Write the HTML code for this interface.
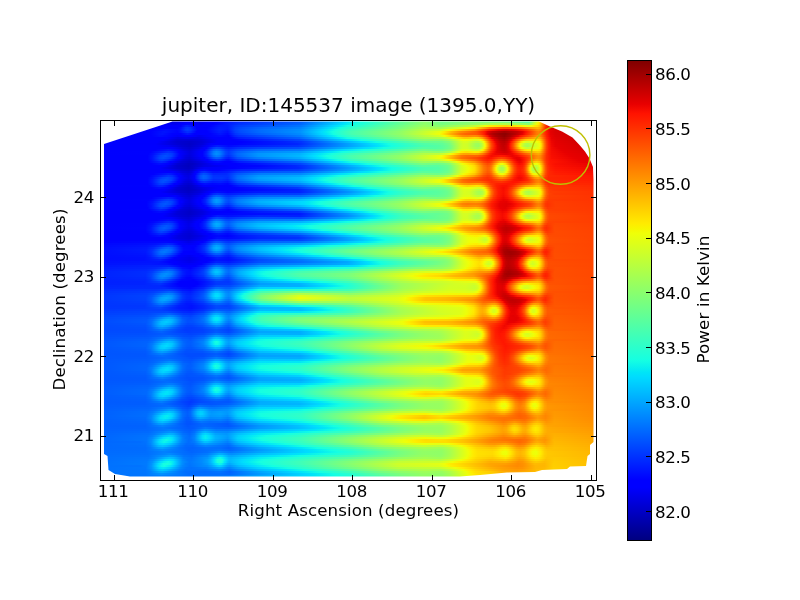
<!DOCTYPE html>
<html><head><meta charset="utf-8"><title>jupiter, ID:145537 image</title>
<style>html,body{margin:0;padding:0;background:#fff}svg{display:block}</style></head>
<body>
<svg width="800" height="600" viewBox="0 0 800 600">
<rect width="800" height="600" fill="#fff"/>
<defs><linearGradient id="jet" x1="0" y1="1" x2="0" y2="0"><stop offset="0" stop-color="#000080"/><stop offset="0.11" stop-color="#00f"/><stop offset="0.125" stop-color="#00f"/><stop offset="0.34" stop-color="#00dbff"/><stop offset="0.35" stop-color="#00e5f7"/><stop offset="0.375" stop-color="#15ffe2"/><stop offset="0.64" stop-color="#efff08"/><stop offset="0.65" stop-color="#f7f600"/><stop offset="0.66" stop-color="#ffec00"/><stop offset="0.89" stop-color="#ff1300"/><stop offset="0.91" stop-color="#e80000"/><stop offset="1" stop-color="#800000"/></linearGradient><filter id="soft" x="-5%" y="-5%" width="110%" height="110%"><feGaussianBlur stdDeviation="0.7"/></filter></defs>
<defs><linearGradient id="r0"><stop offset="0" stop-color="#00f"/><stop offset="0.108" stop-color="#00f"/><stop offset="0.151" stop-color="#0000e3"/><stop offset="0.173" stop-color="#0000fe"/><stop offset="0.197" stop-color="#0000eb"/><stop offset="0.219" stop-color="#00f"/><stop offset="0.233" stop-color="#0001ff"/><stop offset="0.274" stop-color="#0025ff"/><stop offset="0.401" stop-color="#005bff"/><stop offset="0.492" stop-color="#00daff"/><stop offset="0.5" stop-color="#00e5f7"/><stop offset="0.524" stop-color="#16ffe1"/><stop offset="0.654" stop-color="#8dff6a"/><stop offset="0.688" stop-color="#70ff87"/><stop offset="0.744" stop-color="#81ff76"/><stop offset="0.815" stop-color="#7dff7a"/><stop offset="0.862" stop-color="#5bff9c"/><stop offset="0.864" stop-color="#5cff9b"/><stop offset="0.868" stop-color="#71ff86"/><stop offset="0.876" stop-color="#c0ff37"/><stop offset="0.882" stop-color="#e9ff0d"/><stop offset="0.884" stop-color="#f8f400"/><stop offset="0.888" stop-color="#ffc800"/><stop offset="0.898" stop-color="#ff3800"/><stop offset="0.902" stop-color="#ff1400"/><stop offset="0.906" stop-color="#e60000"/><stop offset="0.912" stop-color="#d40000"/><stop offset="0.918" stop-color="#ce0000"/><stop offset="1" stop-color="#ba0000"/></linearGradient><linearGradient id="r1"><stop offset="0" stop-color="#00f"/><stop offset="0.114" stop-color="#00f"/><stop offset="0.151" stop-color="#0000ef"/><stop offset="0.163" stop-color="#00f"/><stop offset="0.175" stop-color="#0006ff"/><stop offset="0.189" stop-color="#00f"/><stop offset="0.199" stop-color="#0000f3"/><stop offset="0.215" stop-color="#00f"/><stop offset="0.227" stop-color="#00f"/><stop offset="0.278" stop-color="#0030ff"/><stop offset="0.401" stop-color="#0064ff"/><stop offset="0.484" stop-color="#00d9ff"/><stop offset="0.492" stop-color="#00e5f7"/><stop offset="0.514" stop-color="#15ffe2"/><stop offset="0.654" stop-color="#90ff67"/><stop offset="0.688" stop-color="#77ff7f"/><stop offset="0.757" stop-color="#94ff63"/><stop offset="0.787" stop-color="#aaff4d"/><stop offset="0.815" stop-color="#aeff49"/><stop offset="0.831" stop-color="#a7ff50"/><stop offset="0.864" stop-color="#87ff6f"/><stop offset="0.868" stop-color="#97ff60"/><stop offset="0.874" stop-color="#c7ff30"/><stop offset="0.88" stop-color="#eaff0d"/><stop offset="0.884" stop-color="#ffea00"/><stop offset="0.886" stop-color="#ffd900"/><stop offset="0.89" stop-color="#ffa700"/><stop offset="0.896" stop-color="#ff5100"/><stop offset="0.9" stop-color="#ff2400"/><stop offset="0.902" stop-color="#ff1400"/><stop offset="0.906" stop-color="#e80000"/><stop offset="0.912" stop-color="#d60000"/><stop offset="0.918" stop-color="#d00000"/><stop offset="1" stop-color="#b00"/></linearGradient><linearGradient id="r2"><stop offset="0" stop-color="#00f"/><stop offset="0.161" stop-color="#00f"/><stop offset="0.171" stop-color="#001dff"/><stop offset="0.175" stop-color="#0021ff"/><stop offset="0.191" stop-color="#00f"/><stop offset="0.221" stop-color="#0001ff"/><stop offset="0.239" stop-color="#0017ff"/><stop offset="0.256" stop-color="#001aff"/><stop offset="0.27" stop-color="#0034ff"/><stop offset="0.28" stop-color="#003eff"/><stop offset="0.401" stop-color="#0073ff"/><stop offset="0.472" stop-color="#00daff"/><stop offset="0.48" stop-color="#00e6f7"/><stop offset="0.498" stop-color="#15ffe1"/><stop offset="0.652" stop-color="#99ff5e"/><stop offset="0.686" stop-color="#88ff6f"/><stop offset="0.73" stop-color="#a9ff4e"/><stop offset="0.755" stop-color="#c0ff37"/><stop offset="0.777" stop-color="#eeff08"/><stop offset="0.785" stop-color="#feed00"/><stop offset="0.819" stop-color="#ffd400"/><stop offset="0.845" stop-color="#ffeb00"/><stop offset="0.856" stop-color="#f0fd07"/><stop offset="0.864" stop-color="#e2ff15"/><stop offset="0.87" stop-color="#ecff0a"/><stop offset="0.876" stop-color="#ffe900"/><stop offset="0.882" stop-color="#ffdc00"/><stop offset="0.886" stop-color="#ffc600"/><stop offset="0.89" stop-color="#ff9c00"/><stop offset="0.898" stop-color="#ff3500"/><stop offset="0.902" stop-color="#ff1400"/><stop offset="0.906" stop-color="#e90100"/><stop offset="0.912" stop-color="#d80000"/><stop offset="0.918" stop-color="#d20000"/><stop offset="1" stop-color="#bd0000"/></linearGradient><linearGradient id="r3"><stop offset="0" stop-color="#00f"/><stop offset="0.155" stop-color="#00f"/><stop offset="0.161" stop-color="#000cff"/><stop offset="0.171" stop-color="#0030ff"/><stop offset="0.175" stop-color="#0036ff"/><stop offset="0.181" stop-color="#002cff"/><stop offset="0.193" stop-color="#0001ff"/><stop offset="0.215" stop-color="#00f"/><stop offset="0.239" stop-color="#001dff"/><stop offset="0.256" stop-color="#0019ff"/><stop offset="0.272" stop-color="#003fff"/><stop offset="0.282" stop-color="#004aff"/><stop offset="0.322" stop-color="#0063ff"/><stop offset="0.401" stop-color="#0082ff"/><stop offset="0.46" stop-color="#00dbff"/><stop offset="0.468" stop-color="#02e7f5"/><stop offset="0.484" stop-color="#16ffe1"/><stop offset="0.504" stop-color="#2dffc9"/><stop offset="0.601" stop-color="#76ff81"/><stop offset="0.652" stop-color="#a7ff4f"/><stop offset="0.686" stop-color="#a4ff52"/><stop offset="0.74" stop-color="#ecff0b"/><stop offset="0.755" stop-color="#ffe800"/><stop offset="0.785" stop-color="#ff7800"/><stop offset="0.813" stop-color="#ff5100"/><stop offset="0.821" stop-color="#ff5100"/><stop offset="0.843" stop-color="#ff6500"/><stop offset="0.866" stop-color="#ff9e00"/><stop offset="0.882" stop-color="#ffb600"/><stop offset="0.886" stop-color="#ffac00"/><stop offset="0.888" stop-color="#ff9e00"/><stop offset="0.898" stop-color="#ff3000"/><stop offset="0.902" stop-color="#ff1300"/><stop offset="0.906" stop-color="#ea0100"/><stop offset="0.912" stop-color="#da0000"/><stop offset="0.918" stop-color="#d40000"/><stop offset="1" stop-color="#be0000"/></linearGradient><linearGradient id="r4"><stop offset="0" stop-color="#00f"/><stop offset="0.104" stop-color="#00f"/><stop offset="0.132" stop-color="#000eff"/><stop offset="0.153" stop-color="#0004ff"/><stop offset="0.159" stop-color="#000bff"/><stop offset="0.171" stop-color="#0036ff"/><stop offset="0.175" stop-color="#003bff"/><stop offset="0.181" stop-color="#0031ff"/><stop offset="0.195" stop-color="#00f"/><stop offset="0.213" stop-color="#00f"/><stop offset="0.239" stop-color="#0020ff"/><stop offset="0.256" stop-color="#0015ff"/><stop offset="0.27" stop-color="#003eff"/><stop offset="0.28" stop-color="#004dff"/><stop offset="0.322" stop-color="#006cff"/><stop offset="0.403" stop-color="#008fff"/><stop offset="0.449" stop-color="#00daff"/><stop offset="0.458" stop-color="#02e7f5"/><stop offset="0.474" stop-color="#17ffe0"/><stop offset="0.506" stop-color="#3effb8"/><stop offset="0.601" stop-color="#83ff74"/><stop offset="0.654" stop-color="#b9ff3e"/><stop offset="0.684" stop-color="#c7ff30"/><stop offset="0.702" stop-color="#eeff09"/><stop offset="0.71" stop-color="#ffec00"/><stop offset="0.755" stop-color="#ff9700"/><stop offset="0.785" stop-color="#ff1e00"/><stop offset="0.789" stop-color="#ff1400"/><stop offset="0.803" stop-color="#e70000"/><stop offset="0.819" stop-color="#d70000"/><stop offset="0.833" stop-color="#e70000"/><stop offset="0.845" stop-color="#fa0e00"/><stop offset="0.86" stop-color="#ff3a00"/><stop offset="0.88" stop-color="#ff8e00"/><stop offset="0.884" stop-color="#ff9500"/><stop offset="0.888" stop-color="#ff8700"/><stop offset="0.9" stop-color="#ff1c00"/><stop offset="0.906" stop-color="#ea0200"/><stop offset="0.918" stop-color="#d70000"/><stop offset="1" stop-color="#bf0000"/></linearGradient><linearGradient id="r5"><stop offset="0" stop-color="#00f"/><stop offset="0.1" stop-color="#00f"/><stop offset="0.128" stop-color="#0013ff"/><stop offset="0.155" stop-color="#0002ff"/><stop offset="0.175" stop-color="#002fff"/><stop offset="0.181" stop-color="#0026ff"/><stop offset="0.193" stop-color="#00f"/><stop offset="0.215" stop-color="#00f"/><stop offset="0.239" stop-color="#001dff"/><stop offset="0.256" stop-color="#000eff"/><stop offset="0.272" stop-color="#003fff"/><stop offset="0.28" stop-color="#004aff"/><stop offset="0.322" stop-color="#006bff"/><stop offset="0.403" stop-color="#0093ff"/><stop offset="0.445" stop-color="#00daff"/><stop offset="0.454" stop-color="#02e8f5"/><stop offset="0.468" stop-color="#15ffe2"/><stop offset="0.504" stop-color="#45ffb2"/><stop offset="0.603" stop-color="#8eff69"/><stop offset="0.686" stop-color="#eaff0d"/><stop offset="0.694" stop-color="#ffeb00"/><stop offset="0.708" stop-color="#ffba00"/><stop offset="0.726" stop-color="#ff8a00"/><stop offset="0.759" stop-color="#f50"/><stop offset="0.775" stop-color="#ff1800"/><stop offset="0.781" stop-color="#e50000"/><stop offset="0.791" stop-color="#c10000"/><stop offset="0.815" stop-color="#9f0000"/><stop offset="0.841" stop-color="#c20000"/><stop offset="0.852" stop-color="#e20000"/><stop offset="0.858" stop-color="#fd1100"/><stop offset="0.86" stop-color="#ff1900"/><stop offset="0.88" stop-color="#ff7800"/><stop offset="0.884" stop-color="#ff8200"/><stop offset="0.888" stop-color="#f70"/><stop offset="0.9" stop-color="#ff1a00"/><stop offset="0.908" stop-color="#e50000"/><stop offset="0.918" stop-color="#d90000"/><stop offset="1" stop-color="#c00000"/></linearGradient><linearGradient id="r6"><stop offset="0" stop-color="#00f"/><stop offset="0.1" stop-color="#00f"/><stop offset="0.124" stop-color="#0012ff"/><stop offset="0.144" stop-color="#0001ff"/><stop offset="0.161" stop-color="#00f"/><stop offset="0.175" stop-color="#0017ff"/><stop offset="0.189" stop-color="#00f"/><stop offset="0.221" stop-color="#0001ff"/><stop offset="0.241" stop-color="#0015ff"/><stop offset="0.256" stop-color="#0006ff"/><stop offset="0.272" stop-color="#0035ff"/><stop offset="0.28" stop-color="#0040ff"/><stop offset="0.322" stop-color="#0060ff"/><stop offset="0.403" stop-color="#008cff"/><stop offset="0.449" stop-color="#00dcfe"/><stop offset="0.456" stop-color="#01e7f6"/><stop offset="0.47" stop-color="#15ffe2"/><stop offset="0.506" stop-color="#46ffb1"/><stop offset="0.607" stop-color="#94ff63"/><stop offset="0.684" stop-color="#efff08"/><stop offset="0.69" stop-color="#feed00"/><stop offset="0.706" stop-color="#ffb100"/><stop offset="0.726" stop-color="#ff7500"/><stop offset="0.736" stop-color="#ff6400"/><stop offset="0.759" stop-color="#f50"/><stop offset="0.767" stop-color="#ff3c00"/><stop offset="0.775" stop-color="#ff1700"/><stop offset="0.779" stop-color="#eb0300"/><stop offset="0.781" stop-color="#de0000"/><stop offset="0.787" stop-color="#bf0000"/><stop offset="0.793" stop-color="#ad0000"/><stop offset="0.807" stop-color="#960000"/><stop offset="0.817" stop-color="#8f0000"/><stop offset="0.837" stop-color="#b70000"/><stop offset="0.845" stop-color="#ce0000"/><stop offset="0.852" stop-color="#e90100"/><stop offset="0.858" stop-color="#ff1800"/><stop offset="0.88" stop-color="#ff7800"/><stop offset="0.884" stop-color="#ff8100"/><stop offset="0.888" stop-color="#f70"/><stop offset="0.898" stop-color="#ff2800"/><stop offset="0.902" stop-color="#fd1200"/><stop offset="0.908" stop-color="#e70000"/><stop offset="0.918" stop-color="#db0000"/><stop offset="1" stop-color="#c10000"/></linearGradient><linearGradient id="r7"><stop offset="0" stop-color="#00f"/><stop offset="0.102" stop-color="#00f"/><stop offset="0.12" stop-color="#000cff"/><stop offset="0.144" stop-color="#00f"/><stop offset="0.155" stop-color="#0000f6"/><stop offset="0.165" stop-color="#00f"/><stop offset="0.183" stop-color="#00f"/><stop offset="0.199" stop-color="#0000ef"/><stop offset="0.217" stop-color="#00f"/><stop offset="0.241" stop-color="#0009ff"/><stop offset="0.258" stop-color="#00f"/><stop offset="0.27" stop-color="#02f"/><stop offset="0.278" stop-color="#002eff"/><stop offset="0.403" stop-color="#007cff"/><stop offset="0.458" stop-color="#00d9ff"/><stop offset="0.466" stop-color="#02e7f5"/><stop offset="0.48" stop-color="#15ffe1"/><stop offset="0.506" stop-color="#39ffbe"/><stop offset="0.603" stop-color="#88ff6f"/><stop offset="0.682" stop-color="#d5ff22"/><stop offset="0.694" stop-color="#efff08"/><stop offset="0.7" stop-color="#ffeb00"/><stop offset="0.73" stop-color="#ff8f00"/><stop offset="0.74" stop-color="#ff8700"/><stop offset="0.755" stop-color="#ff8d00"/><stop offset="0.761" stop-color="#ff8500"/><stop offset="0.769" stop-color="#ff6400"/><stop offset="0.781" stop-color="#ff1400"/><stop offset="0.785" stop-color="#e10000"/><stop offset="0.791" stop-color="#c10000"/><stop offset="0.797" stop-color="#ae0000"/><stop offset="0.815" stop-color="#920000"/><stop offset="0.827" stop-color="#a00"/><stop offset="0.843" stop-color="#e90100"/><stop offset="0.847" stop-color="#fe1200"/><stop offset="0.856" stop-color="#ff3600"/><stop offset="0.88" stop-color="#ff8e00"/><stop offset="0.884" stop-color="#ff9400"/><stop offset="0.888" stop-color="#ff8700"/><stop offset="0.9" stop-color="#ff2000"/><stop offset="0.902" stop-color="#ff1600"/><stop offset="0.908" stop-color="#ea0200"/><stop offset="0.918" stop-color="#d00"/><stop offset="1" stop-color="#c30000"/></linearGradient><linearGradient id="r8"><stop offset="0" stop-color="#00f"/><stop offset="0.134" stop-color="#00f"/><stop offset="0.155" stop-color="#0000e4"/><stop offset="0.173" stop-color="#0000ec"/><stop offset="0.195" stop-color="#0000e2"/><stop offset="0.227" stop-color="#00f"/><stop offset="0.262" stop-color="#00f"/><stop offset="0.278" stop-color="#001aff"/><stop offset="0.401" stop-color="#0062ff"/><stop offset="0.474" stop-color="#00d9ff"/><stop offset="0.482" stop-color="#01e7f6"/><stop offset="0.498" stop-color="#17ffdf"/><stop offset="0.652" stop-color="#a6ff51"/><stop offset="0.686" stop-color="#afff48"/><stop offset="0.698" stop-color="#c4ff32"/><stop offset="0.712" stop-color="#ebff0c"/><stop offset="0.716" stop-color="#f7f600"/><stop offset="0.72" stop-color="#ffe800"/><stop offset="0.734" stop-color="#ffc800"/><stop offset="0.742" stop-color="#ffc800"/><stop offset="0.755" stop-color="#ffd700"/><stop offset="0.763" stop-color="#ffcb00"/><stop offset="0.771" stop-color="#ff9d00"/><stop offset="0.785" stop-color="#ff1e00"/><stop offset="0.787" stop-color="#fb0f00"/><stop offset="0.789" stop-color="#eb0300"/><stop offset="0.791" stop-color="#df0000"/><stop offset="0.803" stop-color="#b10000"/><stop offset="0.815" stop-color="#9e0000"/><stop offset="0.825" stop-color="#b80000"/><stop offset="0.835" stop-color="#ec0300"/><stop offset="0.839" stop-color="#ff1900"/><stop offset="0.858" stop-color="#ff7c00"/><stop offset="0.882" stop-color="#ffb700"/><stop offset="0.886" stop-color="#ffb000"/><stop offset="0.888" stop-color="#ffa400"/><stop offset="0.9" stop-color="#ff2800"/><stop offset="0.904" stop-color="#fe1200"/><stop offset="0.91" stop-color="#e80100"/><stop offset="0.92" stop-color="#df0000"/><stop offset="1" stop-color="#c40000"/></linearGradient><linearGradient id="r9"><stop offset="0" stop-color="#00f"/><stop offset="0.126" stop-color="#00f"/><stop offset="0.153" stop-color="#0000d8"/><stop offset="0.183" stop-color="#0000d5"/><stop offset="0.203" stop-color="#0000dc"/><stop offset="0.235" stop-color="#00f"/><stop offset="0.268" stop-color="#00f"/><stop offset="0.401" stop-color="#0046ff"/><stop offset="0.496" stop-color="#00d9ff"/><stop offset="0.504" stop-color="#00e5f7"/><stop offset="0.526" stop-color="#17ffe0"/><stop offset="0.652" stop-color="#87ff6f"/><stop offset="0.688" stop-color="#86ff70"/><stop offset="0.704" stop-color="#a1ff56"/><stop offset="0.73" stop-color="#edff09"/><stop offset="0.74" stop-color="#f0fd06"/><stop offset="0.757" stop-color="#d7ff1f"/><stop offset="0.763" stop-color="#deff19"/><stop offset="0.767" stop-color="#eeff08"/><stop offset="0.771" stop-color="#ffe100"/><stop offset="0.785" stop-color="#f40"/><stop offset="0.791" stop-color="#ff1300"/><stop offset="0.795" stop-color="#e50000"/><stop offset="0.805" stop-color="#b00"/><stop offset="0.815" stop-color="#ac0000"/><stop offset="0.821" stop-color="#ba0000"/><stop offset="0.829" stop-color="#e80000"/><stop offset="0.833" stop-color="#ff1a00"/><stop offset="0.849" stop-color="#ff9b00"/><stop offset="0.856" stop-color="#ffc200"/><stop offset="0.862" stop-color="#ffd400"/><stop offset="0.882" stop-color="#ffdf00"/><stop offset="0.886" stop-color="#ffd400"/><stop offset="0.888" stop-color="#ffc500"/><stop offset="0.9" stop-color="#ff3200"/><stop offset="0.904" stop-color="#ff1700"/><stop offset="0.91" stop-color="#eb0300"/><stop offset="0.92" stop-color="#e10000"/><stop offset="1" stop-color="#c60000"/></linearGradient><linearGradient id="r10"><stop offset="0" stop-color="#00f"/><stop offset="0.114" stop-color="#00f"/><stop offset="0.153" stop-color="#0000d2"/><stop offset="0.179" stop-color="#0000ca"/><stop offset="0.203" stop-color="#0000d7"/><stop offset="0.235" stop-color="#00f"/><stop offset="0.284" stop-color="#00f"/><stop offset="0.371" stop-color="#0020ff"/><stop offset="0.405" stop-color="#03f"/><stop offset="0.526" stop-color="#00dbff"/><stop offset="0.534" stop-color="#00e5f7"/><stop offset="0.557" stop-color="#16ffe1"/><stop offset="0.649" stop-color="#66ff90"/><stop offset="0.688" stop-color="#6bff8c"/><stop offset="0.704" stop-color="#83ff74"/><stop offset="0.724" stop-color="#c8ff2f"/><stop offset="0.732" stop-color="#d9ff1d"/><stop offset="0.74" stop-color="#d7ff20"/><stop offset="0.755" stop-color="#b5ff42"/><stop offset="0.761" stop-color="#b0ff47"/><stop offset="0.767" stop-color="#c1ff36"/><stop offset="0.773" stop-color="#eeff08"/><stop offset="0.775" stop-color="#ffe800"/><stop offset="0.785" stop-color="#ff6300"/><stop offset="0.789" stop-color="#ff3900"/><stop offset="0.793" stop-color="#ff1a00"/><stop offset="0.797" stop-color="#ec0300"/><stop offset="0.799" stop-color="#e10000"/><stop offset="0.807" stop-color="#c20000"/><stop offset="0.815" stop-color="#b70000"/><stop offset="0.821" stop-color="#ca0000"/><stop offset="0.825" stop-color="#e40000"/><stop offset="0.827" stop-color="#f30900"/><stop offset="0.829" stop-color="#ff1800"/><stop offset="0.835" stop-color="#ff4d00"/><stop offset="0.849" stop-color="#ffe000"/><stop offset="0.854" stop-color="#edff0a"/><stop offset="0.858" stop-color="#dbff1c"/><stop offset="0.862" stop-color="#d4ff23"/><stop offset="0.882" stop-color="#eeff09"/><stop offset="0.886" stop-color="#fbf100"/><stop offset="0.888" stop-color="#ffe000"/><stop offset="0.896" stop-color="#ff6c00"/><stop offset="0.9" stop-color="#ff3a00"/><stop offset="0.904" stop-color="#ff1b00"/><stop offset="0.91" stop-color="#ee0500"/><stop offset="0.918" stop-color="#e40000"/><stop offset="1" stop-color="#c80000"/></linearGradient><linearGradient id="r11"><stop offset="0" stop-color="#00f"/><stop offset="0.11" stop-color="#0000fe"/><stop offset="0.155" stop-color="#0000d3"/><stop offset="0.179" stop-color="#0000c7"/><stop offset="0.205" stop-color="#0000dc"/><stop offset="0.223" stop-color="#00f"/><stop offset="0.272" stop-color="#00f"/><stop offset="0.397" stop-color="#0025ff"/><stop offset="0.548" stop-color="#00daff"/><stop offset="0.559" stop-color="#01e6f6"/><stop offset="0.581" stop-color="#15ffe2"/><stop offset="0.649" stop-color="#4fffa8"/><stop offset="0.69" stop-color="#60ff97"/><stop offset="0.704" stop-color="#75ff82"/><stop offset="0.724" stop-color="#c0ff37"/><stop offset="0.732" stop-color="#d2ff24"/><stop offset="0.74" stop-color="#ceff29"/><stop offset="0.757" stop-color="#9fff58"/><stop offset="0.763" stop-color="#9cff5b"/><stop offset="0.769" stop-color="#b4ff43"/><stop offset="0.775" stop-color="#ecff0b"/><stop offset="0.777" stop-color="#ffe700"/><stop offset="0.785" stop-color="#ff7400"/><stop offset="0.789" stop-color="#ff4600"/><stop offset="0.795" stop-color="#ff1800"/><stop offset="0.799" stop-color="#eb0200"/><stop offset="0.801" stop-color="#e00000"/><stop offset="0.809" stop-color="#c40000"/><stop offset="0.815" stop-color="#bf0000"/><stop offset="0.819" stop-color="#ca0000"/><stop offset="0.823" stop-color="#e20000"/><stop offset="0.825" stop-color="#f20800"/><stop offset="0.827" stop-color="#ff1700"/><stop offset="0.833" stop-color="#ff4f00"/><stop offset="0.845" stop-color="#ffe000"/><stop offset="0.847" stop-color="#f4f802"/><stop offset="0.849" stop-color="#e1ff16"/><stop offset="0.856" stop-color="#b6ff41"/><stop offset="0.862" stop-color="#a9ff4e"/><stop offset="0.886" stop-color="#ecff0a"/><stop offset="0.888" stop-color="#fdef00"/><stop offset="0.89" stop-color="#ffd600"/><stop offset="0.896" stop-color="#ff7400"/><stop offset="0.9" stop-color="#ff3f00"/><stop offset="0.904" stop-color="#ff1e00"/><stop offset="0.91" stop-color="#f00700"/><stop offset="0.918" stop-color="#e60000"/><stop offset="1" stop-color="#cb0000"/></linearGradient><linearGradient id="r12"><stop offset="0" stop-color="#00f"/><stop offset="0.112" stop-color="#00f"/><stop offset="0.136" stop-color="#0000f3"/><stop offset="0.163" stop-color="#0000d4"/><stop offset="0.179" stop-color="#0000ca"/><stop offset="0.201" stop-color="#0000e0"/><stop offset="0.217" stop-color="#00f"/><stop offset="0.235" stop-color="#001eff"/><stop offset="0.258" stop-color="#0008ff"/><stop offset="0.282" stop-color="#0015ff"/><stop offset="0.399" stop-color="#03f"/><stop offset="0.555" stop-color="#00dbff"/><stop offset="0.565" stop-color="#01e7f6"/><stop offset="0.587" stop-color="#15ffe2"/><stop offset="0.652" stop-color="#49ffad"/><stop offset="0.684" stop-color="#54ffa2"/><stop offset="0.7" stop-color="#67ff90"/><stop offset="0.708" stop-color="#7bff7c"/><stop offset="0.726" stop-color="#c6ff31"/><stop offset="0.732" stop-color="#d2ff25"/><stop offset="0.74" stop-color="#cdff2a"/><stop offset="0.757" stop-color="#9cff5b"/><stop offset="0.763" stop-color="#98ff5f"/><stop offset="0.769" stop-color="#b0ff46"/><stop offset="0.775" stop-color="#e8ff0f"/><stop offset="0.777" stop-color="#ffeb00"/><stop offset="0.785" stop-color="#ff7800"/><stop offset="0.789" stop-color="#ff4a00"/><stop offset="0.797" stop-color="#fb0f00"/><stop offset="0.801" stop-color="#e40000"/><stop offset="0.807" stop-color="#cd0000"/><stop offset="0.813" stop-color="#c20000"/><stop offset="0.819" stop-color="#cf0000"/><stop offset="0.823" stop-color="#e70000"/><stop offset="0.827" stop-color="#ff1b00"/><stop offset="0.833" stop-color="#ff5300"/><stop offset="0.845" stop-color="#ffe700"/><stop offset="0.847" stop-color="#eeff09"/><stop offset="0.852" stop-color="#c9ff2e"/><stop offset="0.856" stop-color="#afff48"/><stop offset="0.862" stop-color="#a2ff54"/><stop offset="0.886" stop-color="#eaff0d"/><stop offset="0.888" stop-color="#faf200"/><stop offset="0.89" stop-color="#ffd800"/><stop offset="0.896" stop-color="#ff7600"/><stop offset="0.9" stop-color="#ff4100"/><stop offset="0.904" stop-color="#ff2000"/><stop offset="0.91" stop-color="#f20800"/><stop offset="0.918" stop-color="#e80000"/><stop offset="1" stop-color="#cd0000"/></linearGradient><linearGradient id="r13"><stop offset="0" stop-color="#00f"/><stop offset="0.144" stop-color="#00f"/><stop offset="0.165" stop-color="#0000dc"/><stop offset="0.179" stop-color="#0000d1"/><stop offset="0.197" stop-color="#0000e6"/><stop offset="0.209" stop-color="#00f"/><stop offset="0.213" stop-color="#00f"/><stop offset="0.227" stop-color="#0038ff"/><stop offset="0.233" stop-color="#0045ff"/><stop offset="0.239" stop-color="#0041ff"/><stop offset="0.252" stop-color="#0021ff"/><stop offset="0.258" stop-color="#001cff"/><stop offset="0.276" stop-color="#002dff"/><stop offset="0.318" stop-color="#0040ff"/><stop offset="0.399" stop-color="#0050ff"/><stop offset="0.532" stop-color="#00dbff"/><stop offset="0.544" stop-color="#01e6f6"/><stop offset="0.571" stop-color="#15ffe1"/><stop offset="0.649" stop-color="#56ffa1"/><stop offset="0.676" stop-color="#54ffa2"/><stop offset="0.69" stop-color="#5cff9b"/><stop offset="0.706" stop-color="#75ff81"/><stop offset="0.724" stop-color="#c1ff36"/><stop offset="0.73" stop-color="#d2ff24"/><stop offset="0.74" stop-color="#d2ff25"/><stop offset="0.755" stop-color="#adff4a"/><stop offset="0.761" stop-color="#a6ff51"/><stop offset="0.767" stop-color="#b6ff41"/><stop offset="0.773" stop-color="#e3ff14"/><stop offset="0.775" stop-color="#f8f400"/><stop offset="0.777" stop-color="#ffda00"/><stop offset="0.785" stop-color="#ff6e00"/><stop offset="0.789" stop-color="#ff4300"/><stop offset="0.795" stop-color="#ff1800"/><stop offset="0.801" stop-color="#e50000"/><stop offset="0.809" stop-color="#cb0000"/><stop offset="0.815" stop-color="#c60000"/><stop offset="0.819" stop-color="#d00000"/><stop offset="0.823" stop-color="#e50000"/><stop offset="0.825" stop-color="#f30900"/><stop offset="0.827" stop-color="#ff1600"/><stop offset="0.833" stop-color="#ff4800"/><stop offset="0.847" stop-color="#ffe100"/><stop offset="0.849" stop-color="#f7f500"/><stop offset="0.852" stop-color="#e7ff10"/><stop offset="0.858" stop-color="#c8ff2f"/><stop offset="0.862" stop-color="#c2ff35"/><stop offset="0.884" stop-color="#eaff0d"/><stop offset="0.886" stop-color="#f3f903"/><stop offset="0.888" stop-color="#ffe800"/><stop offset="0.89" stop-color="#ffcf00"/><stop offset="0.896" stop-color="#ff7200"/><stop offset="0.9" stop-color="#ff3f00"/><stop offset="0.904" stop-color="#ff2000"/><stop offset="0.91" stop-color="#f40a00"/><stop offset="0.924" stop-color="#e70000"/><stop offset="1" stop-color="#d00000"/></linearGradient><linearGradient id="r14"><stop offset="0" stop-color="#00f"/><stop offset="0.11" stop-color="#00f"/><stop offset="0.136" stop-color="#0014ff"/><stop offset="0.155" stop-color="#00f"/><stop offset="0.167" stop-color="#0000e4"/><stop offset="0.179" stop-color="#0000d8"/><stop offset="0.203" stop-color="#0000fe"/><stop offset="0.209" stop-color="#00f"/><stop offset="0.215" stop-color="#001aff"/><stop offset="0.227" stop-color="#005dff"/><stop offset="0.233" stop-color="#006dff"/><stop offset="0.239" stop-color="#06f"/><stop offset="0.252" stop-color="#0036ff"/><stop offset="0.258" stop-color="#002dff"/><stop offset="0.276" stop-color="#0048ff"/><stop offset="0.318" stop-color="#0065ff"/><stop offset="0.403" stop-color="#0078ff"/><stop offset="0.49" stop-color="#00dbff"/><stop offset="0.53" stop-color="#15ffe2"/><stop offset="0.652" stop-color="#73ff84"/><stop offset="0.676" stop-color="#67ff90"/><stop offset="0.69" stop-color="#6bff8c"/><stop offset="0.706" stop-color="#85ff72"/><stop offset="0.724" stop-color="#cfff28"/><stop offset="0.73" stop-color="#e1ff16"/><stop offset="0.74" stop-color="#e3ff13"/><stop offset="0.759" stop-color="#c6ff30"/><stop offset="0.765" stop-color="#d2ff25"/><stop offset="0.769" stop-color="#e7ff10"/><stop offset="0.771" stop-color="#f5f702"/><stop offset="0.773" stop-color="#ffe400"/><stop offset="0.783" stop-color="#ff6e00"/><stop offset="0.789" stop-color="#ff3400"/><stop offset="0.795" stop-color="#fd1200"/><stop offset="0.801" stop-color="#e30000"/><stop offset="0.809" stop-color="#cf0000"/><stop offset="0.815" stop-color="#c90000"/><stop offset="0.819" stop-color="#d00000"/><stop offset="0.825" stop-color="#eb0200"/><stop offset="0.829" stop-color="#ff1700"/><stop offset="0.837" stop-color="#ff5100"/><stop offset="0.849" stop-color="#ffb900"/><stop offset="0.856" stop-color="#ffe000"/><stop offset="0.862" stop-color="#fbf100"/><stop offset="0.882" stop-color="#fdee00"/><stop offset="0.886" stop-color="#ffe200"/><stop offset="0.888" stop-color="#ffd300"/><stop offset="0.896" stop-color="#ff6800"/><stop offset="0.9" stop-color="#ff3a00"/><stop offset="0.904" stop-color="#ff1e00"/><stop offset="0.91" stop-color="#f50b00"/><stop offset="0.93" stop-color="#e70000"/><stop offset="1" stop-color="#d30000"/></linearGradient><linearGradient id="r15"><stop offset="0" stop-color="#00f"/><stop offset="0.1" stop-color="#0001ff"/><stop offset="0.136" stop-color="#0030ff"/><stop offset="0.144" stop-color="#0026ff"/><stop offset="0.157" stop-color="#00f"/><stop offset="0.179" stop-color="#00d"/><stop offset="0.199" stop-color="#0000fe"/><stop offset="0.205" stop-color="#00f"/><stop offset="0.213" stop-color="#001dff"/><stop offset="0.227" stop-color="#0076ff"/><stop offset="0.233" stop-color="#08f"/><stop offset="0.239" stop-color="#007fff"/><stop offset="0.252" stop-color="#0043ff"/><stop offset="0.258" stop-color="#0037ff"/><stop offset="0.276" stop-color="#005dff"/><stop offset="0.318" stop-color="#0084ff"/><stop offset="0.403" stop-color="#009bff"/><stop offset="0.458" stop-color="#00dcff"/><stop offset="0.466" stop-color="#00e5f7"/><stop offset="0.488" stop-color="#15ffe2"/><stop offset="0.569" stop-color="#4effa9"/><stop offset="0.652" stop-color="#94ff63"/><stop offset="0.68" stop-color="#8bff6c"/><stop offset="0.69" stop-color="#8fff68"/><stop offset="0.704" stop-color="#a7ff50"/><stop offset="0.722" stop-color="#ebff0c"/><stop offset="0.728" stop-color="#ffec00"/><stop offset="0.738" stop-color="#ffe000"/><stop offset="0.755" stop-color="#f9f200"/><stop offset="0.763" stop-color="#ffe900"/><stop offset="0.771" stop-color="#ffbc00"/><stop offset="0.787" stop-color="#ff2d00"/><stop offset="0.793" stop-color="#fc1000"/><stop offset="0.799" stop-color="#e80000"/><stop offset="0.815" stop-color="#d00000"/><stop offset="0.821" stop-color="#d70000"/><stop offset="0.827" stop-color="#ea0200"/><stop offset="0.833" stop-color="#ff1a00"/><stop offset="0.856" stop-color="#ff9600"/><stop offset="0.862" stop-color="#ffa800"/><stop offset="0.882" stop-color="#ffca00"/><stop offset="0.886" stop-color="#ffc300"/><stop offset="0.888" stop-color="#ffb600"/><stop offset="0.9" stop-color="#ff3400"/><stop offset="0.904" stop-color="#ff1d00"/><stop offset="0.91" stop-color="#f60c00"/><stop offset="0.936" stop-color="#e70000"/><stop offset="1" stop-color="#d60000"/></linearGradient><linearGradient id="r16"><stop offset="0" stop-color="#00f"/><stop offset="0.096" stop-color="#0001ff"/><stop offset="0.106" stop-color="#0010ff"/><stop offset="0.124" stop-color="#003bff"/><stop offset="0.134" stop-color="#0046ff"/><stop offset="0.144" stop-color="#0037ff"/><stop offset="0.159" stop-color="#00f"/><stop offset="0.179" stop-color="#0000df"/><stop offset="0.199" stop-color="#00f"/><stop offset="0.205" stop-color="#0001ff"/><stop offset="0.213" stop-color="#02f"/><stop offset="0.227" stop-color="#007cff"/><stop offset="0.233" stop-color="#008fff"/><stop offset="0.239" stop-color="#0085ff"/><stop offset="0.252" stop-color="#04f"/><stop offset="0.258" stop-color="#0037ff"/><stop offset="0.276" stop-color="#0067ff"/><stop offset="0.318" stop-color="#0095ff"/><stop offset="0.401" stop-color="#00b1ff"/><stop offset="0.435" stop-color="#00dbff"/><stop offset="0.443" stop-color="#00e5f7"/><stop offset="0.466" stop-color="#16ffe0"/><stop offset="0.504" stop-color="#3cffbb"/><stop offset="0.603" stop-color="#81ff75"/><stop offset="0.652" stop-color="#b2ff45"/><stop offset="0.684" stop-color="#beff39"/><stop offset="0.694" stop-color="#cdff2a"/><stop offset="0.706" stop-color="#ecff0b"/><stop offset="0.712" stop-color="#ffea00"/><stop offset="0.726" stop-color="#ffb400"/><stop offset="0.732" stop-color="#ffa600"/><stop offset="0.742" stop-color="#ffa200"/><stop offset="0.755" stop-color="#ffa900"/><stop offset="0.763" stop-color="#ff9e00"/><stop offset="0.771" stop-color="#ff7a00"/><stop offset="0.785" stop-color="#ff2100"/><stop offset="0.791" stop-color="#f70d00"/><stop offset="0.797" stop-color="#ee0500"/><stop offset="0.819" stop-color="#e00000"/><stop offset="0.831" stop-color="#ee0500"/><stop offset="0.837" stop-color="#ff1300"/><stop offset="0.858" stop-color="#ff6000"/><stop offset="0.88" stop-color="#ffa300"/><stop offset="0.884" stop-color="#ffa800"/><stop offset="0.888" stop-color="#f90"/><stop offset="0.9" stop-color="#ff2e00"/><stop offset="0.904" stop-color="#ff1b00"/><stop offset="0.91" stop-color="#f70d00"/><stop offset="0.942" stop-color="#e80000"/><stop offset="1" stop-color="#d90000"/></linearGradient><linearGradient id="r17"><stop offset="0" stop-color="#00f"/><stop offset="0.094" stop-color="#00f"/><stop offset="0.104" stop-color="#0012ff"/><stop offset="0.12" stop-color="#0043ff"/><stop offset="0.13" stop-color="#0050ff"/><stop offset="0.142" stop-color="#0040ff"/><stop offset="0.157" stop-color="#0003ff"/><stop offset="0.159" stop-color="#00f"/><stop offset="0.171" stop-color="#0000e4"/><stop offset="0.179" stop-color="#0000dc"/><stop offset="0.199" stop-color="#0000fe"/><stop offset="0.205" stop-color="#00f"/><stop offset="0.213" stop-color="#001bff"/><stop offset="0.227" stop-color="#006dff"/><stop offset="0.233" stop-color="#007eff"/><stop offset="0.239" stop-color="#0076ff"/><stop offset="0.252" stop-color="#0039ff"/><stop offset="0.258" stop-color="#002eff"/><stop offset="0.276" stop-color="#0062ff"/><stop offset="0.318" stop-color="#0094ff"/><stop offset="0.401" stop-color="#00b7ff"/><stop offset="0.429" stop-color="#00dcfe"/><stop offset="0.437" stop-color="#01e7f6"/><stop offset="0.456" stop-color="#15ffe2"/><stop offset="0.504" stop-color="#48ffaf"/><stop offset="0.605" stop-color="#92ff65"/><stop offset="0.688" stop-color="#efff08"/><stop offset="0.694" stop-color="#ffec00"/><stop offset="0.728" stop-color="#ff7900"/><stop offset="0.738" stop-color="#ff6b00"/><stop offset="0.761" stop-color="#ff6200"/><stop offset="0.769" stop-color="#ff4c00"/><stop offset="0.783" stop-color="#ff1600"/><stop offset="0.789" stop-color="#f70c00"/><stop offset="0.807" stop-color="#ff1900"/><stop offset="0.815" stop-color="#ff1400"/><stop offset="0.831" stop-color="#eb0300"/><stop offset="0.841" stop-color="#f30900"/><stop offset="0.847" stop-color="#ff1600"/><stop offset="0.864" stop-color="#ff4c00"/><stop offset="0.878" stop-color="#ff8600"/><stop offset="0.884" stop-color="#ff9200"/><stop offset="0.888" stop-color="#ff8600"/><stop offset="0.9" stop-color="#ff2b00"/><stop offset="0.91" stop-color="#f90e00"/><stop offset="0.948" stop-color="#e80000"/><stop offset="1" stop-color="#db0000"/></linearGradient><linearGradient id="r18"><stop offset="0" stop-color="#00f"/><stop offset="0.094" stop-color="#00f"/><stop offset="0.104" stop-color="#0014ff"/><stop offset="0.118" stop-color="#0043ff"/><stop offset="0.126" stop-color="#004dff"/><stop offset="0.138" stop-color="#003dff"/><stop offset="0.155" stop-color="#00f"/><stop offset="0.159" stop-color="#0000fe"/><stop offset="0.171" stop-color="#0000de"/><stop offset="0.179" stop-color="#0000d6"/><stop offset="0.203" stop-color="#0000fd"/><stop offset="0.209" stop-color="#00f"/><stop offset="0.215" stop-color="#0014ff"/><stop offset="0.227" stop-color="#004dff"/><stop offset="0.233" stop-color="#005cff"/><stop offset="0.239" stop-color="#0057ff"/><stop offset="0.252" stop-color="#0026ff"/><stop offset="0.258" stop-color="#001dff"/><stop offset="0.276" stop-color="#004fff"/><stop offset="0.316" stop-color="#007dff"/><stop offset="0.401" stop-color="#0af"/><stop offset="0.435" stop-color="#00daff"/><stop offset="0.443" stop-color="#00e5f7"/><stop offset="0.462" stop-color="#15ffe2"/><stop offset="0.506" stop-color="#46ffb1"/><stop offset="0.607" stop-color="#95ff61"/><stop offset="0.684" stop-color="#ecff0b"/><stop offset="0.692" stop-color="#ffec00"/><stop offset="0.728" stop-color="#ff7000"/><stop offset="0.759" stop-color="#ff4800"/><stop offset="0.783" stop-color="#fe1200"/><stop offset="0.789" stop-color="#ff1500"/><stop offset="0.803" stop-color="#ff3c00"/><stop offset="0.809" stop-color="#ff4300"/><stop offset="0.815" stop-color="#ff3b00"/><stop offset="0.827" stop-color="#ff1600"/><stop offset="0.833" stop-color="#f00700"/><stop offset="0.839" stop-color="#e80000"/><stop offset="0.845" stop-color="#ea0200"/><stop offset="0.854" stop-color="#ff1500"/><stop offset="0.862" stop-color="#ff3500"/><stop offset="0.876" stop-color="#ff7f00"/><stop offset="0.88" stop-color="#ff8e00"/><stop offset="0.884" stop-color="#ff9100"/><stop offset="0.888" stop-color="#ff8300"/><stop offset="0.9" stop-color="#ff2a00"/><stop offset="0.91" stop-color="#fa0f00"/><stop offset="0.957" stop-color="#e80000"/><stop offset="1" stop-color="#de0000"/></linearGradient><linearGradient id="r19"><stop offset="0" stop-color="#00f"/><stop offset="0.094" stop-color="#00f"/><stop offset="0.102" stop-color="#000dff"/><stop offset="0.118" stop-color="#0039ff"/><stop offset="0.124" stop-color="#003eff"/><stop offset="0.134" stop-color="#002fff"/><stop offset="0.151" stop-color="#00f"/><stop offset="0.167" stop-color="#0000da"/><stop offset="0.179" stop-color="#0000ce"/><stop offset="0.211" stop-color="#00f"/><stop offset="0.215" stop-color="#00f"/><stop offset="0.227" stop-color="#0027ff"/><stop offset="0.235" stop-color="#03f"/><stop offset="0.241" stop-color="#002cff"/><stop offset="0.254" stop-color="#000bff"/><stop offset="0.258" stop-color="#000aff"/><stop offset="0.276" stop-color="#0034ff"/><stop offset="0.318" stop-color="#005dff"/><stop offset="0.403" stop-color="#008fff"/><stop offset="0.456" stop-color="#00dcfe"/><stop offset="0.462" stop-color="#00e5f7"/><stop offset="0.48" stop-color="#15ffe1"/><stop offset="0.506" stop-color="#34ffc3"/><stop offset="0.603" stop-color="#85ff71"/><stop offset="0.652" stop-color="#b7ff40"/><stop offset="0.684" stop-color="#caff2d"/><stop offset="0.702" stop-color="#f0fd07"/><stop offset="0.708" stop-color="#ffe800"/><stop offset="0.73" stop-color="#ff9500"/><stop offset="0.755" stop-color="#ff6400"/><stop offset="0.773" stop-color="#ff2e00"/><stop offset="0.781" stop-color="#ff1f00"/><stop offset="0.789" stop-color="#ff2a00"/><stop offset="0.803" stop-color="#ff6e00"/><stop offset="0.809" stop-color="#ff7c00"/><stop offset="0.817" stop-color="#ff6800"/><stop offset="0.833" stop-color="#ff1400"/><stop offset="0.835" stop-color="#f80d00"/><stop offset="0.841" stop-color="#e80000"/><stop offset="0.847" stop-color="#e80000"/><stop offset="0.856" stop-color="#ff1800"/><stop offset="0.862" stop-color="#ff3900"/><stop offset="0.874" stop-color="#ff9000"/><stop offset="0.878" stop-color="#ffa200"/><stop offset="0.882" stop-color="#ffa900"/><stop offset="0.888" stop-color="#ff9300"/><stop offset="0.896" stop-color="#ff4800"/><stop offset="0.9" stop-color="#ff2c00"/><stop offset="0.908" stop-color="#ff1300"/><stop offset="0.965" stop-color="#e80000"/><stop offset="1" stop-color="#e10000"/></linearGradient><linearGradient id="r20"><stop offset="0" stop-color="#00f"/><stop offset="0.096" stop-color="#00f"/><stop offset="0.122" stop-color="#0026ff"/><stop offset="0.13" stop-color="#001bff"/><stop offset="0.14" stop-color="#00f"/><stop offset="0.144" stop-color="#00f"/><stop offset="0.163" stop-color="#0000d4"/><stop offset="0.179" stop-color="#0000c6"/><stop offset="0.201" stop-color="#0000df"/><stop offset="0.219" stop-color="#00f"/><stop offset="0.237" stop-color="#000dff"/><stop offset="0.249" stop-color="#00f"/><stop offset="0.262" stop-color="#00f"/><stop offset="0.28" stop-color="#001aff"/><stop offset="0.403" stop-color="#0068ff"/><stop offset="0.48" stop-color="#00dbff"/><stop offset="0.488" stop-color="#01e7f6"/><stop offset="0.506" stop-color="#17ffe0"/><stop offset="0.652" stop-color="#9bff5c"/><stop offset="0.68" stop-color="#96ff61"/><stop offset="0.69" stop-color="#9bff5c"/><stop offset="0.704" stop-color="#b5ff42"/><stop offset="0.718" stop-color="#e9ff0d"/><stop offset="0.724" stop-color="#ffea00"/><stop offset="0.732" stop-color="#ffcd00"/><stop offset="0.755" stop-color="#ff9500"/><stop offset="0.773" stop-color="#ff4700"/><stop offset="0.781" stop-color="#ff3400"/><stop offset="0.785" stop-color="#ff3700"/><stop offset="0.789" stop-color="#ff4700"/><stop offset="0.805" stop-color="#ffb400"/><stop offset="0.811" stop-color="#ffbd00"/><stop offset="0.817" stop-color="#ffa400"/><stop offset="0.833" stop-color="#ff2800"/><stop offset="0.839" stop-color="#f80d00"/><stop offset="0.845" stop-color="#eb0300"/><stop offset="0.849" stop-color="#f00700"/><stop offset="0.856" stop-color="#ff1f00"/><stop offset="0.862" stop-color="#ff4d00"/><stop offset="0.872" stop-color="#ffb300"/><stop offset="0.876" stop-color="#ffca00"/><stop offset="0.88" stop-color="#ffd300"/><stop offset="0.886" stop-color="#ffc000"/><stop offset="0.89" stop-color="#ff9a00"/><stop offset="0.896" stop-color="#ff5200"/><stop offset="0.9" stop-color="#ff3100"/><stop offset="0.908" stop-color="#ff1500"/><stop offset="0.973" stop-color="#e80000"/><stop offset="1" stop-color="#e40000"/></linearGradient><linearGradient id="r21"><stop offset="0" stop-color="#00f"/><stop offset="0.102" stop-color="#00f"/><stop offset="0.118" stop-color="#000dff"/><stop offset="0.136" stop-color="#00f"/><stop offset="0.155" stop-color="#0000d4"/><stop offset="0.177" stop-color="#0000c0"/><stop offset="0.185" stop-color="#0000c4"/><stop offset="0.231" stop-color="#00f"/><stop offset="0.272" stop-color="#00f"/><stop offset="0.314" stop-color="#0013ff"/><stop offset="0.403" stop-color="#04f"/><stop offset="0.508" stop-color="#00d9ff"/><stop offset="0.518" stop-color="#01e7f6"/><stop offset="0.538" stop-color="#16ffe1"/><stop offset="0.649" stop-color="#78ff7f"/><stop offset="0.68" stop-color="#6dff89"/><stop offset="0.694" stop-color="#75ff82"/><stop offset="0.706" stop-color="#8cff6b"/><stop offset="0.73" stop-color="#edff0a"/><stop offset="0.738" stop-color="#ffec00"/><stop offset="0.753" stop-color="#ffc800"/><stop offset="0.773" stop-color="#ff6200"/><stop offset="0.781" stop-color="#ff4a00"/><stop offset="0.787" stop-color="#ff5700"/><stop offset="0.791" stop-color="#ff7300"/><stop offset="0.803" stop-color="#ffe500"/><stop offset="0.807" stop-color="#f2fb05"/><stop offset="0.811" stop-color="#efff08"/><stop offset="0.817" stop-color="#ffe000"/><stop offset="0.829" stop-color="#ff6100"/><stop offset="0.835" stop-color="#ff2f00"/><stop offset="0.841" stop-color="#fe1200"/><stop offset="0.845" stop-color="#f50b00"/><stop offset="0.852" stop-color="#ff1500"/><stop offset="0.856" stop-color="#ff2c00"/><stop offset="0.86" stop-color="#ff5100"/><stop offset="0.868" stop-color="#ffbe00"/><stop offset="0.872" stop-color="#ffec00"/><stop offset="0.874" stop-color="#f3fa04"/><stop offset="0.88" stop-color="#ebff0c"/><stop offset="0.882" stop-color="#f0fd07"/><stop offset="0.886" stop-color="#ffe300"/><stop offset="0.89" stop-color="#ffb400"/><stop offset="0.896" stop-color="#ff5f00"/><stop offset="0.9" stop-color="#ff3700"/><stop offset="0.904" stop-color="#f20"/><stop offset="0.908" stop-color="#ff1700"/><stop offset="0.918" stop-color="#fa0f00"/><stop offset="1" stop-color="#e70000"/></linearGradient><linearGradient id="r22"><stop offset="0" stop-color="#00f"/><stop offset="0.128" stop-color="#00f"/><stop offset="0.153" stop-color="#0000cf"/><stop offset="0.177" stop-color="#0000be"/><stop offset="0.209" stop-color="#0000e6"/><stop offset="0.262" stop-color="#00f"/><stop offset="0.318" stop-color="#0006ff"/><stop offset="0.393" stop-color="#0025ff"/><stop offset="0.413" stop-color="#0037ff"/><stop offset="0.538" stop-color="#00dbff"/><stop offset="0.546" stop-color="#00e6f7"/><stop offset="0.567" stop-color="#15ffe2"/><stop offset="0.649" stop-color="#5aff9d"/><stop offset="0.68" stop-color="#58ff9f"/><stop offset="0.698" stop-color="#67ff8f"/><stop offset="0.706" stop-color="#77ff7f"/><stop offset="0.728" stop-color="#d4ff22"/><stop offset="0.738" stop-color="#ecff0a"/><stop offset="0.748" stop-color="#ffea00"/><stop offset="0.755" stop-color="#ffd900"/><stop offset="0.773" stop-color="#ff7300"/><stop offset="0.781" stop-color="#ff5a00"/><stop offset="0.785" stop-color="#ff6000"/><stop offset="0.789" stop-color="#ff7900"/><stop offset="0.799" stop-color="#ffea00"/><stop offset="0.801" stop-color="#eeff09"/><stop offset="0.805" stop-color="#ceff28"/><stop offset="0.809" stop-color="#c0ff37"/><stop offset="0.813" stop-color="#c6ff31"/><stop offset="0.817" stop-color="#e0ff17"/><stop offset="0.819" stop-color="#f2fb04"/><stop offset="0.821" stop-color="#ffe200"/><stop offset="0.829" stop-color="#ff7b00"/><stop offset="0.835" stop-color="#ff3f00"/><stop offset="0.841" stop-color="#ff1d00"/><stop offset="0.845" stop-color="#ff1400"/><stop offset="0.852" stop-color="#ff1e00"/><stop offset="0.856" stop-color="#ff3900"/><stop offset="0.86" stop-color="#ff6700"/><stop offset="0.868" stop-color="#ffec00"/><stop offset="0.87" stop-color="#e6ff11"/><stop offset="0.874" stop-color="#c6ff31"/><stop offset="0.878" stop-color="#c1ff35"/><stop offset="0.882" stop-color="#d0ff26"/><stop offset="0.886" stop-color="#eeff09"/><stop offset="0.888" stop-color="#ffe700"/><stop offset="0.898" stop-color="#ff5000"/><stop offset="0.902" stop-color="#ff2f00"/><stop offset="0.908" stop-color="#ff1a00"/><stop offset="0.918" stop-color="#fd1100"/><stop offset="1" stop-color="#ea0200"/></linearGradient><linearGradient id="r23"><stop offset="0" stop-color="#00f"/><stop offset="0.118" stop-color="#00f"/><stop offset="0.155" stop-color="#0000d0"/><stop offset="0.177" stop-color="#0000c2"/><stop offset="0.185" stop-color="#0000c9"/><stop offset="0.201" stop-color="#0000ef"/><stop offset="0.209" stop-color="#0000f9"/><stop offset="0.266" stop-color="#00f"/><stop offset="0.399" stop-color="#0026ff"/><stop offset="0.557" stop-color="#00dcff"/><stop offset="0.565" stop-color="#00e5f7"/><stop offset="0.587" stop-color="#15ffe2"/><stop offset="0.649" stop-color="#48ffaf"/><stop offset="0.682" stop-color="#52ffa5"/><stop offset="0.7" stop-color="#65ff91"/><stop offset="0.708" stop-color="#7aff7d"/><stop offset="0.728" stop-color="#d0ff27"/><stop offset="0.742" stop-color="#effe08"/><stop offset="0.755" stop-color="#ffe000"/><stop offset="0.773" stop-color="#ff7900"/><stop offset="0.781" stop-color="#ff6100"/><stop offset="0.785" stop-color="#ff6900"/><stop offset="0.789" stop-color="#ff8400"/><stop offset="0.797" stop-color="#ffe600"/><stop offset="0.799" stop-color="#eeff09"/><stop offset="0.805" stop-color="#b6ff41"/><stop offset="0.809" stop-color="#a6ff51"/><stop offset="0.813" stop-color="#acff4b"/><stop offset="0.819" stop-color="#dcff1b"/><stop offset="0.821" stop-color="#f3fa04"/><stop offset="0.823" stop-color="#fd0"/><stop offset="0.829" stop-color="#ff8a00"/><stop offset="0.835" stop-color="#ff4900"/><stop offset="0.841" stop-color="#ff2400"/><stop offset="0.845" stop-color="#ff1a00"/><stop offset="0.852" stop-color="#ff2500"/><stop offset="0.856" stop-color="#ff4200"/><stop offset="0.86" stop-color="#ff7500"/><stop offset="0.866" stop-color="#ffe300"/><stop offset="0.868" stop-color="#e7ff10"/><stop offset="0.872" stop-color="#b7ff3f"/><stop offset="0.876" stop-color="#a8ff4f"/><stop offset="0.88" stop-color="#b3ff43"/><stop offset="0.886" stop-color="#e1ff16"/><stop offset="0.888" stop-color="#f8f400"/><stop offset="0.89" stop-color="#ffd500"/><stop offset="0.894" stop-color="#ff9000"/><stop offset="0.898" stop-color="#f50"/><stop offset="0.902" stop-color="#f30"/><stop offset="0.908" stop-color="#ff1d00"/><stop offset="0.918" stop-color="#ff1400"/><stop offset="1" stop-color="#ef0600"/></linearGradient><linearGradient id="r24"><stop offset="0" stop-color="#00f"/><stop offset="0.12" stop-color="#0000fe"/><stop offset="0.136" stop-color="#0000f6"/><stop offset="0.163" stop-color="#0000d2"/><stop offset="0.177" stop-color="#0000c9"/><stop offset="0.185" stop-color="#0000d5"/><stop offset="0.197" stop-color="#00f"/><stop offset="0.209" stop-color="#0009ff"/><stop offset="0.221" stop-color="#00f"/><stop offset="0.239" stop-color="#00f"/><stop offset="0.284" stop-color="#0020ff"/><stop offset="0.399" stop-color="#003aff"/><stop offset="0.555" stop-color="#00dbff"/><stop offset="0.565" stop-color="#01e6f6"/><stop offset="0.587" stop-color="#15ffe2"/><stop offset="0.649" stop-color="#48ffaf"/><stop offset="0.684" stop-color="#54ffa3"/><stop offset="0.7" stop-color="#65ff91"/><stop offset="0.708" stop-color="#7aff7d"/><stop offset="0.728" stop-color="#d0ff27"/><stop offset="0.742" stop-color="#effe08"/><stop offset="0.746" stop-color="#f7f600"/><stop offset="0.755" stop-color="#ffe000"/><stop offset="0.773" stop-color="#ff7a00"/><stop offset="0.781" stop-color="#ff6100"/><stop offset="0.785" stop-color="#ff6900"/><stop offset="0.789" stop-color="#ff8500"/><stop offset="0.797" stop-color="#ffe600"/><stop offset="0.799" stop-color="#eeff09"/><stop offset="0.805" stop-color="#b6ff40"/><stop offset="0.809" stop-color="#a6ff51"/><stop offset="0.813" stop-color="#acff4a"/><stop offset="0.819" stop-color="#dcff1b"/><stop offset="0.821" stop-color="#f3fa04"/><stop offset="0.823" stop-color="#ffde00"/><stop offset="0.829" stop-color="#ff8b00"/><stop offset="0.835" stop-color="#ff4b00"/><stop offset="0.841" stop-color="#ff2600"/><stop offset="0.847" stop-color="#ff1c00"/><stop offset="0.854" stop-color="#f30"/><stop offset="0.858" stop-color="#ff5a00"/><stop offset="0.862" stop-color="#ff9700"/><stop offset="0.866" stop-color="#ffe300"/><stop offset="0.868" stop-color="#e7ff0f"/><stop offset="0.872" stop-color="#b8ff3f"/><stop offset="0.876" stop-color="#a8ff4f"/><stop offset="0.88" stop-color="#b4ff43"/><stop offset="0.886" stop-color="#e1ff16"/><stop offset="0.888" stop-color="#f8f500"/><stop offset="0.89" stop-color="#ffd600"/><stop offset="0.894" stop-color="#ff9100"/><stop offset="0.898" stop-color="#ff5700"/><stop offset="0.902" stop-color="#ff3400"/><stop offset="0.908" stop-color="#ff2000"/><stop offset="0.918" stop-color="#ff1700"/><stop offset="1" stop-color="#f30900"/></linearGradient><linearGradient id="r25"><stop offset="0" stop-color="#00f"/><stop offset="0.146" stop-color="#00f"/><stop offset="0.165" stop-color="#0000dc"/><stop offset="0.177" stop-color="#0000d3"/><stop offset="0.183" stop-color="#0000dc"/><stop offset="0.191" stop-color="#00f"/><stop offset="0.195" stop-color="#0004ff"/><stop offset="0.203" stop-color="#0026ff"/><stop offset="0.209" stop-color="#002eff"/><stop offset="0.225" stop-color="#0013ff"/><stop offset="0.233" stop-color="#01f"/><stop offset="0.256" stop-color="#001cff"/><stop offset="0.276" stop-color="#003aff"/><stop offset="0.318" stop-color="#0053ff"/><stop offset="0.403" stop-color="#0060ff"/><stop offset="0.526" stop-color="#00dbff"/><stop offset="0.538" stop-color="#00e6f6"/><stop offset="0.565" stop-color="#15ffe2"/><stop offset="0.649" stop-color="#5aff9d"/><stop offset="0.682" stop-color="#59ff9e"/><stop offset="0.7" stop-color="#6aff8d"/><stop offset="0.708" stop-color="#7eff79"/><stop offset="0.728" stop-color="#d4ff23"/><stop offset="0.74" stop-color="#f0fe07"/><stop offset="0.748" stop-color="#ffeb00"/><stop offset="0.755" stop-color="#ffda00"/><stop offset="0.773" stop-color="#ff7400"/><stop offset="0.781" stop-color="#ff5b00"/><stop offset="0.785" stop-color="#ff6100"/><stop offset="0.789" stop-color="#ff7a00"/><stop offset="0.799" stop-color="#ffeb00"/><stop offset="0.801" stop-color="#edff0a"/><stop offset="0.805" stop-color="#ceff29"/><stop offset="0.809" stop-color="#bfff37"/><stop offset="0.813" stop-color="#c5ff31"/><stop offset="0.817" stop-color="#dfff18"/><stop offset="0.819" stop-color="#f1fc06"/><stop offset="0.821" stop-color="#ffe400"/><stop offset="0.829" stop-color="#ff7f00"/><stop offset="0.835" stop-color="#ff4500"/><stop offset="0.841" stop-color="#ff2300"/><stop offset="0.847" stop-color="#ff1a00"/><stop offset="0.854" stop-color="#ff2e00"/><stop offset="0.858" stop-color="#ff5000"/><stop offset="0.862" stop-color="#ff8700"/><stop offset="0.868" stop-color="#ffeb00"/><stop offset="0.87" stop-color="#e6ff10"/><stop offset="0.874" stop-color="#c6ff30"/><stop offset="0.878" stop-color="#c2ff35"/><stop offset="0.882" stop-color="#d0ff27"/><stop offset="0.886" stop-color="#edff0a"/><stop offset="0.888" stop-color="#ffe800"/><stop offset="0.896" stop-color="#ff6c00"/><stop offset="0.898" stop-color="#ff5400"/><stop offset="0.902" stop-color="#ff3400"/><stop offset="0.906" stop-color="#ff2600"/><stop offset="0.918" stop-color="#ff1b00"/><stop offset="1" stop-color="#f80d00"/></linearGradient><linearGradient id="r26"><stop offset="0" stop-color="#00f"/><stop offset="0.106" stop-color="#00f"/><stop offset="0.136" stop-color="#001aff"/><stop offset="0.142" stop-color="#0015ff"/><stop offset="0.153" stop-color="#00f"/><stop offset="0.157" stop-color="#00f"/><stop offset="0.165" stop-color="#0000e9"/><stop offset="0.175" stop-color="#0000dc"/><stop offset="0.181" stop-color="#0000e2"/><stop offset="0.189" stop-color="#00f"/><stop offset="0.191" stop-color="#0002ff"/><stop offset="0.201" stop-color="#003dff"/><stop offset="0.207" stop-color="#004fff"/><stop offset="0.213" stop-color="#0049ff"/><stop offset="0.227" stop-color="#0025ff"/><stop offset="0.254" stop-color="#0029ff"/><stop offset="0.274" stop-color="#0053ff"/><stop offset="0.31" stop-color="#0073ff"/><stop offset="0.324" stop-color="#007cff"/><stop offset="0.403" stop-color="#08f"/><stop offset="0.482" stop-color="#00dbff"/><stop offset="0.492" stop-color="#00e5f7"/><stop offset="0.52" stop-color="#15ffe2"/><stop offset="0.649" stop-color="#78ff7f"/><stop offset="0.68" stop-color="#6dff8a"/><stop offset="0.694" stop-color="#75ff82"/><stop offset="0.706" stop-color="#8aff6d"/><stop offset="0.732" stop-color="#f0fe07"/><stop offset="0.74" stop-color="#ffea00"/><stop offset="0.755" stop-color="#ffc500"/><stop offset="0.773" stop-color="#f60"/><stop offset="0.781" stop-color="#ff4f00"/><stop offset="0.785" stop-color="#ff5300"/><stop offset="0.789" stop-color="#ff6700"/><stop offset="0.803" stop-color="#ffe700"/><stop offset="0.805" stop-color="#f8f400"/><stop offset="0.807" stop-color="#f0fe07"/><stop offset="0.811" stop-color="#edff0a"/><stop offset="0.813" stop-color="#f1fc05"/><stop offset="0.817" stop-color="#ffe300"/><stop offset="0.829" stop-color="#ff6900"/><stop offset="0.835" stop-color="#ff3800"/><stop offset="0.841" stop-color="#ff1b00"/><stop offset="0.847" stop-color="#ff1400"/><stop offset="0.854" stop-color="#ff2400"/><stop offset="0.858" stop-color="#ff3f00"/><stop offset="0.862" stop-color="#ff6a00"/><stop offset="0.87" stop-color="#ffd500"/><stop offset="0.872" stop-color="#ffea00"/><stop offset="0.874" stop-color="#f4f802"/><stop offset="0.88" stop-color="#ebff0c"/><stop offset="0.882" stop-color="#f0fe07"/><stop offset="0.886" stop-color="#ffe400"/><stop offset="0.898" stop-color="#ff4d00"/><stop offset="0.902" stop-color="#ff3200"/><stop offset="0.906" stop-color="#ff2600"/><stop offset="0.918" stop-color="#ff1e00"/><stop offset="1" stop-color="#fd1100"/></linearGradient><linearGradient id="r27"><stop offset="0" stop-color="#00f"/><stop offset="0.098" stop-color="#00f"/><stop offset="0.136" stop-color="#0036ff"/><stop offset="0.144" stop-color="#002cff"/><stop offset="0.157" stop-color="#00f"/><stop offset="0.161" stop-color="#00f"/><stop offset="0.169" stop-color="#0000e9"/><stop offset="0.177" stop-color="#0000e2"/><stop offset="0.189" stop-color="#00f"/><stop offset="0.201" stop-color="#0050ff"/><stop offset="0.207" stop-color="#0063ff"/><stop offset="0.213" stop-color="#005cff"/><stop offset="0.227" stop-color="#0032ff"/><stop offset="0.254" stop-color="#0030ff"/><stop offset="0.258" stop-color="#0034ff"/><stop offset="0.276" stop-color="#0068ff"/><stop offset="0.318" stop-color="#0096ff"/><stop offset="0.401" stop-color="#00a9ff"/><stop offset="0.447" stop-color="#00dcfe"/><stop offset="0.456" stop-color="#00e5f7"/><stop offset="0.48" stop-color="#16ffe1"/><stop offset="0.569" stop-color="#56ffa1"/><stop offset="0.652" stop-color="#9cff5b"/><stop offset="0.69" stop-color="#9aff5d"/><stop offset="0.704" stop-color="#b2ff45"/><stop offset="0.72" stop-color="#edff0a"/><stop offset="0.726" stop-color="#ffe600"/><stop offset="0.753" stop-color="#ffa100"/><stop offset="0.773" stop-color="#ff5000"/><stop offset="0.781" stop-color="#ff3e00"/><stop offset="0.785" stop-color="#ff4100"/><stop offset="0.789" stop-color="#ff5000"/><stop offset="0.805" stop-color="#ffba00"/><stop offset="0.811" stop-color="#ffc300"/><stop offset="0.817" stop-color="#ffab00"/><stop offset="0.829" stop-color="#ff4e00"/><stop offset="0.835" stop-color="#ff2800"/><stop offset="0.841" stop-color="#fe1200"/><stop offset="0.845" stop-color="#f70d00"/><stop offset="0.852" stop-color="#ff1300"/><stop offset="0.856" stop-color="#ff2100"/><stop offset="0.862" stop-color="#ff4b00"/><stop offset="0.87" stop-color="#ff9b00"/><stop offset="0.874" stop-color="#fb0"/><stop offset="0.878" stop-color="#ffcd00"/><stop offset="0.882" stop-color="#ffcf00"/><stop offset="0.886" stop-color="#ffbe00"/><stop offset="0.888" stop-color="#ffae00"/><stop offset="0.898" stop-color="#ff4200"/><stop offset="0.904" stop-color="#ff2800"/><stop offset="1" stop-color="#ff1500"/></linearGradient><linearGradient id="r28"><stop offset="0" stop-color="#00f"/><stop offset="0.094" stop-color="#00f"/><stop offset="0.104" stop-color="#000eff"/><stop offset="0.124" stop-color="#0041ff"/><stop offset="0.134" stop-color="#004bff"/><stop offset="0.144" stop-color="#003bff"/><stop offset="0.159" stop-color="#00f"/><stop offset="0.177" stop-color="#0000e3"/><stop offset="0.189" stop-color="#0001ff"/><stop offset="0.201" stop-color="#0050ff"/><stop offset="0.207" stop-color="#0063ff"/><stop offset="0.213" stop-color="#005dff"/><stop offset="0.227" stop-color="#0034ff"/><stop offset="0.243" stop-color="#0036ff"/><stop offset="0.256" stop-color="#002dff"/><stop offset="0.276" stop-color="#006cff"/><stop offset="0.318" stop-color="#00a1ff"/><stop offset="0.401" stop-color="#00bcff"/><stop offset="0.427" stop-color="#00dbff"/><stop offset="0.435" stop-color="#00e5f7"/><stop offset="0.458" stop-color="#16ffe1"/><stop offset="0.504" stop-color="#43ffb4"/><stop offset="0.603" stop-color="#88ff6e"/><stop offset="0.654" stop-color="#bbff3c"/><stop offset="0.684" stop-color="#caff2d"/><stop offset="0.702" stop-color="#edff0a"/><stop offset="0.708" stop-color="#ffed00"/><stop offset="0.73" stop-color="#ff9a00"/><stop offset="0.773" stop-color="#ff3b00"/><stop offset="0.781" stop-color="#ff2f00"/><stop offset="0.789" stop-color="#ff3b00"/><stop offset="0.805" stop-color="#ff8200"/><stop offset="0.811" stop-color="#ff8700"/><stop offset="0.817" stop-color="#ff7500"/><stop offset="0.835" stop-color="#ff1a00"/><stop offset="0.843" stop-color="#f30900"/><stop offset="0.849" stop-color="#f40a00"/><stop offset="0.86" stop-color="#ff2700"/><stop offset="0.876" stop-color="#ff9000"/><stop offset="0.882" stop-color="#ffa100"/><stop offset="0.884" stop-color="#ffa000"/><stop offset="0.888" stop-color="#ff8c00"/><stop offset="0.898" stop-color="#ff3700"/><stop offset="0.904" stop-color="#ff2500"/><stop offset="1" stop-color="#ff1900"/></linearGradient><linearGradient id="r29"><stop offset="0" stop-color="#00f"/><stop offset="0.094" stop-color="#00f"/><stop offset="0.104" stop-color="#0014ff"/><stop offset="0.12" stop-color="#0047ff"/><stop offset="0.13" stop-color="#0053ff"/><stop offset="0.142" stop-color="#0041ff"/><stop offset="0.157" stop-color="#0002ff"/><stop offset="0.159" stop-color="#00f"/><stop offset="0.171" stop-color="#0000e5"/><stop offset="0.177" stop-color="#0000e0"/><stop offset="0.181" stop-color="#0000e5"/><stop offset="0.189" stop-color="#00f"/><stop offset="0.191" stop-color="#0004ff"/><stop offset="0.201" stop-color="#003fff"/><stop offset="0.207" stop-color="#0050ff"/><stop offset="0.213" stop-color="#004bff"/><stop offset="0.227" stop-color="#002bff"/><stop offset="0.243" stop-color="#002dff"/><stop offset="0.256" stop-color="#02f"/><stop offset="0.276" stop-color="#0063ff"/><stop offset="0.318" stop-color="#09f"/><stop offset="0.401" stop-color="#00bdff"/><stop offset="0.425" stop-color="#00dcfe"/><stop offset="0.433" stop-color="#01e7f5"/><stop offset="0.452" stop-color="#15ffe2"/><stop offset="0.504" stop-color="#4cffab"/><stop offset="0.605" stop-color="#97ff60"/><stop offset="0.684" stop-color="#eeff08"/><stop offset="0.692" stop-color="#ffeb00"/><stop offset="0.732" stop-color="#ff6800"/><stop offset="0.783" stop-color="#ff2a00"/><stop offset="0.789" stop-color="#ff2d00"/><stop offset="0.803" stop-color="#ff4f00"/><stop offset="0.809" stop-color="#ff5600"/><stop offset="0.817" stop-color="#ff4900"/><stop offset="0.835" stop-color="#fd1100"/><stop offset="0.847" stop-color="#f60b00"/><stop offset="0.854" stop-color="#ff1400"/><stop offset="0.862" stop-color="#ff2900"/><stop offset="0.878" stop-color="#ff7800"/><stop offset="0.884" stop-color="#ff8400"/><stop offset="0.888" stop-color="#ff7600"/><stop offset="0.898" stop-color="#ff3100"/><stop offset="0.902" stop-color="#ff2600"/><stop offset="1" stop-color="#ff1c00"/></linearGradient><linearGradient id="r30"><stop offset="0" stop-color="#00f"/><stop offset="0.094" stop-color="#00f"/><stop offset="0.104" stop-color="#0015ff"/><stop offset="0.118" stop-color="#04f"/><stop offset="0.126" stop-color="#004fff"/><stop offset="0.138" stop-color="#003cff"/><stop offset="0.155" stop-color="#00f"/><stop offset="0.159" stop-color="#0000fc"/><stop offset="0.169" stop-color="#0000e0"/><stop offset="0.177" stop-color="#0000d9"/><stop offset="0.183" stop-color="#0000e1"/><stop offset="0.191" stop-color="#00f"/><stop offset="0.193" stop-color="#00f"/><stop offset="0.203" stop-color="#0028ff"/><stop offset="0.209" stop-color="#0031ff"/><stop offset="0.225" stop-color="#001bff"/><stop offset="0.241" stop-color="#001fff"/><stop offset="0.256" stop-color="#0013ff"/><stop offset="0.276" stop-color="#004eff"/><stop offset="0.316" stop-color="#007eff"/><stop offset="0.401" stop-color="#00abff"/><stop offset="0.435" stop-color="#00dbff"/><stop offset="0.443" stop-color="#01e6f6"/><stop offset="0.462" stop-color="#16ffe1"/><stop offset="0.506" stop-color="#47ffaf"/><stop offset="0.605" stop-color="#96ff61"/><stop offset="0.684" stop-color="#ecff0b"/><stop offset="0.694" stop-color="#ffe800"/><stop offset="0.73" stop-color="#ff7100"/><stop offset="0.742" stop-color="#ff6100"/><stop offset="0.767" stop-color="#ff5c00"/><stop offset="0.789" stop-color="#ff2a00"/><stop offset="0.809" stop-color="#ff3200"/><stop offset="0.831" stop-color="#ff1400"/><stop offset="0.841" stop-color="#ff1400"/><stop offset="0.864" stop-color="#ff3e00"/><stop offset="0.88" stop-color="#ff7d00"/><stop offset="0.884" stop-color="#ff8300"/><stop offset="0.888" stop-color="#f70"/><stop offset="0.898" stop-color="#f30"/><stop offset="0.902" stop-color="#ff2800"/><stop offset="1" stop-color="#ff2000"/></linearGradient><linearGradient id="r31"><stop offset="0" stop-color="#00f"/><stop offset="0.094" stop-color="#00f"/><stop offset="0.102" stop-color="#000cff"/><stop offset="0.118" stop-color="#0039ff"/><stop offset="0.124" stop-color="#003dff"/><stop offset="0.134" stop-color="#002dff"/><stop offset="0.148" stop-color="#00f"/><stop offset="0.153" stop-color="#00f"/><stop offset="0.167" stop-color="#0000d9"/><stop offset="0.177" stop-color="#0000d0"/><stop offset="0.183" stop-color="#0000d6"/><stop offset="0.197" stop-color="#00f"/><stop offset="0.211" stop-color="#000fff"/><stop offset="0.225" stop-color="#0006ff"/><stop offset="0.241" stop-color="#000cff"/><stop offset="0.256" stop-color="#0003ff"/><stop offset="0.276" stop-color="#0032ff"/><stop offset="0.318" stop-color="#005bff"/><stop offset="0.403" stop-color="#008bff"/><stop offset="0.458" stop-color="#00dcfe"/><stop offset="0.464" stop-color="#00e5f7"/><stop offset="0.482" stop-color="#15ffe1"/><stop offset="0.518" stop-color="#3dffb9"/><stop offset="0.652" stop-color="#b6ff41"/><stop offset="0.686" stop-color="#c7ff30"/><stop offset="0.704" stop-color="#ebff0c"/><stop offset="0.71" stop-color="#feed00"/><stop offset="0.726" stop-color="#ffaf00"/><stop offset="0.734" stop-color="#ff9c00"/><stop offset="0.744" stop-color="#ff9400"/><stop offset="0.761" stop-color="#ff9d00"/><stop offset="0.767" stop-color="#ff9600"/><stop offset="0.773" stop-color="#ff8100"/><stop offset="0.787" stop-color="#ff3900"/><stop offset="0.799" stop-color="#ff2100"/><stop offset="0.821" stop-color="#ff1500"/><stop offset="0.833" stop-color="#ff1b00"/><stop offset="0.87" stop-color="#ff7400"/><stop offset="0.88" stop-color="#ff9700"/><stop offset="0.884" stop-color="#ff9c00"/><stop offset="0.888" stop-color="#ff8d00"/><stop offset="0.898" stop-color="#ff3e00"/><stop offset="0.904" stop-color="#ff2c00"/><stop offset="1" stop-color="#ff2400"/></linearGradient><linearGradient id="r32"><stop offset="0" stop-color="#00f"/><stop offset="0.098" stop-color="#0001ff"/><stop offset="0.116" stop-color="#0021ff"/><stop offset="0.122" stop-color="#0024ff"/><stop offset="0.128" stop-color="#001dff"/><stop offset="0.14" stop-color="#00f"/><stop offset="0.144" stop-color="#00f"/><stop offset="0.161" stop-color="#0000d7"/><stop offset="0.177" stop-color="#0000c8"/><stop offset="0.185" stop-color="#0000cf"/><stop offset="0.207" stop-color="#0000fe"/><stop offset="0.262" stop-color="#00f"/><stop offset="0.28" stop-color="#001aff"/><stop offset="0.403" stop-color="#0061ff"/><stop offset="0.484" stop-color="#00daff"/><stop offset="0.492" stop-color="#01e6f6"/><stop offset="0.51" stop-color="#16ffe1"/><stop offset="0.563" stop-color="#4cffaa"/><stop offset="0.649" stop-color="#97ff60"/><stop offset="0.682" stop-color="#92ff65"/><stop offset="0.692" stop-color="#98ff5f"/><stop offset="0.706" stop-color="#b2ff45"/><stop offset="0.722" stop-color="#effe08"/><stop offset="0.728" stop-color="#ffe700"/><stop offset="0.74" stop-color="#ffd300"/><stop offset="0.759" stop-color="#ffe300"/><stop offset="0.767" stop-color="#ffdb00"/><stop offset="0.773" stop-color="#ffbf00"/><stop offset="0.785" stop-color="#ff5d00"/><stop offset="0.791" stop-color="#ff3800"/><stop offset="0.799" stop-color="#ff1e00"/><stop offset="0.811" stop-color="#fc1000"/><stop offset="0.819" stop-color="#fc1000"/><stop offset="0.829" stop-color="#ff2100"/><stop offset="0.837" stop-color="#ff3d00"/><stop offset="0.858" stop-color="#ff9b00"/><stop offset="0.882" stop-color="#ffc400"/><stop offset="0.886" stop-color="#ffbc00"/><stop offset="0.888" stop-color="#ffb000"/><stop offset="0.898" stop-color="#ff4e00"/><stop offset="0.904" stop-color="#ff3400"/><stop offset="1" stop-color="#ff2800"/></linearGradient><linearGradient id="r33"><stop offset="0" stop-color="#00f"/><stop offset="0.102" stop-color="#00f"/><stop offset="0.118" stop-color="#000cff"/><stop offset="0.136" stop-color="#00f"/><stop offset="0.155" stop-color="#0000d5"/><stop offset="0.177" stop-color="#0000c3"/><stop offset="0.207" stop-color="#0000e8"/><stop offset="0.237" stop-color="#00f"/><stop offset="0.27" stop-color="#00f"/><stop offset="0.397" stop-color="#0036ff"/><stop offset="0.514" stop-color="#00daff"/><stop offset="0.522" stop-color="#00e5f7"/><stop offset="0.54" stop-color="#15ffe2"/><stop offset="0.601" stop-color="#51ffa6"/><stop offset="0.649" stop-color="#76ff81"/><stop offset="0.68" stop-color="#6eff89"/><stop offset="0.694" stop-color="#75ff82"/><stop offset="0.706" stop-color="#89ff6e"/><stop offset="0.726" stop-color="#d9ff1d"/><stop offset="0.732" stop-color="#e9ff0e"/><stop offset="0.744" stop-color="#eeff09"/><stop offset="0.763" stop-color="#d4ff23"/><stop offset="0.771" stop-color="#e8ff0f"/><stop offset="0.773" stop-color="#f4f903"/><stop offset="0.775" stop-color="#ffe900"/><stop offset="0.787" stop-color="#ff6700"/><stop offset="0.793" stop-color="#ff3a00"/><stop offset="0.801" stop-color="#ff1b00"/><stop offset="0.813" stop-color="#f70c00"/><stop offset="0.821" stop-color="#ff1500"/><stop offset="0.831" stop-color="#ff3a00"/><stop offset="0.837" stop-color="#ff5d00"/><stop offset="0.852" stop-color="#ffc400"/><stop offset="0.858" stop-color="#ffe300"/><stop offset="0.864" stop-color="#fcef00"/><stop offset="0.882" stop-color="#feed00"/><stop offset="0.886" stop-color="#ffe100"/><stop offset="0.888" stop-color="#ffd200"/><stop offset="0.896" stop-color="#ff7300"/><stop offset="0.9" stop-color="#ff4f00"/><stop offset="0.906" stop-color="#ff3800"/><stop offset="1" stop-color="#ff2b00"/></linearGradient><linearGradient id="r34"><stop offset="0" stop-color="#00f"/><stop offset="0.128" stop-color="#00f"/><stop offset="0.153" stop-color="#0000d3"/><stop offset="0.177" stop-color="#0000c3"/><stop offset="0.189" stop-color="#0000cb"/><stop offset="0.229" stop-color="#00f"/><stop offset="0.276" stop-color="#00f"/><stop offset="0.399" stop-color="#001fff"/><stop offset="0.466" stop-color="#0072ff"/><stop offset="0.54" stop-color="#00dbff"/><stop offset="0.548" stop-color="#01e6f6"/><stop offset="0.567" stop-color="#15ffe1"/><stop offset="0.605" stop-color="#3cffbb"/><stop offset="0.649" stop-color="#5bff9b"/><stop offset="0.678" stop-color="#5cff9b"/><stop offset="0.694" stop-color="#67ff90"/><stop offset="0.706" stop-color="#79ff7e"/><stop offset="0.726" stop-color="#cbff2c"/><stop offset="0.732" stop-color="#daff1c"/><stop offset="0.744" stop-color="#dbff1c"/><stop offset="0.759" stop-color="#b9ff3e"/><stop offset="0.765" stop-color="#b3ff44"/><stop offset="0.771" stop-color="#c3ff34"/><stop offset="0.775" stop-color="#deff18"/><stop offset="0.777" stop-color="#f1fc06"/><stop offset="0.779" stop-color="#ffe300"/><stop offset="0.787" stop-color="#ff7b00"/><stop offset="0.793" stop-color="#ff4500"/><stop offset="0.801" stop-color="#ff1e00"/><stop offset="0.813" stop-color="#f80d00"/><stop offset="0.821" stop-color="#ff1a00"/><stop offset="0.829" stop-color="#ff3e00"/><stop offset="0.837" stop-color="#ff7900"/><stop offset="0.849" stop-color="#ffea00"/><stop offset="0.852" stop-color="#f2fb05"/><stop offset="0.858" stop-color="#d1ff26"/><stop offset="0.864" stop-color="#c6ff30"/><stop offset="0.884" stop-color="#e9ff0e"/><stop offset="0.886" stop-color="#f2fb05"/><stop offset="0.888" stop-color="#ffeb00"/><stop offset="0.896" stop-color="#ff8300"/><stop offset="0.9" stop-color="#ff5900"/><stop offset="0.906" stop-color="#ff3d00"/><stop offset="0.916" stop-color="#ff3600"/><stop offset="1" stop-color="#ff2e00"/></linearGradient><linearGradient id="r35"><stop offset="0" stop-color="#00f"/><stop offset="0.12" stop-color="#00f"/><stop offset="0.157" stop-color="#0000d4"/><stop offset="0.177" stop-color="#0000c6"/><stop offset="0.201" stop-color="#0000de"/><stop offset="0.219" stop-color="#00f"/><stop offset="0.235" stop-color="#000eff"/><stop offset="0.256" stop-color="#0003ff"/><stop offset="0.308" stop-color="#0016ff"/><stop offset="0.401" stop-color="#02f"/><stop offset="0.5" stop-color="#0091ff"/><stop offset="0.553" stop-color="#00d9ff"/><stop offset="0.563" stop-color="#01e7f5"/><stop offset="0.581" stop-color="#15ffe2"/><stop offset="0.609" stop-color="#32ffc5"/><stop offset="0.652" stop-color="#4fffa8"/><stop offset="0.682" stop-color="#59ff9d"/><stop offset="0.7" stop-color="#6aff8d"/><stop offset="0.708" stop-color="#7dff7a"/><stop offset="0.726" stop-color="#c8ff2f"/><stop offset="0.734" stop-color="#d9ff1e"/><stop offset="0.744" stop-color="#d5ff21"/><stop offset="0.761" stop-color="#a8ff4f"/><stop offset="0.767" stop-color="#a4ff53"/><stop offset="0.771" stop-color="#b1ff46"/><stop offset="0.777" stop-color="#e1ff16"/><stop offset="0.779" stop-color="#f7f500"/><stop offset="0.781" stop-color="#ffd900"/><stop offset="0.789" stop-color="#ff6e00"/><stop offset="0.795" stop-color="#ff3c00"/><stop offset="0.803" stop-color="#ff1900"/><stop offset="0.813" stop-color="#f90e00"/><stop offset="0.821" stop-color="#ff1d00"/><stop offset="0.829" stop-color="#ff4600"/><stop offset="0.835" stop-color="#ff7600"/><stop offset="0.845" stop-color="#ffdc00"/><stop offset="0.847" stop-color="#faf200"/><stop offset="0.849" stop-color="#e9ff0e"/><stop offset="0.858" stop-color="#b5ff42"/><stop offset="0.864" stop-color="#aaff4c"/><stop offset="0.886" stop-color="#e7ff0f"/><stop offset="0.888" stop-color="#f6f600"/><stop offset="0.89" stop-color="#ffdf00"/><stop offset="0.896" stop-color="#ff8a00"/><stop offset="0.9" stop-color="#ff5e00"/><stop offset="0.904" stop-color="#ff4600"/><stop offset="0.908" stop-color="#ff3c00"/><stop offset="1" stop-color="#ff3000"/></linearGradient><linearGradient id="r36"><stop offset="0" stop-color="#00f"/><stop offset="0.132" stop-color="#00f"/><stop offset="0.177" stop-color="#0000ce"/><stop offset="0.195" stop-color="#0000e0"/><stop offset="0.211" stop-color="#00f"/><stop offset="0.217" stop-color="#0004ff"/><stop offset="0.227" stop-color="#0028ff"/><stop offset="0.235" stop-color="#0034ff"/><stop offset="0.256" stop-color="#001aff"/><stop offset="0.318" stop-color="#0039ff"/><stop offset="0.401" stop-color="#003eff"/><stop offset="0.5" stop-color="#00a1ff"/><stop offset="0.548" stop-color="#00dbff"/><stop offset="0.557" stop-color="#00e5f7"/><stop offset="0.577" stop-color="#15ffe2"/><stop offset="0.609" stop-color="#35ffc1"/><stop offset="0.652" stop-color="#52ffa5"/><stop offset="0.682" stop-color="#5bff9c"/><stop offset="0.7" stop-color="#6bff8c"/><stop offset="0.708" stop-color="#7dff79"/><stop offset="0.726" stop-color="#c8ff2f"/><stop offset="0.734" stop-color="#d9ff1d"/><stop offset="0.744" stop-color="#d6ff21"/><stop offset="0.761" stop-color="#abff4c"/><stop offset="0.767" stop-color="#a8ff4f"/><stop offset="0.771" stop-color="#b5ff42"/><stop offset="0.777" stop-color="#e5ff12"/><stop offset="0.779" stop-color="#fbf100"/><stop offset="0.781" stop-color="#ffd500"/><stop offset="0.789" stop-color="#ff6c00"/><stop offset="0.795" stop-color="#ff3b00"/><stop offset="0.803" stop-color="#ff1900"/><stop offset="0.813" stop-color="#f80d00"/><stop offset="0.821" stop-color="#ff1c00"/><stop offset="0.829" stop-color="#ff4500"/><stop offset="0.837" stop-color="#ff8500"/><stop offset="0.847" stop-color="#ffec00"/><stop offset="0.849" stop-color="#eeff09"/><stop offset="0.858" stop-color="#bcff3b"/><stop offset="0.864" stop-color="#b1ff46"/><stop offset="0.882" stop-color="#daff1d"/><stop offset="0.886" stop-color="#e9ff0d"/><stop offset="0.888" stop-color="#f8f400"/><stop offset="0.89" stop-color="#fd0"/><stop offset="0.896" stop-color="#ff8900"/><stop offset="0.9" stop-color="#ff5e00"/><stop offset="0.906" stop-color="#ff4100"/><stop offset="0.916" stop-color="#ff3900"/><stop offset="1" stop-color="#ff3100"/></linearGradient><linearGradient id="r37"><stop offset="0" stop-color="#00f"/><stop offset="0.151" stop-color="#00f"/><stop offset="0.165" stop-color="#0000e2"/><stop offset="0.179" stop-color="#0000d6"/><stop offset="0.203" stop-color="#0000fd"/><stop offset="0.209" stop-color="#00f"/><stop offset="0.215" stop-color="#0015ff"/><stop offset="0.227" stop-color="#0051ff"/><stop offset="0.233" stop-color="#0060ff"/><stop offset="0.239" stop-color="#005bff"/><stop offset="0.252" stop-color="#0038ff"/><stop offset="0.258" stop-color="#03f"/><stop offset="0.278" stop-color="#004bff"/><stop offset="0.32" stop-color="#0064ff"/><stop offset="0.403" stop-color="#006aff"/><stop offset="0.518" stop-color="#00daff"/><stop offset="0.53" stop-color="#01e7f6"/><stop offset="0.555" stop-color="#15ffe1"/><stop offset="0.605" stop-color="#45ffb1"/><stop offset="0.649" stop-color="#64ff93"/><stop offset="0.68" stop-color="#62ff95"/><stop offset="0.696" stop-color="#6cff8a"/><stop offset="0.706" stop-color="#7cff7a"/><stop offset="0.726" stop-color="#cdff2a"/><stop offset="0.732" stop-color="#dcff1a"/><stop offset="0.744" stop-color="#deff18"/><stop offset="0.759" stop-color="#c1ff36"/><stop offset="0.765" stop-color="#bdff3a"/><stop offset="0.771" stop-color="#ceff29"/><stop offset="0.775" stop-color="#e9ff0e"/><stop offset="0.777" stop-color="#fbf000"/><stop offset="0.779" stop-color="#ffd900"/><stop offset="0.787" stop-color="#ff7400"/><stop offset="0.793" stop-color="#ff4000"/><stop offset="0.801" stop-color="#ff1b00"/><stop offset="0.813" stop-color="#f50a00"/><stop offset="0.821" stop-color="#ff1700"/><stop offset="0.829" stop-color="#ff3a00"/><stop offset="0.837" stop-color="#ff7100"/><stop offset="0.852" stop-color="#ffe900"/><stop offset="0.856" stop-color="#ebff0c"/><stop offset="0.864" stop-color="#d8ff1f"/><stop offset="0.884" stop-color="#efff08"/><stop offset="0.888" stop-color="#ffe500"/><stop offset="0.898" stop-color="#ff6a00"/><stop offset="0.902" stop-color="#ff4c00"/><stop offset="0.906" stop-color="#ff3f00"/><stop offset="1" stop-color="#ff3200"/></linearGradient><linearGradient id="r38"><stop offset="0" stop-color="#00f"/><stop offset="0.102" stop-color="#00f"/><stop offset="0.136" stop-color="#0021ff"/><stop offset="0.144" stop-color="#0019ff"/><stop offset="0.155" stop-color="#00f"/><stop offset="0.159" stop-color="#0000fe"/><stop offset="0.171" stop-color="#0000e3"/><stop offset="0.179" stop-color="#0000de"/><stop offset="0.199" stop-color="#00f"/><stop offset="0.205" stop-color="#0001ff"/><stop offset="0.213" stop-color="#0020ff"/><stop offset="0.227" stop-color="#0075ff"/><stop offset="0.233" stop-color="#0087ff"/><stop offset="0.239" stop-color="#0080ff"/><stop offset="0.252" stop-color="#004eff"/><stop offset="0.258" stop-color="#0045ff"/><stop offset="0.276" stop-color="#06f"/><stop offset="0.318" stop-color="#008bff"/><stop offset="0.403" stop-color="#09f"/><stop offset="0.472" stop-color="#00dbff"/><stop offset="0.484" stop-color="#01e7f6"/><stop offset="0.51" stop-color="#15ffe2"/><stop offset="0.649" stop-color="#81ff75"/><stop offset="0.68" stop-color="#79ff7e"/><stop offset="0.694" stop-color="#7eff78"/><stop offset="0.706" stop-color="#92ff65"/><stop offset="0.726" stop-color="#dfff18"/><stop offset="0.732" stop-color="#eeff09"/><stop offset="0.744" stop-color="#f4f903"/><stop offset="0.761" stop-color="#e1ff16"/><stop offset="0.769" stop-color="#eeff09"/><stop offset="0.773" stop-color="#ffe800"/><stop offset="0.787" stop-color="#ff5d00"/><stop offset="0.793" stop-color="#f30"/><stop offset="0.801" stop-color="#ff1500"/><stop offset="0.813" stop-color="#ef0600"/><stop offset="0.821" stop-color="#fa0f00"/><stop offset="0.831" stop-color="#ff3200"/><stop offset="0.852" stop-color="#ffad00"/><stop offset="0.858" stop-color="#ffca00"/><stop offset="0.864" stop-color="#ffd600"/><stop offset="0.882" stop-color="#ffe200"/><stop offset="0.886" stop-color="#ffd800"/><stop offset="0.888" stop-color="#ffca00"/><stop offset="0.896" stop-color="#ff7000"/><stop offset="0.9" stop-color="#ff4f00"/><stop offset="0.906" stop-color="#ff3d00"/><stop offset="1" stop-color="#f30"/></linearGradient><linearGradient id="r39"><stop offset="0" stop-color="#00f"/><stop offset="0.096" stop-color="#0001ff"/><stop offset="0.106" stop-color="#000cff"/><stop offset="0.128" stop-color="#0037ff"/><stop offset="0.136" stop-color="#003eff"/><stop offset="0.144" stop-color="#0032ff"/><stop offset="0.159" stop-color="#00f"/><stop offset="0.179" stop-color="#0000e2"/><stop offset="0.195" stop-color="#00f"/><stop offset="0.201" stop-color="#00f"/><stop offset="0.211" stop-color="#0021ff"/><stop offset="0.227" stop-color="#0089ff"/><stop offset="0.233" stop-color="#009dff"/><stop offset="0.239" stop-color="#0094ff"/><stop offset="0.252" stop-color="#0058ff"/><stop offset="0.258" stop-color="#004dff"/><stop offset="0.276" stop-color="#0079ff"/><stop offset="0.318" stop-color="#00a6ff"/><stop offset="0.401" stop-color="#00bfff"/><stop offset="0.431" stop-color="#00dcff"/><stop offset="0.441" stop-color="#00e6f7"/><stop offset="0.468" stop-color="#15ffe1"/><stop offset="0.567" stop-color="#5cff9b"/><stop offset="0.652" stop-color="#a3ff54"/><stop offset="0.69" stop-color="#a5ff52"/><stop offset="0.704" stop-color="#baff3d"/><stop offset="0.718" stop-color="#e9ff0d"/><stop offset="0.724" stop-color="#ffed00"/><stop offset="0.736" stop-color="#ffd000"/><stop offset="0.744" stop-color="#fc0"/><stop offset="0.759" stop-color="#ffd700"/><stop offset="0.767" stop-color="#ffcb00"/><stop offset="0.773" stop-color="#ffaf00"/><stop offset="0.785" stop-color="#ff5100"/><stop offset="0.791" stop-color="#ff2d00"/><stop offset="0.801" stop-color="#f90e00"/><stop offset="0.813" stop-color="#ea0100"/><stop offset="0.821" stop-color="#f00600"/><stop offset="0.829" stop-color="#ff1700"/><stop offset="0.856" stop-color="#ff7e00"/><stop offset="0.872" stop-color="#ff9c00"/><stop offset="0.882" stop-color="#ffb800"/><stop offset="0.886" stop-color="#ffb200"/><stop offset="0.888" stop-color="#ffa700"/><stop offset="0.898" stop-color="#ff4e00"/><stop offset="0.904" stop-color="#ff3a00"/><stop offset="1" stop-color="#ff3400"/></linearGradient><linearGradient id="r40"><stop offset="0" stop-color="#00f"/><stop offset="0.092" stop-color="#00f"/><stop offset="0.104" stop-color="#01f"/><stop offset="0.124" stop-color="#0047ff"/><stop offset="0.134" stop-color="#0051ff"/><stop offset="0.144" stop-color="#003fff"/><stop offset="0.159" stop-color="#00f"/><stop offset="0.163" stop-color="#00f"/><stop offset="0.171" stop-color="#0000eb"/><stop offset="0.179" stop-color="#0000e3"/><stop offset="0.195" stop-color="#00f"/><stop offset="0.201" stop-color="#00f"/><stop offset="0.211" stop-color="#0021ff"/><stop offset="0.227" stop-color="#0087ff"/><stop offset="0.233" stop-color="#009bff"/><stop offset="0.239" stop-color="#0093ff"/><stop offset="0.252" stop-color="#0054ff"/><stop offset="0.258" stop-color="#0049ff"/><stop offset="0.276" stop-color="#007cff"/><stop offset="0.318" stop-color="#00afff"/><stop offset="0.409" stop-color="#00dbff"/><stop offset="0.419" stop-color="#00e6f6"/><stop offset="0.443" stop-color="#16ffe1"/><stop offset="0.502" stop-color="#47ffaf"/><stop offset="0.601" stop-color="#8cff6b"/><stop offset="0.654" stop-color="#c0ff37"/><stop offset="0.684" stop-color="#d2ff25"/><stop offset="0.7" stop-color="#ebff0b"/><stop offset="0.708" stop-color="#ffeb00"/><stop offset="0.724" stop-color="#ffb400"/><stop offset="0.732" stop-color="#ffa000"/><stop offset="0.742" stop-color="#ff9800"/><stop offset="0.759" stop-color="#ff9e00"/><stop offset="0.767" stop-color="#ff9300"/><stop offset="0.773" stop-color="#ff7c00"/><stop offset="0.789" stop-color="#ff2500"/><stop offset="0.795" stop-color="#ff1300"/><stop offset="0.807" stop-color="#e90100"/><stop offset="0.819" stop-color="#e50000"/><stop offset="0.831" stop-color="#f70d00"/><stop offset="0.835" stop-color="#ff1500"/><stop offset="0.856" stop-color="#ff4a00"/><stop offset="0.87" stop-color="#ff6500"/><stop offset="0.88" stop-color="#ff8c00"/><stop offset="0.884" stop-color="#ff9200"/><stop offset="0.888" stop-color="#ff8600"/><stop offset="0.898" stop-color="#ff4000"/><stop offset="0.902" stop-color="#ff3600"/><stop offset="0.918" stop-color="#ff3d00"/><stop offset="1" stop-color="#ff3500"/></linearGradient><linearGradient id="r41"><stop offset="0" stop-color="#00f"/><stop offset="0.092" stop-color="#00f"/><stop offset="0.104" stop-color="#0017ff"/><stop offset="0.12" stop-color="#004cff"/><stop offset="0.13" stop-color="#0057ff"/><stop offset="0.14" stop-color="#0049ff"/><stop offset="0.159" stop-color="#00f"/><stop offset="0.171" stop-color="#0000e7"/><stop offset="0.179" stop-color="#0000e0"/><stop offset="0.197" stop-color="#00f"/><stop offset="0.203" stop-color="#00f"/><stop offset="0.211" stop-color="#0018ff"/><stop offset="0.227" stop-color="#0070ff"/><stop offset="0.233" stop-color="#0082ff"/><stop offset="0.239" stop-color="#007cff"/><stop offset="0.252" stop-color="#0045ff"/><stop offset="0.258" stop-color="#003bff"/><stop offset="0.276" stop-color="#0070ff"/><stop offset="0.318" stop-color="#00a4ff"/><stop offset="0.409" stop-color="#00daff"/><stop offset="0.419" stop-color="#00e6f6"/><stop offset="0.441" stop-color="#16ffe1"/><stop offset="0.504" stop-color="#50ffa7"/><stop offset="0.603" stop-color="#97ff60"/><stop offset="0.684" stop-color="#eeff08"/><stop offset="0.694" stop-color="#ffe900"/><stop offset="0.73" stop-color="#ff8300"/><stop offset="0.74" stop-color="#ff7a00"/><stop offset="0.757" stop-color="#ff7f00"/><stop offset="0.765" stop-color="#ff7800"/><stop offset="0.773" stop-color="#ff6000"/><stop offset="0.789" stop-color="#ff1b00"/><stop offset="0.805" stop-color="#e80000"/><stop offset="0.819" stop-color="#e10000"/><stop offset="0.827" stop-color="#e80000"/><stop offset="0.837" stop-color="#f80d00"/><stop offset="0.841" stop-color="#ff1400"/><stop offset="0.868" stop-color="#ff4700"/><stop offset="0.88" stop-color="#ff7600"/><stop offset="0.884" stop-color="#ff7e00"/><stop offset="0.888" stop-color="#ff7400"/><stop offset="0.898" stop-color="#ff3900"/><stop offset="0.902" stop-color="#ff3200"/><stop offset="0.918" stop-color="#ff3e00"/><stop offset="1" stop-color="#ff3600"/></linearGradient><linearGradient id="r42"><stop offset="0" stop-color="#00f"/><stop offset="0.092" stop-color="#00f"/><stop offset="0.102" stop-color="#01f"/><stop offset="0.118" stop-color="#0047ff"/><stop offset="0.126" stop-color="#0051ff"/><stop offset="0.138" stop-color="#003cff"/><stop offset="0.155" stop-color="#00f"/><stop offset="0.159" stop-color="#0000fd"/><stop offset="0.169" stop-color="#0000e3"/><stop offset="0.179" stop-color="#0000da"/><stop offset="0.201" stop-color="#0000fe"/><stop offset="0.207" stop-color="#00f"/><stop offset="0.213" stop-color="#000fff"/><stop offset="0.227" stop-color="#004cff"/><stop offset="0.233" stop-color="#005bff"/><stop offset="0.239" stop-color="#0058ff"/><stop offset="0.252" stop-color="#002eff"/><stop offset="0.258" stop-color="#0027ff"/><stop offset="0.272" stop-color="#0050ff"/><stop offset="0.282" stop-color="#0060ff"/><stop offset="0.322" stop-color="#008bff"/><stop offset="0.401" stop-color="#00b8ff"/><stop offset="0.427" stop-color="#00daff"/><stop offset="0.437" stop-color="#01e7f5"/><stop offset="0.456" stop-color="#15ffe2"/><stop offset="0.506" stop-color="#48ffaf"/><stop offset="0.605" stop-color="#95ff62"/><stop offset="0.69" stop-color="#efff08"/><stop offset="0.698" stop-color="#ffec00"/><stop offset="0.73" stop-color="#ff9000"/><stop offset="0.738" stop-color="#f80"/><stop offset="0.757" stop-color="#ff8e00"/><stop offset="0.763" stop-color="#ff8700"/><stop offset="0.771" stop-color="#ff6e00"/><stop offset="0.789" stop-color="#ff1a00"/><stop offset="0.805" stop-color="#e70000"/><stop offset="0.819" stop-color="#e10000"/><stop offset="0.833" stop-color="#f30900"/><stop offset="0.839" stop-color="#ff1400"/><stop offset="0.868" stop-color="#ff4e00"/><stop offset="0.88" stop-color="#ff7c00"/><stop offset="0.884" stop-color="#ff8300"/><stop offset="0.888" stop-color="#ff7800"/><stop offset="0.898" stop-color="#ff3a00"/><stop offset="0.902" stop-color="#f30"/><stop offset="0.918" stop-color="#ff3e00"/><stop offset="1" stop-color="#ff3700"/></linearGradient><linearGradient id="r43"><stop offset="0" stop-color="#00f"/><stop offset="0.094" stop-color="#00f"/><stop offset="0.122" stop-color="#003dff"/><stop offset="0.132" stop-color="#0031ff"/><stop offset="0.148" stop-color="#00f"/><stop offset="0.153" stop-color="#00f"/><stop offset="0.167" stop-color="#0000dc"/><stop offset="0.179" stop-color="#0000d2"/><stop offset="0.209" stop-color="#00f"/><stop offset="0.215" stop-color="#00f"/><stop offset="0.227" stop-color="#0026ff"/><stop offset="0.235" stop-color="#0032ff"/><stop offset="0.241" stop-color="#002dff"/><stop offset="0.254" stop-color="#0012ff"/><stop offset="0.258" stop-color="#0012ff"/><stop offset="0.276" stop-color="#0039ff"/><stop offset="0.318" stop-color="#005fff"/><stop offset="0.403" stop-color="#0090ff"/><stop offset="0.456" stop-color="#00daff"/><stop offset="0.464" stop-color="#00e5f7"/><stop offset="0.484" stop-color="#16ffe0"/><stop offset="0.555" stop-color="#5dff99"/><stop offset="0.652" stop-color="#b3ff44"/><stop offset="0.688" stop-color="#c0ff37"/><stop offset="0.7" stop-color="#d0ff27"/><stop offset="0.71" stop-color="#eaff0d"/><stop offset="0.716" stop-color="#fdee00"/><stop offset="0.732" stop-color="#ffbe00"/><stop offset="0.742" stop-color="#ffb900"/><stop offset="0.757" stop-color="#ffc100"/><stop offset="0.763" stop-color="#ffb700"/><stop offset="0.771" stop-color="#ff9400"/><stop offset="0.783" stop-color="#ff4200"/><stop offset="0.789" stop-color="#f20"/><stop offset="0.797" stop-color="#f80d00"/><stop offset="0.807" stop-color="#e80000"/><stop offset="0.817" stop-color="#e40000"/><stop offset="0.829" stop-color="#f70d00"/><stop offset="0.833" stop-color="#ff1600"/><stop offset="0.856" stop-color="#ff6000"/><stop offset="0.87" stop-color="#ff7a00"/><stop offset="0.882" stop-color="#ff9f00"/><stop offset="0.886" stop-color="#ff9a00"/><stop offset="0.888" stop-color="#ff9000"/><stop offset="0.896" stop-color="#ff5000"/><stop offset="0.902" stop-color="#ff3900"/><stop offset="0.918" stop-color="#ff3f00"/><stop offset="1" stop-color="#ff3800"/></linearGradient><linearGradient id="r44"><stop offset="0" stop-color="#00f"/><stop offset="0.098" stop-color="#0001ff"/><stop offset="0.12" stop-color="#0023ff"/><stop offset="0.128" stop-color="#001dff"/><stop offset="0.14" stop-color="#00f"/><stop offset="0.144" stop-color="#00f"/><stop offset="0.161" stop-color="#0000da"/><stop offset="0.179" stop-color="#00c"/><stop offset="0.203" stop-color="#0000e5"/><stop offset="0.217" stop-color="#00f"/><stop offset="0.237" stop-color="#0010ff"/><stop offset="0.258" stop-color="#00f"/><stop offset="0.28" stop-color="#001eff"/><stop offset="0.403" stop-color="#005eff"/><stop offset="0.488" stop-color="#00d9ff"/><stop offset="0.496" stop-color="#00e5f7"/><stop offset="0.514" stop-color="#15ffe2"/><stop offset="0.565" stop-color="#4cffab"/><stop offset="0.649" stop-color="#93ff63"/><stop offset="0.682" stop-color="#8fff68"/><stop offset="0.694" stop-color="#94ff63"/><stop offset="0.706" stop-color="#a7ff50"/><stop offset="0.726" stop-color="#eeff08"/><stop offset="0.732" stop-color="#fbf000"/><stop offset="0.74" stop-color="#ffec00"/><stop offset="0.759" stop-color="#f2fb05"/><stop offset="0.765" stop-color="#ffec00"/><stop offset="0.769" stop-color="#ffd600"/><stop offset="0.775" stop-color="#ffa700"/><stop offset="0.783" stop-color="#ff5a00"/><stop offset="0.789" stop-color="#ff2f00"/><stop offset="0.799" stop-color="#fa0f00"/><stop offset="0.811" stop-color="#e90100"/><stop offset="0.819" stop-color="#ed0400"/><stop offset="0.829" stop-color="#ff1d00"/><stop offset="0.858" stop-color="#ffa400"/><stop offset="0.882" stop-color="#ffc800"/><stop offset="0.886" stop-color="#ffc000"/><stop offset="0.888" stop-color="#ffb400"/><stop offset="0.898" stop-color="#ff5400"/><stop offset="0.904" stop-color="#ff3f00"/><stop offset="1" stop-color="#ff3900"/></linearGradient><linearGradient id="r45"><stop offset="0" stop-color="#00f"/><stop offset="0.102" stop-color="#00f"/><stop offset="0.118" stop-color="#000bff"/><stop offset="0.136" stop-color="#00f"/><stop offset="0.155" stop-color="#0000d9"/><stop offset="0.179" stop-color="#0000c8"/><stop offset="0.205" stop-color="#0000e0"/><stop offset="0.225" stop-color="#00f"/><stop offset="0.266" stop-color="#00f"/><stop offset="0.32" stop-color="#0019ff"/><stop offset="0.399" stop-color="#002eff"/><stop offset="0.52" stop-color="#00dbff"/><stop offset="0.528" stop-color="#02e8f5"/><stop offset="0.544" stop-color="#16ffe1"/><stop offset="0.601" stop-color="#53ffa4"/><stop offset="0.635" stop-color="#6cff8a"/><stop offset="0.652" stop-color="#76ff81"/><stop offset="0.68" stop-color="#70ff87"/><stop offset="0.698" stop-color="#79ff7d"/><stop offset="0.706" stop-color="#87ff70"/><stop offset="0.724" stop-color="#ccff2b"/><stop offset="0.732" stop-color="#e0ff17"/><stop offset="0.742" stop-color="#e0ff17"/><stop offset="0.759" stop-color="#c9ff2e"/><stop offset="0.765" stop-color="#d3ff23"/><stop offset="0.769" stop-color="#e7ff10"/><stop offset="0.771" stop-color="#f4f803"/><stop offset="0.773" stop-color="#ffe600"/><stop offset="0.783" stop-color="#ff7400"/><stop offset="0.789" stop-color="#ff3d00"/><stop offset="0.799" stop-color="#ff1500"/><stop offset="0.811" stop-color="#ef0600"/><stop offset="0.819" stop-color="#f70c00"/><stop offset="0.829" stop-color="#ff2f00"/><stop offset="0.837" stop-color="#ff6000"/><stop offset="0.854" stop-color="#ffd700"/><stop offset="0.858" stop-color="#ffeb00"/><stop offset="0.864" stop-color="#f6f701"/><stop offset="0.884" stop-color="#ffec00"/><stop offset="0.888" stop-color="#ffd500"/><stop offset="0.898" stop-color="#ff6400"/><stop offset="0.902" stop-color="#ff4b00"/><stop offset="0.906" stop-color="#ff4200"/><stop offset="1" stop-color="#ff3a00"/></linearGradient><linearGradient id="r46"><stop offset="0" stop-color="#00f"/><stop offset="0.128" stop-color="#00f"/><stop offset="0.153" stop-color="#0000d9"/><stop offset="0.179" stop-color="#0000c8"/><stop offset="0.205" stop-color="#0000e1"/><stop offset="0.223" stop-color="#00f"/><stop offset="0.401" stop-color="#0018ff"/><stop offset="0.498" stop-color="#0095ff"/><stop offset="0.542" stop-color="#00dbff"/><stop offset="0.548" stop-color="#00e5f7"/><stop offset="0.567" stop-color="#17ffe0"/><stop offset="0.609" stop-color="#45ffb2"/><stop offset="0.652" stop-color="#5fff98"/><stop offset="0.68" stop-color="#63ff94"/><stop offset="0.7" stop-color="#71ff86"/><stop offset="0.708" stop-color="#82ff75"/><stop offset="0.724" stop-color="#c2ff35"/><stop offset="0.73" stop-color="#d3ff24"/><stop offset="0.74" stop-color="#d5ff22"/><stop offset="0.761" stop-color="#b0ff47"/><stop offset="0.767" stop-color="#beff39"/><stop offset="0.773" stop-color="#e8ff0e"/><stop offset="0.775" stop-color="#fcf000"/><stop offset="0.777" stop-color="#ffd700"/><stop offset="0.785" stop-color="#ff6f00"/><stop offset="0.791" stop-color="#ff3a00"/><stop offset="0.799" stop-color="#ff1900"/><stop offset="0.811" stop-color="#f40a00"/><stop offset="0.819" stop-color="#ff1300"/><stop offset="0.829" stop-color="#ff3e00"/><stop offset="0.837" stop-color="#ff7b00"/><stop offset="0.849" stop-color="#feed00"/><stop offset="0.852" stop-color="#effe07"/><stop offset="0.858" stop-color="#cfff28"/><stop offset="0.864" stop-color="#c4ff33"/><stop offset="0.884" stop-color="#e9ff0e"/><stop offset="0.886" stop-color="#f2fb05"/><stop offset="0.888" stop-color="#ffeb00"/><stop offset="0.896" stop-color="#ff8600"/><stop offset="0.9" stop-color="#ff5f00"/><stop offset="0.906" stop-color="#ff4600"/><stop offset="1" stop-color="#ff3b00"/></linearGradient><linearGradient id="r47"><stop offset="0" stop-color="#00f"/><stop offset="0.124" stop-color="#00f"/><stop offset="0.159" stop-color="#0000d9"/><stop offset="0.177" stop-color="#0000cd"/><stop offset="0.199" stop-color="#0000e2"/><stop offset="0.215" stop-color="#00f"/><stop offset="0.221" stop-color="#0003ff"/><stop offset="0.235" stop-color="#001cff"/><stop offset="0.256" stop-color="#000fff"/><stop offset="0.32" stop-color="#0025ff"/><stop offset="0.401" stop-color="#0020ff"/><stop offset="0.5" stop-color="#008eff"/><stop offset="0.551" stop-color="#00daff"/><stop offset="0.559" stop-color="#01e7f6"/><stop offset="0.575" stop-color="#15ffe2"/><stop offset="0.607" stop-color="#3affbd"/><stop offset="0.702" stop-color="#72ff85"/><stop offset="0.708" stop-color="#80ff76"/><stop offset="0.726" stop-color="#c7ff30"/><stop offset="0.732" stop-color="#d4ff23"/><stop offset="0.74" stop-color="#d2ff25"/><stop offset="0.757" stop-color="#aaff4d"/><stop offset="0.763" stop-color="#a7ff50"/><stop offset="0.767" stop-color="#b2ff45"/><stop offset="0.773" stop-color="#ddff1a"/><stop offset="0.775" stop-color="#f1fc06"/><stop offset="0.777" stop-color="#ffe200"/><stop offset="0.785" stop-color="#ff7500"/><stop offset="0.791" stop-color="#ff3e00"/><stop offset="0.799" stop-color="#ff1b00"/><stop offset="0.811" stop-color="#f50b00"/><stop offset="0.819" stop-color="#ff1500"/><stop offset="0.829" stop-color="#ff4500"/><stop offset="0.835" stop-color="#ff7400"/><stop offset="0.845" stop-color="#ffd900"/><stop offset="0.847" stop-color="#fdee00"/><stop offset="0.849" stop-color="#ecff0b"/><stop offset="0.858" stop-color="#b8ff3e"/><stop offset="0.864" stop-color="#aeff49"/><stop offset="0.886" stop-color="#eaff0d"/><stop offset="0.888" stop-color="#f8f400"/><stop offset="0.89" stop-color="#ffde00"/><stop offset="0.898" stop-color="#ff7500"/><stop offset="0.902" stop-color="#ff5600"/><stop offset="0.906" stop-color="#ff4800"/><stop offset="1" stop-color="#ff3c00"/></linearGradient><linearGradient id="r48"><stop offset="0" stop-color="#00f"/><stop offset="0.142" stop-color="#00f"/><stop offset="0.163" stop-color="#0000df"/><stop offset="0.177" stop-color="#0000d5"/><stop offset="0.211" stop-color="#00f"/><stop offset="0.227" stop-color="#0038ff"/><stop offset="0.235" stop-color="#0046ff"/><stop offset="0.256" stop-color="#002aff"/><stop offset="0.278" stop-color="#003bff"/><stop offset="0.32" stop-color="#004bff"/><stop offset="0.403" stop-color="#0047ff"/><stop offset="0.5" stop-color="#00a5ff"/><stop offset="0.542" stop-color="#00dbff"/><stop offset="0.551" stop-color="#00e6f6"/><stop offset="0.571" stop-color="#17ffe0"/><stop offset="0.607" stop-color="#3fffb7"/><stop offset="0.7" stop-color="#70ff86"/><stop offset="0.708" stop-color="#82ff75"/><stop offset="0.724" stop-color="#c1ff36"/><stop offset="0.732" stop-color="#d4ff22"/><stop offset="0.74" stop-color="#d3ff24"/><stop offset="0.757" stop-color="#aeff48"/><stop offset="0.763" stop-color="#adff4a"/><stop offset="0.767" stop-color="#b9ff3e"/><stop offset="0.773" stop-color="#e3ff14"/><stop offset="0.775" stop-color="#f7f500"/><stop offset="0.777" stop-color="#ffdc00"/><stop offset="0.785" stop-color="#ff7200"/><stop offset="0.791" stop-color="#ff3c00"/><stop offset="0.799" stop-color="#ff1900"/><stop offset="0.811" stop-color="#f30900"/><stop offset="0.819" stop-color="#fe1200"/><stop offset="0.829" stop-color="#ff4000"/><stop offset="0.837" stop-color="#ff7f00"/><stop offset="0.847" stop-color="#ffe200"/><stop offset="0.849" stop-color="#f7f500"/><stop offset="0.852" stop-color="#e7ff0f"/><stop offset="0.858" stop-color="#c5ff31"/><stop offset="0.864" stop-color="#bbff3c"/><stop offset="0.882" stop-color="#dfff17"/><stop offset="0.886" stop-color="#eeff09"/><stop offset="0.888" stop-color="#fcef00"/><stop offset="0.89" stop-color="#ffda00"/><stop offset="0.898" stop-color="#ff7300"/><stop offset="0.902" stop-color="#f50"/><stop offset="0.906" stop-color="#ff4800"/><stop offset="1" stop-color="#ff3c00"/></linearGradient><linearGradient id="r49"><stop offset="0" stop-color="#00f"/><stop offset="0.112" stop-color="#00f"/><stop offset="0.136" stop-color="#000dff"/><stop offset="0.153" stop-color="#00f"/><stop offset="0.167" stop-color="#0000e6"/><stop offset="0.177" stop-color="#00d"/><stop offset="0.183" stop-color="#0000e1"/><stop offset="0.199" stop-color="#00f"/><stop offset="0.205" stop-color="#00f"/><stop offset="0.213" stop-color="#001aff"/><stop offset="0.227" stop-color="#0063ff"/><stop offset="0.233" stop-color="#0074ff"/><stop offset="0.239" stop-color="#006fff"/><stop offset="0.252" stop-color="#004bff"/><stop offset="0.258" stop-color="#0046ff"/><stop offset="0.276" stop-color="#005eff"/><stop offset="0.32" stop-color="#0078ff"/><stop offset="0.403" stop-color="#007dff"/><stop offset="0.51" stop-color="#00dbff"/><stop offset="0.52" stop-color="#00e5f7"/><stop offset="0.544" stop-color="#15ffe2"/><stop offset="0.603" stop-color="#4effa9"/><stop offset="0.633" stop-color="#63ff94"/><stop offset="0.654" stop-color="#6eff89"/><stop offset="0.682" stop-color="#6bff8c"/><stop offset="0.7" stop-color="#77ff80"/><stop offset="0.708" stop-color="#88ff6f"/><stop offset="0.73" stop-color="#d7ff20"/><stop offset="0.74" stop-color="#dbff1c"/><stop offset="0.755" stop-color="#c3ff34"/><stop offset="0.761" stop-color="#c0ff36"/><stop offset="0.767" stop-color="#d1ff26"/><stop offset="0.771" stop-color="#eaff0d"/><stop offset="0.773" stop-color="#faf200"/><stop offset="0.775" stop-color="#ffdc00"/><stop offset="0.785" stop-color="#ff6500"/><stop offset="0.791" stop-color="#ff3400"/><stop offset="0.801" stop-color="#fc1000"/><stop offset="0.813" stop-color="#ec0300"/><stop offset="0.821" stop-color="#fa0f00"/><stop offset="0.829" stop-color="#ff3000"/><stop offset="0.837" stop-color="#ff6500"/><stop offset="0.854" stop-color="#ffe700"/><stop offset="0.858" stop-color="#f2fb05"/><stop offset="0.864" stop-color="#e7ff10"/><stop offset="0.88" stop-color="#f1fc05"/><stop offset="0.886" stop-color="#feed00"/><stop offset="0.89" stop-color="#ffc900"/><stop offset="0.898" stop-color="#ff6a00"/><stop offset="0.902" stop-color="#ff5000"/><stop offset="0.906" stop-color="#ff4600"/><stop offset="1" stop-color="#ff3d00"/></linearGradient><linearGradient id="r50"><stop offset="0" stop-color="#00f"/><stop offset="0.094" stop-color="#00f"/><stop offset="0.108" stop-color="#0008ff"/><stop offset="0.136" stop-color="#002aff"/><stop offset="0.144" stop-color="#0021ff"/><stop offset="0.157" stop-color="#00f"/><stop offset="0.177" stop-color="#0000e4"/><stop offset="0.183" stop-color="#0000e9"/><stop offset="0.193" stop-color="#0000fe"/><stop offset="0.201" stop-color="#0001ff"/><stop offset="0.211" stop-color="#0023ff"/><stop offset="0.227" stop-color="#0086ff"/><stop offset="0.233" stop-color="#009aff"/><stop offset="0.239" stop-color="#0094ff"/><stop offset="0.252" stop-color="#0061ff"/><stop offset="0.258" stop-color="#0059ff"/><stop offset="0.276" stop-color="#007bff"/><stop offset="0.318" stop-color="#009fff"/><stop offset="0.403" stop-color="#00b3ff"/><stop offset="0.454" stop-color="#00dbff"/><stop offset="0.468" stop-color="#01e7f6"/><stop offset="0.498" stop-color="#15ffe1"/><stop offset="0.649" stop-color="#89ff6e"/><stop offset="0.682" stop-color="#83ff74"/><stop offset="0.696" stop-color="#88ff6e"/><stop offset="0.706" stop-color="#98ff5f"/><stop offset="0.724" stop-color="#d7ff1f"/><stop offset="0.732" stop-color="#ebff0c"/><stop offset="0.742" stop-color="#eeff09"/><stop offset="0.757" stop-color="#e0ff16"/><stop offset="0.765" stop-color="#efff08"/><stop offset="0.769" stop-color="#ffe900"/><stop offset="0.773" stop-color="#ffc900"/><stop offset="0.783" stop-color="#ff6400"/><stop offset="0.789" stop-color="#ff3400"/><stop offset="0.797" stop-color="#ff1300"/><stop offset="0.807" stop-color="#e70000"/><stop offset="0.817" stop-color="#e20000"/><stop offset="0.825" stop-color="#f70c00"/><stop offset="0.827" stop-color="#ff1300"/><stop offset="0.835" stop-color="#ff3600"/><stop offset="0.852" stop-color="#ff9800"/><stop offset="0.858" stop-color="#ffb400"/><stop offset="0.882" stop-color="#ffd600"/><stop offset="0.886" stop-color="#ffcd00"/><stop offset="0.888" stop-color="#ffbf00"/><stop offset="0.898" stop-color="#ff5a00"/><stop offset="0.904" stop-color="#ff4300"/><stop offset="1" stop-color="#ff3e00"/></linearGradient><linearGradient id="r51"><stop offset="0" stop-color="#00f"/><stop offset="0.092" stop-color="#0001ff"/><stop offset="0.104" stop-color="#000eff"/><stop offset="0.126" stop-color="#003cff"/><stop offset="0.136" stop-color="#0045ff"/><stop offset="0.144" stop-color="#0038ff"/><stop offset="0.159" stop-color="#00f"/><stop offset="0.177" stop-color="#0000e8"/><stop offset="0.191" stop-color="#00f"/><stop offset="0.197" stop-color="#00f"/><stop offset="0.205" stop-color="#0013ff"/><stop offset="0.211" stop-color="#002cff"/><stop offset="0.227" stop-color="#0098ff"/><stop offset="0.233" stop-color="#00adff"/><stop offset="0.239" stop-color="#00a6ff"/><stop offset="0.252" stop-color="#006aff"/><stop offset="0.258" stop-color="#0060ff"/><stop offset="0.276" stop-color="#008dff"/><stop offset="0.318" stop-color="#00b8ff"/><stop offset="0.403" stop-color="#00dbff"/><stop offset="0.417" stop-color="#01e7f6"/><stop offset="0.447" stop-color="#15ffe2"/><stop offset="0.567" stop-color="#63ff94"/><stop offset="0.652" stop-color="#a9ff4e"/><stop offset="0.694" stop-color="#b0ff47"/><stop offset="0.706" stop-color="#c2ff35"/><stop offset="0.72" stop-color="#ecff0a"/><stop offset="0.726" stop-color="#feee00"/><stop offset="0.734" stop-color="#fd0"/><stop offset="0.755" stop-color="#fd0"/><stop offset="0.763" stop-color="#ffd000"/><stop offset="0.771" stop-color="#ffa900"/><stop offset="0.783" stop-color="#ff4c00"/><stop offset="0.789" stop-color="#ff2700"/><stop offset="0.795" stop-color="#fc1100"/><stop offset="0.803" stop-color="#e50000"/><stop offset="0.817" stop-color="#d40000"/><stop offset="0.829" stop-color="#eb0300"/><stop offset="0.835" stop-color="#ff1500"/><stop offset="0.856" stop-color="#ff6500"/><stop offset="0.872" stop-color="#ff8700"/><stop offset="0.882" stop-color="#ffa800"/><stop offset="0.886" stop-color="#ffa400"/><stop offset="0.888" stop-color="#f90"/><stop offset="0.896" stop-color="#ff5400"/><stop offset="0.902" stop-color="#ff3c00"/><stop offset="0.918" stop-color="#ff4700"/><stop offset="1" stop-color="#ff3f00"/></linearGradient><linearGradient id="r52"><stop offset="0" stop-color="#00f"/><stop offset="0.09" stop-color="#0001ff"/><stop offset="0.102" stop-color="#01f"/><stop offset="0.122" stop-color="#004bff"/><stop offset="0.132" stop-color="#0057ff"/><stop offset="0.142" stop-color="#0049ff"/><stop offset="0.159" stop-color="#0002ff"/><stop offset="0.177" stop-color="#0000e9"/><stop offset="0.191" stop-color="#00f"/><stop offset="0.197" stop-color="#00f"/><stop offset="0.205" stop-color="#0013ff"/><stop offset="0.211" stop-color="#002bff"/><stop offset="0.227" stop-color="#0092ff"/><stop offset="0.233" stop-color="#00a7ff"/><stop offset="0.239" stop-color="#00a0ff"/><stop offset="0.252" stop-color="#0064ff"/><stop offset="0.258" stop-color="#005aff"/><stop offset="0.276" stop-color="#008eff"/><stop offset="0.318" stop-color="#00beff"/><stop offset="0.367" stop-color="#00dbff"/><stop offset="0.387" stop-color="#00e5f7"/><stop offset="0.423" stop-color="#16ffe1"/><stop offset="0.601" stop-color="#8fff68"/><stop offset="0.654" stop-color="#c3ff34"/><stop offset="0.69" stop-color="#dcff1b"/><stop offset="0.704" stop-color="#effe07"/><stop offset="0.712" stop-color="#ffea00"/><stop offset="0.732" stop-color="#ffb800"/><stop offset="0.757" stop-color="#ffa900"/><stop offset="0.763" stop-color="#ff9e00"/><stop offset="0.771" stop-color="#ff8000"/><stop offset="0.785" stop-color="#ff3200"/><stop offset="0.791" stop-color="#ff1800"/><stop offset="0.801" stop-color="#e40000"/><stop offset="0.817" stop-color="#c80000"/><stop offset="0.827" stop-color="#d10000"/><stop offset="0.837" stop-color="#e70000"/><stop offset="0.845" stop-color="#ff1300"/><stop offset="0.868" stop-color="#ff4700"/><stop offset="0.88" stop-color="#ff7900"/><stop offset="0.884" stop-color="#ff8100"/><stop offset="0.888" stop-color="#ff7600"/><stop offset="0.896" stop-color="#ff3f00"/><stop offset="0.9" stop-color="#ff3200"/><stop offset="0.916" stop-color="#ff4800"/><stop offset="1" stop-color="#ff4000"/></linearGradient><linearGradient id="r53"><stop offset="0" stop-color="#00f"/><stop offset="0.09" stop-color="#0002ff"/><stop offset="0.1" stop-color="#0010ff"/><stop offset="0.118" stop-color="#004dff"/><stop offset="0.128" stop-color="#005dff"/><stop offset="0.14" stop-color="#004bff"/><stop offset="0.159" stop-color="#00f"/><stop offset="0.177" stop-color="#0000e6"/><stop offset="0.183" stop-color="#0000ea"/><stop offset="0.193" stop-color="#00f"/><stop offset="0.199" stop-color="#00f"/><stop offset="0.211" stop-color="#0021ff"/><stop offset="0.227" stop-color="#0078ff"/><stop offset="0.233" stop-color="#008aff"/><stop offset="0.239" stop-color="#0085ff"/><stop offset="0.252" stop-color="#0052ff"/><stop offset="0.258" stop-color="#0049ff"/><stop offset="0.276" stop-color="#007eff"/><stop offset="0.318" stop-color="#00afff"/><stop offset="0.385" stop-color="#00dcff"/><stop offset="0.401" stop-color="#01e7f6"/><stop offset="0.425" stop-color="#15ffe2"/><stop offset="0.504" stop-color="#54ffa2"/><stop offset="0.603" stop-color="#98ff5f"/><stop offset="0.686" stop-color="#efff08"/><stop offset="0.698" stop-color="#ffec00"/><stop offset="0.734" stop-color="#ffa000"/><stop offset="0.765" stop-color="#ff7e00"/><stop offset="0.775" stop-color="#ff6000"/><stop offset="0.793" stop-color="#ff1400"/><stop offset="0.801" stop-color="#e30000"/><stop offset="0.811" stop-color="#c90000"/><stop offset="0.819" stop-color="#c00000"/><stop offset="0.831" stop-color="#cb0000"/><stop offset="0.845" stop-color="#e70000"/><stop offset="0.854" stop-color="#fe1200"/><stop offset="0.868" stop-color="#ff2e00"/><stop offset="0.88" stop-color="#ff6500"/><stop offset="0.884" stop-color="#ff6e00"/><stop offset="0.888" stop-color="#ff6400"/><stop offset="0.896" stop-color="#ff3500"/><stop offset="0.9" stop-color="#ff2c00"/><stop offset="0.916" stop-color="#ff4900"/><stop offset="1" stop-color="#ff4100"/></linearGradient><linearGradient id="r54"><stop offset="0" stop-color="#00f"/><stop offset="0.09" stop-color="#0001ff"/><stop offset="0.102" stop-color="#0016ff"/><stop offset="0.118" stop-color="#004cff"/><stop offset="0.126" stop-color="#05f"/><stop offset="0.138" stop-color="#003fff"/><stop offset="0.155" stop-color="#0001ff"/><stop offset="0.159" stop-color="#00f"/><stop offset="0.167" stop-color="#0000ec"/><stop offset="0.177" stop-color="#0000e1"/><stop offset="0.183" stop-color="#0000e4"/><stop offset="0.197" stop-color="#0000fd"/><stop offset="0.205" stop-color="#00f"/><stop offset="0.213" stop-color="#0016ff"/><stop offset="0.227" stop-color="#0051ff"/><stop offset="0.233" stop-color="#005fff"/><stop offset="0.239" stop-color="#005dff"/><stop offset="0.252" stop-color="#0037ff"/><stop offset="0.258" stop-color="#0032ff"/><stop offset="0.272" stop-color="#005aff"/><stop offset="0.282" stop-color="#0069ff"/><stop offset="0.322" stop-color="#0093ff"/><stop offset="0.399" stop-color="#00c7ff"/><stop offset="0.417" stop-color="#00dcff"/><stop offset="0.425" stop-color="#00e5f7"/><stop offset="0.447" stop-color="#15ffe2"/><stop offset="0.516" stop-color="#53ffa4"/><stop offset="0.603" stop-color="#93ff64"/><stop offset="0.698" stop-color="#edff09"/><stop offset="0.708" stop-color="#ffec00"/><stop offset="0.738" stop-color="#ffa500"/><stop offset="0.773" stop-color="#f70"/><stop offset="0.779" stop-color="#ff6400"/><stop offset="0.797" stop-color="#fe1200"/><stop offset="0.803" stop-color="#e30000"/><stop offset="0.813" stop-color="#c60000"/><stop offset="0.819" stop-color="#c00000"/><stop offset="0.831" stop-color="#cd0000"/><stop offset="0.843" stop-color="#e80000"/><stop offset="0.852" stop-color="#ff1600"/><stop offset="0.868" stop-color="#ff3b00"/><stop offset="0.88" stop-color="#ff7000"/><stop offset="0.884" stop-color="#ff7800"/><stop offset="0.888" stop-color="#ff6d00"/><stop offset="0.896" stop-color="#ff3a00"/><stop offset="0.9" stop-color="#ff2f00"/><stop offset="0.916" stop-color="#ff4900"/><stop offset="1" stop-color="#ff4200"/></linearGradient><linearGradient id="r55"><stop offset="0" stop-color="#00f"/><stop offset="0.09" stop-color="#00f"/><stop offset="0.1" stop-color="#000dff"/><stop offset="0.116" stop-color="#0039ff"/><stop offset="0.122" stop-color="#0041ff"/><stop offset="0.132" stop-color="#0034ff"/><stop offset="0.151" stop-color="#00f"/><stop offset="0.155" stop-color="#0000fe"/><stop offset="0.167" stop-color="#0000e3"/><stop offset="0.177" stop-color="#0000db"/><stop offset="0.185" stop-color="#0000e0"/><stop offset="0.205" stop-color="#00f"/><stop offset="0.211" stop-color="#00f"/><stop offset="0.233" stop-color="#0035ff"/><stop offset="0.239" stop-color="#0035ff"/><stop offset="0.252" stop-color="#001dff"/><stop offset="0.258" stop-color="#001aff"/><stop offset="0.278" stop-color="#0042ff"/><stop offset="0.322" stop-color="#006aff"/><stop offset="0.401" stop-color="#009cff"/><stop offset="0.449" stop-color="#00daff"/><stop offset="0.458" stop-color="#00e5f7"/><stop offset="0.48" stop-color="#16ffe0"/><stop offset="0.559" stop-color="#62ff95"/><stop offset="0.652" stop-color="#afff48"/><stop offset="0.694" stop-color="#baff3c"/><stop offset="0.704" stop-color="#c8ff2e"/><stop offset="0.718" stop-color="#eeff08"/><stop offset="0.724" stop-color="#ffeb00"/><stop offset="0.742" stop-color="#ffc000"/><stop offset="0.771" stop-color="#ffa200"/><stop offset="0.777" stop-color="#ff9500"/><stop offset="0.783" stop-color="#ff7900"/><stop offset="0.799" stop-color="#ff1a00"/><stop offset="0.805" stop-color="#e70000"/><stop offset="0.813" stop-color="#c00"/><stop offset="0.819" stop-color="#c60000"/><stop offset="0.827" stop-color="#d10000"/><stop offset="0.835" stop-color="#e70000"/><stop offset="0.841" stop-color="#fe1200"/><stop offset="0.856" stop-color="#ff4900"/><stop offset="0.87" stop-color="#ff6d00"/><stop offset="0.88" stop-color="#ff9400"/><stop offset="0.884" stop-color="#ff9a00"/><stop offset="0.888" stop-color="#ff8c00"/><stop offset="0.898" stop-color="#ff4100"/><stop offset="0.902" stop-color="#ff3900"/><stop offset="0.918" stop-color="#ff4a00"/><stop offset="1" stop-color="#ff4200"/></linearGradient><linearGradient id="r56"><stop offset="0" stop-color="#00f"/><stop offset="0.094" stop-color="#00f"/><stop offset="0.12" stop-color="#0027ff"/><stop offset="0.128" stop-color="#0020ff"/><stop offset="0.142" stop-color="#00f"/><stop offset="0.146" stop-color="#00f"/><stop offset="0.165" stop-color="#0000de"/><stop offset="0.179" stop-color="#0000d5"/><stop offset="0.213" stop-color="#00f"/><stop offset="0.221" stop-color="#00f"/><stop offset="0.237" stop-color="#0016ff"/><stop offset="0.256" stop-color="#0007ff"/><stop offset="0.28" stop-color="#0026ff"/><stop offset="0.403" stop-color="#006cff"/><stop offset="0.484" stop-color="#00daff"/><stop offset="0.492" stop-color="#00e5f7"/><stop offset="0.512" stop-color="#15ffe2"/><stop offset="0.565" stop-color="#4cffab"/><stop offset="0.649" stop-color="#8fff68"/><stop offset="0.682" stop-color="#89ff6e"/><stop offset="0.696" stop-color="#90ff66"/><stop offset="0.706" stop-color="#a1ff56"/><stop offset="0.73" stop-color="#effe08"/><stop offset="0.738" stop-color="#ffeb00"/><stop offset="0.748" stop-color="#ffda00"/><stop offset="0.773" stop-color="#ffd100"/><stop offset="0.777" stop-color="#ffc900"/><stop offset="0.783" stop-color="#fa0"/><stop offset="0.797" stop-color="#ff3c00"/><stop offset="0.803" stop-color="#ff1500"/><stop offset="0.809" stop-color="#e20000"/><stop offset="0.815" stop-color="#d10000"/><stop offset="0.819" stop-color="#d00000"/><stop offset="0.829" stop-color="#e80000"/><stop offset="0.835" stop-color="#ff1700"/><stop offset="0.858" stop-color="#ff8e00"/><stop offset="0.882" stop-color="#ffc500"/><stop offset="0.886" stop-color="#ffbe00"/><stop offset="0.888" stop-color="#ffb200"/><stop offset="0.896" stop-color="#ff6500"/><stop offset="0.902" stop-color="#ff4500"/><stop offset="0.918" stop-color="#ff4a00"/><stop offset="1" stop-color="#ff4300"/></linearGradient><linearGradient id="r57"><stop offset="0" stop-color="#00f"/><stop offset="0.096" stop-color="#00f"/><stop offset="0.118" stop-color="#000fff"/><stop offset="0.138" stop-color="#00f"/><stop offset="0.157" stop-color="#0000e1"/><stop offset="0.179" stop-color="#0000d3"/><stop offset="0.203" stop-color="#0000e8"/><stop offset="0.219" stop-color="#00f"/><stop offset="0.237" stop-color="#0008ff"/><stop offset="0.256" stop-color="#00f"/><stop offset="0.276" stop-color="#0012ff"/><stop offset="0.318" stop-color="#0027ff"/><stop offset="0.399" stop-color="#0040ff"/><stop offset="0.516" stop-color="#00daff"/><stop offset="0.524" stop-color="#00e6f7"/><stop offset="0.542" stop-color="#15ffe2"/><stop offset="0.601" stop-color="#4dffaa"/><stop offset="0.649" stop-color="#71ff86"/><stop offset="0.678" stop-color="#6eff89"/><stop offset="0.692" stop-color="#75ff82"/><stop offset="0.706" stop-color="#89ff6e"/><stop offset="0.728" stop-color="#d8ff1f"/><stop offset="0.742" stop-color="#f4f903"/><stop offset="0.759" stop-color="#feee00"/><stop offset="0.775" stop-color="#f0fe07"/><stop offset="0.779" stop-color="#f9f300"/><stop offset="0.783" stop-color="#ffdb00"/><stop offset="0.797" stop-color="#ff5200"/><stop offset="0.805" stop-color="#ff1600"/><stop offset="0.811" stop-color="#e30000"/><stop offset="0.815" stop-color="#d90000"/><stop offset="0.819" stop-color="#d90000"/><stop offset="0.825" stop-color="#e90100"/><stop offset="0.829" stop-color="#fb1000"/><stop offset="0.839" stop-color="#ff4a00"/><stop offset="0.856" stop-color="#ffc500"/><stop offset="0.862" stop-color="#ffdf00"/><stop offset="0.868" stop-color="#ffe800"/><stop offset="0.882" stop-color="#ffeb00"/><stop offset="0.886" stop-color="#ffe000"/><stop offset="0.89" stop-color="#ffc000"/><stop offset="0.898" stop-color="#ff6800"/><stop offset="0.904" stop-color="#ff4b00"/><stop offset="1" stop-color="#ff4300"/></linearGradient><linearGradient id="r58"><stop offset="0" stop-color="#00f"/><stop offset="0.134" stop-color="#00f"/><stop offset="0.155" stop-color="#0000e3"/><stop offset="0.179" stop-color="#0000d5"/><stop offset="0.217" stop-color="#00f"/><stop offset="0.223" stop-color="#00f"/><stop offset="0.235" stop-color="#000fff"/><stop offset="0.256" stop-color="#0008ff"/><stop offset="0.32" stop-color="#0025ff"/><stop offset="0.399" stop-color="#0031ff"/><stop offset="0.476" stop-color="#08f"/><stop offset="0.538" stop-color="#00daff"/><stop offset="0.546" stop-color="#00e5f7"/><stop offset="0.567" stop-color="#16ffe1"/><stop offset="0.649" stop-color="#5bff9c"/><stop offset="0.688" stop-color="#68ff8e"/><stop offset="0.704" stop-color="#7dff7a"/><stop offset="0.728" stop-color="#d2ff25"/><stop offset="0.74" stop-color="#eaff0d"/><stop offset="0.759" stop-color="#f1fc06"/><stop offset="0.775" stop-color="#d3ff24"/><stop offset="0.779" stop-color="#daff1d"/><stop offset="0.783" stop-color="#f0fd07"/><stop offset="0.785" stop-color="#ffeb00"/><stop offset="0.797" stop-color="#ff6200"/><stop offset="0.801" stop-color="#ff3c00"/><stop offset="0.807" stop-color="#fe1200"/><stop offset="0.811" stop-color="#e80000"/><stop offset="0.815" stop-color="#d00"/><stop offset="0.819" stop-color="#de0000"/><stop offset="0.823" stop-color="#e90100"/><stop offset="0.829" stop-color="#ff1a00"/><stop offset="0.837" stop-color="#ff5000"/><stop offset="0.854" stop-color="#ffe400"/><stop offset="0.858" stop-color="#eeff09"/><stop offset="0.866" stop-color="#dbff1c"/><stop offset="0.884" stop-color="#f0fd06"/><stop offset="0.888" stop-color="#ffe600"/><stop offset="0.896" stop-color="#ff8900"/><stop offset="0.9" stop-color="#ff6300"/><stop offset="0.906" stop-color="#ff4d00"/><stop offset="1" stop-color="#ff4300"/></linearGradient><linearGradient id="r59"><stop offset="0" stop-color="#00f"/><stop offset="0.14" stop-color="#00f"/><stop offset="0.161" stop-color="#0000e6"/><stop offset="0.177" stop-color="#0000dc"/><stop offset="0.213" stop-color="#00f"/><stop offset="0.229" stop-color="#0027ff"/><stop offset="0.235" stop-color="#002dff"/><stop offset="0.256" stop-color="#001cff"/><stop offset="0.32" stop-color="#003cff"/><stop offset="0.401" stop-color="#0042ff"/><stop offset="0.498" stop-color="#00a1ff"/><stop offset="0.544" stop-color="#00d9ff"/><stop offset="0.555" stop-color="#00e6f6"/><stop offset="0.575" stop-color="#15ffe2"/><stop offset="0.609" stop-color="#36ffc1"/><stop offset="0.652" stop-color="#55ffa2"/><stop offset="0.682" stop-color="#62ff95"/><stop offset="0.7" stop-color="#76ff81"/><stop offset="0.708" stop-color="#88ff6f"/><stop offset="0.73" stop-color="#d6ff21"/><stop offset="0.744" stop-color="#eeff09"/><stop offset="0.759" stop-color="#edff09"/><stop offset="0.775" stop-color="#c9ff2d"/><stop offset="0.779" stop-color="#cfff27"/><stop offset="0.783" stop-color="#e5ff11"/><stop offset="0.785" stop-color="#f6f701"/><stop offset="0.787" stop-color="#ffe100"/><stop offset="0.797" stop-color="#ff6800"/><stop offset="0.801" stop-color="#ff3f00"/><stop offset="0.807" stop-color="#ff1300"/><stop offset="0.811" stop-color="#e80000"/><stop offset="0.815" stop-color="#d00"/><stop offset="0.819" stop-color="#de0000"/><stop offset="0.823" stop-color="#ea0200"/><stop offset="0.827" stop-color="#fe1200"/><stop offset="0.829" stop-color="#ff1d00"/><stop offset="0.837" stop-color="#ff5600"/><stop offset="0.852" stop-color="#ffe200"/><stop offset="0.854" stop-color="#f8f400"/><stop offset="0.856" stop-color="#ebff0c"/><stop offset="0.86" stop-color="#d7ff20"/><stop offset="0.866" stop-color="#ccff2a"/><stop offset="0.886" stop-color="#f3fa04"/><stop offset="0.888" stop-color="#ffec00"/><stop offset="0.898" stop-color="#ff7800"/><stop offset="0.902" stop-color="#ff5b00"/><stop offset="0.906" stop-color="#ff4f00"/><stop offset="1" stop-color="#ff4300"/></linearGradient><linearGradient id="r60"><stop offset="0" stop-color="#0001ff"/><stop offset="0.132" stop-color="#0007ff"/><stop offset="0.155" stop-color="#00f"/><stop offset="0.177" stop-color="#0000e8"/><stop offset="0.197" stop-color="#00f"/><stop offset="0.205" stop-color="#00f"/><stop offset="0.211" stop-color="#000cff"/><stop offset="0.227" stop-color="#004aff"/><stop offset="0.233" stop-color="#0057ff"/><stop offset="0.239" stop-color="#0054ff"/><stop offset="0.252" stop-color="#003aff"/><stop offset="0.258" stop-color="#0036ff"/><stop offset="0.278" stop-color="#004aff"/><stop offset="0.32" stop-color="#0061ff"/><stop offset="0.403" stop-color="#006eff"/><stop offset="0.528" stop-color="#00dbff"/><stop offset="0.538" stop-color="#00e6f7"/><stop offset="0.563" stop-color="#15ffe2"/><stop offset="0.635" stop-color="#53ffa4"/><stop offset="0.682" stop-color="#65ff92"/><stop offset="0.696" stop-color="#73ff84"/><stop offset="0.706" stop-color="#84ff73"/><stop offset="0.73" stop-color="#d7ff20"/><stop offset="0.744" stop-color="#effe08"/><stop offset="0.761" stop-color="#effe07"/><stop offset="0.775" stop-color="#d4ff22"/><stop offset="0.781" stop-color="#e5ff12"/><stop offset="0.783" stop-color="#f1fc05"/><stop offset="0.785" stop-color="#ffe900"/><stop offset="0.801" stop-color="#ff3a00"/><stop offset="0.807" stop-color="#fa0f00"/><stop offset="0.811" stop-color="#e30000"/><stop offset="0.815" stop-color="#d80000"/><stop offset="0.819" stop-color="#d80000"/><stop offset="0.825" stop-color="#ed0400"/><stop offset="0.829" stop-color="#ff1600"/><stop offset="0.837" stop-color="#ff4d00"/><stop offset="0.854" stop-color="#ffe100"/><stop offset="0.858" stop-color="#f0fd06"/><stop offset="0.86" stop-color="#e8ff0f"/><stop offset="0.868" stop-color="#ddff19"/><stop offset="0.884" stop-color="#f1fc05"/><stop offset="0.888" stop-color="#ffe500"/><stop offset="0.896" stop-color="#ff8900"/><stop offset="0.9" stop-color="#ff6400"/><stop offset="0.906" stop-color="#ff4e00"/><stop offset="1" stop-color="#f40"/></linearGradient><linearGradient id="r61"><stop offset="0" stop-color="#0006ff"/><stop offset="0.092" stop-color="#000cff"/><stop offset="0.112" stop-color="#0012ff"/><stop offset="0.136" stop-color="#0024ff"/><stop offset="0.144" stop-color="#001dff"/><stop offset="0.157" stop-color="#0001ff"/><stop offset="0.177" stop-color="#0000f4"/><stop offset="0.197" stop-color="#00f"/><stop offset="0.211" stop-color="#02f"/><stop offset="0.227" stop-color="#0074ff"/><stop offset="0.233" stop-color="#0084ff"/><stop offset="0.239" stop-color="#007eff"/><stop offset="0.252" stop-color="#0054ff"/><stop offset="0.258" stop-color="#004dff"/><stop offset="0.276" stop-color="#0068ff"/><stop offset="0.318" stop-color="#08f"/><stop offset="0.403" stop-color="#00a3ff"/><stop offset="0.476" stop-color="#00dbff"/><stop offset="0.49" stop-color="#00e6f7"/><stop offset="0.522" stop-color="#15ffe1"/><stop offset="0.649" stop-color="#73ff83"/><stop offset="0.69" stop-color="#76ff81"/><stop offset="0.706" stop-color="#8dff6a"/><stop offset="0.728" stop-color="#d8ff1f"/><stop offset="0.742" stop-color="#f4f903"/><stop offset="0.759" stop-color="#feed00"/><stop offset="0.775" stop-color="#f2fb05"/><stop offset="0.779" stop-color="#fbf100"/><stop offset="0.783" stop-color="#ffd800"/><stop offset="0.797" stop-color="#ff4f00"/><stop offset="0.803" stop-color="#ff1e00"/><stop offset="0.805" stop-color="#fd1100"/><stop offset="0.809" stop-color="#e40000"/><stop offset="0.813" stop-color="#d30000"/><stop offset="0.817" stop-color="#cd0000"/><stop offset="0.821" stop-color="#d20000"/><stop offset="0.827" stop-color="#e80000"/><stop offset="0.831" stop-color="#fd1200"/><stop offset="0.833" stop-color="#ff1c00"/><stop offset="0.841" stop-color="#ff5200"/><stop offset="0.854" stop-color="#ffb200"/><stop offset="0.86" stop-color="#ffd300"/><stop offset="0.866" stop-color="#ffe200"/><stop offset="0.88" stop-color="#ffe800"/><stop offset="0.886" stop-color="#ffde00"/><stop offset="0.89" stop-color="#ffbf00"/><stop offset="0.898" stop-color="#ff6700"/><stop offset="0.904" stop-color="#ff4c00"/><stop offset="1" stop-color="#f40"/></linearGradient><linearGradient id="r62"><stop offset="0" stop-color="#0009ff"/><stop offset="0.092" stop-color="#0012ff"/><stop offset="0.108" stop-color="#001eff"/><stop offset="0.136" stop-color="#0046ff"/><stop offset="0.144" stop-color="#003dff"/><stop offset="0.165" stop-color="#00f"/><stop offset="0.191" stop-color="#0001ff"/><stop offset="0.209" stop-color="#002bff"/><stop offset="0.215" stop-color="#0048ff"/><stop offset="0.227" stop-color="#0094ff"/><stop offset="0.233" stop-color="#00a6ff"/><stop offset="0.239" stop-color="#009eff"/><stop offset="0.252" stop-color="#0065ff"/><stop offset="0.258" stop-color="#005bff"/><stop offset="0.276" stop-color="#0080ff"/><stop offset="0.318" stop-color="#00a9ff"/><stop offset="0.411" stop-color="#00daff"/><stop offset="0.425" stop-color="#00e6f7"/><stop offset="0.46" stop-color="#16ffe1"/><stop offset="0.563" stop-color="#55ffa1"/><stop offset="0.649" stop-color="#94ff62"/><stop offset="0.68" stop-color="#8eff69"/><stop offset="0.694" stop-color="#94ff63"/><stop offset="0.706" stop-color="#a5ff51"/><stop offset="0.73" stop-color="#efff08"/><stop offset="0.738" stop-color="#ffec00"/><stop offset="0.748" stop-color="#ffda00"/><stop offset="0.777" stop-color="#ffc700"/><stop offset="0.783" stop-color="#fa0"/><stop offset="0.801" stop-color="#ff1c00"/><stop offset="0.803" stop-color="#fb1000"/><stop offset="0.807" stop-color="#e10000"/><stop offset="0.813" stop-color="#c60000"/><stop offset="0.819" stop-color="#c00000"/><stop offset="0.825" stop-color="#c00"/><stop offset="0.833" stop-color="#eb0300"/><stop offset="0.837" stop-color="#ff1500"/><stop offset="0.858" stop-color="#ff8600"/><stop offset="0.882" stop-color="#ffc200"/><stop offset="0.886" stop-color="#ffbc00"/><stop offset="0.888" stop-color="#ffb000"/><stop offset="0.896" stop-color="#ff6200"/><stop offset="0.902" stop-color="#f40"/><stop offset="0.918" stop-color="#ff4c00"/><stop offset="1" stop-color="#f40"/></linearGradient><linearGradient id="r63"><stop offset="0" stop-color="#000cff"/><stop offset="0.092" stop-color="#0017ff"/><stop offset="0.106" stop-color="#0029ff"/><stop offset="0.128" stop-color="#005dff"/><stop offset="0.136" stop-color="#0064ff"/><stop offset="0.144" stop-color="#0056ff"/><stop offset="0.159" stop-color="#001aff"/><stop offset="0.167" stop-color="#0003ff"/><stop offset="0.187" stop-color="#00f"/><stop offset="0.201" stop-color="#001aff"/><stop offset="0.209" stop-color="#0032ff"/><stop offset="0.215" stop-color="#0051ff"/><stop offset="0.227" stop-color="#00a1ff"/><stop offset="0.233" stop-color="#00b3ff"/><stop offset="0.239" stop-color="#0af"/><stop offset="0.252" stop-color="#0069ff"/><stop offset="0.258" stop-color="#005cff"/><stop offset="0.276" stop-color="#008bff"/><stop offset="0.318" stop-color="#0bf"/><stop offset="0.363" stop-color="#00dcff"/><stop offset="0.377" stop-color="#00e5f7"/><stop offset="0.413" stop-color="#15ffe1"/><stop offset="0.583" stop-color="#83ff74"/><stop offset="0.652" stop-color="#b8ff3f"/><stop offset="0.692" stop-color="#c0ff37"/><stop offset="0.704" stop-color="#ceff29"/><stop offset="0.716" stop-color="#ebff0c"/><stop offset="0.724" stop-color="#ffeb00"/><stop offset="0.746" stop-color="#ffb600"/><stop offset="0.777" stop-color="#ff9600"/><stop offset="0.785" stop-color="#ff7200"/><stop offset="0.799" stop-color="#ff1800"/><stop offset="0.803" stop-color="#ea0200"/><stop offset="0.805" stop-color="#de0000"/><stop offset="0.813" stop-color="#ba0000"/><stop offset="0.819" stop-color="#b10000"/><stop offset="0.829" stop-color="#c00000"/><stop offset="0.841" stop-color="#e90100"/><stop offset="0.847" stop-color="#ff1900"/><stop offset="0.88" stop-color="#ff8e00"/><stop offset="0.884" stop-color="#ff9500"/><stop offset="0.888" stop-color="#ff8600"/><stop offset="0.896" stop-color="#ff4600"/><stop offset="0.9" stop-color="#ff3600"/><stop offset="0.918" stop-color="#ff4c00"/><stop offset="1" stop-color="#ff4500"/></linearGradient><linearGradient id="r64"><stop offset="0" stop-color="#000dff"/><stop offset="0.092" stop-color="#001aff"/><stop offset="0.104" stop-color="#002fff"/><stop offset="0.122" stop-color="#0069ff"/><stop offset="0.132" stop-color="#0075ff"/><stop offset="0.142" stop-color="#0067ff"/><stop offset="0.159" stop-color="#001eff"/><stop offset="0.167" stop-color="#0005ff"/><stop offset="0.187" stop-color="#0001ff"/><stop offset="0.201" stop-color="#001aff"/><stop offset="0.209" stop-color="#0030ff"/><stop offset="0.215" stop-color="#004dff"/><stop offset="0.227" stop-color="#0097ff"/><stop offset="0.233" stop-color="#00a8ff"/><stop offset="0.239" stop-color="#009fff"/><stop offset="0.252" stop-color="#0060ff"/><stop offset="0.258" stop-color="#0053ff"/><stop offset="0.272" stop-color="#007fff"/><stop offset="0.284" stop-color="#0093ff"/><stop offset="0.32" stop-color="#00beff"/><stop offset="0.353" stop-color="#00daff"/><stop offset="0.367" stop-color="#01e6f6"/><stop offset="0.397" stop-color="#15ffe1"/><stop offset="0.502" stop-color="#66ff90"/><stop offset="0.601" stop-color="#a5ff51"/><stop offset="0.69" stop-color="#eeff09"/><stop offset="0.706" stop-color="#ffe900"/><stop offset="0.748" stop-color="#ff8c00"/><stop offset="0.777" stop-color="#ff7200"/><stop offset="0.785" stop-color="#ff5800"/><stop offset="0.797" stop-color="#ff1a00"/><stop offset="0.799" stop-color="#fa0f00"/><stop offset="0.803" stop-color="#e10000"/><stop offset="0.813" stop-color="#b10000"/><stop offset="0.821" stop-color="#a50000"/><stop offset="0.837" stop-color="#b80000"/><stop offset="0.854" stop-color="#ec0300"/><stop offset="0.86" stop-color="#ff1600"/><stop offset="0.87" stop-color="#ff3600"/><stop offset="0.88" stop-color="#f60"/><stop offset="0.884" stop-color="#ff6e00"/><stop offset="0.888" stop-color="#ff6200"/><stop offset="0.896" stop-color="#ff2e00"/><stop offset="0.9" stop-color="#ff2700"/><stop offset="0.916" stop-color="#ff4c00"/><stop offset="1" stop-color="#ff4500"/></linearGradient><linearGradient id="r65"><stop offset="0" stop-color="#000dff"/><stop offset="0.09" stop-color="#0018ff"/><stop offset="0.102" stop-color="#002dff"/><stop offset="0.12" stop-color="#006eff"/><stop offset="0.128" stop-color="#0078ff"/><stop offset="0.14" stop-color="#0065ff"/><stop offset="0.159" stop-color="#0017ff"/><stop offset="0.167" stop-color="#00f"/><stop offset="0.189" stop-color="#00f"/><stop offset="0.209" stop-color="#0026ff"/><stop offset="0.227" stop-color="#007aff"/><stop offset="0.233" stop-color="#0089ff"/><stop offset="0.239" stop-color="#0083ff"/><stop offset="0.252" stop-color="#004dff"/><stop offset="0.258" stop-color="#0042ff"/><stop offset="0.272" stop-color="#006fff"/><stop offset="0.282" stop-color="#0081ff"/><stop offset="0.322" stop-color="#00b2ff"/><stop offset="0.367" stop-color="#00dbff"/><stop offset="0.379" stop-color="#01e7f6"/><stop offset="0.405" stop-color="#15ffe2"/><stop offset="0.504" stop-color="#6aff8c"/><stop offset="0.605" stop-color="#b1ff46"/><stop offset="0.672" stop-color="#f0fe07"/><stop offset="0.688" stop-color="#ffec00"/><stop offset="0.706" stop-color="#ffd300"/><stop offset="0.753" stop-color="#ff7600"/><stop offset="0.781" stop-color="#ff6100"/><stop offset="0.789" stop-color="#ff4700"/><stop offset="0.799" stop-color="#ff1400"/><stop offset="0.803" stop-color="#e50000"/><stop offset="0.815" stop-color="#a80000"/><stop offset="0.825" stop-color="#9f0000"/><stop offset="0.837" stop-color="#a70000"/><stop offset="0.845" stop-color="#b60000"/><stop offset="0.858" stop-color="#e30000"/><stop offset="0.864" stop-color="#fe1200"/><stop offset="0.88" stop-color="#ff5a00"/><stop offset="0.884" stop-color="#ff6000"/><stop offset="0.888" stop-color="#ff5400"/><stop offset="0.894" stop-color="#ff2d00"/><stop offset="0.898" stop-color="#ff2000"/><stop offset="0.902" stop-color="#ff2400"/><stop offset="0.91" stop-color="#ff4200"/><stop offset="0.916" stop-color="#ff4c00"/><stop offset="1" stop-color="#ff4500"/></linearGradient><linearGradient id="r66"><stop offset="0" stop-color="#000dff"/><stop offset="0.09" stop-color="#0015ff"/><stop offset="0.102" stop-color="#002aff"/><stop offset="0.118" stop-color="#0063ff"/><stop offset="0.126" stop-color="#006bff"/><stop offset="0.138" stop-color="#0054ff"/><stop offset="0.157" stop-color="#0010ff"/><stop offset="0.163" stop-color="#00f"/><stop offset="0.197" stop-color="#0001ff"/><stop offset="0.211" stop-color="#001bff"/><stop offset="0.227" stop-color="#0054ff"/><stop offset="0.233" stop-color="#0060ff"/><stop offset="0.239" stop-color="#005dff"/><stop offset="0.252" stop-color="#0036ff"/><stop offset="0.258" stop-color="#002fff"/><stop offset="0.276" stop-color="#0060ff"/><stop offset="0.318" stop-color="#0095ff"/><stop offset="0.395" stop-color="#00dcff"/><stop offset="0.405" stop-color="#00e6f7"/><stop offset="0.429" stop-color="#16ffe1"/><stop offset="0.559" stop-color="#88ff6e"/><stop offset="0.696" stop-color="#f0fe07"/><stop offset="0.708" stop-color="#ffea00"/><stop offset="0.755" stop-color="#ff8400"/><stop offset="0.763" stop-color="#ff7900"/><stop offset="0.783" stop-color="#ff7400"/><stop offset="0.791" stop-color="#ff5700"/><stop offset="0.801" stop-color="#ff1a00"/><stop offset="0.805" stop-color="#e90100"/><stop offset="0.807" stop-color="#da0000"/><stop offset="0.813" stop-color="#b60000"/><stop offset="0.817" stop-color="#a70000"/><stop offset="0.829" stop-color="#a10000"/><stop offset="0.843" stop-color="#b00000"/><stop offset="0.849" stop-color="#c60000"/><stop offset="0.856" stop-color="#e70000"/><stop offset="0.86" stop-color="#ff1400"/><stop offset="0.876" stop-color="#ff6100"/><stop offset="0.882" stop-color="#ff7300"/><stop offset="0.886" stop-color="#ff6d00"/><stop offset="0.896" stop-color="#ff2c00"/><stop offset="0.9" stop-color="#ff2500"/><stop offset="0.91" stop-color="#ff4300"/><stop offset="0.916" stop-color="#ff4d00"/><stop offset="1" stop-color="#ff4500"/></linearGradient><linearGradient id="r67"><stop offset="0" stop-color="#000cff"/><stop offset="0.09" stop-color="#0012ff"/><stop offset="0.1" stop-color="#001fff"/><stop offset="0.116" stop-color="#004bff"/><stop offset="0.122" stop-color="#0053ff"/><stop offset="0.132" stop-color="#0045ff"/><stop offset="0.157" stop-color="#00f"/><stop offset="0.179" stop-color="#0000f2"/><stop offset="0.193" stop-color="#00f"/><stop offset="0.205" stop-color="#00f"/><stop offset="0.231" stop-color="#0037ff"/><stop offset="0.239" stop-color="#0038ff"/><stop offset="0.252" stop-color="#0020ff"/><stop offset="0.258" stop-color="#001cff"/><stop offset="0.276" stop-color="#04f"/><stop offset="0.318" stop-color="#07f"/><stop offset="0.399" stop-color="#00b9ff"/><stop offset="0.429" stop-color="#00daff"/><stop offset="0.439" stop-color="#00e5f7"/><stop offset="0.464" stop-color="#16ffe1"/><stop offset="0.563" stop-color="#74ff82"/><stop offset="0.633" stop-color="#a9ff4d"/><stop offset="0.654" stop-color="#b6ff41"/><stop offset="0.694" stop-color="#beff39"/><stop offset="0.704" stop-color="#cbff2c"/><stop offset="0.718" stop-color="#ecff0b"/><stop offset="0.726" stop-color="#ffeb00"/><stop offset="0.761" stop-color="#ff9d00"/><stop offset="0.767" stop-color="#ff9800"/><stop offset="0.779" stop-color="#ffa200"/><stop offset="0.785" stop-color="#ff9b00"/><stop offset="0.793" stop-color="#ff7400"/><stop offset="0.805" stop-color="#ff1500"/><stop offset="0.809" stop-color="#df0000"/><stop offset="0.813" stop-color="#c20000"/><stop offset="0.817" stop-color="#b00000"/><stop offset="0.827" stop-color="#a80000"/><stop offset="0.841" stop-color="#b90000"/><stop offset="0.847" stop-color="#d20000"/><stop offset="0.852" stop-color="#ed0400"/><stop offset="0.854" stop-color="#fe1200"/><stop offset="0.868" stop-color="#ff7500"/><stop offset="0.874" stop-color="#ff8e00"/><stop offset="0.88" stop-color="#ff9d00"/><stop offset="0.886" stop-color="#ff9200"/><stop offset="0.896" stop-color="#ff4100"/><stop offset="0.9" stop-color="#ff3200"/><stop offset="0.916" stop-color="#ff4d00"/><stop offset="1" stop-color="#ff4600"/></linearGradient><linearGradient id="r68"><stop offset="0" stop-color="#000cff"/><stop offset="0.088" stop-color="#000fff"/><stop offset="0.1" stop-color="#0018ff"/><stop offset="0.12" stop-color="#0036ff"/><stop offset="0.128" stop-color="#002fff"/><stop offset="0.148" stop-color="#00f"/><stop offset="0.179" stop-color="#0000eb"/><stop offset="0.203" stop-color="#00f"/><stop offset="0.215" stop-color="#0001ff"/><stop offset="0.235" stop-color="#001dff"/><stop offset="0.258" stop-color="#000fff"/><stop offset="0.276" stop-color="#002dff"/><stop offset="0.318" stop-color="#005aff"/><stop offset="0.401" stop-color="#0092ff"/><stop offset="0.474" stop-color="#00dbff"/><stop offset="0.484" stop-color="#00e6f7"/><stop offset="0.508" stop-color="#16ffe0"/><stop offset="0.565" stop-color="#55ffa2"/><stop offset="0.629" stop-color="#85ff72"/><stop offset="0.652" stop-color="#91ff66"/><stop offset="0.68" stop-color="#8fff68"/><stop offset="0.694" stop-color="#96ff61"/><stop offset="0.706" stop-color="#a8ff4f"/><stop offset="0.732" stop-color="#f0fd07"/><stop offset="0.74" stop-color="#ffea00"/><stop offset="0.763" stop-color="#fb0"/><stop offset="0.769" stop-color="#ffbc00"/><stop offset="0.779" stop-color="#ffd100"/><stop offset="0.785" stop-color="#ffce00"/><stop offset="0.789" stop-color="#ffbe00"/><stop offset="0.793" stop-color="#ffa200"/><stop offset="0.807" stop-color="#ff1a00"/><stop offset="0.811" stop-color="#e00000"/><stop offset="0.815" stop-color="#c40000"/><stop offset="0.819" stop-color="#b50000"/><stop offset="0.827" stop-color="#b20000"/><stop offset="0.839" stop-color="#c50000"/><stop offset="0.847" stop-color="#ef0600"/><stop offset="0.849" stop-color="#ff1400"/><stop offset="0.866" stop-color="#fa0"/><stop offset="0.87" stop-color="#ffc000"/><stop offset="0.876" stop-color="#ffcd00"/><stop offset="0.882" stop-color="#ffca00"/><stop offset="0.886" stop-color="#ffba00"/><stop offset="0.896" stop-color="#ff5900"/><stop offset="0.898" stop-color="#ff4b00"/><stop offset="0.902" stop-color="#ff3f00"/><stop offset="0.918" stop-color="#ff4e00"/><stop offset="1" stop-color="#ff4600"/></linearGradient><linearGradient id="r69"><stop offset="0" stop-color="#000dff"/><stop offset="0.086" stop-color="#000eff"/><stop offset="0.12" stop-color="#001fff"/><stop offset="0.142" stop-color="#00f"/><stop offset="0.179" stop-color="#0000e9"/><stop offset="0.207" stop-color="#00f"/><stop offset="0.219" stop-color="#0001ff"/><stop offset="0.235" stop-color="#0014ff"/><stop offset="0.258" stop-color="#000cff"/><stop offset="0.318" stop-color="#0049ff"/><stop offset="0.405" stop-color="#0076ff"/><stop offset="0.498" stop-color="#00c4ff"/><stop offset="0.514" stop-color="#00daff"/><stop offset="0.522" stop-color="#00e6f7"/><stop offset="0.54" stop-color="#16ffe1"/><stop offset="0.607" stop-color="#56ffa1"/><stop offset="0.694" stop-color="#83ff74"/><stop offset="0.706" stop-color="#95ff62"/><stop offset="0.728" stop-color="#d7ff20"/><stop offset="0.738" stop-color="#ecff0a"/><stop offset="0.748" stop-color="#feed00"/><stop offset="0.765" stop-color="#ffd200"/><stop offset="0.775" stop-color="#ffec00"/><stop offset="0.779" stop-color="#f3fa04"/><stop offset="0.785" stop-color="#f0fe07"/><stop offset="0.789" stop-color="#feed00"/><stop offset="0.793" stop-color="#ffcd00"/><stop offset="0.809" stop-color="#ff1700"/><stop offset="0.811" stop-color="#ee0500"/><stop offset="0.813" stop-color="#db0000"/><stop offset="0.819" stop-color="#b00"/><stop offset="0.825" stop-color="#b80000"/><stop offset="0.835" stop-color="#c60000"/><stop offset="0.843" stop-color="#e80000"/><stop offset="0.847" stop-color="#ff1b00"/><stop offset="0.852" stop-color="#ff4200"/><stop offset="0.864" stop-color="#ffd100"/><stop offset="0.868" stop-color="#fcf000"/><stop offset="0.872" stop-color="#f1fc06"/><stop offset="0.878" stop-color="#f5f701"/><stop offset="0.884" stop-color="#ffe400"/><stop offset="0.888" stop-color="#ffc700"/><stop offset="0.896" stop-color="#ff6d00"/><stop offset="0.898" stop-color="#ff5c00"/><stop offset="0.902" stop-color="#ff4a00"/><stop offset="1" stop-color="#ff4600"/></linearGradient><linearGradient id="r70"><stop offset="0" stop-color="#000fff"/><stop offset="0.116" stop-color="#0014ff"/><stop offset="0.138" stop-color="#0001ff"/><stop offset="0.151" stop-color="#00f"/><stop offset="0.179" stop-color="#0000ed"/><stop offset="0.201" stop-color="#0000fe"/><stop offset="0.213" stop-color="#00f"/><stop offset="0.233" stop-color="#0020ff"/><stop offset="0.258" stop-color="#0017ff"/><stop offset="0.32" stop-color="#0050ff"/><stop offset="0.403" stop-color="#006eff"/><stop offset="0.498" stop-color="#00a7ff"/><stop offset="0.536" stop-color="#00dbff"/><stop offset="0.544" stop-color="#01e6f6"/><stop offset="0.563" stop-color="#16ffe1"/><stop offset="0.605" stop-color="#3fffb7"/><stop offset="0.68" stop-color="#70ff86"/><stop offset="0.7" stop-color="#86ff71"/><stop offset="0.708" stop-color="#96ff61"/><stop offset="0.732" stop-color="#dcff1b"/><stop offset="0.742" stop-color="#efff08"/><stop offset="0.753" stop-color="#fdee00"/><stop offset="0.765" stop-color="#ffde00"/><stop offset="0.771" stop-color="#fdef00"/><stop offset="0.775" stop-color="#ecff0b"/><stop offset="0.783" stop-color="#d4ff23"/><stop offset="0.789" stop-color="#e3ff13"/><stop offset="0.791" stop-color="#f1fc06"/><stop offset="0.793" stop-color="#ffe900"/><stop offset="0.809" stop-color="#ff2000"/><stop offset="0.811" stop-color="#f60c00"/><stop offset="0.813" stop-color="#e20000"/><stop offset="0.817" stop-color="#c60000"/><stop offset="0.823" stop-color="#ba0000"/><stop offset="0.833" stop-color="#c70000"/><stop offset="0.841" stop-color="#e60000"/><stop offset="0.845" stop-color="#ff1800"/><stop offset="0.852" stop-color="#ff5400"/><stop offset="0.862" stop-color="#ffdc00"/><stop offset="0.864" stop-color="#f9f300"/><stop offset="0.866" stop-color="#e9ff0e"/><stop offset="0.872" stop-color="#d4ff22"/><stop offset="0.882" stop-color="#efff08"/><stop offset="0.886" stop-color="#ffe700"/><stop offset="0.888" stop-color="#ffd500"/><stop offset="0.898" stop-color="#ff6500"/><stop offset="0.904" stop-color="#ff4d00"/><stop offset="1" stop-color="#ff4600"/></linearGradient><linearGradient id="r71"><stop offset="0" stop-color="#0012ff"/><stop offset="0.1" stop-color="#0016ff"/><stop offset="0.13" stop-color="#0010ff"/><stop offset="0.148" stop-color="#00f"/><stop offset="0.177" stop-color="#0000f7"/><stop offset="0.203" stop-color="#00f"/><stop offset="0.233" stop-color="#0041ff"/><stop offset="0.258" stop-color="#002dff"/><stop offset="0.322" stop-color="#006eff"/><stop offset="0.405" stop-color="#0086ff"/><stop offset="0.5" stop-color="#00aeff"/><stop offset="0.538" stop-color="#00dcfe"/><stop offset="0.546" stop-color="#01e7f6"/><stop offset="0.567" stop-color="#16ffe0"/><stop offset="0.605" stop-color="#3dffba"/><stop offset="0.68" stop-color="#73ff84"/><stop offset="0.7" stop-color="#89ff6e"/><stop offset="0.708" stop-color="#98ff5f"/><stop offset="0.732" stop-color="#dbff1b"/><stop offset="0.742" stop-color="#eeff09"/><stop offset="0.755" stop-color="#ffec00"/><stop offset="0.763" stop-color="#ffdf00"/><stop offset="0.769" stop-color="#ffea00"/><stop offset="0.773" stop-color="#f1fc06"/><stop offset="0.779" stop-color="#d6ff21"/><stop offset="0.783" stop-color="#cdff2a"/><stop offset="0.787" stop-color="#d3ff23"/><stop offset="0.791" stop-color="#ebff0c"/><stop offset="0.793" stop-color="#fcf000"/><stop offset="0.795" stop-color="#ffd800"/><stop offset="0.809" stop-color="#ff2100"/><stop offset="0.811" stop-color="#f70d00"/><stop offset="0.813" stop-color="#e20000"/><stop offset="0.817" stop-color="#c60000"/><stop offset="0.823" stop-color="#ba0000"/><stop offset="0.833" stop-color="#c80000"/><stop offset="0.841" stop-color="#e90100"/><stop offset="0.845" stop-color="#ff1b00"/><stop offset="0.849" stop-color="#ff4100"/><stop offset="0.862" stop-color="#ffe400"/><stop offset="0.864" stop-color="#f2fb05"/><stop offset="0.866" stop-color="#e1ff15"/><stop offset="0.872" stop-color="#ceff29"/><stop offset="0.882" stop-color="#ebff0c"/><stop offset="0.884" stop-color="#f5f802"/><stop offset="0.886" stop-color="#ffea00"/><stop offset="0.888" stop-color="#ffd800"/><stop offset="0.898" stop-color="#ff6800"/><stop offset="0.904" stop-color="#ff4e00"/><stop offset="1" stop-color="#ff4700"/></linearGradient><linearGradient id="r72"><stop offset="0" stop-color="#0016ff"/><stop offset="0.136" stop-color="#02f"/><stop offset="0.163" stop-color="#00f"/><stop offset="0.191" stop-color="#00f"/><stop offset="0.209" stop-color="#001dff"/><stop offset="0.227" stop-color="#0062ff"/><stop offset="0.233" stop-color="#006fff"/><stop offset="0.239" stop-color="#006bff"/><stop offset="0.252" stop-color="#004dff"/><stop offset="0.258" stop-color="#0048ff"/><stop offset="0.322" stop-color="#0097ff"/><stop offset="0.508" stop-color="#00dbff"/><stop offset="0.518" stop-color="#00e6f6"/><stop offset="0.542" stop-color="#16ffe1"/><stop offset="0.605" stop-color="#4fffa7"/><stop offset="0.696" stop-color="#8bff6c"/><stop offset="0.706" stop-color="#99ff5e"/><stop offset="0.728" stop-color="#d4ff23"/><stop offset="0.74" stop-color="#ecff0b"/><stop offset="0.753" stop-color="#feed00"/><stop offset="0.765" stop-color="#ffdb00"/><stop offset="0.771" stop-color="#ffe900"/><stop offset="0.775" stop-color="#f2fb05"/><stop offset="0.783" stop-color="#dcff1a"/><stop offset="0.789" stop-color="#edff0a"/><stop offset="0.793" stop-color="#ffdf00"/><stop offset="0.809" stop-color="#ff1c00"/><stop offset="0.811" stop-color="#f20800"/><stop offset="0.813" stop-color="#de0000"/><stop offset="0.819" stop-color="#bc0000"/><stop offset="0.825" stop-color="#b90000"/><stop offset="0.835" stop-color="#cb0000"/><stop offset="0.841" stop-color="#e50000"/><stop offset="0.843" stop-color="#f20800"/><stop offset="0.845" stop-color="#ff1500"/><stop offset="0.852" stop-color="#ff5000"/><stop offset="0.864" stop-color="#ffe800"/><stop offset="0.866" stop-color="#f2fb04"/><stop offset="0.868" stop-color="#e7ff10"/><stop offset="0.874" stop-color="#dfff18"/><stop offset="0.88" stop-color="#edff09"/><stop offset="0.884" stop-color="#fdef00"/><stop offset="0.888" stop-color="#ffd000"/><stop offset="0.898" stop-color="#ff6400"/><stop offset="0.904" stop-color="#ff4d00"/><stop offset="1" stop-color="#ff4700"/></linearGradient><linearGradient id="r73"><stop offset="0" stop-color="#001bff"/><stop offset="0.092" stop-color="#02f"/><stop offset="0.11" stop-color="#0029ff"/><stop offset="0.138" stop-color="#0041ff"/><stop offset="0.146" stop-color="#0036ff"/><stop offset="0.165" stop-color="#000bff"/><stop offset="0.181" stop-color="#0001ff"/><stop offset="0.207" stop-color="#002bff"/><stop offset="0.215" stop-color="#004aff"/><stop offset="0.227" stop-color="#008cff"/><stop offset="0.233" stop-color="#009bff"/><stop offset="0.239" stop-color="#0094ff"/><stop offset="0.252" stop-color="#0067ff"/><stop offset="0.258" stop-color="#005eff"/><stop offset="0.278" stop-color="#0086ff"/><stop offset="0.324" stop-color="#00c2ff"/><stop offset="0.371" stop-color="#00dbff"/><stop offset="0.395" stop-color="#00e6f6"/><stop offset="0.466" stop-color="#15ffe2"/><stop offset="0.506" stop-color="#22ffd5"/><stop offset="0.631" stop-color="#81ff76"/><stop offset="0.688" stop-color="#93ff64"/><stop offset="0.706" stop-color="#a7ff50"/><stop offset="0.736" stop-color="#ebff0b"/><stop offset="0.742" stop-color="#f7f600"/><stop offset="0.748" stop-color="#ffea00"/><stop offset="0.765" stop-color="#fc0"/><stop offset="0.783" stop-color="#fdee00"/><stop offset="0.787" stop-color="#ffe500"/><stop offset="0.793" stop-color="#ffbc00"/><stop offset="0.807" stop-color="#ff2300"/><stop offset="0.809" stop-color="#fc1000"/><stop offset="0.811" stop-color="#e60000"/><stop offset="0.817" stop-color="#bc0000"/><stop offset="0.823" stop-color="#b30000"/><stop offset="0.835" stop-color="#c40000"/><stop offset="0.843" stop-color="#e40000"/><stop offset="0.847" stop-color="#ff1600"/><stop offset="0.852" stop-color="#ff3900"/><stop offset="0.862" stop-color="#fa0"/><stop offset="0.866" stop-color="#ffce00"/><stop offset="0.87" stop-color="#ffe400"/><stop offset="0.874" stop-color="#ffeb00"/><stop offset="0.88" stop-color="#ffe400"/><stop offset="0.886" stop-color="#fc0"/><stop offset="0.896" stop-color="#ff6800"/><stop offset="0.902" stop-color="#ff4900"/><stop offset="0.918" stop-color="#ff4f00"/><stop offset="1" stop-color="#ff4700"/></linearGradient><linearGradient id="r74"><stop offset="0" stop-color="#001eff"/><stop offset="0.092" stop-color="#0028ff"/><stop offset="0.106" stop-color="#0034ff"/><stop offset="0.136" stop-color="#0064ff"/><stop offset="0.144" stop-color="#005aff"/><stop offset="0.165" stop-color="#0017ff"/><stop offset="0.181" stop-color="#000aff"/><stop offset="0.197" stop-color="#02f"/><stop offset="0.207" stop-color="#0039ff"/><stop offset="0.215" stop-color="#005dff"/><stop offset="0.227" stop-color="#0af"/><stop offset="0.233" stop-color="#0bf"/><stop offset="0.239" stop-color="#00b2ff"/><stop offset="0.252" stop-color="#07f"/><stop offset="0.258" stop-color="#006bff"/><stop offset="0.276" stop-color="#009aff"/><stop offset="0.318" stop-color="#00dcfe"/><stop offset="0.363" stop-color="#15ffe2"/><stop offset="0.403" stop-color="#2affcd"/><stop offset="0.504" stop-color="#4bffac"/><stop offset="0.635" stop-color="#aaff4d"/><stop offset="0.69" stop-color="#b4ff43"/><stop offset="0.706" stop-color="#c4ff32"/><stop offset="0.728" stop-color="#effe07"/><stop offset="0.736" stop-color="#feed00"/><stop offset="0.765" stop-color="#ffb400"/><stop offset="0.779" stop-color="#ffc000"/><stop offset="0.785" stop-color="#ffba00"/><stop offset="0.793" stop-color="#ff9000"/><stop offset="0.807" stop-color="#fd1100"/><stop offset="0.809" stop-color="#ea0100"/><stop offset="0.811" stop-color="#d80000"/><stop offset="0.817" stop-color="#b40000"/><stop offset="0.825" stop-color="#ac0000"/><stop offset="0.839" stop-color="#c10000"/><stop offset="0.847" stop-color="#e70000"/><stop offset="0.852" stop-color="#ff1b00"/><stop offset="0.866" stop-color="#ff9200"/><stop offset="0.872" stop-color="#ffae00"/><stop offset="0.878" stop-color="#ffb900"/><stop offset="0.882" stop-color="#ffb800"/><stop offset="0.886" stop-color="#fa0"/><stop offset="0.896" stop-color="#ff5200"/><stop offset="0.902" stop-color="#ff3e00"/><stop offset="0.918" stop-color="#ff4f00"/><stop offset="1" stop-color="#ff4800"/></linearGradient><linearGradient id="r75"><stop offset="0" stop-color="#0021ff"/><stop offset="0.092" stop-color="#002dff"/><stop offset="0.104" stop-color="#003dff"/><stop offset="0.126" stop-color="#0076ff"/><stop offset="0.136" stop-color="#0080ff"/><stop offset="0.144" stop-color="#0071ff"/><stop offset="0.165" stop-color="#001eff"/><stop offset="0.173" stop-color="#0010ff"/><stop offset="0.181" stop-color="#000eff"/><stop offset="0.197" stop-color="#0027ff"/><stop offset="0.207" stop-color="#003fff"/><stop offset="0.213" stop-color="#0059ff"/><stop offset="0.225" stop-color="#00a8ff"/><stop offset="0.231" stop-color="#00c3ff"/><stop offset="0.235" stop-color="#00c5ff"/><stop offset="0.239" stop-color="#00bcff"/><stop offset="0.252" stop-color="#007aff"/><stop offset="0.258" stop-color="#006dff"/><stop offset="0.28" stop-color="#00adff"/><stop offset="0.306" stop-color="#00daff"/><stop offset="0.322" stop-color="#0cf5eb"/><stop offset="0.334" stop-color="#16ffe1"/><stop offset="0.403" stop-color="#45ffb1"/><stop offset="0.504" stop-color="#6bff8c"/><stop offset="0.635" stop-color="#d1ff26"/><stop offset="0.654" stop-color="#dbff1c"/><stop offset="0.686" stop-color="#dfff18"/><stop offset="0.704" stop-color="#eeff08"/><stop offset="0.716" stop-color="#ffec00"/><stop offset="0.765" stop-color="#ff9700"/><stop offset="0.779" stop-color="#ff9300"/><stop offset="0.785" stop-color="#ff8900"/><stop offset="0.793" stop-color="#ff6400"/><stop offset="0.803" stop-color="#ff1c00"/><stop offset="0.807" stop-color="#e70000"/><stop offset="0.815" stop-color="#b30000"/><stop offset="0.823" stop-color="#a50000"/><stop offset="0.841" stop-color="#b70000"/><stop offset="0.847" stop-color="#cd0000"/><stop offset="0.852" stop-color="#e40000"/><stop offset="0.856" stop-color="#ff1500"/><stop offset="0.87" stop-color="#ff6700"/><stop offset="0.878" stop-color="#ff8300"/><stop offset="0.882" stop-color="#ff8900"/><stop offset="0.886" stop-color="#ff8000"/><stop offset="0.896" stop-color="#ff3a00"/><stop offset="0.9" stop-color="#ff2f00"/><stop offset="0.916" stop-color="#ff4f00"/><stop offset="1" stop-color="#ff4800"/></linearGradient><linearGradient id="r76"><stop offset="0" stop-color="#02f"/><stop offset="0.09" stop-color="#002dff"/><stop offset="0.102" stop-color="#0040ff"/><stop offset="0.122" stop-color="#0083ff"/><stop offset="0.132" stop-color="#008fff"/><stop offset="0.142" stop-color="#007eff"/><stop offset="0.159" stop-color="#03f"/><stop offset="0.165" stop-color="#001fff"/><stop offset="0.173" stop-color="#0010ff"/><stop offset="0.181" stop-color="#000eff"/><stop offset="0.207" stop-color="#003dff"/><stop offset="0.213" stop-color="#05f"/><stop offset="0.225" stop-color="#009dff"/><stop offset="0.231" stop-color="#00b5ff"/><stop offset="0.235" stop-color="#00b8ff"/><stop offset="0.239" stop-color="#00b0ff"/><stop offset="0.252" stop-color="#0071ff"/><stop offset="0.258" stop-color="#0065ff"/><stop offset="0.278" stop-color="#00a8ff"/><stop offset="0.306" stop-color="#00ddfe"/><stop offset="0.328" stop-color="#15ffe2"/><stop offset="0.403" stop-color="#51ffa6"/><stop offset="0.504" stop-color="#7cff7a"/><stop offset="0.639" stop-color="#effe07"/><stop offset="0.658" stop-color="#fcef00"/><stop offset="0.688" stop-color="#ffe300"/><stop offset="0.753" stop-color="#f90"/><stop offset="0.785" stop-color="#ff6100"/><stop offset="0.791" stop-color="#ff4a00"/><stop offset="0.801" stop-color="#ff1300"/><stop offset="0.805" stop-color="#e40000"/><stop offset="0.815" stop-color="#ac0000"/><stop offset="0.819" stop-color="#a30000"/><stop offset="0.825" stop-color="#a20000"/><stop offset="0.843" stop-color="#b50000"/><stop offset="0.849" stop-color="#c70000"/><stop offset="0.858" stop-color="#eb0300"/><stop offset="0.862" stop-color="#ff1400"/><stop offset="0.882" stop-color="#ff6200"/><stop offset="0.886" stop-color="#ff5e00"/><stop offset="0.894" stop-color="#ff2f00"/><stop offset="0.898" stop-color="#ff2300"/><stop offset="0.902" stop-color="#ff2700"/><stop offset="0.91" stop-color="#ff4500"/><stop offset="0.916" stop-color="#ff4f00"/><stop offset="1" stop-color="#ff4800"/></linearGradient><linearGradient id="r77"><stop offset="0" stop-color="#02f"/><stop offset="0.09" stop-color="#002cff"/><stop offset="0.102" stop-color="#0042ff"/><stop offset="0.12" stop-color="#0085ff"/><stop offset="0.128" stop-color="#008eff"/><stop offset="0.14" stop-color="#0079ff"/><stop offset="0.157" stop-color="#03f"/><stop offset="0.165" stop-color="#0018ff"/><stop offset="0.173" stop-color="#000bff"/><stop offset="0.181" stop-color="#0009ff"/><stop offset="0.207" stop-color="#0034ff"/><stop offset="0.231" stop-color="#0097ff"/><stop offset="0.239" stop-color="#0094ff"/><stop offset="0.252" stop-color="#0061ff"/><stop offset="0.258" stop-color="#0058ff"/><stop offset="0.278" stop-color="#009bff"/><stop offset="0.31" stop-color="#00dbff"/><stop offset="0.322" stop-color="#09f1ee"/><stop offset="0.336" stop-color="#15ffe2"/><stop offset="0.403" stop-color="#4dffaa"/><stop offset="0.504" stop-color="#7eff79"/><stop offset="0.629" stop-color="#efff08"/><stop offset="0.647" stop-color="#ffec00"/><stop offset="0.684" stop-color="#ffd800"/><stop offset="0.712" stop-color="#ffb900"/><stop offset="0.753" stop-color="#ff9c00"/><stop offset="0.783" stop-color="#ff4d00"/><stop offset="0.797" stop-color="#ff1600"/><stop offset="0.803" stop-color="#e10000"/><stop offset="0.813" stop-color="#b10000"/><stop offset="0.821" stop-color="#a60000"/><stop offset="0.841" stop-color="#c00000"/><stop offset="0.856" stop-color="#e40000"/><stop offset="0.866" stop-color="#ff1800"/><stop offset="0.88" stop-color="#ff5000"/><stop offset="0.884" stop-color="#ff5600"/><stop offset="0.888" stop-color="#ff4b00"/><stop offset="0.894" stop-color="#ff2a00"/><stop offset="0.898" stop-color="#ff2000"/><stop offset="0.902" stop-color="#ff2600"/><stop offset="0.912" stop-color="#ff4a00"/><stop offset="0.916" stop-color="#ff4f00"/><stop offset="1" stop-color="#ff4800"/></linearGradient><linearGradient id="r78"><stop offset="0" stop-color="#0021ff"/><stop offset="0.09" stop-color="#0029ff"/><stop offset="0.1" stop-color="#0039ff"/><stop offset="0.116" stop-color="#0071ff"/><stop offset="0.124" stop-color="#007fff"/><stop offset="0.136" stop-color="#006cff"/><stop offset="0.163" stop-color="#0012ff"/><stop offset="0.173" stop-color="#0003ff"/><stop offset="0.181" stop-color="#0002ff"/><stop offset="0.207" stop-color="#0026ff"/><stop offset="0.227" stop-color="#0068ff"/><stop offset="0.233" stop-color="#0074ff"/><stop offset="0.239" stop-color="#0071ff"/><stop offset="0.252" stop-color="#004fff"/><stop offset="0.258" stop-color="#0049ff"/><stop offset="0.276" stop-color="#0083ff"/><stop offset="0.318" stop-color="#00d8ff"/><stop offset="0.33" stop-color="#01e7f6"/><stop offset="0.357" stop-color="#15ffe2"/><stop offset="0.405" stop-color="#3bffbc"/><stop offset="0.502" stop-color="#70ff86"/><stop offset="0.641" stop-color="#eeff09"/><stop offset="0.649" stop-color="#f4f903"/><stop offset="0.686" stop-color="#ffec00"/><stop offset="0.718" stop-color="#ffce00"/><stop offset="0.755" stop-color="#ffb900"/><stop offset="0.763" stop-color="#ff9e00"/><stop offset="0.793" stop-color="#ff1900"/><stop offset="0.795" stop-color="#fe1200"/><stop offset="0.801" stop-color="#e20000"/><stop offset="0.811" stop-color="#b00"/><stop offset="0.817" stop-color="#b10000"/><stop offset="0.825" stop-color="#bd0000"/><stop offset="0.841" stop-color="#e80000"/><stop offset="0.849" stop-color="#ff1300"/><stop offset="0.868" stop-color="#ff3700"/><stop offset="0.88" stop-color="#ff6300"/><stop offset="0.884" stop-color="#ff6a00"/><stop offset="0.888" stop-color="#ff5e00"/><stop offset="0.896" stop-color="#ff3100"/><stop offset="0.9" stop-color="#ff2b00"/><stop offset="0.916" stop-color="#ff5000"/><stop offset="1" stop-color="#ff4900"/></linearGradient><linearGradient id="r79"><stop offset="0" stop-color="#0020ff"/><stop offset="0.09" stop-color="#0026ff"/><stop offset="0.1" stop-color="#03f"/><stop offset="0.116" stop-color="#005dff"/><stop offset="0.122" stop-color="#0064ff"/><stop offset="0.13" stop-color="#005bff"/><stop offset="0.153" stop-color="#001aff"/><stop offset="0.163" stop-color="#0005ff"/><stop offset="0.187" stop-color="#00f"/><stop offset="0.209" stop-color="#001cff"/><stop offset="0.233" stop-color="#0051ff"/><stop offset="0.239" stop-color="#0052ff"/><stop offset="0.252" stop-color="#003eff"/><stop offset="0.258" stop-color="#003dff"/><stop offset="0.276" stop-color="#006eff"/><stop offset="0.322" stop-color="#00c5ff"/><stop offset="0.351" stop-color="#00dbff"/><stop offset="0.363" stop-color="#00e5f7"/><stop offset="0.395" stop-color="#15ffe2"/><stop offset="0.502" stop-color="#5aff9d"/><stop offset="0.563" stop-color="#9aff5c"/><stop offset="0.635" stop-color="#d3ff24"/><stop offset="0.688" stop-color="#e1ff16"/><stop offset="0.706" stop-color="#eeff09"/><stop offset="0.718" stop-color="#f7f500"/><stop offset="0.751" stop-color="#ffe900"/><stop offset="0.757" stop-color="#ffdf00"/><stop offset="0.761" stop-color="#ffcf00"/><stop offset="0.785" stop-color="#ff3500"/><stop offset="0.793" stop-color="#ff1300"/><stop offset="0.799" stop-color="#e70000"/><stop offset="0.809" stop-color="#c70000"/><stop offset="0.815" stop-color="#bf0000"/><stop offset="0.819" stop-color="#c50000"/><stop offset="0.827" stop-color="#e50000"/><stop offset="0.833" stop-color="#ff1500"/><stop offset="0.852" stop-color="#ff5700"/><stop offset="0.87" stop-color="#ff7200"/><stop offset="0.882" stop-color="#ff9100"/><stop offset="0.888" stop-color="#ff8300"/><stop offset="0.896" stop-color="#ff4b00"/><stop offset="0.9" stop-color="#ff3d00"/><stop offset="0.918" stop-color="#ff5100"/><stop offset="1" stop-color="#ff4900"/></linearGradient><linearGradient id="r80"><stop offset="0" stop-color="#0020ff"/><stop offset="0.088" stop-color="#0023ff"/><stop offset="0.122" stop-color="#0047ff"/><stop offset="0.159" stop-color="#00f"/><stop offset="0.193" stop-color="#00f"/><stop offset="0.209" stop-color="#0012ff"/><stop offset="0.233" stop-color="#003bff"/><stop offset="0.258" stop-color="#0036ff"/><stop offset="0.276" stop-color="#005cff"/><stop offset="0.322" stop-color="#0af"/><stop offset="0.407" stop-color="#00dbff"/><stop offset="0.417" stop-color="#00e5f7"/><stop offset="0.445" stop-color="#15ffe2"/><stop offset="0.502" stop-color="#3fffb8"/><stop offset="0.563" stop-color="#85ff72"/><stop offset="0.609" stop-color="#acff4b"/><stop offset="0.649" stop-color="#c3ff34"/><stop offset="0.688" stop-color="#ccff2b"/><stop offset="0.757" stop-color="#eaff0d"/><stop offset="0.759" stop-color="#f0fd07"/><stop offset="0.765" stop-color="#ffdc00"/><stop offset="0.785" stop-color="#ff3700"/><stop offset="0.793" stop-color="#fd1100"/><stop offset="0.799" stop-color="#e70000"/><stop offset="0.807" stop-color="#d30000"/><stop offset="0.813" stop-color="#cd0000"/><stop offset="0.817" stop-color="#d40000"/><stop offset="0.821" stop-color="#e70000"/><stop offset="0.825" stop-color="#ff1400"/><stop offset="0.843" stop-color="#ff7d00"/><stop offset="0.852" stop-color="#ffa000"/><stop offset="0.86" stop-color="#ffb000"/><stop offset="0.882" stop-color="#fb0"/><stop offset="0.888" stop-color="#ffa800"/><stop offset="0.896" stop-color="#ff6700"/><stop offset="0.902" stop-color="#ff4c00"/><stop offset="0.918" stop-color="#ff5100"/><stop offset="1" stop-color="#ff4900"/></linearGradient><linearGradient id="r81"><stop offset="0" stop-color="#0021ff"/><stop offset="0.086" stop-color="#0023ff"/><stop offset="0.12" stop-color="#0031ff"/><stop offset="0.155" stop-color="#00f"/><stop offset="0.195" stop-color="#00f"/><stop offset="0.233" stop-color="#0038ff"/><stop offset="0.26" stop-color="#003bff"/><stop offset="0.322" stop-color="#009cff"/><stop offset="0.401" stop-color="#00b1ff"/><stop offset="0.443" stop-color="#00dbff"/><stop offset="0.454" stop-color="#00e5f7"/><stop offset="0.48" stop-color="#15ffe1"/><stop offset="0.504" stop-color="#2affcd"/><stop offset="0.563" stop-color="#73ff84"/><stop offset="0.605" stop-color="#9dff5a"/><stop offset="0.714" stop-color="#d3ff24"/><stop offset="0.736" stop-color="#d8ff1f"/><stop offset="0.753" stop-color="#d0ff26"/><stop offset="0.759" stop-color="#daff1d"/><stop offset="0.763" stop-color="#ebff0c"/><stop offset="0.765" stop-color="#f6f600"/><stop offset="0.767" stop-color="#ffe600"/><stop offset="0.781" stop-color="#ff5d00"/><stop offset="0.787" stop-color="#ff2d00"/><stop offset="0.793" stop-color="#fe1200"/><stop offset="0.801" stop-color="#e40000"/><stop offset="0.811" stop-color="#d70000"/><stop offset="0.815" stop-color="#de0000"/><stop offset="0.819" stop-color="#f20800"/><stop offset="0.821" stop-color="#ff1400"/><stop offset="0.845" stop-color="#ffc400"/><stop offset="0.854" stop-color="#ffe900"/><stop offset="0.86" stop-color="#faf200"/><stop offset="0.884" stop-color="#ffd700"/><stop offset="0.888" stop-color="#ffc400"/><stop offset="0.898" stop-color="#ff6d00"/><stop offset="0.902" stop-color="#ff5900"/><stop offset="0.906" stop-color="#ff5200"/><stop offset="1" stop-color="#ff4900"/></linearGradient><linearGradient id="r82"><stop offset="0" stop-color="#0024ff"/><stop offset="0.118" stop-color="#0028ff"/><stop offset="0.159" stop-color="#0001ff"/><stop offset="0.189" stop-color="#00f"/><stop offset="0.209" stop-color="#0019ff"/><stop offset="0.233" stop-color="#004aff"/><stop offset="0.26" stop-color="#0049ff"/><stop offset="0.32" stop-color="#0af"/><stop offset="0.403" stop-color="#00afff"/><stop offset="0.454" stop-color="#00dbff"/><stop offset="0.466" stop-color="#01e7f6"/><stop offset="0.492" stop-color="#16ffe1"/><stop offset="0.607" stop-color="#9cff5b"/><stop offset="0.706" stop-color="#d2ff25"/><stop offset="0.736" stop-color="#d4ff23"/><stop offset="0.755" stop-color="#c8ff2f"/><stop offset="0.761" stop-color="#d6ff21"/><stop offset="0.765" stop-color="#eaff0c"/><stop offset="0.767" stop-color="#f8f400"/><stop offset="0.769" stop-color="#ffe200"/><stop offset="0.781" stop-color="#ff6200"/><stop offset="0.787" stop-color="#ff3000"/><stop offset="0.793" stop-color="#ff1300"/><stop offset="0.801" stop-color="#e60000"/><stop offset="0.811" stop-color="#de0000"/><stop offset="0.815" stop-color="#e80000"/><stop offset="0.817" stop-color="#f20800"/><stop offset="0.819" stop-color="#ff1300"/><stop offset="0.845" stop-color="#ffea00"/><stop offset="0.849" stop-color="#ecff0b"/><stop offset="0.856" stop-color="#daff1d"/><stop offset="0.862" stop-color="#d8ff1f"/><stop offset="0.872" stop-color="#ecff0a"/><stop offset="0.876" stop-color="#f5f702"/><stop offset="0.884" stop-color="#ffe600"/><stop offset="0.888" stop-color="#ffd200"/><stop offset="0.9" stop-color="#ff6900"/><stop offset="0.906" stop-color="#ff5600"/><stop offset="1" stop-color="#ff4a00"/></linearGradient><linearGradient id="r83"><stop offset="0" stop-color="#0027ff"/><stop offset="0.128" stop-color="#0029ff"/><stop offset="0.165" stop-color="#0008ff"/><stop offset="0.181" stop-color="#0003ff"/><stop offset="0.207" stop-color="#0025ff"/><stop offset="0.231" stop-color="#006aff"/><stop offset="0.237" stop-color="#006eff"/><stop offset="0.252" stop-color="#005dff"/><stop offset="0.26" stop-color="#005eff"/><stop offset="0.322" stop-color="#00d4ff"/><stop offset="0.405" stop-color="#00daff"/><stop offset="0.431" stop-color="#01e6f6"/><stop offset="0.472" stop-color="#15ffe2"/><stop offset="0.506" stop-color="#2cffcb"/><stop offset="0.607" stop-color="#9fff57"/><stop offset="0.704" stop-color="#d4ff22"/><stop offset="0.736" stop-color="#d3ff23"/><stop offset="0.755" stop-color="#c7ff30"/><stop offset="0.761" stop-color="#d4ff22"/><stop offset="0.765" stop-color="#e9ff0e"/><stop offset="0.767" stop-color="#f7f500"/><stop offset="0.769" stop-color="#ffe300"/><stop offset="0.781" stop-color="#ff6300"/><stop offset="0.787" stop-color="#ff3000"/><stop offset="0.793" stop-color="#ff1300"/><stop offset="0.801" stop-color="#e60000"/><stop offset="0.811" stop-color="#df0000"/><stop offset="0.815" stop-color="#ea0200"/><stop offset="0.817" stop-color="#f40a00"/><stop offset="0.819" stop-color="#ff1500"/><stop offset="0.825" stop-color="#ff4300"/><stop offset="0.843" stop-color="#ffe000"/><stop offset="0.847" stop-color="#f1fc05"/><stop offset="0.849" stop-color="#e8ff0f"/><stop offset="0.856" stop-color="#d5ff21"/><stop offset="0.862" stop-color="#d4ff23"/><stop offset="0.874" stop-color="#eeff08"/><stop offset="0.884" stop-color="#ffe800"/><stop offset="0.888" stop-color="#ffd300"/><stop offset="0.9" stop-color="#ff6b00"/><stop offset="0.906" stop-color="#ff5600"/><stop offset="1" stop-color="#ff4a00"/></linearGradient><linearGradient id="r84"><stop offset="0" stop-color="#002cff"/><stop offset="0.108" stop-color="#03f"/><stop offset="0.136" stop-color="#003eff"/><stop offset="0.144" stop-color="#0038ff"/><stop offset="0.165" stop-color="#0016ff"/><stop offset="0.181" stop-color="#000fff"/><stop offset="0.207" stop-color="#0038ff"/><stop offset="0.231" stop-color="#0095ff"/><stop offset="0.237" stop-color="#0097ff"/><stop offset="0.252" stop-color="#0075ff"/><stop offset="0.26" stop-color="#0074ff"/><stop offset="0.302" stop-color="#00dbff"/><stop offset="0.306" stop-color="#00e5f7"/><stop offset="0.318" stop-color="#16ffe1"/><stop offset="0.369" stop-color="#2cffcb"/><stop offset="0.454" stop-color="#35ffc2"/><stop offset="0.5" stop-color="#42ffb5"/><stop offset="0.613" stop-color="#abff4b"/><stop offset="0.704" stop-color="#d7ff1f"/><stop offset="0.736" stop-color="#d7ff20"/><stop offset="0.753" stop-color="#cdff2a"/><stop offset="0.759" stop-color="#d6ff20"/><stop offset="0.763" stop-color="#e7ff10"/><stop offset="0.765" stop-color="#f3fa04"/><stop offset="0.767" stop-color="#ffeb00"/><stop offset="0.781" stop-color="#ff5e00"/><stop offset="0.787" stop-color="#ff2e00"/><stop offset="0.793" stop-color="#ff1300"/><stop offset="0.801" stop-color="#e60000"/><stop offset="0.811" stop-color="#dc0000"/><stop offset="0.817" stop-color="#ed0400"/><stop offset="0.821" stop-color="#ff1a00"/><stop offset="0.841" stop-color="#ffb600"/><stop offset="0.847" stop-color="#fd0"/><stop offset="0.854" stop-color="#f6f601"/><stop offset="0.862" stop-color="#efff08"/><stop offset="0.874" stop-color="#ffea00"/><stop offset="0.884" stop-color="#ffdb00"/><stop offset="0.888" stop-color="#ffc700"/><stop offset="0.898" stop-color="#ff7200"/><stop offset="0.902" stop-color="#ff5d00"/><stop offset="0.906" stop-color="#ff5400"/><stop offset="1" stop-color="#ff4a00"/></linearGradient><linearGradient id="r85"><stop offset="0" stop-color="#0030ff"/><stop offset="0.092" stop-color="#0038ff"/><stop offset="0.108" stop-color="#0040ff"/><stop offset="0.138" stop-color="#0060ff"/><stop offset="0.146" stop-color="#05f"/><stop offset="0.165" stop-color="#0026ff"/><stop offset="0.181" stop-color="#001bff"/><stop offset="0.207" stop-color="#0049ff"/><stop offset="0.213" stop-color="#0060ff"/><stop offset="0.225" stop-color="#00a5ff"/><stop offset="0.231" stop-color="#00bdff"/><stop offset="0.237" stop-color="#00beff"/><stop offset="0.252" stop-color="#008aff"/><stop offset="0.258" stop-color="#0082ff"/><stop offset="0.286" stop-color="#00d8ff"/><stop offset="0.292" stop-color="#03e9f4"/><stop offset="0.302" stop-color="#19ffde"/><stop offset="0.324" stop-color="#45ffb2"/><stop offset="0.397" stop-color="#74ff83"/><stop offset="0.502" stop-color="#68ff8f"/><stop offset="0.637" stop-color="#c9ff2e"/><stop offset="0.706" stop-color="#e0ff17"/><stop offset="0.751" stop-color="#ddff1a"/><stop offset="0.759" stop-color="#eaff0d"/><stop offset="0.761" stop-color="#f1fc05"/><stop offset="0.763" stop-color="#fbf000"/><stop offset="0.767" stop-color="#ffd400"/><stop offset="0.785" stop-color="#ff3700"/><stop offset="0.793" stop-color="#fe1200"/><stop offset="0.801" stop-color="#e50000"/><stop offset="0.811" stop-color="#d60000"/><stop offset="0.815" stop-color="#d90000"/><stop offset="0.819" stop-color="#e80000"/><stop offset="0.823" stop-color="#ff1400"/><stop offset="0.847" stop-color="#ffa400"/><stop offset="0.854" stop-color="#ffba00"/><stop offset="0.862" stop-color="#ffc500"/><stop offset="0.884" stop-color="#ffc100"/><stop offset="0.888" stop-color="#ffb000"/><stop offset="0.898" stop-color="#ff6300"/><stop offset="0.904" stop-color="#ff5100"/><stop offset="1" stop-color="#ff4a00"/></linearGradient><linearGradient id="r86"><stop offset="0" stop-color="#03f"/><stop offset="0.092" stop-color="#003eff"/><stop offset="0.106" stop-color="#004cff"/><stop offset="0.128" stop-color="#007aff"/><stop offset="0.136" stop-color="#0083ff"/><stop offset="0.144" stop-color="#0079ff"/><stop offset="0.165" stop-color="#0032ff"/><stop offset="0.173" stop-color="#0025ff"/><stop offset="0.181" stop-color="#0023ff"/><stop offset="0.197" stop-color="#003dff"/><stop offset="0.207" stop-color="#05f"/><stop offset="0.213" stop-color="#006fff"/><stop offset="0.225" stop-color="#00bdff"/><stop offset="0.231" stop-color="#00d8ff"/><stop offset="0.235" stop-color="#00dbff"/><stop offset="0.239" stop-color="#00d2ff"/><stop offset="0.252" stop-color="#0095ff"/><stop offset="0.258" stop-color="#008aff"/><stop offset="0.262" stop-color="#0094ff"/><stop offset="0.278" stop-color="#00d9ff"/><stop offset="0.282" stop-color="#00e6f7"/><stop offset="0.29" stop-color="#15ffe2"/><stop offset="0.324" stop-color="#66ff91"/><stop offset="0.399" stop-color="#b1ff46"/><stop offset="0.504" stop-color="#8eff69"/><stop offset="0.589" stop-color="#bbff3c"/><stop offset="0.652" stop-color="#e8ff0f"/><stop offset="0.751" stop-color="#f9f300"/><stop offset="0.757" stop-color="#ffe900"/><stop offset="0.763" stop-color="#ffcd00"/><stop offset="0.785" stop-color="#ff3200"/><stop offset="0.793" stop-color="#ff1300"/><stop offset="0.801" stop-color="#e70000"/><stop offset="0.813" stop-color="#ce0000"/><stop offset="0.817" stop-color="#d10000"/><stop offset="0.823" stop-color="#e50000"/><stop offset="0.829" stop-color="#ff1600"/><stop offset="0.852" stop-color="#ff6e00"/><stop offset="0.882" stop-color="#ff9c00"/><stop offset="0.886" stop-color="#ff9700"/><stop offset="0.896" stop-color="#ff5800"/><stop offset="0.902" stop-color="#ff4600"/><stop offset="0.918" stop-color="#ff5200"/><stop offset="1" stop-color="#ff4b00"/></linearGradient><linearGradient id="r87"><stop offset="0" stop-color="#0035ff"/><stop offset="0.092" stop-color="#0042ff"/><stop offset="0.104" stop-color="#0054ff"/><stop offset="0.126" stop-color="#0094ff"/><stop offset="0.136" stop-color="#009dff"/><stop offset="0.144" stop-color="#008eff"/><stop offset="0.165" stop-color="#0038ff"/><stop offset="0.173" stop-color="#002aff"/><stop offset="0.181" stop-color="#0028ff"/><stop offset="0.197" stop-color="#0041ff"/><stop offset="0.207" stop-color="#005aff"/><stop offset="0.213" stop-color="#0074ff"/><stop offset="0.225" stop-color="#00c3ff"/><stop offset="0.231" stop-color="#00defd"/><stop offset="0.235" stop-color="#00e1fb"/><stop offset="0.239" stop-color="#00d7ff"/><stop offset="0.252" stop-color="#0096ff"/><stop offset="0.258" stop-color="#0089ff"/><stop offset="0.262" stop-color="#0095ff"/><stop offset="0.276" stop-color="#00dcfe"/><stop offset="0.286" stop-color="#15ffe1"/><stop offset="0.324" stop-color="#7aff7c"/><stop offset="0.403" stop-color="#deff19"/><stop offset="0.504" stop-color="#acff4b"/><stop offset="0.601" stop-color="#d4ff23"/><stop offset="0.627" stop-color="#effe08"/><stop offset="0.643" stop-color="#ffec00"/><stop offset="0.658" stop-color="#ffe100"/><stop offset="0.748" stop-color="#ffc800"/><stop offset="0.759" stop-color="#ffb400"/><stop offset="0.783" stop-color="#ff3800"/><stop offset="0.795" stop-color="#ff1400"/><stop offset="0.803" stop-color="#e80000"/><stop offset="0.811" stop-color="#cf0000"/><stop offset="0.817" stop-color="#c70000"/><stop offset="0.823" stop-color="#cf0000"/><stop offset="0.833" stop-color="#eb0200"/><stop offset="0.841" stop-color="#ff1700"/><stop offset="0.868" stop-color="#ff4900"/><stop offset="0.88" stop-color="#ff6e00"/><stop offset="0.884" stop-color="#ff7300"/><stop offset="0.888" stop-color="#ff6800"/><stop offset="0.896" stop-color="#ff3e00"/><stop offset="0.9" stop-color="#ff3700"/><stop offset="0.916" stop-color="#ff5200"/><stop offset="1" stop-color="#ff4b00"/></linearGradient><linearGradient id="r88"><stop offset="0" stop-color="#0036ff"/><stop offset="0.09" stop-color="#0041ff"/><stop offset="0.102" stop-color="#0056ff"/><stop offset="0.122" stop-color="#009fff"/><stop offset="0.132" stop-color="#0af"/><stop offset="0.142" stop-color="#09f"/><stop offset="0.159" stop-color="#004dff"/><stop offset="0.165" stop-color="#0038ff"/><stop offset="0.173" stop-color="#0029ff"/><stop offset="0.181" stop-color="#0027ff"/><stop offset="0.207" stop-color="#0057ff"/><stop offset="0.215" stop-color="#0079ff"/><stop offset="0.227" stop-color="#00bfff"/><stop offset="0.233" stop-color="#00d0ff"/><stop offset="0.239" stop-color="#00c8ff"/><stop offset="0.252" stop-color="#008cff"/><stop offset="0.258" stop-color="#0080ff"/><stop offset="0.262" stop-color="#008dff"/><stop offset="0.276" stop-color="#00d8ff"/><stop offset="0.28" stop-color="#02e7f5"/><stop offset="0.288" stop-color="#19ffde"/><stop offset="0.324" stop-color="#7dff7a"/><stop offset="0.403" stop-color="#ecff0b"/><stop offset="0.504" stop-color="#bcff3b"/><stop offset="0.599" stop-color="#deff19"/><stop offset="0.615" stop-color="#efff08"/><stop offset="0.627" stop-color="#ffec00"/><stop offset="0.656" stop-color="#ffc600"/><stop offset="0.696" stop-color="#fb0"/><stop offset="0.753" stop-color="#ff9c00"/><stop offset="0.759" stop-color="#ff8d00"/><stop offset="0.779" stop-color="#ff4500"/><stop offset="0.801" stop-color="#ff1300"/><stop offset="0.807" stop-color="#e80000"/><stop offset="0.815" stop-color="#ca0000"/><stop offset="0.821" stop-color="#c30000"/><stop offset="0.831" stop-color="#ca0000"/><stop offset="0.849" stop-color="#e70000"/><stop offset="0.862" stop-color="#ff1500"/><stop offset="0.87" stop-color="#ff2a00"/><stop offset="0.88" stop-color="#ff5000"/><stop offset="0.884" stop-color="#ff5600"/><stop offset="0.898" stop-color="#ff2a00"/><stop offset="0.916" stop-color="#ff5300"/><stop offset="1" stop-color="#ff4b00"/></linearGradient><linearGradient id="r89"><stop offset="0" stop-color="#0036ff"/><stop offset="0.09" stop-color="#0040ff"/><stop offset="0.102" stop-color="#0057ff"/><stop offset="0.12" stop-color="#009eff"/><stop offset="0.128" stop-color="#00a7ff"/><stop offset="0.14" stop-color="#0091ff"/><stop offset="0.157" stop-color="#004cff"/><stop offset="0.165" stop-color="#0031ff"/><stop offset="0.173" stop-color="#0025ff"/><stop offset="0.181" stop-color="#0023ff"/><stop offset="0.207" stop-color="#004cff"/><stop offset="0.215" stop-color="#0068ff"/><stop offset="0.227" stop-color="#00a0ff"/><stop offset="0.233" stop-color="#00afff"/><stop offset="0.239" stop-color="#0af"/><stop offset="0.252" stop-color="#007aff"/><stop offset="0.258" stop-color="#0071ff"/><stop offset="0.262" stop-color="#007eff"/><stop offset="0.274" stop-color="#00bdff"/><stop offset="0.282" stop-color="#00dbff"/><stop offset="0.286" stop-color="#02e8f4"/><stop offset="0.294" stop-color="#19ffde"/><stop offset="0.324" stop-color="#6aff8c"/><stop offset="0.403" stop-color="#d6ff21"/><stop offset="0.504" stop-color="#b8ff3e"/><stop offset="0.601" stop-color="#e0ff17"/><stop offset="0.613" stop-color="#edff09"/><stop offset="0.627" stop-color="#ffea00"/><stop offset="0.654" stop-color="#ffc500"/><stop offset="0.704" stop-color="#ffb400"/><stop offset="0.751" stop-color="#ff8f00"/><stop offset="0.775" stop-color="#ff5400"/><stop offset="0.795" stop-color="#ff4000"/><stop offset="0.807" stop-color="#ff1400"/><stop offset="0.811" stop-color="#e90100"/><stop offset="0.813" stop-color="#df0000"/><stop offset="0.821" stop-color="#c50000"/><stop offset="0.831" stop-color="#c00000"/><stop offset="0.845" stop-color="#c90000"/><stop offset="0.858" stop-color="#e60000"/><stop offset="0.864" stop-color="#fe1200"/><stop offset="0.882" stop-color="#ff5400"/><stop offset="0.886" stop-color="#ff5100"/><stop offset="0.894" stop-color="#ff2f00"/><stop offset="0.898" stop-color="#ff2700"/><stop offset="0.91" stop-color="#ff4a00"/><stop offset="0.916" stop-color="#ff5300"/><stop offset="1" stop-color="#ff4c00"/></linearGradient><linearGradient id="r90"><stop offset="0" stop-color="#0035ff"/><stop offset="0.09" stop-color="#003dff"/><stop offset="0.1" stop-color="#004eff"/><stop offset="0.116" stop-color="#0087ff"/><stop offset="0.124" stop-color="#0095ff"/><stop offset="0.136" stop-color="#0082ff"/><stop offset="0.163" stop-color="#002bff"/><stop offset="0.173" stop-color="#001dff"/><stop offset="0.181" stop-color="#001cff"/><stop offset="0.207" stop-color="#003eff"/><stop offset="0.227" stop-color="#007bff"/><stop offset="0.233" stop-color="#0086ff"/><stop offset="0.239" stop-color="#0084ff"/><stop offset="0.252" stop-color="#0064ff"/><stop offset="0.258" stop-color="#005fff"/><stop offset="0.262" stop-color="#006aff"/><stop offset="0.274" stop-color="#00a0ff"/><stop offset="0.292" stop-color="#00d9ff"/><stop offset="0.296" stop-color="#00e6f6"/><stop offset="0.304" stop-color="#15ffe2"/><stop offset="0.324" stop-color="#46ffb1"/><stop offset="0.401" stop-color="#9eff59"/><stop offset="0.504" stop-color="#a3ff54"/><stop offset="0.601" stop-color="#d7ff20"/><stop offset="0.623" stop-color="#efff08"/><stop offset="0.637" stop-color="#feed00"/><stop offset="0.654" stop-color="#ffdc00"/><stop offset="0.696" stop-color="#ffd300"/><stop offset="0.732" stop-color="#ffbe00"/><stop offset="0.753" stop-color="#ff9d00"/><stop offset="0.773" stop-color="#ff6700"/><stop offset="0.795" stop-color="#ff6a00"/><stop offset="0.801" stop-color="#f50"/><stop offset="0.811" stop-color="#ff1900"/><stop offset="0.815" stop-color="#ea0200"/><stop offset="0.817" stop-color="#df0000"/><stop offset="0.825" stop-color="#c70000"/><stop offset="0.837" stop-color="#c30000"/><stop offset="0.847" stop-color="#ce0000"/><stop offset="0.856" stop-color="#ec0300"/><stop offset="0.86" stop-color="#ff1600"/><stop offset="0.874" stop-color="#ff5f00"/><stop offset="0.882" stop-color="#ff7000"/><stop offset="0.886" stop-color="#ff6800"/><stop offset="0.894" stop-color="#ff3d00"/><stop offset="0.898" stop-color="#ff3200"/><stop offset="0.916" stop-color="#ff5400"/><stop offset="1" stop-color="#ff4d00"/></linearGradient><linearGradient id="r91"><stop offset="0" stop-color="#0035ff"/><stop offset="0.09" stop-color="#003aff"/><stop offset="0.102" stop-color="#004bff"/><stop offset="0.118" stop-color="#0075ff"/><stop offset="0.124" stop-color="#0079ff"/><stop offset="0.132" stop-color="#006cff"/><stop offset="0.161" stop-color="#0023ff"/><stop offset="0.173" stop-color="#0016ff"/><stop offset="0.183" stop-color="#0016ff"/><stop offset="0.207" stop-color="#0030ff"/><stop offset="0.233" stop-color="#0062ff"/><stop offset="0.239" stop-color="#0062ff"/><stop offset="0.258" stop-color="#004eff"/><stop offset="0.274" stop-color="#0080ff"/><stop offset="0.308" stop-color="#00dcff"/><stop offset="0.322" stop-color="#16ffe1"/><stop offset="0.403" stop-color="#59ff9e"/><stop offset="0.504" stop-color="#82ff74"/><stop offset="0.649" stop-color="#edff09"/><stop offset="0.726" stop-color="#ffea00"/><stop offset="0.753" stop-color="#ffbd00"/><stop offset="0.771" stop-color="#ff8100"/><stop offset="0.777" stop-color="#ff8100"/><stop offset="0.789" stop-color="#ff9d00"/><stop offset="0.795" stop-color="#ff9e00"/><stop offset="0.799" stop-color="#ff9100"/><stop offset="0.803" stop-color="#ff7800"/><stop offset="0.815" stop-color="#ff1700"/><stop offset="0.819" stop-color="#e80000"/><stop offset="0.825" stop-color="#d30000"/><stop offset="0.833" stop-color="#cb0000"/><stop offset="0.843" stop-color="#d40000"/><stop offset="0.849" stop-color="#e60000"/><stop offset="0.854" stop-color="#fd1100"/><stop offset="0.87" stop-color="#ff8600"/><stop offset="0.874" stop-color="#ff9800"/><stop offset="0.878" stop-color="#ff9e00"/><stop offset="0.884" stop-color="#ff9600"/><stop offset="0.896" stop-color="#ff4b00"/><stop offset="0.9" stop-color="#ff4100"/><stop offset="0.916" stop-color="#f50"/><stop offset="1" stop-color="#ff4e00"/></linearGradient><linearGradient id="r92"><stop offset="0" stop-color="#0035ff"/><stop offset="0.088" stop-color="#0037ff"/><stop offset="0.122" stop-color="#005cff"/><stop offset="0.157" stop-color="#001eff"/><stop offset="0.183" stop-color="#01f"/><stop offset="0.207" stop-color="#0026ff"/><stop offset="0.233" stop-color="#004bff"/><stop offset="0.254" stop-color="#0041ff"/><stop offset="0.26" stop-color="#0045ff"/><stop offset="0.322" stop-color="#0cf"/><stop offset="0.367" stop-color="#00e6f6"/><stop offset="0.405" stop-color="#15ffe2"/><stop offset="0.502" stop-color="#5dff9a"/><stop offset="0.563" stop-color="#9aff5d"/><stop offset="0.631" stop-color="#ccff2b"/><stop offset="0.732" stop-color="#eeff09"/><stop offset="0.742" stop-color="#ffec00"/><stop offset="0.753" stop-color="#ffd700"/><stop offset="0.765" stop-color="#ffa600"/><stop offset="0.771" stop-color="#ff9800"/><stop offset="0.777" stop-color="#ff9d00"/><stop offset="0.791" stop-color="#ffd400"/><stop offset="0.797" stop-color="#ffcf00"/><stop offset="0.803" stop-color="#ffa800"/><stop offset="0.817" stop-color="#ff1c00"/><stop offset="0.823" stop-color="#e50000"/><stop offset="0.829" stop-color="#d70000"/><stop offset="0.835" stop-color="#d70000"/><stop offset="0.841" stop-color="#de0000"/><stop offset="0.847" stop-color="#f10800"/><stop offset="0.849" stop-color="#fc1100"/><stop offset="0.856" stop-color="#ff3b00"/><stop offset="0.868" stop-color="#ffb600"/><stop offset="0.872" stop-color="#ffce00"/><stop offset="0.876" stop-color="#ffd400"/><stop offset="0.884" stop-color="#ffbd00"/><stop offset="0.896" stop-color="#ff5f00"/><stop offset="0.902" stop-color="#ff4d00"/><stop offset="0.918" stop-color="#ff5700"/><stop offset="1" stop-color="#ff4f00"/></linearGradient><linearGradient id="r93"><stop offset="0" stop-color="#0036ff"/><stop offset="0.088" stop-color="#0038ff"/><stop offset="0.12" stop-color="#0048ff"/><stop offset="0.157" stop-color="#001bff"/><stop offset="0.183" stop-color="#01f"/><stop offset="0.207" stop-color="#0025ff"/><stop offset="0.233" stop-color="#0049ff"/><stop offset="0.26" stop-color="#0045ff"/><stop offset="0.322" stop-color="#00b1ff"/><stop offset="0.401" stop-color="#00c2ff"/><stop offset="0.425" stop-color="#00dbff"/><stop offset="0.435" stop-color="#01e7f6"/><stop offset="0.458" stop-color="#16ffe1"/><stop offset="0.605" stop-color="#acff4b"/><stop offset="0.684" stop-color="#d7ff20"/><stop offset="0.726" stop-color="#e0ff17"/><stop offset="0.738" stop-color="#eeff08"/><stop offset="0.753" stop-color="#ffe400"/><stop offset="0.765" stop-color="#ffb300"/><stop offset="0.771" stop-color="#ffa700"/><stop offset="0.777" stop-color="#ffb200"/><stop offset="0.787" stop-color="#feed00"/><stop offset="0.791" stop-color="#eeff09"/><stop offset="0.795" stop-color="#ecff0b"/><stop offset="0.799" stop-color="#faf200"/><stop offset="0.803" stop-color="#ffd000"/><stop offset="0.813" stop-color="#f50"/><stop offset="0.817" stop-color="#ff2c00"/><stop offset="0.821" stop-color="#fb1000"/><stop offset="0.825" stop-color="#e80000"/><stop offset="0.835" stop-color="#df0000"/><stop offset="0.841" stop-color="#e80000"/><stop offset="0.847" stop-color="#ff1400"/><stop offset="0.854" stop-color="#ff3e00"/><stop offset="0.858" stop-color="#ff6a00"/><stop offset="0.866" stop-color="#ffd200"/><stop offset="0.87" stop-color="#f7f600"/><stop offset="0.872" stop-color="#eeff08"/><stop offset="0.876" stop-color="#edff09"/><stop offset="0.88" stop-color="#fbf100"/><stop offset="0.886" stop-color="#ffc900"/><stop offset="0.896" stop-color="#ff6d00"/><stop offset="0.902" stop-color="#ff5600"/><stop offset="1" stop-color="#ff5000"/></linearGradient><linearGradient id="r94"><stop offset="0" stop-color="#0039ff"/><stop offset="0.122" stop-color="#003fff"/><stop offset="0.163" stop-color="#001eff"/><stop offset="0.181" stop-color="#0018ff"/><stop offset="0.207" stop-color="#002eff"/><stop offset="0.233" stop-color="#005dff"/><stop offset="0.26" stop-color="#0052ff"/><stop offset="0.322" stop-color="#00bdff"/><stop offset="0.403" stop-color="#00bcff"/><stop offset="0.437" stop-color="#00dcff"/><stop offset="0.447" stop-color="#01e6f6"/><stop offset="0.472" stop-color="#16ffe1"/><stop offset="0.605" stop-color="#a6ff51"/><stop offset="0.686" stop-color="#d5ff22"/><stop offset="0.728" stop-color="#dfff18"/><stop offset="0.738" stop-color="#ecff0b"/><stop offset="0.753" stop-color="#ffe800"/><stop offset="0.765" stop-color="#ffb800"/><stop offset="0.771" stop-color="#ffae00"/><stop offset="0.777" stop-color="#ffbd00"/><stop offset="0.783" stop-color="#ffe400"/><stop offset="0.785" stop-color="#f9f300"/><stop offset="0.787" stop-color="#ecff0b"/><stop offset="0.793" stop-color="#d5ff22"/><stop offset="0.799" stop-color="#e4ff12"/><stop offset="0.801" stop-color="#f2fb04"/><stop offset="0.803" stop-color="#ffe600"/><stop offset="0.813" stop-color="#ff6200"/><stop offset="0.817" stop-color="#ff3500"/><stop offset="0.821" stop-color="#ff1600"/><stop offset="0.827" stop-color="#e80000"/><stop offset="0.833" stop-color="#e20000"/><stop offset="0.839" stop-color="#e90100"/><stop offset="0.845" stop-color="#fc1100"/><stop offset="0.849" stop-color="#ff2600"/><stop offset="0.856" stop-color="#ff6000"/><stop offset="0.866" stop-color="#ffeb00"/><stop offset="0.868" stop-color="#edff0a"/><stop offset="0.87" stop-color="#dfff17"/><stop offset="0.874" stop-color="#d6ff21"/><stop offset="0.88" stop-color="#ebff0c"/><stop offset="0.882" stop-color="#f7f500"/><stop offset="0.884" stop-color="#ffe600"/><stop offset="0.896" stop-color="#ff7400"/><stop offset="0.902" stop-color="#ff5a00"/><stop offset="1" stop-color="#ff5100"/></linearGradient><linearGradient id="r95"><stop offset="0" stop-color="#003dff"/><stop offset="0.134" stop-color="#0046ff"/><stop offset="0.165" stop-color="#002aff"/><stop offset="0.181" stop-color="#0025ff"/><stop offset="0.207" stop-color="#003fff"/><stop offset="0.227" stop-color="#0078ff"/><stop offset="0.233" stop-color="#0081ff"/><stop offset="0.239" stop-color="#007fff"/><stop offset="0.254" stop-color="#06f"/><stop offset="0.26" stop-color="#0067ff"/><stop offset="0.316" stop-color="#00daff"/><stop offset="0.322" stop-color="#00e3f9"/><stop offset="0.403" stop-color="#00e5f7"/><stop offset="0.447" stop-color="#15ffe2"/><stop offset="0.504" stop-color="#3dffba"/><stop offset="0.607" stop-color="#a6ff51"/><stop offset="0.686" stop-color="#d3ff24"/><stop offset="0.726" stop-color="#deff19"/><stop offset="0.738" stop-color="#ecff0b"/><stop offset="0.753" stop-color="#ffe800"/><stop offset="0.765" stop-color="#ffb800"/><stop offset="0.771" stop-color="#ffae00"/><stop offset="0.777" stop-color="#ffbd00"/><stop offset="0.783" stop-color="#ffe300"/><stop offset="0.787" stop-color="#edff0a"/><stop offset="0.793" stop-color="#d6ff20"/><stop offset="0.799" stop-color="#e6ff11"/><stop offset="0.801" stop-color="#f4f903"/><stop offset="0.803" stop-color="#ffe500"/><stop offset="0.813" stop-color="#ff6300"/><stop offset="0.819" stop-color="#ff2500"/><stop offset="0.823" stop-color="#f90e00"/><stop offset="0.829" stop-color="#e60000"/><stop offset="0.835" stop-color="#e50000"/><stop offset="0.841" stop-color="#ef0600"/><stop offset="0.845" stop-color="#fe1200"/><stop offset="0.849" stop-color="#ff2700"/><stop offset="0.856" stop-color="#ff6000"/><stop offset="0.866" stop-color="#ffea00"/><stop offset="0.868" stop-color="#eeff09"/><stop offset="0.87" stop-color="#e1ff16"/><stop offset="0.874" stop-color="#d7ff20"/><stop offset="0.88" stop-color="#ecff0b"/><stop offset="0.882" stop-color="#f7f500"/><stop offset="0.884" stop-color="#ffe600"/><stop offset="0.896" stop-color="#ff7500"/><stop offset="0.902" stop-color="#ff5b00"/><stop offset="1" stop-color="#ff5200"/></linearGradient><linearGradient id="r96"><stop offset="0" stop-color="#0041ff"/><stop offset="0.094" stop-color="#0047ff"/><stop offset="0.138" stop-color="#0062ff"/><stop offset="0.167" stop-color="#0038ff"/><stop offset="0.183" stop-color="#0034ff"/><stop offset="0.207" stop-color="#0053ff"/><stop offset="0.215" stop-color="#006bff"/><stop offset="0.227" stop-color="#00a0ff"/><stop offset="0.233" stop-color="#00adff"/><stop offset="0.239" stop-color="#00a6ff"/><stop offset="0.254" stop-color="#007cff"/><stop offset="0.26" stop-color="#007bff"/><stop offset="0.3" stop-color="#00dbff"/><stop offset="0.306" stop-color="#02e8f5"/><stop offset="0.316" stop-color="#15ffe2"/><stop offset="0.336" stop-color="#23ffd3"/><stop offset="0.433" stop-color="#37ffbf"/><stop offset="0.494" stop-color="#50ffa7"/><stop offset="0.609" stop-color="#acff4b"/><stop offset="0.654" stop-color="#c5ff32"/><stop offset="0.726" stop-color="#dfff18"/><stop offset="0.738" stop-color="#eeff08"/><stop offset="0.753" stop-color="#ffe400"/><stop offset="0.765" stop-color="#ffb300"/><stop offset="0.771" stop-color="#ffa600"/><stop offset="0.777" stop-color="#ffb100"/><stop offset="0.787" stop-color="#ffe900"/><stop offset="0.791" stop-color="#f2fb05"/><stop offset="0.795" stop-color="#effe08"/><stop offset="0.799" stop-color="#fdee00"/><stop offset="0.803" stop-color="#ffcd00"/><stop offset="0.813" stop-color="#ff5800"/><stop offset="0.819" stop-color="#ff2100"/><stop offset="0.821" stop-color="#ff1500"/><stop offset="0.827" stop-color="#e90100"/><stop offset="0.837" stop-color="#e70000"/><stop offset="0.845" stop-color="#fa0f00"/><stop offset="0.852" stop-color="#ff3000"/><stop offset="0.856" stop-color="#f50"/><stop offset="0.868" stop-color="#ffe400"/><stop offset="0.872" stop-color="#f1fc06"/><stop offset="0.874" stop-color="#eeff09"/><stop offset="0.878" stop-color="#f5f802"/><stop offset="0.882" stop-color="#ffe500"/><stop offset="0.886" stop-color="#ffc900"/><stop offset="0.896" stop-color="#ff7100"/><stop offset="0.902" stop-color="#ff5900"/><stop offset="1" stop-color="#ff5300"/></linearGradient><linearGradient id="r97"><stop offset="0" stop-color="#0045ff"/><stop offset="0.094" stop-color="#004eff"/><stop offset="0.108" stop-color="#0059ff"/><stop offset="0.138" stop-color="#0085ff"/><stop offset="0.146" stop-color="#007cff"/><stop offset="0.165" stop-color="#004bff"/><stop offset="0.181" stop-color="#0040ff"/><stop offset="0.207" stop-color="#0064ff"/><stop offset="0.213" stop-color="#0079ff"/><stop offset="0.225" stop-color="#0bf"/><stop offset="0.231" stop-color="#00d0ff"/><stop offset="0.237" stop-color="#00ceff"/><stop offset="0.252" stop-color="#0092ff"/><stop offset="0.258" stop-color="#0086ff"/><stop offset="0.29" stop-color="#00dcfe"/><stop offset="0.294" stop-color="#00e6f7"/><stop offset="0.306" stop-color="#17ffe0"/><stop offset="0.324" stop-color="#36ffc1"/><stop offset="0.361" stop-color="#4bffac"/><stop offset="0.502" stop-color="#75ff82"/><stop offset="0.633" stop-color="#c9ff2d"/><stop offset="0.732" stop-color="#eeff08"/><stop offset="0.742" stop-color="#ffec00"/><stop offset="0.753" stop-color="#ffd700"/><stop offset="0.765" stop-color="#ffa600"/><stop offset="0.771" stop-color="#ff9800"/><stop offset="0.779" stop-color="#ffa100"/><stop offset="0.791" stop-color="#ffcf00"/><stop offset="0.797" stop-color="#ffcb00"/><stop offset="0.803" stop-color="#ffa600"/><stop offset="0.817" stop-color="#ff2500"/><stop offset="0.821" stop-color="#fa0f00"/><stop offset="0.827" stop-color="#e70000"/><stop offset="0.833" stop-color="#e20000"/><stop offset="0.841" stop-color="#e90100"/><stop offset="0.849" stop-color="#ff1900"/><stop offset="0.856" stop-color="#ff4100"/><stop offset="0.868" stop-color="#ffb500"/><stop offset="0.872" stop-color="#fc0"/><stop offset="0.876" stop-color="#ffd300"/><stop offset="0.884" stop-color="#ffbe00"/><stop offset="0.896" stop-color="#f60"/><stop offset="0.902" stop-color="#ff5400"/><stop offset="0.918" stop-color="#ff5c00"/><stop offset="1" stop-color="#ff5400"/></linearGradient><linearGradient id="r98"><stop offset="0" stop-color="#0048ff"/><stop offset="0.094" stop-color="#0054ff"/><stop offset="0.106" stop-color="#0065ff"/><stop offset="0.13" stop-color="#00a1ff"/><stop offset="0.138" stop-color="#00a9ff"/><stop offset="0.146" stop-color="#009aff"/><stop offset="0.165" stop-color="#0057ff"/><stop offset="0.181" stop-color="#0049ff"/><stop offset="0.197" stop-color="#005bff"/><stop offset="0.207" stop-color="#006fff"/><stop offset="0.215" stop-color="#0090ff"/><stop offset="0.227" stop-color="#00d9ff"/><stop offset="0.231" stop-color="#01e7f6"/><stop offset="0.235" stop-color="#02e8f5"/><stop offset="0.239" stop-color="#00ddfe"/><stop offset="0.252" stop-color="#09f"/><stop offset="0.258" stop-color="#008aff"/><stop offset="0.284" stop-color="#00dbff"/><stop offset="0.288" stop-color="#00e5f8"/><stop offset="0.3" stop-color="#17ffe0"/><stop offset="0.324" stop-color="#41ffb5"/><stop offset="0.399" stop-color="#77ff80"/><stop offset="0.504" stop-color="#94ff63"/><stop offset="0.599" stop-color="#c5ff31"/><stop offset="0.649" stop-color="#ecff0b"/><stop offset="0.698" stop-color="#f2fb05"/><stop offset="0.732" stop-color="#ffe400"/><stop offset="0.753" stop-color="#ffbd00"/><stop offset="0.767" stop-color="#ff8b00"/><stop offset="0.773" stop-color="#ff8000"/><stop offset="0.779" stop-color="#ff8300"/><stop offset="0.791" stop-color="#ff9d00"/><stop offset="0.795" stop-color="#ff9c00"/><stop offset="0.803" stop-color="#ff7b00"/><stop offset="0.817" stop-color="#ff1900"/><stop offset="0.825" stop-color="#e70000"/><stop offset="0.839" stop-color="#e30000"/><stop offset="0.843" stop-color="#e80000"/><stop offset="0.849" stop-color="#f90e00"/><stop offset="0.856" stop-color="#ff2a00"/><stop offset="0.87" stop-color="#ff8c00"/><stop offset="0.878" stop-color="#ffa300"/><stop offset="0.884" stop-color="#ff9c00"/><stop offset="0.896" stop-color="#ff5700"/><stop offset="0.9" stop-color="#ff4d00"/><stop offset="0.916" stop-color="#ff5d00"/><stop offset="1" stop-color="#f50"/></linearGradient><linearGradient id="r99"><stop offset="0" stop-color="#004aff"/><stop offset="0.092" stop-color="#0057ff"/><stop offset="0.104" stop-color="#006cff"/><stop offset="0.126" stop-color="#00b6ff"/><stop offset="0.136" stop-color="#00c2ff"/><stop offset="0.144" stop-color="#00b3ff"/><stop offset="0.165" stop-color="#005eff"/><stop offset="0.175" stop-color="#004eff"/><stop offset="0.183" stop-color="#004fff"/><stop offset="0.199" stop-color="#0062ff"/><stop offset="0.209" stop-color="#0078ff"/><stop offset="0.215" stop-color="#0093ff"/><stop offset="0.227" stop-color="#00daff"/><stop offset="0.231" stop-color="#01e7f5"/><stop offset="0.235" stop-color="#02e8f5"/><stop offset="0.239" stop-color="#00ddfe"/><stop offset="0.252" stop-color="#0095ff"/><stop offset="0.258" stop-color="#0085ff"/><stop offset="0.262" stop-color="#008dff"/><stop offset="0.274" stop-color="#00c1ff"/><stop offset="0.284" stop-color="#00dcff"/><stop offset="0.288" stop-color="#00e5f7"/><stop offset="0.3" stop-color="#17ffe0"/><stop offset="0.324" stop-color="#41ffb5"/><stop offset="0.399" stop-color="#7fff78"/><stop offset="0.516" stop-color="#afff48"/><stop offset="0.601" stop-color="#daff1d"/><stop offset="0.619" stop-color="#eeff09"/><stop offset="0.635" stop-color="#ffeb00"/><stop offset="0.654" stop-color="#ffd900"/><stop offset="0.7" stop-color="#ffd400"/><stop offset="0.73" stop-color="#ffbf00"/><stop offset="0.753" stop-color="#ff9d00"/><stop offset="0.773" stop-color="#ff6b00"/><stop offset="0.791" stop-color="#ff6f00"/><stop offset="0.797" stop-color="#ff6900"/><stop offset="0.803" stop-color="#ff5300"/><stop offset="0.815" stop-color="#ff1600"/><stop offset="0.825" stop-color="#e50000"/><stop offset="0.839" stop-color="#e30000"/><stop offset="0.849" stop-color="#f10800"/><stop offset="0.854" stop-color="#ff1300"/><stop offset="0.874" stop-color="#ff6c00"/><stop offset="0.882" stop-color="#ff7c00"/><stop offset="0.886" stop-color="#ff7500"/><stop offset="0.894" stop-color="#ff4f00"/><stop offset="0.898" stop-color="#f40"/><stop offset="0.916" stop-color="#ff5e00"/><stop offset="1" stop-color="#ff5600"/></linearGradient><linearGradient id="r100"><stop offset="0" stop-color="#004bff"/><stop offset="0.092" stop-color="#0058ff"/><stop offset="0.102" stop-color="#006cff"/><stop offset="0.122" stop-color="#00beff"/><stop offset="0.132" stop-color="#00cbff"/><stop offset="0.142" stop-color="#0bf"/><stop offset="0.163" stop-color="#0062ff"/><stop offset="0.175" stop-color="#004eff"/><stop offset="0.187" stop-color="#0052ff"/><stop offset="0.207" stop-color="#006dff"/><stop offset="0.215" stop-color="#008aff"/><stop offset="0.227" stop-color="#00c7ff"/><stop offset="0.233" stop-color="#00d4ff"/><stop offset="0.239" stop-color="#00c9ff"/><stop offset="0.252" stop-color="#08f"/><stop offset="0.258" stop-color="#0079ff"/><stop offset="0.262" stop-color="#0083ff"/><stop offset="0.274" stop-color="#00b7ff"/><stop offset="0.288" stop-color="#00daff"/><stop offset="0.294" stop-color="#02e8f5"/><stop offset="0.304" stop-color="#15ffe2"/><stop offset="0.324" stop-color="#37ffc0"/><stop offset="0.401" stop-color="#76ff80"/><stop offset="0.609" stop-color="#eeff09"/><stop offset="0.623" stop-color="#ffea00"/><stop offset="0.654" stop-color="#ffc000"/><stop offset="0.706" stop-color="#ffb500"/><stop offset="0.753" stop-color="#ff8c00"/><stop offset="0.777" stop-color="#ff5900"/><stop offset="0.797" stop-color="#ff4500"/><stop offset="0.813" stop-color="#ff1300"/><stop offset="0.823" stop-color="#e80000"/><stop offset="0.835" stop-color="#e70000"/><stop offset="0.849" stop-color="#f70c00"/><stop offset="0.854" stop-color="#ff1400"/><stop offset="0.882" stop-color="#f60"/><stop offset="0.886" stop-color="#ff6300"/><stop offset="0.894" stop-color="#ff4500"/><stop offset="0.898" stop-color="#ff3e00"/><stop offset="0.916" stop-color="#ff5f00"/><stop offset="1" stop-color="#ff5700"/></linearGradient><linearGradient id="r101"><stop offset="0" stop-color="#004aff"/><stop offset="0.09" stop-color="#0054ff"/><stop offset="0.102" stop-color="#006dff"/><stop offset="0.12" stop-color="#00baff"/><stop offset="0.128" stop-color="#00c4ff"/><stop offset="0.14" stop-color="#00b0ff"/><stop offset="0.163" stop-color="#005aff"/><stop offset="0.175" stop-color="#0048ff"/><stop offset="0.185" stop-color="#004aff"/><stop offset="0.207" stop-color="#0062ff"/><stop offset="0.215" stop-color="#0078ff"/><stop offset="0.227" stop-color="#00a7ff"/><stop offset="0.233" stop-color="#00b1ff"/><stop offset="0.239" stop-color="#0af"/><stop offset="0.252" stop-color="#0076ff"/><stop offset="0.258" stop-color="#006aff"/><stop offset="0.262" stop-color="#0074ff"/><stop offset="0.274" stop-color="#00a5ff"/><stop offset="0.298" stop-color="#00dcfe"/><stop offset="0.302" stop-color="#00e5f7"/><stop offset="0.314" stop-color="#16ffe1"/><stop offset="0.324" stop-color="#24ffd2"/><stop offset="0.405" stop-color="#61ff96"/><stop offset="0.611" stop-color="#edff0a"/><stop offset="0.625" stop-color="#ffec00"/><stop offset="0.654" stop-color="#ffc700"/><stop offset="0.702" stop-color="#ffbd00"/><stop offset="0.755" stop-color="#ff9800"/><stop offset="0.763" stop-color="#ff8700"/><stop offset="0.785" stop-color="#ff4300"/><stop offset="0.809" stop-color="#ff1400"/><stop offset="0.821" stop-color="#ec0300"/><stop offset="0.847" stop-color="#ff1c00"/><stop offset="0.866" stop-color="#ff3e00"/><stop offset="0.882" stop-color="#ff6800"/><stop offset="0.886" stop-color="#f60"/><stop offset="0.898" stop-color="#ff4100"/><stop offset="0.916" stop-color="#ff6000"/><stop offset="1" stop-color="#ff5900"/></linearGradient><linearGradient id="r102"><stop offset="0" stop-color="#0049ff"/><stop offset="0.09" stop-color="#0051ff"/><stop offset="0.1" stop-color="#0061ff"/><stop offset="0.116" stop-color="#009fff"/><stop offset="0.124" stop-color="#00afff"/><stop offset="0.136" stop-color="#009dff"/><stop offset="0.161" stop-color="#0052ff"/><stop offset="0.173" stop-color="#0042ff"/><stop offset="0.183" stop-color="#0041ff"/><stop offset="0.205" stop-color="#0052ff"/><stop offset="0.233" stop-color="#008bff"/><stop offset="0.239" stop-color="#0086ff"/><stop offset="0.252" stop-color="#0062ff"/><stop offset="0.258" stop-color="#005bff"/><stop offset="0.276" stop-color="#0093ff"/><stop offset="0.31" stop-color="#00dbff"/><stop offset="0.318" stop-color="#05ecf2"/><stop offset="0.34" stop-color="#15ffe1"/><stop offset="0.403" stop-color="#3cffbb"/><stop offset="0.559" stop-color="#b9ff3d"/><stop offset="0.603" stop-color="#d2ff25"/><stop offset="0.631" stop-color="#edff09"/><stop offset="0.641" stop-color="#f6f701"/><stop offset="0.658" stop-color="#ffec00"/><stop offset="0.696" stop-color="#ffe800"/><stop offset="0.759" stop-color="#ffb900"/><stop offset="0.767" stop-color="#ff9e00"/><stop offset="0.787" stop-color="#ff3900"/><stop offset="0.805" stop-color="#ff1400"/><stop offset="0.815" stop-color="#f00700"/><stop offset="0.829" stop-color="#ff1400"/><stop offset="0.856" stop-color="#ff5300"/><stop offset="0.882" stop-color="#ff8100"/><stop offset="0.886" stop-color="#ff7e00"/><stop offset="0.896" stop-color="#ff5300"/><stop offset="0.9" stop-color="#ff4d00"/><stop offset="0.916" stop-color="#ff6100"/><stop offset="1" stop-color="#ff5a00"/></linearGradient><linearGradient id="r103"><stop offset="0" stop-color="#0049ff"/><stop offset="0.09" stop-color="#004eff"/><stop offset="0.102" stop-color="#005fff"/><stop offset="0.118" stop-color="#008dff"/><stop offset="0.124" stop-color="#0091ff"/><stop offset="0.132" stop-color="#0087ff"/><stop offset="0.157" stop-color="#004dff"/><stop offset="0.171" stop-color="#003dff"/><stop offset="0.183" stop-color="#003bff"/><stop offset="0.205" stop-color="#0046ff"/><stop offset="0.233" stop-color="#006aff"/><stop offset="0.258" stop-color="#004cff"/><stop offset="0.276" stop-color="#0079ff"/><stop offset="0.322" stop-color="#00d1ff"/><stop offset="0.363" stop-color="#00e6f7"/><stop offset="0.407" stop-color="#16ffe1"/><stop offset="0.563" stop-color="#a1ff56"/><stop offset="0.637" stop-color="#cdff2a"/><stop offset="0.69" stop-color="#d5ff21"/><stop offset="0.718" stop-color="#eeff09"/><stop offset="0.738" stop-color="#ffec00"/><stop offset="0.755" stop-color="#ffec00"/><stop offset="0.761" stop-color="#ffe100"/><stop offset="0.767" stop-color="#ffc800"/><stop offset="0.783" stop-color="#ff5300"/><stop offset="0.789" stop-color="#ff3200"/><stop offset="0.799" stop-color="#ff1900"/><stop offset="0.813" stop-color="#f30900"/><stop offset="0.819" stop-color="#f80d00"/><stop offset="0.827" stop-color="#ff2100"/><stop offset="0.856" stop-color="#ff8c00"/><stop offset="0.88" stop-color="#ffa500"/><stop offset="0.886" stop-color="#ff9e00"/><stop offset="0.896" stop-color="#ff6800"/><stop offset="0.902" stop-color="#ff5900"/><stop offset="0.918" stop-color="#ff6200"/><stop offset="1" stop-color="#ff5b00"/></linearGradient><linearGradient id="r104"><stop offset="0" stop-color="#0049ff"/><stop offset="0.09" stop-color="#004cff"/><stop offset="0.122" stop-color="#0075ff"/><stop offset="0.155" stop-color="#0047ff"/><stop offset="0.171" stop-color="#003aff"/><stop offset="0.205" stop-color="#0040ff"/><stop offset="0.233" stop-color="#0058ff"/><stop offset="0.258" stop-color="#0043ff"/><stop offset="0.322" stop-color="#00b2ff"/><stop offset="0.401" stop-color="#00caff"/><stop offset="0.425" stop-color="#00e5f7"/><stop offset="0.449" stop-color="#16ffe0"/><stop offset="0.565" stop-color="#84ff73"/><stop offset="0.635" stop-color="#abff4c"/><stop offset="0.686" stop-color="#b5ff42"/><stop offset="0.736" stop-color="#e7ff10"/><stop offset="0.757" stop-color="#e4ff13"/><stop offset="0.763" stop-color="#eeff09"/><stop offset="0.767" stop-color="#feed00"/><stop offset="0.771" stop-color="#ffd200"/><stop offset="0.783" stop-color="#ff6000"/><stop offset="0.789" stop-color="#ff3600"/><stop offset="0.797" stop-color="#ff1b00"/><stop offset="0.809" stop-color="#f80d00"/><stop offset="0.817" stop-color="#fe1200"/><stop offset="0.823" stop-color="#ff2400"/><stop offset="0.831" stop-color="#ff4900"/><stop offset="0.852" stop-color="#ffba00"/><stop offset="0.862" stop-color="#ffd300"/><stop offset="0.884" stop-color="#ffc300"/><stop offset="0.888" stop-color="#ffb300"/><stop offset="0.898" stop-color="#ff7000"/><stop offset="0.904" stop-color="#ff6100"/><stop offset="1" stop-color="#ff5c00"/></linearGradient><linearGradient id="r105"><stop offset="0" stop-color="#004bff"/><stop offset="0.09" stop-color="#004cff"/><stop offset="0.122" stop-color="#0062ff"/><stop offset="0.157" stop-color="#04f"/><stop offset="0.175" stop-color="#003cff"/><stop offset="0.207" stop-color="#0042ff"/><stop offset="0.233" stop-color="#005aff"/><stop offset="0.258" stop-color="#0047ff"/><stop offset="0.32" stop-color="#00a4ff"/><stop offset="0.401" stop-color="#00acff"/><stop offset="0.445" stop-color="#00dcfe"/><stop offset="0.454" stop-color="#00e5f7"/><stop offset="0.478" stop-color="#16ffe1"/><stop offset="0.565" stop-color="#68ff8e"/><stop offset="0.633" stop-color="#94ff63"/><stop offset="0.686" stop-color="#a7ff50"/><stop offset="0.736" stop-color="#deff19"/><stop offset="0.759" stop-color="#d3ff24"/><stop offset="0.767" stop-color="#e7ff0f"/><stop offset="0.769" stop-color="#f2fa04"/><stop offset="0.771" stop-color="#ffeb00"/><stop offset="0.783" stop-color="#ff6b00"/><stop offset="0.789" stop-color="#ff3a00"/><stop offset="0.797" stop-color="#ff1c00"/><stop offset="0.807" stop-color="#fb1000"/><stop offset="0.815" stop-color="#ff1500"/><stop offset="0.823" stop-color="#ff3000"/><stop offset="0.831" stop-color="#ff5e00"/><stop offset="0.849" stop-color="#ffe000"/><stop offset="0.858" stop-color="#edff0a"/><stop offset="0.868" stop-color="#efff08"/><stop offset="0.876" stop-color="#ffec00"/><stop offset="0.884" stop-color="#ffda00"/><stop offset="0.888" stop-color="#ffc700"/><stop offset="0.898" stop-color="#ff7c00"/><stop offset="0.904" stop-color="#ff6800"/><stop offset="1" stop-color="#ff5d00"/></linearGradient><linearGradient id="r106"><stop offset="0" stop-color="#004dff"/><stop offset="0.088" stop-color="#004fff"/><stop offset="0.126" stop-color="#005bff"/><stop offset="0.181" stop-color="#0042ff"/><stop offset="0.207" stop-color="#004cff"/><stop offset="0.233" stop-color="#0072ff"/><stop offset="0.258" stop-color="#0058ff"/><stop offset="0.32" stop-color="#00b1ff"/><stop offset="0.403" stop-color="#00afff"/><stop offset="0.449" stop-color="#00dbff"/><stop offset="0.462" stop-color="#01e7f6"/><stop offset="0.486" stop-color="#15ffe2"/><stop offset="0.605" stop-color="#79ff7e"/><stop offset="0.654" stop-color="#96ff61"/><stop offset="0.686" stop-color="#a1ff56"/><stop offset="0.734" stop-color="#daff1d"/><stop offset="0.742" stop-color="#dbff1b"/><stop offset="0.761" stop-color="#ccff2a"/><stop offset="0.765" stop-color="#d5ff22"/><stop offset="0.769" stop-color="#e8ff0f"/><stop offset="0.771" stop-color="#f6f601"/><stop offset="0.773" stop-color="#ffe400"/><stop offset="0.783" stop-color="#ff7100"/><stop offset="0.789" stop-color="#ff3c00"/><stop offset="0.797" stop-color="#ff1e00"/><stop offset="0.805" stop-color="#ff1300"/><stop offset="0.815" stop-color="#ff1900"/><stop offset="0.823" stop-color="#ff3800"/><stop offset="0.831" stop-color="#ff6a00"/><stop offset="0.847" stop-color="#ffea00"/><stop offset="0.852" stop-color="#ebff0c"/><stop offset="0.856" stop-color="#dcff1b"/><stop offset="0.862" stop-color="#d4ff23"/><stop offset="0.874" stop-color="#ecff0b"/><stop offset="0.88" stop-color="#fbf000"/><stop offset="0.888" stop-color="#ffcf00"/><stop offset="0.896" stop-color="#ff8f00"/><stop offset="0.9" stop-color="#f70"/><stop offset="0.906" stop-color="#ff6800"/><stop offset="1" stop-color="#ff5e00"/></linearGradient><linearGradient id="r107"><stop offset="0" stop-color="#004fff"/><stop offset="0.092" stop-color="#0053ff"/><stop offset="0.138" stop-color="#0067ff"/><stop offset="0.167" stop-color="#004dff"/><stop offset="0.183" stop-color="#004aff"/><stop offset="0.209" stop-color="#005fff"/><stop offset="0.231" stop-color="#0097ff"/><stop offset="0.237" stop-color="#0096ff"/><stop offset="0.252" stop-color="#0076ff"/><stop offset="0.26" stop-color="#0071ff"/><stop offset="0.322" stop-color="#00cdff"/><stop offset="0.403" stop-color="#00cdff"/><stop offset="0.435" stop-color="#00e5f7"/><stop offset="0.468" stop-color="#15ffe2"/><stop offset="0.607" stop-color="#7bff7c"/><stop offset="0.654" stop-color="#95ff62"/><stop offset="0.686" stop-color="#9eff59"/><stop offset="0.736" stop-color="#dcff1b"/><stop offset="0.761" stop-color="#cfff28"/><stop offset="0.769" stop-color="#ebff0c"/><stop offset="0.771" stop-color="#f9f300"/><stop offset="0.773" stop-color="#ffe100"/><stop offset="0.783" stop-color="#ff7100"/><stop offset="0.789" stop-color="#ff3d00"/><stop offset="0.797" stop-color="#ff1f00"/><stop offset="0.807" stop-color="#ff1400"/><stop offset="0.815" stop-color="#ff1b00"/><stop offset="0.823" stop-color="#ff3800"/><stop offset="0.831" stop-color="#ff6900"/><stop offset="0.847" stop-color="#ffe300"/><stop offset="0.852" stop-color="#f1fc06"/><stop offset="0.854" stop-color="#e9ff0e"/><stop offset="0.858" stop-color="#deff19"/><stop offset="0.864" stop-color="#dcff1b"/><stop offset="0.874" stop-color="#f0fd06"/><stop offset="0.882" stop-color="#ffe800"/><stop offset="0.888" stop-color="#ffce00"/><stop offset="0.898" stop-color="#ff8200"/><stop offset="0.902" stop-color="#ff7000"/><stop offset="0.906" stop-color="#ff6900"/><stop offset="1" stop-color="#ff5f00"/></linearGradient><linearGradient id="r108"><stop offset="0" stop-color="#0051ff"/><stop offset="0.096" stop-color="#0059ff"/><stop offset="0.138" stop-color="#0080ff"/><stop offset="0.146" stop-color="#007aff"/><stop offset="0.165" stop-color="#0059ff"/><stop offset="0.181" stop-color="#0051ff"/><stop offset="0.207" stop-color="#006cff"/><stop offset="0.215" stop-color="#0084ff"/><stop offset="0.227" stop-color="#00b9ff"/><stop offset="0.233" stop-color="#00c5ff"/><stop offset="0.239" stop-color="#00bcff"/><stop offset="0.252" stop-color="#0091ff"/><stop offset="0.258" stop-color="#08f"/><stop offset="0.312" stop-color="#00dbff"/><stop offset="0.322" stop-color="#01e7f6"/><stop offset="0.401" stop-color="#0af2ec"/><stop offset="0.421" stop-color="#15ffe2"/><stop offset="0.605" stop-color="#86ff70"/><stop offset="0.652" stop-color="#9bff5c"/><stop offset="0.686" stop-color="#a1ff56"/><stop offset="0.734" stop-color="#deff19"/><stop offset="0.759" stop-color="#daff1d"/><stop offset="0.767" stop-color="#effe07"/><stop offset="0.771" stop-color="#ffe300"/><stop offset="0.783" stop-color="#ff6a00"/><stop offset="0.789" stop-color="#ff3c00"/><stop offset="0.797" stop-color="#ff2100"/><stop offset="0.807" stop-color="#ff1600"/><stop offset="0.815" stop-color="#ff1a00"/><stop offset="0.823" stop-color="#ff3200"/><stop offset="0.831" stop-color="#ff5b00"/><stop offset="0.852" stop-color="#ffd900"/><stop offset="0.856" stop-color="#ffe800"/><stop offset="0.862" stop-color="#faf200"/><stop offset="0.884" stop-color="#ffd300"/><stop offset="0.888" stop-color="#ffc200"/><stop offset="0.898" stop-color="#ff7c00"/><stop offset="0.904" stop-color="#ff6a00"/><stop offset="1" stop-color="#ff6000"/></linearGradient><linearGradient id="r109"><stop offset="0" stop-color="#0053ff"/><stop offset="0.096" stop-color="#005eff"/><stop offset="0.108" stop-color="#006bff"/><stop offset="0.13" stop-color="#0098ff"/><stop offset="0.138" stop-color="#00a0ff"/><stop offset="0.146" stop-color="#0096ff"/><stop offset="0.165" stop-color="#0062ff"/><stop offset="0.181" stop-color="#0057ff"/><stop offset="0.207" stop-color="#007aff"/><stop offset="0.215" stop-color="#09f"/><stop offset="0.227" stop-color="#00dcfe"/><stop offset="0.231" stop-color="#02e8f4"/><stop offset="0.237" stop-color="#00e6f7"/><stop offset="0.241" stop-color="#00d7ff"/><stop offset="0.252" stop-color="#00a5ff"/><stop offset="0.258" stop-color="#0098ff"/><stop offset="0.276" stop-color="#00beff"/><stop offset="0.298" stop-color="#00dcff"/><stop offset="0.32" stop-color="#0ff8e8"/><stop offset="0.334" stop-color="#15ffe2"/><stop offset="0.405" stop-color="#27ffd0"/><stop offset="0.607" stop-color="#9fff58"/><stop offset="0.637" stop-color="#abff4c"/><stop offset="0.686" stop-color="#afff48"/><stop offset="0.736" stop-color="#edff0a"/><stop offset="0.757" stop-color="#eeff08"/><stop offset="0.763" stop-color="#faf200"/><stop offset="0.769" stop-color="#ffd500"/><stop offset="0.783" stop-color="#ff6100"/><stop offset="0.789" stop-color="#ff3b00"/><stop offset="0.797" stop-color="#ff2400"/><stop offset="0.809" stop-color="#ff1700"/><stop offset="0.817" stop-color="#ff1a00"/><stop offset="0.823" stop-color="#ff2900"/><stop offset="0.831" stop-color="#ff4700"/><stop offset="0.852" stop-color="#ffa500"/><stop offset="0.858" stop-color="#ffb700"/><stop offset="0.864" stop-color="#ffbe00"/><stop offset="0.884" stop-color="#fb0"/><stop offset="0.888" stop-color="#ffad00"/><stop offset="0.898" stop-color="#ff7100"/><stop offset="0.904" stop-color="#ff6500"/><stop offset="1" stop-color="#ff6100"/></linearGradient><linearGradient id="r110"><stop offset="0" stop-color="#05f"/><stop offset="0.094" stop-color="#0062ff"/><stop offset="0.104" stop-color="#0070ff"/><stop offset="0.126" stop-color="#00afff"/><stop offset="0.136" stop-color="#00bfff"/><stop offset="0.144" stop-color="#00b6ff"/><stop offset="0.159" stop-color="#007dff"/><stop offset="0.167" stop-color="#0065ff"/><stop offset="0.175" stop-color="#005cff"/><stop offset="0.183" stop-color="#005dff"/><stop offset="0.207" stop-color="#0083ff"/><stop offset="0.215" stop-color="#00a5ff"/><stop offset="0.223" stop-color="#00d8ff"/><stop offset="0.229" stop-color="#0ef7e8"/><stop offset="0.233" stop-color="#15ffe2"/><stop offset="0.237" stop-color="#10fae6"/><stop offset="0.243" stop-color="#00defd"/><stop offset="0.252" stop-color="#00aeff"/><stop offset="0.258" stop-color="#009fff"/><stop offset="0.276" stop-color="#0cf"/><stop offset="0.296" stop-color="#00e5f7"/><stop offset="0.318" stop-color="#16ffe1"/><stop offset="0.403" stop-color="#37ffc0"/><stop offset="0.506" stop-color="#80ff77"/><stop offset="0.603" stop-color="#baff3d"/><stop offset="0.635" stop-color="#c7ff2f"/><stop offset="0.686" stop-color="#cfff28"/><stop offset="0.714" stop-color="#efff08"/><stop offset="0.728" stop-color="#ffea00"/><stop offset="0.759" stop-color="#ffd700"/><stop offset="0.769" stop-color="#ffb100"/><stop offset="0.783" stop-color="#ff5700"/><stop offset="0.789" stop-color="#ff3a00"/><stop offset="0.799" stop-color="#ff2300"/><stop offset="0.813" stop-color="#ff1600"/><stop offset="0.827" stop-color="#ff2900"/><stop offset="0.856" stop-color="#ff7b00"/><stop offset="0.882" stop-color="#ff9d00"/><stop offset="0.886" stop-color="#f90"/><stop offset="0.896" stop-color="#ff6a00"/><stop offset="0.902" stop-color="#ff5f00"/><stop offset="0.918" stop-color="#ff6a00"/><stop offset="1" stop-color="#ff6200"/></linearGradient><linearGradient id="r111"><stop offset="0" stop-color="#0056ff"/><stop offset="0.092" stop-color="#0063ff"/><stop offset="0.104" stop-color="#007aff"/><stop offset="0.124" stop-color="#00c5ff"/><stop offset="0.134" stop-color="#00d5ff"/><stop offset="0.144" stop-color="#00c5ff"/><stop offset="0.159" stop-color="#0082ff"/><stop offset="0.165" stop-color="#006cff"/><stop offset="0.173" stop-color="#005fff"/><stop offset="0.181" stop-color="#005cff"/><stop offset="0.197" stop-color="#006fff"/><stop offset="0.207" stop-color="#0084ff"/><stop offset="0.215" stop-color="#00a5ff"/><stop offset="0.223" stop-color="#00d6ff"/><stop offset="0.231" stop-color="#11fae6"/><stop offset="0.235" stop-color="#12fbe5"/><stop offset="0.239" stop-color="#09f1ee"/><stop offset="0.243" stop-color="#00dcfe"/><stop offset="0.252" stop-color="#00abff"/><stop offset="0.258" stop-color="#009bff"/><stop offset="0.276" stop-color="#00ceff"/><stop offset="0.294" stop-color="#00e5f7"/><stop offset="0.318" stop-color="#16ffe1"/><stop offset="0.403" stop-color="#3cffbb"/><stop offset="0.567" stop-color="#baff3c"/><stop offset="0.607" stop-color="#d5ff22"/><stop offset="0.67" stop-color="#effe08"/><stop offset="0.696" stop-color="#ffea00"/><stop offset="0.734" stop-color="#ffb900"/><stop offset="0.759" stop-color="#ffae00"/><stop offset="0.769" stop-color="#ff9200"/><stop offset="0.789" stop-color="#ff3c00"/><stop offset="0.801" stop-color="#ff2400"/><stop offset="0.815" stop-color="#ff1600"/><stop offset="0.833" stop-color="#ff2800"/><stop offset="0.882" stop-color="#ff8000"/><stop offset="0.886" stop-color="#ff7e00"/><stop offset="0.896" stop-color="#ff5c00"/><stop offset="0.9" stop-color="#ff5700"/><stop offset="0.916" stop-color="#ff6b00"/><stop offset="1" stop-color="#ff6300"/></linearGradient><linearGradient id="r112"><stop offset="0" stop-color="#0056ff"/><stop offset="0.092" stop-color="#0063ff"/><stop offset="0.102" stop-color="#0079ff"/><stop offset="0.122" stop-color="#00cfff"/><stop offset="0.132" stop-color="#00dbff"/><stop offset="0.142" stop-color="#00c9ff"/><stop offset="0.159" stop-color="#007eff"/><stop offset="0.165" stop-color="#006aff"/><stop offset="0.173" stop-color="#005dff"/><stop offset="0.181" stop-color="#005aff"/><stop offset="0.207" stop-color="#007dff"/><stop offset="0.213" stop-color="#0091ff"/><stop offset="0.225" stop-color="#00cdff"/><stop offset="0.231" stop-color="#00e1fa"/><stop offset="0.235" stop-color="#00e3f9"/><stop offset="0.239" stop-color="#00daff"/><stop offset="0.252" stop-color="#009cff"/><stop offset="0.258" stop-color="#008eff"/><stop offset="0.278" stop-color="#00c7ff"/><stop offset="0.294" stop-color="#00dcff"/><stop offset="0.302" stop-color="#00e5f7"/><stop offset="0.328" stop-color="#15ffe1"/><stop offset="0.403" stop-color="#36ffc1"/><stop offset="0.565" stop-color="#c1ff36"/><stop offset="0.605" stop-color="#dfff18"/><stop offset="0.649" stop-color="#f3fa04"/><stop offset="0.668" stop-color="#ffeb00"/><stop offset="0.734" stop-color="#ff9f00"/><stop offset="0.761" stop-color="#ff9300"/><stop offset="0.771" stop-color="#ff7d00"/><stop offset="0.793" stop-color="#ff3600"/><stop offset="0.817" stop-color="#ff1600"/><stop offset="0.845" stop-color="#ff2c00"/><stop offset="0.868" stop-color="#ff4d00"/><stop offset="0.884" stop-color="#ff7200"/><stop offset="0.898" stop-color="#ff5300"/><stop offset="0.916" stop-color="#ff6c00"/><stop offset="1" stop-color="#ff6400"/></linearGradient><linearGradient id="r113"><stop offset="0" stop-color="#05f"/><stop offset="0.09" stop-color="#005fff"/><stop offset="0.102" stop-color="#0078ff"/><stop offset="0.12" stop-color="#00c8ff"/><stop offset="0.128" stop-color="#00d2ff"/><stop offset="0.14" stop-color="#00bcff"/><stop offset="0.157" stop-color="#007bff"/><stop offset="0.165" stop-color="#0063ff"/><stop offset="0.175" stop-color="#0057ff"/><stop offset="0.183" stop-color="#0057ff"/><stop offset="0.209" stop-color="#0075ff"/><stop offset="0.231" stop-color="#0bf"/><stop offset="0.239" stop-color="#00b5ff"/><stop offset="0.252" stop-color="#0085ff"/><stop offset="0.258" stop-color="#007aff"/><stop offset="0.276" stop-color="#00afff"/><stop offset="0.308" stop-color="#00dcff"/><stop offset="0.316" stop-color="#01e6f6"/><stop offset="0.361" stop-color="#15ffe2"/><stop offset="0.405" stop-color="#28ffcf"/><stop offset="0.569" stop-color="#beff38"/><stop offset="0.605" stop-color="#d8ff1e"/><stop offset="0.658" stop-color="#efff08"/><stop offset="0.682" stop-color="#ffec00"/><stop offset="0.736" stop-color="#ffa500"/><stop offset="0.765" stop-color="#ff9600"/><stop offset="0.773" stop-color="#ff8300"/><stop offset="0.795" stop-color="#ff3700"/><stop offset="0.817" stop-color="#ff1800"/><stop offset="0.845" stop-color="#ff2d00"/><stop offset="0.866" stop-color="#ff4f00"/><stop offset="0.884" stop-color="#ff7800"/><stop offset="0.898" stop-color="#ff5600"/><stop offset="0.916" stop-color="#ff6d00"/><stop offset="1" stop-color="#ff6500"/></linearGradient><linearGradient id="r114"><stop offset="0" stop-color="#05f"/><stop offset="0.09" stop-color="#005cff"/><stop offset="0.1" stop-color="#006dff"/><stop offset="0.116" stop-color="#00abff"/><stop offset="0.124" stop-color="#0bf"/><stop offset="0.134" stop-color="#00afff"/><stop offset="0.161" stop-color="#0062ff"/><stop offset="0.173" stop-color="#0052ff"/><stop offset="0.183" stop-color="#0051ff"/><stop offset="0.205" stop-color="#005fff"/><stop offset="0.233" stop-color="#0092ff"/><stop offset="0.239" stop-color="#008dff"/><stop offset="0.252" stop-color="#006bff"/><stop offset="0.258" stop-color="#0064ff"/><stop offset="0.276" stop-color="#0093ff"/><stop offset="0.32" stop-color="#00d5ff"/><stop offset="0.359" stop-color="#00e5f7"/><stop offset="0.409" stop-color="#15ffe2"/><stop offset="0.565" stop-color="#aaff4d"/><stop offset="0.607" stop-color="#c4ff33"/><stop offset="0.684" stop-color="#daff1d"/><stop offset="0.704" stop-color="#eeff08"/><stop offset="0.716" stop-color="#ffea00"/><stop offset="0.738" stop-color="#ffc600"/><stop offset="0.767" stop-color="#ffb300"/><stop offset="0.775" stop-color="#ff9a00"/><stop offset="0.787" stop-color="#ff5c00"/><stop offset="0.795" stop-color="#ff3e00"/><stop offset="0.805" stop-color="#ff2700"/><stop offset="0.817" stop-color="#ff1a00"/><stop offset="0.839" stop-color="#ff3000"/><stop offset="0.882" stop-color="#ff9000"/><stop offset="0.886" stop-color="#ff8d00"/><stop offset="0.896" stop-color="#ff6700"/><stop offset="0.9" stop-color="#ff6000"/><stop offset="0.916" stop-color="#ff6e00"/><stop offset="1" stop-color="#ff6700"/></linearGradient><linearGradient id="r115"><stop offset="0" stop-color="#05f"/><stop offset="0.09" stop-color="#0059ff"/><stop offset="0.1" stop-color="#06f"/><stop offset="0.116" stop-color="#0094ff"/><stop offset="0.124" stop-color="#009dff"/><stop offset="0.132" stop-color="#0093ff"/><stop offset="0.157" stop-color="#005eff"/><stop offset="0.171" stop-color="#004fff"/><stop offset="0.205" stop-color="#0053ff"/><stop offset="0.233" stop-color="#006fff"/><stop offset="0.258" stop-color="#0050ff"/><stop offset="0.278" stop-color="#007bff"/><stop offset="0.32" stop-color="#00bcff"/><stop offset="0.407" stop-color="#00dbff"/><stop offset="0.417" stop-color="#01e7f6"/><stop offset="0.437" stop-color="#15ffe2"/><stop offset="0.567" stop-color="#91ff65"/><stop offset="0.633" stop-color="#b1ff46"/><stop offset="0.688" stop-color="#b4ff43"/><stop offset="0.704" stop-color="#c6ff31"/><stop offset="0.726" stop-color="#edff0a"/><stop offset="0.738" stop-color="#ffec00"/><stop offset="0.769" stop-color="#ffd600"/><stop offset="0.775" stop-color="#ffbf00"/><stop offset="0.789" stop-color="#ff6300"/><stop offset="0.795" stop-color="#ff4600"/><stop offset="0.805" stop-color="#ff2a00"/><stop offset="0.815" stop-color="#ff1d00"/><stop offset="0.823" stop-color="#ff2100"/><stop offset="0.833" stop-color="#f30"/><stop offset="0.862" stop-color="#ff9600"/><stop offset="0.88" stop-color="#ffb300"/><stop offset="0.886" stop-color="#ffad00"/><stop offset="0.896" stop-color="#ff7a00"/><stop offset="0.902" stop-color="#ff6a00"/><stop offset="0.918" stop-color="#ff6f00"/><stop offset="1" stop-color="#ff6800"/></linearGradient><linearGradient id="r116"><stop offset="0" stop-color="#05f"/><stop offset="0.09" stop-color="#0057ff"/><stop offset="0.122" stop-color="#0081ff"/><stop offset="0.157" stop-color="#0056ff"/><stop offset="0.171" stop-color="#004cff"/><stop offset="0.205" stop-color="#004cff"/><stop offset="0.233" stop-color="#005dff"/><stop offset="0.258" stop-color="#0046ff"/><stop offset="0.32" stop-color="#00a7ff"/><stop offset="0.401" stop-color="#00b5ff"/><stop offset="0.435" stop-color="#00dcfe"/><stop offset="0.443" stop-color="#00e6f6"/><stop offset="0.466" stop-color="#16ffe1"/><stop offset="0.567" stop-color="#76ff80"/><stop offset="0.649" stop-color="#9eff59"/><stop offset="0.688" stop-color="#9cff5b"/><stop offset="0.704" stop-color="#afff48"/><stop offset="0.74" stop-color="#efff08"/><stop offset="0.748" stop-color="#f3f903"/><stop offset="0.765" stop-color="#efff08"/><stop offset="0.771" stop-color="#f8f500"/><stop offset="0.775" stop-color="#ffe300"/><stop offset="0.789" stop-color="#ff7300"/><stop offset="0.797" stop-color="#ff4600"/><stop offset="0.805" stop-color="#ff2d00"/><stop offset="0.815" stop-color="#ff2000"/><stop offset="0.823" stop-color="#ff2700"/><stop offset="0.833" stop-color="#ff4100"/><stop offset="0.841" stop-color="#ff6400"/><stop offset="0.858" stop-color="#ffbe00"/><stop offset="0.864" stop-color="#ffd200"/><stop offset="0.87" stop-color="#ffda00"/><stop offset="0.884" stop-color="#ffd100"/><stop offset="0.888" stop-color="#ffc100"/><stop offset="0.898" stop-color="#ff8100"/><stop offset="0.904" stop-color="#ff7100"/><stop offset="1" stop-color="#ff6900"/></linearGradient><linearGradient id="r117"><stop offset="0" stop-color="#0056ff"/><stop offset="0.09" stop-color="#0057ff"/><stop offset="0.124" stop-color="#006eff"/><stop offset="0.177" stop-color="#004bff"/><stop offset="0.207" stop-color="#004eff"/><stop offset="0.233" stop-color="#0063ff"/><stop offset="0.258" stop-color="#004bff"/><stop offset="0.32" stop-color="#00a1ff"/><stop offset="0.403" stop-color="#00a6ff"/><stop offset="0.452" stop-color="#00daff"/><stop offset="0.462" stop-color="#00e6f7"/><stop offset="0.484" stop-color="#15ffe2"/><stop offset="0.561" stop-color="#5cff9a"/><stop offset="0.605" stop-color="#7cff7b"/><stop offset="0.654" stop-color="#96ff61"/><stop offset="0.688" stop-color="#93ff64"/><stop offset="0.704" stop-color="#a7ff50"/><stop offset="0.742" stop-color="#e9ff0e"/><stop offset="0.767" stop-color="#dcff1a"/><stop offset="0.773" stop-color="#e8ff0f"/><stop offset="0.775" stop-color="#f1fc06"/><stop offset="0.779" stop-color="#ffdf00"/><stop offset="0.789" stop-color="#ff8000"/><stop offset="0.797" stop-color="#ff4c00"/><stop offset="0.805" stop-color="#ff3000"/><stop offset="0.815" stop-color="#f20"/><stop offset="0.823" stop-color="#ff2c00"/><stop offset="0.833" stop-color="#ff4e00"/><stop offset="0.841" stop-color="#ff7b00"/><stop offset="0.856" stop-color="#ffde00"/><stop offset="0.864" stop-color="#efff08"/><stop offset="0.874" stop-color="#effe08"/><stop offset="0.884" stop-color="#ffe800"/><stop offset="0.888" stop-color="#ffd400"/><stop offset="0.898" stop-color="#ff8c00"/><stop offset="0.906" stop-color="#ff7400"/><stop offset="1" stop-color="#ff6a00"/></linearGradient><linearGradient id="r118"><stop offset="0" stop-color="#0056ff"/><stop offset="0.09" stop-color="#0059ff"/><stop offset="0.132" stop-color="#0068ff"/><stop offset="0.183" stop-color="#004eff"/><stop offset="0.207" stop-color="#0058ff"/><stop offset="0.233" stop-color="#007eff"/><stop offset="0.254" stop-color="#0062ff"/><stop offset="0.26" stop-color="#0061ff"/><stop offset="0.32" stop-color="#00b0ff"/><stop offset="0.403" stop-color="#00adff"/><stop offset="0.452" stop-color="#00dbff"/><stop offset="0.464" stop-color="#01e7f6"/><stop offset="0.488" stop-color="#15ffe2"/><stop offset="0.609" stop-color="#79ff7e"/><stop offset="0.654" stop-color="#93ff64"/><stop offset="0.686" stop-color="#8fff68"/><stop offset="0.704" stop-color="#a5ff52"/><stop offset="0.74" stop-color="#e6ff11"/><stop offset="0.751" stop-color="#e7ff10"/><stop offset="0.767" stop-color="#d5ff22"/><stop offset="0.771" stop-color="#d9ff1e"/><stop offset="0.775" stop-color="#e8ff0f"/><stop offset="0.777" stop-color="#f3fa03"/><stop offset="0.779" stop-color="#ffe900"/><stop offset="0.789" stop-color="#ff8700"/><stop offset="0.797" stop-color="#ff5100"/><stop offset="0.805" stop-color="#f30"/><stop offset="0.815" stop-color="#ff2500"/><stop offset="0.823" stop-color="#ff3000"/><stop offset="0.833" stop-color="#ff5400"/><stop offset="0.841" stop-color="#ff8500"/><stop offset="0.854" stop-color="#ffe200"/><stop offset="0.858" stop-color="#f2fb05"/><stop offset="0.86" stop-color="#e9ff0e"/><stop offset="0.868" stop-color="#dbff1c"/><stop offset="0.88" stop-color="#effe07"/><stop offset="0.888" stop-color="#ffdc00"/><stop offset="0.9" stop-color="#ff8600"/><stop offset="0.906" stop-color="#ff7600"/><stop offset="1" stop-color="#ff6b00"/></linearGradient><linearGradient id="r119"><stop offset="0" stop-color="#0057ff"/><stop offset="0.094" stop-color="#005cff"/><stop offset="0.138" stop-color="#0074ff"/><stop offset="0.167" stop-color="#0058ff"/><stop offset="0.183" stop-color="#0054ff"/><stop offset="0.209" stop-color="#006aff"/><stop offset="0.231" stop-color="#00a6ff"/><stop offset="0.237" stop-color="#00a5ff"/><stop offset="0.252" stop-color="#0081ff"/><stop offset="0.26" stop-color="#007cff"/><stop offset="0.32" stop-color="#00c9ff"/><stop offset="0.401" stop-color="#00c7ff"/><stop offset="0.427" stop-color="#00dbff"/><stop offset="0.439" stop-color="#00e6f7"/><stop offset="0.47" stop-color="#16ffe1"/><stop offset="0.631" stop-color="#89ff6e"/><stop offset="0.656" stop-color="#95ff62"/><stop offset="0.686" stop-color="#8fff68"/><stop offset="0.704" stop-color="#a5ff52"/><stop offset="0.74" stop-color="#e7ff10"/><stop offset="0.748" stop-color="#eaff0d"/><stop offset="0.767" stop-color="#daff1d"/><stop offset="0.775" stop-color="#edff09"/><stop offset="0.779" stop-color="#ffe400"/><stop offset="0.789" stop-color="#ff8600"/><stop offset="0.795" stop-color="#ff5d00"/><stop offset="0.805" stop-color="#ff3600"/><stop offset="0.815" stop-color="#ff2800"/><stop offset="0.823" stop-color="#ff3100"/><stop offset="0.833" stop-color="#ff5300"/><stop offset="0.841" stop-color="#ff8000"/><stop offset="0.856" stop-color="#ffe400"/><stop offset="0.862" stop-color="#eeff09"/><stop offset="0.87" stop-color="#e6ff11"/><stop offset="0.876" stop-color="#eeff09"/><stop offset="0.882" stop-color="#faf200"/><stop offset="0.888" stop-color="#ffd800"/><stop offset="0.898" stop-color="#ff8f00"/><stop offset="0.906" stop-color="#ff7600"/><stop offset="1" stop-color="#ff6c00"/></linearGradient><linearGradient id="r120"><stop offset="0" stop-color="#0057ff"/><stop offset="0.096" stop-color="#005fff"/><stop offset="0.11" stop-color="#0069ff"/><stop offset="0.138" stop-color="#008dff"/><stop offset="0.146" stop-color="#0087ff"/><stop offset="0.167" stop-color="#005eff"/><stop offset="0.181" stop-color="#0058ff"/><stop offset="0.207" stop-color="#0075ff"/><stop offset="0.215" stop-color="#008fff"/><stop offset="0.227" stop-color="#00c7ff"/><stop offset="0.233" stop-color="#00d3ff"/><stop offset="0.239" stop-color="#00caff"/><stop offset="0.252" stop-color="#009cff"/><stop offset="0.258" stop-color="#0093ff"/><stop offset="0.278" stop-color="#00b2ff"/><stop offset="0.32" stop-color="#00e0fb"/><stop offset="0.401" stop-color="#01e7f5"/><stop offset="0.431" stop-color="#15ffe2"/><stop offset="0.605" stop-color="#87ff70"/><stop offset="0.654" stop-color="#9bff5c"/><stop offset="0.686" stop-color="#94ff63"/><stop offset="0.704" stop-color="#a9ff4e"/><stop offset="0.74" stop-color="#ecff0b"/><stop offset="0.769" stop-color="#edff0a"/><stop offset="0.773" stop-color="#f7f500"/><stop offset="0.777" stop-color="#ffdf00"/><stop offset="0.789" stop-color="#ff7e00"/><stop offset="0.795" stop-color="#ff5b00"/><stop offset="0.805" stop-color="#ff3800"/><stop offset="0.815" stop-color="#ff2b00"/><stop offset="0.823" stop-color="#ff3200"/><stop offset="0.833" stop-color="#ff4c00"/><stop offset="0.841" stop-color="#ff7000"/><stop offset="0.858" stop-color="#ffcb00"/><stop offset="0.864" stop-color="#ffdf00"/><stop offset="0.87" stop-color="#ffe500"/><stop offset="0.884" stop-color="#ffd900"/><stop offset="0.888" stop-color="#ffc900"/><stop offset="0.898" stop-color="#ff8900"/><stop offset="0.904" stop-color="#f70"/><stop offset="1" stop-color="#ff6d00"/></linearGradient><linearGradient id="r121"><stop offset="0" stop-color="#0057ff"/><stop offset="0.094" stop-color="#0062ff"/><stop offset="0.106" stop-color="#006eff"/><stop offset="0.13" stop-color="#00a2ff"/><stop offset="0.138" stop-color="#00acff"/><stop offset="0.146" stop-color="#00a1ff"/><stop offset="0.165" stop-color="#0068ff"/><stop offset="0.181" stop-color="#005cff"/><stop offset="0.207" stop-color="#0081ff"/><stop offset="0.215" stop-color="#00a1ff"/><stop offset="0.225" stop-color="#00dcfe"/><stop offset="0.229" stop-color="#07eef0"/><stop offset="0.233" stop-color="#0df5ea"/><stop offset="0.237" stop-color="#09f1ee"/><stop offset="0.243" stop-color="#00d8ff"/><stop offset="0.252" stop-color="#00aeff"/><stop offset="0.258" stop-color="#00a1ff"/><stop offset="0.276" stop-color="#00c4ff"/><stop offset="0.298" stop-color="#00dcfe"/><stop offset="0.32" stop-color="#0af2ec"/><stop offset="0.375" stop-color="#15ffe2"/><stop offset="0.405" stop-color="#1affdc"/><stop offset="0.506" stop-color="#63ff94"/><stop offset="0.605" stop-color="#9dff5a"/><stop offset="0.652" stop-color="#abff4b"/><stop offset="0.688" stop-color="#a6ff51"/><stop offset="0.704" stop-color="#b9ff3e"/><stop offset="0.732" stop-color="#effe08"/><stop offset="0.746" stop-color="#ffec00"/><stop offset="0.761" stop-color="#ffeb00"/><stop offset="0.769" stop-color="#ffe300"/><stop offset="0.775" stop-color="#ffcd00"/><stop offset="0.789" stop-color="#ff7300"/><stop offset="0.795" stop-color="#ff5700"/><stop offset="0.805" stop-color="#ff3b00"/><stop offset="0.815" stop-color="#ff2e00"/><stop offset="0.823" stop-color="#ff3200"/><stop offset="0.833" stop-color="#f40"/><stop offset="0.841" stop-color="#ff5b00"/><stop offset="0.862" stop-color="#ffa900"/><stop offset="0.88" stop-color="#ffc000"/><stop offset="0.886" stop-color="#ffb900"/><stop offset="0.898" stop-color="#ff7f00"/><stop offset="0.904" stop-color="#ff7400"/><stop offset="1" stop-color="#ff6e00"/></linearGradient><linearGradient id="r122"><stop offset="0" stop-color="#0057ff"/><stop offset="0.094" stop-color="#0064ff"/><stop offset="0.104" stop-color="#0075ff"/><stop offset="0.126" stop-color="#00b8ff"/><stop offset="0.136" stop-color="#00c9ff"/><stop offset="0.144" stop-color="#00beff"/><stop offset="0.165" stop-color="#006dff"/><stop offset="0.175" stop-color="#005eff"/><stop offset="0.183" stop-color="#005fff"/><stop offset="0.207" stop-color="#0086ff"/><stop offset="0.215" stop-color="#00a9ff"/><stop offset="0.223" stop-color="#00ddfe"/><stop offset="0.227" stop-color="#0cf4eb"/><stop offset="0.231" stop-color="#17ffe0"/><stop offset="0.239" stop-color="#0ff8e8"/><stop offset="0.245" stop-color="#00d7ff"/><stop offset="0.252" stop-color="#00b3ff"/><stop offset="0.258" stop-color="#00a4ff"/><stop offset="0.276" stop-color="#00cfff"/><stop offset="0.296" stop-color="#00e5f7"/><stop offset="0.324" stop-color="#15ffe2"/><stop offset="0.403" stop-color="#29ffce"/><stop offset="0.504" stop-color="#78ff7f"/><stop offset="0.601" stop-color="#b4ff43"/><stop offset="0.637" stop-color="#c1ff36"/><stop offset="0.688" stop-color="#c6ff31"/><stop offset="0.714" stop-color="#ebff0b"/><stop offset="0.724" stop-color="#ffeb00"/><stop offset="0.74" stop-color="#ffd100"/><stop offset="0.761" stop-color="#ffca00"/><stop offset="0.769" stop-color="#ffbf00"/><stop offset="0.775" stop-color="#ffac00"/><stop offset="0.787" stop-color="#ff7100"/><stop offset="0.795" stop-color="#ff5400"/><stop offset="0.805" stop-color="#ff3e00"/><stop offset="0.817" stop-color="#ff3200"/><stop offset="0.839" stop-color="#ff4700"/><stop offset="0.862" stop-color="#ff7d00"/><stop offset="0.882" stop-color="#ffa200"/><stop offset="0.886" stop-color="#ff9f00"/><stop offset="0.896" stop-color="#ff7900"/><stop offset="0.902" stop-color="#ff7000"/><stop offset="0.918" stop-color="#f70"/><stop offset="1" stop-color="#ff6f00"/></linearGradient><linearGradient id="r123"><stop offset="0" stop-color="#0057ff"/><stop offset="0.092" stop-color="#0064ff"/><stop offset="0.104" stop-color="#007eff"/><stop offset="0.124" stop-color="#0cf"/><stop offset="0.134" stop-color="#00dbff"/><stop offset="0.144" stop-color="#00c9ff"/><stop offset="0.159" stop-color="#0084ff"/><stop offset="0.165" stop-color="#006eff"/><stop offset="0.173" stop-color="#0060ff"/><stop offset="0.181" stop-color="#005eff"/><stop offset="0.207" stop-color="#0085ff"/><stop offset="0.215" stop-color="#00a6ff"/><stop offset="0.223" stop-color="#00d7ff"/><stop offset="0.229" stop-color="#0cf4eb"/><stop offset="0.233" stop-color="#12fce5"/><stop offset="0.237" stop-color="#0ef7e8"/><stop offset="0.243" stop-color="#00ddfe"/><stop offset="0.252" stop-color="#00acff"/><stop offset="0.258" stop-color="#009dff"/><stop offset="0.276" stop-color="#00ceff"/><stop offset="0.296" stop-color="#00e5f7"/><stop offset="0.322" stop-color="#15ffe1"/><stop offset="0.403" stop-color="#2fffc7"/><stop offset="0.502" stop-color="#84ff73"/><stop offset="0.565" stop-color="#afff48"/><stop offset="0.605" stop-color="#c9ff2d"/><stop offset="0.692" stop-color="#eeff08"/><stop offset="0.706" stop-color="#ffea00"/><stop offset="0.732" stop-color="#ffb400"/><stop offset="0.767" stop-color="#ffa500"/><stop offset="0.793" stop-color="#ff5600"/><stop offset="0.815" stop-color="#ff3600"/><stop offset="0.843" stop-color="#f40"/><stop offset="0.884" stop-color="#ff8b00"/><stop offset="0.9" stop-color="#ff6b00"/><stop offset="0.916" stop-color="#ff7800"/><stop offset="1" stop-color="#ff7000"/></linearGradient><linearGradient id="r124"><stop offset="0" stop-color="#0057ff"/><stop offset="0.092" stop-color="#0064ff"/><stop offset="0.102" stop-color="#007bff"/><stop offset="0.12" stop-color="#00ceff"/><stop offset="0.13" stop-color="#00dffc"/><stop offset="0.136" stop-color="#00dbff"/><stop offset="0.142" stop-color="#00cbff"/><stop offset="0.159" stop-color="#0080ff"/><stop offset="0.165" stop-color="#006bff"/><stop offset="0.173" stop-color="#005eff"/><stop offset="0.181" stop-color="#005bff"/><stop offset="0.207" stop-color="#007dff"/><stop offset="0.213" stop-color="#0090ff"/><stop offset="0.225" stop-color="#00caff"/><stop offset="0.231" stop-color="#00defd"/><stop offset="0.239" stop-color="#00d7ff"/><stop offset="0.252" stop-color="#009bff"/><stop offset="0.258" stop-color="#008eff"/><stop offset="0.272" stop-color="#00baff"/><stop offset="0.28" stop-color="#00c8ff"/><stop offset="0.296" stop-color="#00dcff"/><stop offset="0.318" stop-color="#0df5ea"/><stop offset="0.338" stop-color="#15ffe2"/><stop offset="0.403" stop-color="#2bffcc"/><stop offset="0.502" stop-color="#86ff71"/><stop offset="0.567" stop-color="#b6ff40"/><stop offset="0.666" stop-color="#eeff09"/><stop offset="0.692" stop-color="#ffeb00"/><stop offset="0.706" stop-color="#ffd600"/><stop offset="0.73" stop-color="#ffa300"/><stop offset="0.765" stop-color="#ff9a00"/><stop offset="0.793" stop-color="#f50"/><stop offset="0.817" stop-color="#ff3800"/><stop offset="0.847" stop-color="#ff4500"/><stop offset="0.866" stop-color="#ff5e00"/><stop offset="0.884" stop-color="#ff8300"/><stop offset="0.898" stop-color="#ff6900"/><stop offset="0.916" stop-color="#ff7900"/><stop offset="1" stop-color="#ff7100"/></linearGradient><linearGradient id="r125"><stop offset="0" stop-color="#0057ff"/><stop offset="0.09" stop-color="#0060ff"/><stop offset="0.1" stop-color="#0073ff"/><stop offset="0.118" stop-color="#00c5ff"/><stop offset="0.126" stop-color="#00d4ff"/><stop offset="0.138" stop-color="#00c3ff"/><stop offset="0.159" stop-color="#0075ff"/><stop offset="0.165" stop-color="#0065ff"/><stop offset="0.175" stop-color="#0058ff"/><stop offset="0.183" stop-color="#0058ff"/><stop offset="0.209" stop-color="#0075ff"/><stop offset="0.231" stop-color="#00b7ff"/><stop offset="0.239" stop-color="#00b2ff"/><stop offset="0.252" stop-color="#0085ff"/><stop offset="0.258" stop-color="#007bff"/><stop offset="0.276" stop-color="#00aeff"/><stop offset="0.31" stop-color="#00dbff"/><stop offset="0.318" stop-color="#00e5f7"/><stop offset="0.381" stop-color="#15ffe2"/><stop offset="0.405" stop-color="#1fffd8"/><stop offset="0.502" stop-color="#7cff7b"/><stop offset="0.567" stop-color="#b1ff46"/><stop offset="0.609" stop-color="#ccff2b"/><stop offset="0.688" stop-color="#edff0a"/><stop offset="0.704" stop-color="#ffeb00"/><stop offset="0.73" stop-color="#ffb300"/><stop offset="0.763" stop-color="#ffa900"/><stop offset="0.771" stop-color="#ff9700"/><stop offset="0.791" stop-color="#ff5900"/><stop offset="0.815" stop-color="#ff3900"/><stop offset="0.843" stop-color="#ff4500"/><stop offset="0.884" stop-color="#ff8a00"/><stop offset="0.9" stop-color="#ff6c00"/><stop offset="0.916" stop-color="#ff7a00"/><stop offset="1" stop-color="#ff7200"/></linearGradient><linearGradient id="r126"><stop offset="0" stop-color="#0057ff"/><stop offset="0.09" stop-color="#005eff"/><stop offset="0.1" stop-color="#006eff"/><stop offset="0.116" stop-color="#00adff"/><stop offset="0.124" stop-color="#00bcff"/><stop offset="0.134" stop-color="#00afff"/><stop offset="0.161" stop-color="#0065ff"/><stop offset="0.173" stop-color="#05f"/><stop offset="0.183" stop-color="#0054ff"/><stop offset="0.205" stop-color="#0062ff"/><stop offset="0.233" stop-color="#0092ff"/><stop offset="0.239" stop-color="#008eff"/><stop offset="0.252" stop-color="#006fff"/><stop offset="0.258" stop-color="#0068ff"/><stop offset="0.276" stop-color="#0094ff"/><stop offset="0.32" stop-color="#00d1ff"/><stop offset="0.377" stop-color="#00e6f7"/><stop offset="0.401" stop-color="#07efef"/><stop offset="0.417" stop-color="#16ffe1"/><stop offset="0.563" stop-color="#9dff59"/><stop offset="0.635" stop-color="#c4ff33"/><stop offset="0.686" stop-color="#c8ff2f"/><stop offset="0.702" stop-color="#d9ff1e"/><stop offset="0.714" stop-color="#effe07"/><stop offset="0.722" stop-color="#ffeb00"/><stop offset="0.736" stop-color="#ffd400"/><stop offset="0.763" stop-color="#ffc700"/><stop offset="0.771" stop-color="#ffb000"/><stop offset="0.785" stop-color="#ff7000"/><stop offset="0.791" stop-color="#ff5c00"/><stop offset="0.815" stop-color="#ff3a00"/><stop offset="0.827" stop-color="#ff3d00"/><stop offset="0.839" stop-color="#ff4b00"/><stop offset="0.862" stop-color="#ff7d00"/><stop offset="0.882" stop-color="#ffa000"/><stop offset="0.886" stop-color="#ff9d00"/><stop offset="0.9" stop-color="#ff7300"/><stop offset="0.916" stop-color="#ff7c00"/><stop offset="1" stop-color="#ff7400"/></linearGradient><linearGradient id="r127"><stop offset="0" stop-color="#0057ff"/><stop offset="0.09" stop-color="#005bff"/><stop offset="0.1" stop-color="#0067ff"/><stop offset="0.116" stop-color="#0094ff"/><stop offset="0.124" stop-color="#009eff"/><stop offset="0.132" stop-color="#0094ff"/><stop offset="0.159" stop-color="#005fff"/><stop offset="0.173" stop-color="#0052ff"/><stop offset="0.205" stop-color="#0058ff"/><stop offset="0.233" stop-color="#0074ff"/><stop offset="0.258" stop-color="#0059ff"/><stop offset="0.276" stop-color="#007dff"/><stop offset="0.32" stop-color="#00b8ff"/><stop offset="0.399" stop-color="#00d0ff"/><stop offset="0.411" stop-color="#00dbff"/><stop offset="0.421" stop-color="#01e7f6"/><stop offset="0.443" stop-color="#16ffe1"/><stop offset="0.567" stop-color="#89ff6e"/><stop offset="0.637" stop-color="#acff4b"/><stop offset="0.688" stop-color="#a8ff4f"/><stop offset="0.704" stop-color="#bbff3c"/><stop offset="0.73" stop-color="#eeff09"/><stop offset="0.738" stop-color="#f8f400"/><stop offset="0.757" stop-color="#fcf000"/><stop offset="0.765" stop-color="#ffe400"/><stop offset="0.771" stop-color="#ffce00"/><stop offset="0.785" stop-color="#ff7d00"/><stop offset="0.791" stop-color="#ff6400"/><stop offset="0.801" stop-color="#ff4c00"/><stop offset="0.815" stop-color="#ff3c00"/><stop offset="0.833" stop-color="#ff4d00"/><stop offset="0.843" stop-color="#ff6700"/><stop offset="0.862" stop-color="#ffa700"/><stop offset="0.88" stop-color="#ffbe00"/><stop offset="0.886" stop-color="#ffb700"/><stop offset="0.896" stop-color="#ff8a00"/><stop offset="0.902" stop-color="#ff7b00"/><stop offset="1" stop-color="#ff7500"/></linearGradient><linearGradient id="r128"><stop offset="0" stop-color="#0057ff"/><stop offset="0.09" stop-color="#0059ff"/><stop offset="0.124" stop-color="#0082ff"/><stop offset="0.159" stop-color="#0059ff"/><stop offset="0.175" stop-color="#004fff"/><stop offset="0.205" stop-color="#0053ff"/><stop offset="0.233" stop-color="#0068ff"/><stop offset="0.258" stop-color="#0054ff"/><stop offset="0.32" stop-color="#00a5ff"/><stop offset="0.401" stop-color="#00b7ff"/><stop offset="0.435" stop-color="#00dbff"/><stop offset="0.445" stop-color="#00e6f6"/><stop offset="0.468" stop-color="#15ffe2"/><stop offset="0.561" stop-color="#6cff8b"/><stop offset="0.603" stop-color="#86ff70"/><stop offset="0.652" stop-color="#9dff5a"/><stop offset="0.688" stop-color="#96ff61"/><stop offset="0.704" stop-color="#aaff4d"/><stop offset="0.736" stop-color="#e6ff11"/><stop offset="0.765" stop-color="#efff08"/><stop offset="0.771" stop-color="#ffe900"/><stop offset="0.785" stop-color="#ff8b00"/><stop offset="0.791" stop-color="#ff6c00"/><stop offset="0.801" stop-color="#ff5100"/><stop offset="0.815" stop-color="#ff4000"/><stop offset="0.823" stop-color="#ff4500"/><stop offset="0.833" stop-color="#ff5900"/><stop offset="0.841" stop-color="#f70"/><stop offset="0.858" stop-color="#ffc900"/><stop offset="0.864" stop-color="#ffdb00"/><stop offset="0.87" stop-color="#ffe100"/><stop offset="0.884" stop-color="#ffd600"/><stop offset="0.888" stop-color="#ffc700"/><stop offset="0.898" stop-color="#ff8e00"/><stop offset="0.904" stop-color="#ff8000"/><stop offset="1" stop-color="#ff7600"/></linearGradient><linearGradient id="r129"><stop offset="0" stop-color="#0057ff"/><stop offset="0.09" stop-color="#0059ff"/><stop offset="0.124" stop-color="#0070ff"/><stop offset="0.179" stop-color="#004eff"/><stop offset="0.207" stop-color="#0056ff"/><stop offset="0.233" stop-color="#0072ff"/><stop offset="0.258" stop-color="#005dff"/><stop offset="0.32" stop-color="#00a3ff"/><stop offset="0.403" stop-color="#00adff"/><stop offset="0.449" stop-color="#00dbff"/><stop offset="0.462" stop-color="#01e7f6"/><stop offset="0.486" stop-color="#16ffe1"/><stop offset="0.607" stop-color="#7bff7b"/><stop offset="0.654" stop-color="#95ff62"/><stop offset="0.688" stop-color="#91ff66"/><stop offset="0.706" stop-color="#a8ff4f"/><stop offset="0.736" stop-color="#e1ff16"/><stop offset="0.744" stop-color="#e6ff11"/><stop offset="0.761" stop-color="#deff19"/><stop offset="0.769" stop-color="#ecff0b"/><stop offset="0.775" stop-color="#ffe100"/><stop offset="0.785" stop-color="#ff9500"/><stop offset="0.791" stop-color="#ff7400"/><stop offset="0.801" stop-color="#ff5600"/><stop offset="0.813" stop-color="#ff4600"/><stop offset="0.823" stop-color="#ff4b00"/><stop offset="0.833" stop-color="#ff6400"/><stop offset="0.841" stop-color="#ff8900"/><stop offset="0.858" stop-color="#ffeb00"/><stop offset="0.864" stop-color="#efff08"/><stop offset="0.874" stop-color="#f0fd07"/><stop offset="0.884" stop-color="#ffe800"/><stop offset="0.888" stop-color="#ffd700"/><stop offset="0.898" stop-color="#ff9700"/><stop offset="0.906" stop-color="#ff8200"/><stop offset="1" stop-color="#f70"/></linearGradient><linearGradient id="r130"><stop offset="0" stop-color="#0058ff"/><stop offset="0.092" stop-color="#005bff"/><stop offset="0.134" stop-color="#006dff"/><stop offset="0.183" stop-color="#0051ff"/><stop offset="0.209" stop-color="#0062ff"/><stop offset="0.231" stop-color="#008dff"/><stop offset="0.237" stop-color="#008cff"/><stop offset="0.252" stop-color="#0076ff"/><stop offset="0.26" stop-color="#0072ff"/><stop offset="0.32" stop-color="#00b5ff"/><stop offset="0.403" stop-color="#00b7ff"/><stop offset="0.445" stop-color="#00dcfe"/><stop offset="0.456" stop-color="#00e5f7"/><stop offset="0.484" stop-color="#15ffe2"/><stop offset="0.633" stop-color="#88ff6f"/><stop offset="0.656" stop-color="#94ff63"/><stop offset="0.686" stop-color="#8fff68"/><stop offset="0.704" stop-color="#a4ff52"/><stop offset="0.736" stop-color="#e0ff17"/><stop offset="0.744" stop-color="#e5ff12"/><stop offset="0.763" stop-color="#dbff1c"/><stop offset="0.771" stop-color="#efff08"/><stop offset="0.775" stop-color="#ffe700"/><stop offset="0.785" stop-color="#ff9b00"/><stop offset="0.791" stop-color="#ff7900"/><stop offset="0.801" stop-color="#ff5b00"/><stop offset="0.815" stop-color="#ff4900"/><stop offset="0.825" stop-color="#ff5300"/><stop offset="0.835" stop-color="#ff7200"/><stop offset="0.843" stop-color="#ff9d00"/><stop offset="0.856" stop-color="#feed00"/><stop offset="0.86" stop-color="#eeff09"/><stop offset="0.868" stop-color="#e2ff15"/><stop offset="0.876" stop-color="#ebff0b"/><stop offset="0.886" stop-color="#ffe600"/><stop offset="0.898" stop-color="#ff9b00"/><stop offset="0.906" stop-color="#ff8400"/><stop offset="1" stop-color="#ff7800"/></linearGradient><linearGradient id="r131"><stop offset="0" stop-color="#0059ff"/><stop offset="0.096" stop-color="#005eff"/><stop offset="0.138" stop-color="#007cff"/><stop offset="0.146" stop-color="#0078ff"/><stop offset="0.167" stop-color="#005aff"/><stop offset="0.181" stop-color="#0053ff"/><stop offset="0.207" stop-color="#006bff"/><stop offset="0.215" stop-color="#0080ff"/><stop offset="0.227" stop-color="#00abff"/><stop offset="0.233" stop-color="#00b5ff"/><stop offset="0.239" stop-color="#00afff"/><stop offset="0.252" stop-color="#008fff"/><stop offset="0.258" stop-color="#08f"/><stop offset="0.32" stop-color="#00ceff"/><stop offset="0.401" stop-color="#00d1ff"/><stop offset="0.427" stop-color="#00e5f7"/><stop offset="0.46" stop-color="#15ffe2"/><stop offset="0.633" stop-color="#8cff6b"/><stop offset="0.656" stop-color="#96ff61"/><stop offset="0.686" stop-color="#90ff66"/><stop offset="0.704" stop-color="#a6ff51"/><stop offset="0.736" stop-color="#e1ff15"/><stop offset="0.744" stop-color="#e7ff10"/><stop offset="0.761" stop-color="#dfff18"/><stop offset="0.769" stop-color="#ecff0b"/><stop offset="0.775" stop-color="#ffe200"/><stop offset="0.787" stop-color="#ff8f00"/><stop offset="0.793" stop-color="#ff7400"/><stop offset="0.805" stop-color="#ff5700"/><stop offset="0.817" stop-color="#ff4c00"/><stop offset="0.825" stop-color="#ff5400"/><stop offset="0.833" stop-color="#ff6800"/><stop offset="0.841" stop-color="#ff8b00"/><stop offset="0.858" stop-color="#ffe800"/><stop offset="0.864" stop-color="#f2fb05"/><stop offset="0.87" stop-color="#effe08"/><stop offset="0.884" stop-color="#ffe700"/><stop offset="0.888" stop-color="#ffd600"/><stop offset="0.898" stop-color="#f90"/><stop offset="0.904" stop-color="#ff8700"/><stop offset="1" stop-color="#ff7900"/></linearGradient><linearGradient id="r132"><stop offset="0" stop-color="#005aff"/><stop offset="0.096" stop-color="#0063ff"/><stop offset="0.11" stop-color="#006eff"/><stop offset="0.138" stop-color="#0096ff"/><stop offset="0.146" stop-color="#008fff"/><stop offset="0.167" stop-color="#005fff"/><stop offset="0.181" stop-color="#0056ff"/><stop offset="0.207" stop-color="#07f"/><stop offset="0.215" stop-color="#0093ff"/><stop offset="0.227" stop-color="#00cfff"/><stop offset="0.233" stop-color="#00dcfe"/><stop offset="0.239" stop-color="#00d4ff"/><stop offset="0.252" stop-color="#00a4ff"/><stop offset="0.258" stop-color="#009aff"/><stop offset="0.278" stop-color="#00baff"/><stop offset="0.31" stop-color="#00dbff"/><stop offset="0.32" stop-color="#00e4f8"/><stop offset="0.399" stop-color="#07eef0"/><stop offset="0.421" stop-color="#15ffe2"/><stop offset="0.561" stop-color="#73ff84"/><stop offset="0.631" stop-color="#9aff5d"/><stop offset="0.654" stop-color="#a2ff55"/><stop offset="0.688" stop-color="#99ff5d"/><stop offset="0.704" stop-color="#adff4a"/><stop offset="0.738" stop-color="#e9ff0d"/><stop offset="0.763" stop-color="#eeff09"/><stop offset="0.771" stop-color="#ffe900"/><stop offset="0.785" stop-color="#ff9500"/><stop offset="0.791" stop-color="#ff7900"/><stop offset="0.801" stop-color="#ff5f00"/><stop offset="0.815" stop-color="#ff4c00"/><stop offset="0.823" stop-color="#ff4f00"/><stop offset="0.833" stop-color="#ff6000"/><stop offset="0.843" stop-color="#ff8200"/><stop offset="0.858" stop-color="#ffc400"/><stop offset="0.864" stop-color="#ffd500"/><stop offset="0.87" stop-color="#ffdc00"/><stop offset="0.884" stop-color="#ffd400"/><stop offset="0.888" stop-color="#ffc700"/><stop offset="0.898" stop-color="#ff9100"/><stop offset="0.904" stop-color="#ff8500"/><stop offset="1" stop-color="#ff7a00"/></linearGradient><linearGradient id="r133"><stop offset="0" stop-color="#005bff"/><stop offset="0.094" stop-color="#06f"/><stop offset="0.106" stop-color="#0074ff"/><stop offset="0.13" stop-color="#00adff"/><stop offset="0.138" stop-color="#00b7ff"/><stop offset="0.146" stop-color="#0af"/><stop offset="0.165" stop-color="#0069ff"/><stop offset="0.173" stop-color="#005cff"/><stop offset="0.181" stop-color="#0059ff"/><stop offset="0.197" stop-color="#006cff"/><stop offset="0.207" stop-color="#0080ff"/><stop offset="0.215" stop-color="#00a2ff"/><stop offset="0.223" stop-color="#00d3ff"/><stop offset="0.229" stop-color="#0af2ed"/><stop offset="0.233" stop-color="#10fae7"/><stop offset="0.237" stop-color="#0df5ea"/><stop offset="0.243" stop-color="#00dcfe"/><stop offset="0.252" stop-color="#00b1ff"/><stop offset="0.258" stop-color="#00a4ff"/><stop offset="0.276" stop-color="#00c8ff"/><stop offset="0.294" stop-color="#00dcff"/><stop offset="0.318" stop-color="#0bf4eb"/><stop offset="0.357" stop-color="#15ffe2"/><stop offset="0.403" stop-color="#1dffda"/><stop offset="0.506" stop-color="#6aff8d"/><stop offset="0.633" stop-color="#b7ff40"/><stop offset="0.654" stop-color="#bcff3b"/><stop offset="0.688" stop-color="#afff47"/><stop offset="0.704" stop-color="#c2ff35"/><stop offset="0.728" stop-color="#edff0a"/><stop offset="0.736" stop-color="#f8f400"/><stop offset="0.765" stop-color="#ffe100"/><stop offset="0.771" stop-color="#ffce00"/><stop offset="0.785" stop-color="#ff8700"/><stop offset="0.791" stop-color="#ff7000"/><stop offset="0.803" stop-color="#ff5700"/><stop offset="0.817" stop-color="#ff4800"/><stop offset="0.835" stop-color="#f50"/><stop offset="0.843" stop-color="#ff6700"/><stop offset="0.862" stop-color="#ffa100"/><stop offset="0.88" stop-color="#fb0"/><stop offset="0.886" stop-color="#ffb600"/><stop offset="0.896" stop-color="#ff8c00"/><stop offset="0.902" stop-color="#ff8000"/><stop offset="0.918" stop-color="#ff8600"/><stop offset="1" stop-color="#ff7c00"/></linearGradient><linearGradient id="r134"><stop offset="0" stop-color="#005bff"/><stop offset="0.094" stop-color="#0069ff"/><stop offset="0.106" stop-color="#0081ff"/><stop offset="0.126" stop-color="#00c3ff"/><stop offset="0.136" stop-color="#00d3ff"/><stop offset="0.144" stop-color="#00c7ff"/><stop offset="0.161" stop-color="#007cff"/><stop offset="0.167" stop-color="#0068ff"/><stop offset="0.175" stop-color="#005bff"/><stop offset="0.183" stop-color="#005bff"/><stop offset="0.199" stop-color="#0072ff"/><stop offset="0.209" stop-color="#008bff"/><stop offset="0.215" stop-color="#00a7ff"/><stop offset="0.223" stop-color="#00dbff"/><stop offset="0.227" stop-color="#0bf3ec"/><stop offset="0.231" stop-color="#16ffe1"/><stop offset="0.239" stop-color="#0ff8e8"/><stop offset="0.245" stop-color="#00d7ff"/><stop offset="0.252" stop-color="#00b3ff"/><stop offset="0.258" stop-color="#00a4ff"/><stop offset="0.276" stop-color="#00d0ff"/><stop offset="0.296" stop-color="#00e6f6"/><stop offset="0.322" stop-color="#15ffe2"/><stop offset="0.403" stop-color="#2bffcc"/><stop offset="0.502" stop-color="#7eff78"/><stop offset="0.635" stop-color="#dbff1c"/><stop offset="0.656" stop-color="#e4ff13"/><stop offset="0.686" stop-color="#d6ff20"/><stop offset="0.708" stop-color="#effe08"/><stop offset="0.718" stop-color="#ffec00"/><stop offset="0.734" stop-color="#ffd300"/><stop offset="0.763" stop-color="#ffc200"/><stop offset="0.771" stop-color="#ffac00"/><stop offset="0.791" stop-color="#ff6300"/><stop offset="0.803" stop-color="#ff5100"/><stop offset="0.821" stop-color="#ff4200"/><stop offset="0.843" stop-color="#ff4d00"/><stop offset="0.882" stop-color="#ff9d00"/><stop offset="0.886" stop-color="#ff9b00"/><stop offset="0.896" stop-color="#ff7b00"/><stop offset="0.9" stop-color="#ff7600"/><stop offset="0.916" stop-color="#ff8700"/><stop offset="1" stop-color="#ff7d00"/></linearGradient><linearGradient id="r135"><stop offset="0" stop-color="#005cff"/><stop offset="0.092" stop-color="#0069ff"/><stop offset="0.102" stop-color="#007dff"/><stop offset="0.124" stop-color="#00d6ff"/><stop offset="0.134" stop-color="#00e4f8"/><stop offset="0.144" stop-color="#00d0ff"/><stop offset="0.159" stop-color="#0086ff"/><stop offset="0.165" stop-color="#006eff"/><stop offset="0.173" stop-color="#005dff"/><stop offset="0.181" stop-color="#0058ff"/><stop offset="0.207" stop-color="#0081ff"/><stop offset="0.215" stop-color="#00a1ff"/><stop offset="0.225" stop-color="#00ddfe"/><stop offset="0.229" stop-color="#08efef"/><stop offset="0.233" stop-color="#0ef7e9"/><stop offset="0.237" stop-color="#0bf3ec"/><stop offset="0.243" stop-color="#00d9ff"/><stop offset="0.252" stop-color="#00a9ff"/><stop offset="0.258" stop-color="#009bff"/><stop offset="0.276" stop-color="#00cdff"/><stop offset="0.296" stop-color="#00e5f7"/><stop offset="0.322" stop-color="#15ffe2"/><stop offset="0.403" stop-color="#2fffc8"/><stop offset="0.502" stop-color="#8cff6b"/><stop offset="0.623" stop-color="#edff0a"/><stop offset="0.641" stop-color="#ffec00"/><stop offset="0.656" stop-color="#ffe000"/><stop offset="0.688" stop-color="#ffea00"/><stop offset="0.73" stop-color="#ffb000"/><stop offset="0.761" stop-color="#ffa100"/><stop offset="0.793" stop-color="#f50"/><stop offset="0.835" stop-color="#ff3900"/><stop offset="0.852" stop-color="#ff4300"/><stop offset="0.884" stop-color="#ff8700"/><stop offset="0.898" stop-color="#ff6c00"/><stop offset="0.916" stop-color="#ff8900"/><stop offset="1" stop-color="#ff7e00"/></linearGradient><linearGradient id="r136"><stop offset="0" stop-color="#005cff"/><stop offset="0.092" stop-color="#0069ff"/><stop offset="0.102" stop-color="#0080ff"/><stop offset="0.12" stop-color="#00d5ff"/><stop offset="0.13" stop-color="#00e5f7"/><stop offset="0.136" stop-color="#00dffc"/><stop offset="0.142" stop-color="#00ceff"/><stop offset="0.159" stop-color="#007fff"/><stop offset="0.165" stop-color="#0068ff"/><stop offset="0.173" stop-color="#0058ff"/><stop offset="0.181" stop-color="#0054ff"/><stop offset="0.207" stop-color="#07f"/><stop offset="0.215" stop-color="#0092ff"/><stop offset="0.227" stop-color="#00cbff"/><stop offset="0.233" stop-color="#00d8ff"/><stop offset="0.239" stop-color="#00d0ff"/><stop offset="0.252" stop-color="#0098ff"/><stop offset="0.258" stop-color="#008cff"/><stop offset="0.272" stop-color="#00b8ff"/><stop offset="0.28" stop-color="#00c7ff"/><stop offset="0.298" stop-color="#00dcfe"/><stop offset="0.318" stop-color="#0cf4eb"/><stop offset="0.34" stop-color="#15ffe2"/><stop offset="0.405" stop-color="#2cffcb"/><stop offset="0.504" stop-color="#8eff69"/><stop offset="0.615" stop-color="#edff0a"/><stop offset="0.631" stop-color="#ffeb00"/><stop offset="0.656" stop-color="#ffd100"/><stop offset="0.688" stop-color="#ffd900"/><stop offset="0.728" stop-color="#ffa400"/><stop offset="0.759" stop-color="#ff9000"/><stop offset="0.789" stop-color="#ff5800"/><stop offset="0.813" stop-color="#ff5700"/><stop offset="0.841" stop-color="#ff3400"/><stop offset="0.858" stop-color="#ff4200"/><stop offset="0.882" stop-color="#ff8100"/><stop offset="0.898" stop-color="#ff6900"/><stop offset="0.916" stop-color="#ff8a00"/><stop offset="1" stop-color="#ff7f00"/></linearGradient><linearGradient id="r137"><stop offset="0" stop-color="#005bff"/><stop offset="0.09" stop-color="#0064ff"/><stop offset="0.1" stop-color="#07f"/><stop offset="0.118" stop-color="#00c8ff"/><stop offset="0.126" stop-color="#00d6ff"/><stop offset="0.138" stop-color="#00c2ff"/><stop offset="0.165" stop-color="#005fff"/><stop offset="0.175" stop-color="#004fff"/><stop offset="0.183" stop-color="#004dff"/><stop offset="0.207" stop-color="#0069ff"/><stop offset="0.227" stop-color="#00a5ff"/><stop offset="0.233" stop-color="#00b0ff"/><stop offset="0.239" stop-color="#00abff"/><stop offset="0.252" stop-color="#0082ff"/><stop offset="0.258" stop-color="#007aff"/><stop offset="0.276" stop-color="#00acff"/><stop offset="0.31" stop-color="#00daff"/><stop offset="0.318" stop-color="#00e4f8"/><stop offset="0.385" stop-color="#15ffe2"/><stop offset="0.405" stop-color="#1effd9"/><stop offset="0.51" stop-color="#87ff70"/><stop offset="0.627" stop-color="#eeff08"/><stop offset="0.645" stop-color="#feed00"/><stop offset="0.656" stop-color="#ffe600"/><stop offset="0.688" stop-color="#f9f300"/><stop offset="0.694" stop-color="#ffec00"/><stop offset="0.757" stop-color="#f90"/><stop offset="0.785" stop-color="#ff6700"/><stop offset="0.793" stop-color="#ff6500"/><stop offset="0.809" stop-color="#f70"/><stop offset="0.815" stop-color="#ff7600"/><stop offset="0.837" stop-color="#ff4300"/><stop offset="0.845" stop-color="#ff3a00"/><stop offset="0.858" stop-color="#ff4a00"/><stop offset="0.876" stop-color="#ff8600"/><stop offset="0.882" stop-color="#ff9100"/><stop offset="0.898" stop-color="#ff6f00"/><stop offset="0.916" stop-color="#ff8c00"/><stop offset="1" stop-color="#ff8000"/></linearGradient><linearGradient id="r138"><stop offset="0" stop-color="#005bff"/><stop offset="0.09" stop-color="#0061ff"/><stop offset="0.1" stop-color="#0071ff"/><stop offset="0.116" stop-color="#00adff"/><stop offset="0.124" stop-color="#00baff"/><stop offset="0.134" stop-color="#00abff"/><stop offset="0.163" stop-color="#0058ff"/><stop offset="0.175" stop-color="#0046ff"/><stop offset="0.183" stop-color="#0045ff"/><stop offset="0.209" stop-color="#005dff"/><stop offset="0.233" stop-color="#08f"/><stop offset="0.239" stop-color="#0086ff"/><stop offset="0.252" stop-color="#006dff"/><stop offset="0.258" stop-color="#0068ff"/><stop offset="0.276" stop-color="#0094ff"/><stop offset="0.322" stop-color="#00d2ff"/><stop offset="0.379" stop-color="#00e6f7"/><stop offset="0.401" stop-color="#07eef0"/><stop offset="0.417" stop-color="#15ffe2"/><stop offset="0.565" stop-color="#a6ff51"/><stop offset="0.649" stop-color="#dcff1b"/><stop offset="0.688" stop-color="#cfff28"/><stop offset="0.712" stop-color="#edff0a"/><stop offset="0.724" stop-color="#ffec00"/><stop offset="0.785" stop-color="#ff7e00"/><stop offset="0.793" stop-color="#ff7f00"/><stop offset="0.809" stop-color="#ffa100"/><stop offset="0.815" stop-color="#ffa200"/><stop offset="0.821" stop-color="#ff9500"/><stop offset="0.837" stop-color="#ff5800"/><stop offset="0.845" stop-color="#ff4b00"/><stop offset="0.856" stop-color="#ff5900"/><stop offset="0.872" stop-color="#ff9e00"/><stop offset="0.88" stop-color="#ffaf00"/><stop offset="0.886" stop-color="#ffa700"/><stop offset="0.894" stop-color="#ff8600"/><stop offset="0.9" stop-color="#ff7b00"/><stop offset="0.916" stop-color="#ff8d00"/><stop offset="1" stop-color="#ff8100"/></linearGradient><linearGradient id="r139"><stop offset="0" stop-color="#005bff"/><stop offset="0.09" stop-color="#005fff"/><stop offset="0.1" stop-color="#006aff"/><stop offset="0.118" stop-color="#0096ff"/><stop offset="0.124" stop-color="#09f"/><stop offset="0.132" stop-color="#008eff"/><stop offset="0.163" stop-color="#004dff"/><stop offset="0.183" stop-color="#003dff"/><stop offset="0.233" stop-color="#0068ff"/><stop offset="0.258" stop-color="#005aff"/><stop offset="0.276" stop-color="#007dff"/><stop offset="0.32" stop-color="#00baff"/><stop offset="0.409" stop-color="#00daff"/><stop offset="0.419" stop-color="#00e5f7"/><stop offset="0.443" stop-color="#15ffe1"/><stop offset="0.567" stop-color="#8cff6b"/><stop offset="0.637" stop-color="#b3ff44"/><stop offset="0.654" stop-color="#b6ff40"/><stop offset="0.688" stop-color="#acff4a"/><stop offset="0.706" stop-color="#c2ff35"/><stop offset="0.732" stop-color="#efff08"/><stop offset="0.74" stop-color="#ffec00"/><stop offset="0.759" stop-color="#ffc400"/><stop offset="0.785" stop-color="#f90"/><stop offset="0.793" stop-color="#ff9c00"/><stop offset="0.809" stop-color="#ffca00"/><stop offset="0.815" stop-color="#ffcd00"/><stop offset="0.821" stop-color="#ffbd00"/><stop offset="0.837" stop-color="#ff7000"/><stop offset="0.845" stop-color="#ff5e00"/><stop offset="0.849" stop-color="#ff6000"/><stop offset="0.856" stop-color="#ff7000"/><stop offset="0.87" stop-color="#ffbe00"/><stop offset="0.878" stop-color="#ffd100"/><stop offset="0.884" stop-color="#ffc800"/><stop offset="0.896" stop-color="#ff9000"/><stop offset="0.9" stop-color="#ff8700"/><stop offset="0.916" stop-color="#ff8f00"/><stop offset="1" stop-color="#ff8200"/></linearGradient><linearGradient id="r140"><stop offset="0" stop-color="#005bff"/><stop offset="0.09" stop-color="#005dff"/><stop offset="0.122" stop-color="#007dff"/><stop offset="0.165" stop-color="#04f"/><stop offset="0.181" stop-color="#0039ff"/><stop offset="0.199" stop-color="#0049ff"/><stop offset="0.233" stop-color="#0058ff"/><stop offset="0.258" stop-color="#0056ff"/><stop offset="0.322" stop-color="#00acff"/><stop offset="0.399" stop-color="#0bf"/><stop offset="0.433" stop-color="#00dbff"/><stop offset="0.443" stop-color="#00e5f7"/><stop offset="0.47" stop-color="#16ffe1"/><stop offset="0.563" stop-color="#6eff89"/><stop offset="0.603" stop-color="#87ff6f"/><stop offset="0.652" stop-color="#9eff59"/><stop offset="0.688" stop-color="#9cff5b"/><stop offset="0.708" stop-color="#b6ff41"/><stop offset="0.738" stop-color="#eeff09"/><stop offset="0.746" stop-color="#ffec00"/><stop offset="0.767" stop-color="#ffc500"/><stop offset="0.787" stop-color="#ffaf00"/><stop offset="0.795" stop-color="#ffb800"/><stop offset="0.809" stop-color="#ffea00"/><stop offset="0.815" stop-color="#fcf000"/><stop offset="0.821" stop-color="#ffde00"/><stop offset="0.837" stop-color="#ff8400"/><stop offset="0.845" stop-color="#ff6f00"/><stop offset="0.849" stop-color="#ff7100"/><stop offset="0.856" stop-color="#ff8400"/><stop offset="0.87" stop-color="#ffdf00"/><stop offset="0.876" stop-color="#fcf000"/><stop offset="0.882" stop-color="#ffe600"/><stop offset="0.896" stop-color="#ff9d00"/><stop offset="0.902" stop-color="#ff8f00"/><stop offset="1" stop-color="#ff8300"/></linearGradient><linearGradient id="r141"><stop offset="0" stop-color="#005cff"/><stop offset="0.088" stop-color="#005dff"/><stop offset="0.124" stop-color="#006dff"/><stop offset="0.179" stop-color="#003bff"/><stop offset="0.201" stop-color="#0058ff"/><stop offset="0.221" stop-color="#0054ff"/><stop offset="0.258" stop-color="#005fff"/><stop offset="0.322" stop-color="#00aeff"/><stop offset="0.401" stop-color="#00b5ff"/><stop offset="0.445" stop-color="#00dbff"/><stop offset="0.458" stop-color="#01e6f6"/><stop offset="0.484" stop-color="#15ffe2"/><stop offset="0.605" stop-color="#7aff7d"/><stop offset="0.654" stop-color="#95ff62"/><stop offset="0.688" stop-color="#98ff5f"/><stop offset="0.708" stop-color="#b2ff45"/><stop offset="0.74" stop-color="#efff08"/><stop offset="0.748" stop-color="#ffeb00"/><stop offset="0.761" stop-color="#ffd300"/><stop offset="0.787" stop-color="#ffbd00"/><stop offset="0.795" stop-color="#ffc700"/><stop offset="0.805" stop-color="#feed00"/><stop offset="0.809" stop-color="#f1fd06"/><stop offset="0.817" stop-color="#eeff09"/><stop offset="0.823" stop-color="#ffe600"/><stop offset="0.837" stop-color="#ff9000"/><stop offset="0.845" stop-color="#ff7a00"/><stop offset="0.849" stop-color="#ff7c00"/><stop offset="0.856" stop-color="#ff9100"/><stop offset="0.868" stop-color="#ffe800"/><stop offset="0.872" stop-color="#f1fd06"/><stop offset="0.874" stop-color="#ecff0b"/><stop offset="0.878" stop-color="#edff0a"/><stop offset="0.882" stop-color="#f8f400"/><stop offset="0.884" stop-color="#ffeb00"/><stop offset="0.896" stop-color="#ffa400"/><stop offset="0.902" stop-color="#ff9400"/><stop offset="1" stop-color="#ff8500"/></linearGradient><linearGradient id="r142"><stop offset="0" stop-color="#005dff"/><stop offset="0.09" stop-color="#0060ff"/><stop offset="0.136" stop-color="#006cff"/><stop offset="0.177" stop-color="#0042ff"/><stop offset="0.183" stop-color="#004aff"/><stop offset="0.199" stop-color="#0071ff"/><stop offset="0.223" stop-color="#0063ff"/><stop offset="0.256" stop-color="#0070ff"/><stop offset="0.32" stop-color="#00beff"/><stop offset="0.401" stop-color="#00c2ff"/><stop offset="0.433" stop-color="#00dbff"/><stop offset="0.447" stop-color="#00e6f6"/><stop offset="0.48" stop-color="#16ffe1"/><stop offset="0.607" stop-color="#79ff7e"/><stop offset="0.654" stop-color="#94ff63"/><stop offset="0.688" stop-color="#98ff5f"/><stop offset="0.708" stop-color="#b2ff45"/><stop offset="0.74" stop-color="#eeff08"/><stop offset="0.748" stop-color="#ffeb00"/><stop offset="0.761" stop-color="#ffd400"/><stop offset="0.787" stop-color="#ffc200"/><stop offset="0.795" stop-color="#fc0"/><stop offset="0.803" stop-color="#ffe900"/><stop offset="0.809" stop-color="#edff0a"/><stop offset="0.815" stop-color="#e7ff10"/><stop offset="0.819" stop-color="#effe08"/><stop offset="0.823" stop-color="#ffea00"/><stop offset="0.837" stop-color="#ff9500"/><stop offset="0.843" stop-color="#ff8100"/><stop offset="0.847" stop-color="#ff7f00"/><stop offset="0.856" stop-color="#ff9600"/><stop offset="0.868" stop-color="#ffec00"/><stop offset="0.87" stop-color="#f4f802"/><stop offset="0.874" stop-color="#e8ff0e"/><stop offset="0.88" stop-color="#efff08"/><stop offset="0.884" stop-color="#fdee00"/><stop offset="0.896" stop-color="#ffa700"/><stop offset="0.902" stop-color="#ff9700"/><stop offset="1" stop-color="#ff8600"/></linearGradient><linearGradient id="r143"><stop offset="0" stop-color="#005eff"/><stop offset="0.096" stop-color="#0064ff"/><stop offset="0.138" stop-color="#0081ff"/><stop offset="0.146" stop-color="#007bff"/><stop offset="0.165" stop-color="#05f"/><stop offset="0.175" stop-color="#004dff"/><stop offset="0.181" stop-color="#0054ff"/><stop offset="0.195" stop-color="#008aff"/><stop offset="0.201" stop-color="#0095ff"/><stop offset="0.219" stop-color="#0079ff"/><stop offset="0.229" stop-color="#07f"/><stop offset="0.256" stop-color="#0084ff"/><stop offset="0.276" stop-color="#00a5ff"/><stop offset="0.32" stop-color="#00d5ff"/><stop offset="0.401" stop-color="#00dcfe"/><stop offset="0.415" stop-color="#00e6f6"/><stop offset="0.447" stop-color="#15ffe2"/><stop offset="0.607" stop-color="#82ff75"/><stop offset="0.654" stop-color="#98ff5e"/><stop offset="0.686" stop-color="#98ff5f"/><stop offset="0.708" stop-color="#b3ff43"/><stop offset="0.738" stop-color="#ebff0c"/><stop offset="0.748" stop-color="#ffe900"/><stop offset="0.761" stop-color="#ffd300"/><stop offset="0.789" stop-color="#ffc100"/><stop offset="0.797" stop-color="#ffcd00"/><stop offset="0.805" stop-color="#ffea00"/><stop offset="0.811" stop-color="#f1fc05"/><stop offset="0.815" stop-color="#f0fd07"/><stop offset="0.821" stop-color="#ffec00"/><stop offset="0.837" stop-color="#ff9200"/><stop offset="0.845" stop-color="#ff7e00"/><stop offset="0.854" stop-color="#ff8a00"/><stop offset="0.86" stop-color="#fa0"/><stop offset="0.87" stop-color="#feed00"/><stop offset="0.876" stop-color="#f1fc06"/><stop offset="0.882" stop-color="#fcef00"/><stop offset="0.896" stop-color="#ffa500"/><stop offset="0.902" stop-color="#ff9700"/><stop offset="1" stop-color="#ff8700"/></linearGradient><linearGradient id="r144"><stop offset="0" stop-color="#005fff"/><stop offset="0.096" stop-color="#0068ff"/><stop offset="0.11" stop-color="#0075ff"/><stop offset="0.138" stop-color="#00a0ff"/><stop offset="0.146" stop-color="#0098ff"/><stop offset="0.165" stop-color="#0060ff"/><stop offset="0.175" stop-color="#0056ff"/><stop offset="0.181" stop-color="#0061ff"/><stop offset="0.195" stop-color="#00a8ff"/><stop offset="0.201" stop-color="#00b7ff"/><stop offset="0.207" stop-color="#00b0ff"/><stop offset="0.219" stop-color="#008eff"/><stop offset="0.227" stop-color="#08f"/><stop offset="0.256" stop-color="#0092ff"/><stop offset="0.276" stop-color="#0bf"/><stop offset="0.306" stop-color="#00dbff"/><stop offset="0.32" stop-color="#03e9f4"/><stop offset="0.399" stop-color="#0ef7e9"/><stop offset="0.411" stop-color="#15ffe2"/><stop offset="0.605" stop-color="#99ff5e"/><stop offset="0.652" stop-color="#a9ff4e"/><stop offset="0.688" stop-color="#a2ff54"/><stop offset="0.708" stop-color="#bbff3b"/><stop offset="0.736" stop-color="#edff0a"/><stop offset="0.744" stop-color="#feed00"/><stop offset="0.759" stop-color="#ffcf00"/><stop offset="0.787" stop-color="#ffb500"/><stop offset="0.795" stop-color="#fb0"/><stop offset="0.809" stop-color="#ffe200"/><stop offset="0.815" stop-color="#ffe600"/><stop offset="0.821" stop-color="#ffd600"/><stop offset="0.837" stop-color="#ff8900"/><stop offset="0.845" stop-color="#ff7800"/><stop offset="0.849" stop-color="#ff7900"/><stop offset="0.856" stop-color="#ff8900"/><stop offset="0.87" stop-color="#ffd600"/><stop offset="0.876" stop-color="#ffe500"/><stop offset="0.884" stop-color="#ffd800"/><stop offset="0.896" stop-color="#ffa000"/><stop offset="0.902" stop-color="#ff9500"/><stop offset="1" stop-color="#f80"/></linearGradient><linearGradient id="r145"><stop offset="0" stop-color="#0060ff"/><stop offset="0.094" stop-color="#006cff"/><stop offset="0.106" stop-color="#007cff"/><stop offset="0.13" stop-color="#00b9ff"/><stop offset="0.138" stop-color="#00c3ff"/><stop offset="0.146" stop-color="#00b5ff"/><stop offset="0.165" stop-color="#0069ff"/><stop offset="0.175" stop-color="#005cff"/><stop offset="0.181" stop-color="#0069ff"/><stop offset="0.195" stop-color="#00bcff"/><stop offset="0.201" stop-color="#00cdff"/><stop offset="0.205" stop-color="#00caff"/><stop offset="0.217" stop-color="#00a1ff"/><stop offset="0.223" stop-color="#0095ff"/><stop offset="0.241" stop-color="#009eff"/><stop offset="0.254" stop-color="#0098ff"/><stop offset="0.26" stop-color="#00a0ff"/><stop offset="0.272" stop-color="#00c4ff"/><stop offset="0.28" stop-color="#00cfff"/><stop offset="0.302" stop-color="#00e6f6"/><stop offset="0.32" stop-color="#0ff8e8"/><stop offset="0.344" stop-color="#15ffe2"/><stop offset="0.405" stop-color="#23ffd4"/><stop offset="0.563" stop-color="#a1ff56"/><stop offset="0.607" stop-color="#beff39"/><stop offset="0.652" stop-color="#cbff2c"/><stop offset="0.688" stop-color="#bbff3c"/><stop offset="0.726" stop-color="#ecff0a"/><stop offset="0.738" stop-color="#ffe900"/><stop offset="0.757" stop-color="#ffc400"/><stop offset="0.785" stop-color="#ffa300"/><stop offset="0.793" stop-color="#ffa400"/><stop offset="0.809" stop-color="#ffc300"/><stop offset="0.815" stop-color="#ffc500"/><stop offset="0.821" stop-color="#ffb800"/><stop offset="0.837" stop-color="#ff7b00"/><stop offset="0.845" stop-color="#ff6d00"/><stop offset="0.856" stop-color="#ff7b00"/><stop offset="0.872" stop-color="#ffbe00"/><stop offset="0.878" stop-color="#ffc900"/><stop offset="0.884" stop-color="#ffc300"/><stop offset="0.896" stop-color="#ff9700"/><stop offset="0.9" stop-color="#ff9100"/><stop offset="0.916" stop-color="#ff9800"/><stop offset="1" stop-color="#ff8900"/></linearGradient><linearGradient id="r146"><stop offset="0" stop-color="#0060ff"/><stop offset="0.092" stop-color="#006dff"/><stop offset="0.104" stop-color="#0082ff"/><stop offset="0.126" stop-color="#00cfff"/><stop offset="0.136" stop-color="#00dffc"/><stop offset="0.14" stop-color="#00dcff"/><stop offset="0.146" stop-color="#00c9ff"/><stop offset="0.165" stop-color="#006dff"/><stop offset="0.175" stop-color="#005eff"/><stop offset="0.181" stop-color="#006aff"/><stop offset="0.195" stop-color="#00c0ff"/><stop offset="0.201" stop-color="#00d1ff"/><stop offset="0.205" stop-color="#00ceff"/><stop offset="0.217" stop-color="#00a5ff"/><stop offset="0.223" stop-color="#09f"/><stop offset="0.241" stop-color="#00a2ff"/><stop offset="0.256" stop-color="#0097ff"/><stop offset="0.276" stop-color="#00d0ff"/><stop offset="0.296" stop-color="#01e7f6"/><stop offset="0.322" stop-color="#15ffe1"/><stop offset="0.403" stop-color="#2dffca"/><stop offset="0.599" stop-color="#deff18"/><stop offset="0.637" stop-color="#f5f802"/><stop offset="0.656" stop-color="#f8f400"/><stop offset="0.668" stop-color="#eeff09"/><stop offset="0.684" stop-color="#e2ff15"/><stop offset="0.7" stop-color="#f0fe07"/><stop offset="0.714" stop-color="#ffeb00"/><stop offset="0.783" stop-color="#ff8f00"/><stop offset="0.793" stop-color="#ff8d00"/><stop offset="0.809" stop-color="#ffa200"/><stop offset="0.815" stop-color="#ffa200"/><stop offset="0.837" stop-color="#ff6e00"/><stop offset="0.845" stop-color="#ff6300"/><stop offset="0.856" stop-color="#ff6d00"/><stop offset="0.872" stop-color="#ffa000"/><stop offset="0.88" stop-color="#ffaf00"/><stop offset="0.886" stop-color="#fa0"/><stop offset="0.898" stop-color="#ff8b00"/><stop offset="0.916" stop-color="#f90"/><stop offset="1" stop-color="#ff8a00"/></linearGradient><linearGradient id="r147"><stop offset="0" stop-color="#0061ff"/><stop offset="0.092" stop-color="#006eff"/><stop offset="0.102" stop-color="#0084ff"/><stop offset="0.122" stop-color="#00dbff"/><stop offset="0.128" stop-color="#03e9f4"/><stop offset="0.134" stop-color="#06edf1"/><stop offset="0.144" stop-color="#00d7ff"/><stop offset="0.159" stop-color="#0087ff"/><stop offset="0.165" stop-color="#006dff"/><stop offset="0.175" stop-color="#005cff"/><stop offset="0.181" stop-color="#0067ff"/><stop offset="0.195" stop-color="#00b3ff"/><stop offset="0.201" stop-color="#00c4ff"/><stop offset="0.207" stop-color="#00bdff"/><stop offset="0.221" stop-color="#0096ff"/><stop offset="0.241" stop-color="#009cff"/><stop offset="0.256" stop-color="#008eff"/><stop offset="0.276" stop-color="#0cf"/><stop offset="0.298" stop-color="#00e5f7"/><stop offset="0.324" stop-color="#15ffe2"/><stop offset="0.405" stop-color="#31ffc6"/><stop offset="0.502" stop-color="#8dff69"/><stop offset="0.589" stop-color="#eeff09"/><stop offset="0.607" stop-color="#ffeb00"/><stop offset="0.654" stop-color="#ffca00"/><stop offset="0.688" stop-color="#ffe200"/><stop offset="0.783" stop-color="#ff8000"/><stop offset="0.815" stop-color="#ff8400"/><stop offset="0.845" stop-color="#ff5f00"/><stop offset="0.858" stop-color="#ff6800"/><stop offset="0.876" stop-color="#ff9600"/><stop offset="0.882" stop-color="#ff9e00"/><stop offset="0.898" stop-color="#ff8600"/><stop offset="0.916" stop-color="#ff9a00"/><stop offset="1" stop-color="#ff8b00"/></linearGradient><linearGradient id="r148"><stop offset="0" stop-color="#0061ff"/><stop offset="0.09" stop-color="#006bff"/><stop offset="0.102" stop-color="#0086ff"/><stop offset="0.12" stop-color="#00ddfe"/><stop offset="0.13" stop-color="#05ebf2"/><stop offset="0.136" stop-color="#00e4f8"/><stop offset="0.142" stop-color="#00d3ff"/><stop offset="0.159" stop-color="#0081ff"/><stop offset="0.165" stop-color="#0069ff"/><stop offset="0.171" stop-color="#005cff"/><stop offset="0.177" stop-color="#0059ff"/><stop offset="0.183" stop-color="#0067ff"/><stop offset="0.195" stop-color="#009dff"/><stop offset="0.201" stop-color="#0af"/><stop offset="0.207" stop-color="#00a5ff"/><stop offset="0.221" stop-color="#008aff"/><stop offset="0.241" stop-color="#0090ff"/><stop offset="0.256" stop-color="#0081ff"/><stop offset="0.26" stop-color="#08f"/><stop offset="0.272" stop-color="#00b4ff"/><stop offset="0.28" stop-color="#00c3ff"/><stop offset="0.3" stop-color="#00dbff"/><stop offset="0.32" stop-color="#0af1ed"/><stop offset="0.348" stop-color="#15ffe2"/><stop offset="0.407" stop-color="#2dffca"/><stop offset="0.502" stop-color="#8bff6c"/><stop offset="0.585" stop-color="#edff0a"/><stop offset="0.601" stop-color="#ffec00"/><stop offset="0.652" stop-color="#ffc300"/><stop offset="0.686" stop-color="#ffda00"/><stop offset="0.708" stop-color="#ffc100"/><stop offset="0.755" stop-color="#ff9f00"/><stop offset="0.787" stop-color="#ff7a00"/><stop offset="0.827" stop-color="#ff6f00"/><stop offset="0.847" stop-color="#ff6200"/><stop offset="0.86" stop-color="#ff6a00"/><stop offset="0.882" stop-color="#ff9a00"/><stop offset="0.898" stop-color="#ff8700"/><stop offset="0.916" stop-color="#ff9c00"/><stop offset="1" stop-color="#ff8d00"/></linearGradient><linearGradient id="r149"><stop offset="0" stop-color="#0060ff"/><stop offset="0.09" stop-color="#0069ff"/><stop offset="0.1" stop-color="#007cff"/><stop offset="0.118" stop-color="#00cdff"/><stop offset="0.126" stop-color="#00dbff"/><stop offset="0.136" stop-color="#00cbff"/><stop offset="0.161" stop-color="#006eff"/><stop offset="0.173" stop-color="#0057ff"/><stop offset="0.181" stop-color="#005aff"/><stop offset="0.195" stop-color="#0083ff"/><stop offset="0.201" stop-color="#008dff"/><stop offset="0.221" stop-color="#007aff"/><stop offset="0.241" stop-color="#007fff"/><stop offset="0.256" stop-color="#0071ff"/><stop offset="0.276" stop-color="#00a6ff"/><stop offset="0.318" stop-color="#00dcff"/><stop offset="0.387" stop-color="#15ffe2"/><stop offset="0.405" stop-color="#1effd9"/><stop offset="0.498" stop-color="#78ff7f"/><stop offset="0.563" stop-color="#c6ff31"/><stop offset="0.605" stop-color="#eeff08"/><stop offset="0.631" stop-color="#ffec00"/><stop offset="0.654" stop-color="#ffe200"/><stop offset="0.688" stop-color="#f3fa04"/><stop offset="0.7" stop-color="#ffeb00"/><stop offset="0.787" stop-color="#ff8400"/><stop offset="0.815" stop-color="#ff7100"/><stop offset="0.835" stop-color="#ff7a00"/><stop offset="0.856" stop-color="#ff6e00"/><stop offset="0.882" stop-color="#ffa500"/><stop offset="0.898" stop-color="#ff8c00"/><stop offset="0.916" stop-color="#ff9e00"/><stop offset="1" stop-color="#ff8e00"/></linearGradient><linearGradient id="r150"><stop offset="0" stop-color="#0060ff"/><stop offset="0.09" stop-color="#06f"/><stop offset="0.1" stop-color="#0076ff"/><stop offset="0.116" stop-color="#00b1ff"/><stop offset="0.124" stop-color="#00beff"/><stop offset="0.134" stop-color="#00afff"/><stop offset="0.161" stop-color="#06f"/><stop offset="0.173" stop-color="#05f"/><stop offset="0.181" stop-color="#05f"/><stop offset="0.203" stop-color="#0075ff"/><stop offset="0.221" stop-color="#006aff"/><stop offset="0.241" stop-color="#006dff"/><stop offset="0.256" stop-color="#0062ff"/><stop offset="0.276" stop-color="#008cff"/><stop offset="0.32" stop-color="#00c3ff"/><stop offset="0.363" stop-color="#00dbff"/><stop offset="0.383" stop-color="#00e5f7"/><stop offset="0.417" stop-color="#15ffe1"/><stop offset="0.502" stop-color="#64ff93"/><stop offset="0.565" stop-color="#adff4a"/><stop offset="0.631" stop-color="#d7ff20"/><stop offset="0.654" stop-color="#daff1d"/><stop offset="0.686" stop-color="#c8ff2f"/><stop offset="0.72" stop-color="#effe08"/><stop offset="0.732" stop-color="#ffeb00"/><stop offset="0.757" stop-color="#ffbe00"/><stop offset="0.813" stop-color="#ff7b00"/><stop offset="0.835" stop-color="#ff9500"/><stop offset="0.852" stop-color="#ff7e00"/><stop offset="0.858" stop-color="#ff7f00"/><stop offset="0.876" stop-color="#ffb100"/><stop offset="0.882" stop-color="#ffb900"/><stop offset="0.9" stop-color="#ff9500"/><stop offset="0.916" stop-color="#ffa000"/><stop offset="1" stop-color="#ff9000"/></linearGradient><linearGradient id="r151"><stop offset="0" stop-color="#0060ff"/><stop offset="0.09" stop-color="#0064ff"/><stop offset="0.1" stop-color="#006eff"/><stop offset="0.116" stop-color="#0096ff"/><stop offset="0.124" stop-color="#009eff"/><stop offset="0.159" stop-color="#0062ff"/><stop offset="0.173" stop-color="#0054ff"/><stop offset="0.181" stop-color="#0053ff"/><stop offset="0.205" stop-color="#0067ff"/><stop offset="0.256" stop-color="#0057ff"/><stop offset="0.276" stop-color="#0076ff"/><stop offset="0.32" stop-color="#00a6ff"/><stop offset="0.407" stop-color="#00dbff"/><stop offset="0.417" stop-color="#00e5f7"/><stop offset="0.443" stop-color="#15ffe2"/><stop offset="0.502" stop-color="#47ffaf"/><stop offset="0.569" stop-color="#8eff68"/><stop offset="0.635" stop-color="#b1ff46"/><stop offset="0.688" stop-color="#aaff4d"/><stop offset="0.706" stop-color="#bfff38"/><stop offset="0.734" stop-color="#edff0a"/><stop offset="0.744" stop-color="#ffe800"/><stop offset="0.759" stop-color="#ffcb00"/><stop offset="0.813" stop-color="#ff8a00"/><stop offset="0.819" stop-color="#ff8f00"/><stop offset="0.835" stop-color="#ffb300"/><stop offset="0.839" stop-color="#ffb100"/><stop offset="0.852" stop-color="#ff9300"/><stop offset="0.858" stop-color="#ff9200"/><stop offset="0.874" stop-color="#ffc500"/><stop offset="0.88" stop-color="#ffce00"/><stop offset="0.886" stop-color="#ffc700"/><stop offset="0.896" stop-color="#ffa500"/><stop offset="0.9" stop-color="#ff9e00"/><stop offset="0.916" stop-color="#ffa200"/><stop offset="1" stop-color="#ff9300"/></linearGradient><linearGradient id="r152"><stop offset="0" stop-color="#0060ff"/><stop offset="0.09" stop-color="#0062ff"/><stop offset="0.124" stop-color="#0084ff"/><stop offset="0.175" stop-color="#05f"/><stop offset="0.209" stop-color="#0067ff"/><stop offset="0.258" stop-color="#0057ff"/><stop offset="0.32" stop-color="#0095ff"/><stop offset="0.399" stop-color="#00c1ff"/><stop offset="0.429" stop-color="#00dbff"/><stop offset="0.441" stop-color="#00e6f7"/><stop offset="0.47" stop-color="#15ffe1"/><stop offset="0.563" stop-color="#6cff8b"/><stop offset="0.603" stop-color="#86ff70"/><stop offset="0.652" stop-color="#9cff5b"/><stop offset="0.688" stop-color="#9cff5b"/><stop offset="0.708" stop-color="#b5ff42"/><stop offset="0.738" stop-color="#ecff0a"/><stop offset="0.746" stop-color="#feed00"/><stop offset="0.759" stop-color="#ffd400"/><stop offset="0.783" stop-color="#ffbf00"/><stop offset="0.813" stop-color="#ff9800"/><stop offset="0.819" stop-color="#ff9e00"/><stop offset="0.831" stop-color="#ffc700"/><stop offset="0.835" stop-color="#ffcd00"/><stop offset="0.841" stop-color="#ffc500"/><stop offset="0.852" stop-color="#ffa400"/><stop offset="0.858" stop-color="#ffa100"/><stop offset="0.874" stop-color="#ffd900"/><stop offset="0.88" stop-color="#ffe000"/><stop offset="0.886" stop-color="#ffd500"/><stop offset="0.896" stop-color="#ffae00"/><stop offset="0.902" stop-color="#ffa400"/><stop offset="1" stop-color="#ff9500"/></linearGradient><linearGradient id="r153"><stop offset="0" stop-color="#0061ff"/><stop offset="0.09" stop-color="#0063ff"/><stop offset="0.126" stop-color="#07f"/><stop offset="0.177" stop-color="#0058ff"/><stop offset="0.187" stop-color="#005bff"/><stop offset="0.211" stop-color="#07f"/><stop offset="0.231" stop-color="#06f"/><stop offset="0.258" stop-color="#0063ff"/><stop offset="0.32" stop-color="#09f"/><stop offset="0.399" stop-color="#00beff"/><stop offset="0.437" stop-color="#00dbff"/><stop offset="0.452" stop-color="#00e6f6"/><stop offset="0.484" stop-color="#15ffe1"/><stop offset="0.605" stop-color="#79ff7e"/><stop offset="0.654" stop-color="#94ff62"/><stop offset="0.688" stop-color="#98ff5e"/><stop offset="0.708" stop-color="#b2ff45"/><stop offset="0.74" stop-color="#eeff08"/><stop offset="0.748" stop-color="#ffeb00"/><stop offset="0.759" stop-color="#ffd700"/><stop offset="0.785" stop-color="#ffc400"/><stop offset="0.811" stop-color="#ffa000"/><stop offset="0.819" stop-color="#ffa700"/><stop offset="0.831" stop-color="#ffd500"/><stop offset="0.835" stop-color="#ffdc00"/><stop offset="0.841" stop-color="#ffd300"/><stop offset="0.852" stop-color="#ffae00"/><stop offset="0.858" stop-color="#ffab00"/><stop offset="0.862" stop-color="#ffb400"/><stop offset="0.872" stop-color="#ffdf00"/><stop offset="0.878" stop-color="#ffea00"/><stop offset="0.884" stop-color="#ffe200"/><stop offset="0.896" stop-color="#ffb300"/><stop offset="0.902" stop-color="#ffa900"/><stop offset="1" stop-color="#ff9800"/></linearGradient><linearGradient id="r154"><stop offset="0" stop-color="#0062ff"/><stop offset="0.094" stop-color="#06f"/><stop offset="0.138" stop-color="#007dff"/><stop offset="0.169" stop-color="#0060ff"/><stop offset="0.181" stop-color="#005cff"/><stop offset="0.191" stop-color="#0069ff"/><stop offset="0.209" stop-color="#0092ff"/><stop offset="0.215" stop-color="#0091ff"/><stop offset="0.233" stop-color="#0078ff"/><stop offset="0.256" stop-color="#0075ff"/><stop offset="0.32" stop-color="#00b2ff"/><stop offset="0.417" stop-color="#00dbff"/><stop offset="0.433" stop-color="#00e6f6"/><stop offset="0.472" stop-color="#15ffe1"/><stop offset="0.504" stop-color="#28ffcf"/><stop offset="0.607" stop-color="#79ff7e"/><stop offset="0.654" stop-color="#94ff63"/><stop offset="0.688" stop-color="#98ff5f"/><stop offset="0.708" stop-color="#b2ff45"/><stop offset="0.74" stop-color="#eeff09"/><stop offset="0.748" stop-color="#ffeb00"/><stop offset="0.759" stop-color="#ffd800"/><stop offset="0.785" stop-color="#ffc600"/><stop offset="0.811" stop-color="#ffa300"/><stop offset="0.819" stop-color="#fa0"/><stop offset="0.831" stop-color="#ffd700"/><stop offset="0.835" stop-color="#ffde00"/><stop offset="0.841" stop-color="#ffd600"/><stop offset="0.852" stop-color="#ffb100"/><stop offset="0.858" stop-color="#ffad00"/><stop offset="0.872" stop-color="#ffe000"/><stop offset="0.878" stop-color="#ffeb00"/><stop offset="0.884" stop-color="#ffe300"/><stop offset="0.896" stop-color="#ffb500"/><stop offset="0.902" stop-color="#ffab00"/><stop offset="1" stop-color="#ff9a00"/></linearGradient><linearGradient id="r155"><stop offset="0" stop-color="#0063ff"/><stop offset="0.096" stop-color="#006aff"/><stop offset="0.14" stop-color="#0092ff"/><stop offset="0.148" stop-color="#008aff"/><stop offset="0.167" stop-color="#0067ff"/><stop offset="0.179" stop-color="#0060ff"/><stop offset="0.189" stop-color="#006fff"/><stop offset="0.205" stop-color="#00acff"/><stop offset="0.211" stop-color="#00b6ff"/><stop offset="0.231" stop-color="#008fff"/><stop offset="0.256" stop-color="#0089ff"/><stop offset="0.276" stop-color="#00a6ff"/><stop offset="0.32" stop-color="#00ceff"/><stop offset="0.383" stop-color="#00e6f7"/><stop offset="0.429" stop-color="#15ffe2"/><stop offset="0.502" stop-color="#3bffbc"/><stop offset="0.629" stop-color="#90ff67"/><stop offset="0.654" stop-color="#9aff5d"/><stop offset="0.686" stop-color="#98ff5f"/><stop offset="0.708" stop-color="#b3ff44"/><stop offset="0.738" stop-color="#ebff0c"/><stop offset="0.748" stop-color="#ffea00"/><stop offset="0.759" stop-color="#ffd700"/><stop offset="0.785" stop-color="#ffc300"/><stop offset="0.813" stop-color="#ff9f00"/><stop offset="0.819" stop-color="#ffa600"/><stop offset="0.835" stop-color="#ffd300"/><stop offset="0.841" stop-color="#ffcb00"/><stop offset="0.852" stop-color="#ffab00"/><stop offset="0.858" stop-color="#ffa900"/><stop offset="0.872" stop-color="#ffd800"/><stop offset="0.878" stop-color="#ffe300"/><stop offset="0.884" stop-color="#fd0"/><stop offset="0.896" stop-color="#ffb400"/><stop offset="0.902" stop-color="#ffab00"/><stop offset="1" stop-color="#ff9d00"/></linearGradient><linearGradient id="r156"><stop offset="0" stop-color="#0064ff"/><stop offset="0.096" stop-color="#006fff"/><stop offset="0.108" stop-color="#007bff"/><stop offset="0.138" stop-color="#00b1ff"/><stop offset="0.146" stop-color="#00a9ff"/><stop offset="0.165" stop-color="#0072ff"/><stop offset="0.179" stop-color="#0065ff"/><stop offset="0.189" stop-color="#0079ff"/><stop offset="0.205" stop-color="#00c9ff"/><stop offset="0.211" stop-color="#00d7ff"/><stop offset="0.217" stop-color="#00ceff"/><stop offset="0.231" stop-color="#00a3ff"/><stop offset="0.254" stop-color="#0095ff"/><stop offset="0.276" stop-color="#00bdff"/><stop offset="0.306" stop-color="#00daff"/><stop offset="0.318" stop-color="#00e6f7"/><stop offset="0.377" stop-color="#15ffe2"/><stop offset="0.5" stop-color="#56ffa1"/><stop offset="0.607" stop-color="#9bff5c"/><stop offset="0.652" stop-color="#abff4c"/><stop offset="0.688" stop-color="#a4ff53"/><stop offset="0.706" stop-color="#b8ff3e"/><stop offset="0.736" stop-color="#edff0a"/><stop offset="0.746" stop-color="#ffe900"/><stop offset="0.759" stop-color="#ffd100"/><stop offset="0.813" stop-color="#ff9600"/><stop offset="0.819" stop-color="#ff9a00"/><stop offset="0.835" stop-color="#ffbd00"/><stop offset="0.839" stop-color="#ffba00"/><stop offset="0.852" stop-color="#ff9d00"/><stop offset="0.858" stop-color="#ff9d00"/><stop offset="0.874" stop-color="#ffcd00"/><stop offset="0.88" stop-color="#ffd500"/><stop offset="0.886" stop-color="#ffcd00"/><stop offset="0.894" stop-color="#ffb300"/><stop offset="0.9" stop-color="#ffa900"/><stop offset="0.916" stop-color="#ffaf00"/><stop offset="1" stop-color="#ff9f00"/></linearGradient><linearGradient id="r157"><stop offset="0" stop-color="#0065ff"/><stop offset="0.094" stop-color="#0072ff"/><stop offset="0.104" stop-color="#0080ff"/><stop offset="0.128" stop-color="#00c4ff"/><stop offset="0.138" stop-color="#00d3ff"/><stop offset="0.146" stop-color="#00c5ff"/><stop offset="0.165" stop-color="#007aff"/><stop offset="0.179" stop-color="#0069ff"/><stop offset="0.189" stop-color="#0080ff"/><stop offset="0.205" stop-color="#00dcff"/><stop offset="0.211" stop-color="#05ecf2"/><stop offset="0.219" stop-color="#00daff"/><stop offset="0.231" stop-color="#00b0ff"/><stop offset="0.256" stop-color="#009bff"/><stop offset="0.278" stop-color="#00cfff"/><stop offset="0.3" stop-color="#00e5f7"/><stop offset="0.334" stop-color="#15ffe2"/><stop offset="0.403" stop-color="#30ffc6"/><stop offset="0.563" stop-color="#a0ff57"/><stop offset="0.631" stop-color="#c7ff30"/><stop offset="0.654" stop-color="#cbff2b"/><stop offset="0.688" stop-color="#bfff38"/><stop offset="0.726" stop-color="#edff0a"/><stop offset="0.738" stop-color="#ffea00"/><stop offset="0.757" stop-color="#ffc700"/><stop offset="0.813" stop-color="#ff8700"/><stop offset="0.835" stop-color="#ffa000"/><stop offset="0.856" stop-color="#ff8900"/><stop offset="0.862" stop-color="#ff9200"/><stop offset="0.876" stop-color="#ffbc00"/><stop offset="0.882" stop-color="#ffc200"/><stop offset="0.898" stop-color="#ffa300"/><stop offset="0.916" stop-color="#ffb100"/><stop offset="1" stop-color="#ffa200"/></linearGradient><linearGradient id="r158"><stop offset="0" stop-color="#06f"/><stop offset="0.092" stop-color="#0073ff"/><stop offset="0.104" stop-color="#008aff"/><stop offset="0.126" stop-color="#00defd"/><stop offset="0.136" stop-color="#07eef0"/><stop offset="0.144" stop-color="#00dffc"/><stop offset="0.165" stop-color="#007fff"/><stop offset="0.171" stop-color="#0071ff"/><stop offset="0.179" stop-color="#006cff"/><stop offset="0.189" stop-color="#0083ff"/><stop offset="0.205" stop-color="#00dffc"/><stop offset="0.211" stop-color="#07eef0"/><stop offset="0.219" stop-color="#00ddfe"/><stop offset="0.231" stop-color="#00b3ff"/><stop offset="0.256" stop-color="#0098ff"/><stop offset="0.276" stop-color="#00d0ff"/><stop offset="0.296" stop-color="#01e6f6"/><stop offset="0.322" stop-color="#16ffe1"/><stop offset="0.403" stop-color="#3cffbb"/><stop offset="0.601" stop-color="#d3ff24"/><stop offset="0.652" stop-color="#f2fb05"/><stop offset="0.684" stop-color="#e8ff0f"/><stop offset="0.7" stop-color="#f0fe07"/><stop offset="0.716" stop-color="#ffec00"/><stop offset="0.787" stop-color="#ff9000"/><stop offset="0.815" stop-color="#ff7800"/><stop offset="0.835" stop-color="#ff8300"/><stop offset="0.856" stop-color="#f70"/><stop offset="0.882" stop-color="#ffb000"/><stop offset="0.896" stop-color="#ff9a00"/><stop offset="0.916" stop-color="#ffb400"/><stop offset="1" stop-color="#ffa400"/></linearGradient><linearGradient id="r159"><stop offset="0" stop-color="#06f"/><stop offset="0.092" stop-color="#0074ff"/><stop offset="0.102" stop-color="#008bff"/><stop offset="0.118" stop-color="#00d9ff"/><stop offset="0.124" stop-color="#07eef0"/><stop offset="0.132" stop-color="#10fae6"/><stop offset="0.142" stop-color="#04eaf3"/><stop offset="0.146" stop-color="#00daff"/><stop offset="0.159" stop-color="#0097ff"/><stop offset="0.165" stop-color="#007fff"/><stop offset="0.177" stop-color="#006cff"/><stop offset="0.183" stop-color="#0071ff"/><stop offset="0.189" stop-color="#0081ff"/><stop offset="0.205" stop-color="#00d1ff"/><stop offset="0.211" stop-color="#00dffc"/><stop offset="0.217" stop-color="#00d6ff"/><stop offset="0.231" stop-color="#00acff"/><stop offset="0.256" stop-color="#008eff"/><stop offset="0.276" stop-color="#00caff"/><stop offset="0.3" stop-color="#00e6f7"/><stop offset="0.326" stop-color="#15ffe2"/><stop offset="0.405" stop-color="#3fffb8"/><stop offset="0.613" stop-color="#edff09"/><stop offset="0.633" stop-color="#ffed00"/><stop offset="0.656" stop-color="#ffdc00"/><stop offset="0.684" stop-color="#ffe200"/><stop offset="0.696" stop-color="#fd0"/><stop offset="0.732" stop-color="#ffc200"/><stop offset="0.793" stop-color="#ff7e00"/><stop offset="0.847" stop-color="#ff6800"/><stop offset="0.86" stop-color="#ff7200"/><stop offset="0.88" stop-color="#ffa400"/><stop offset="0.898" stop-color="#ff9500"/><stop offset="0.914" stop-color="#ffb600"/><stop offset="1" stop-color="#ffa700"/></linearGradient><linearGradient id="r160"><stop offset="0" stop-color="#0067ff"/><stop offset="0.078" stop-color="#006cff"/><stop offset="0.092" stop-color="#0073ff"/><stop offset="0.102" stop-color="#008dff"/><stop offset="0.116" stop-color="#00d7ff"/><stop offset="0.12" stop-color="#02e7f5"/><stop offset="0.128" stop-color="#0df6ea"/><stop offset="0.14" stop-color="#00e2f9"/><stop offset="0.142" stop-color="#00dcff"/><stop offset="0.163" stop-color="#0081ff"/><stop offset="0.177" stop-color="#006bff"/><stop offset="0.189" stop-color="#007aff"/><stop offset="0.209" stop-color="#00c0ff"/><stop offset="0.215" stop-color="#00bfff"/><stop offset="0.229" stop-color="#00a0ff"/><stop offset="0.256" stop-color="#0081ff"/><stop offset="0.278" stop-color="#00bdff"/><stop offset="0.304" stop-color="#00dcff"/><stop offset="0.344" stop-color="#15ffe2"/><stop offset="0.405" stop-color="#38ffbf"/><stop offset="0.617" stop-color="#efff08"/><stop offset="0.637" stop-color="#ffec00"/><stop offset="0.656" stop-color="#ffdf00"/><stop offset="0.696" stop-color="#fd0"/><stop offset="0.732" stop-color="#ffc200"/><stop offset="0.787" stop-color="#ff8600"/><stop offset="0.819" stop-color="#ff8200"/><stop offset="0.845" stop-color="#ff6700"/><stop offset="0.858" stop-color="#ff7300"/><stop offset="0.876" stop-color="#ffa400"/><stop offset="0.882" stop-color="#ffac00"/><stop offset="0.896" stop-color="#ff9800"/><stop offset="0.916" stop-color="#ffb900"/><stop offset="1" stop-color="#ffa900"/></linearGradient><linearGradient id="r161"><stop offset="0" stop-color="#0068ff"/><stop offset="0.09" stop-color="#0070ff"/><stop offset="0.1" stop-color="#0083ff"/><stop offset="0.118" stop-color="#00d5ff"/><stop offset="0.126" stop-color="#00e2f9"/><stop offset="0.138" stop-color="#00cdff"/><stop offset="0.161" stop-color="#007eff"/><stop offset="0.173" stop-color="#006aff"/><stop offset="0.187" stop-color="#006eff"/><stop offset="0.205" stop-color="#09f"/><stop offset="0.211" stop-color="#00a1ff"/><stop offset="0.256" stop-color="#0073ff"/><stop offset="0.26" stop-color="#0078ff"/><stop offset="0.272" stop-color="#009cff"/><stop offset="0.282" stop-color="#00acff"/><stop offset="0.322" stop-color="#00daff"/><stop offset="0.338" stop-color="#01e6f6"/><stop offset="0.373" stop-color="#15ffe2"/><stop offset="0.468" stop-color="#5bff9c"/><stop offset="0.567" stop-color="#b5ff42"/><stop offset="0.652" stop-color="#ecff0a"/><stop offset="0.684" stop-color="#e5ff12"/><stop offset="0.702" stop-color="#f0fe07"/><stop offset="0.718" stop-color="#ffeb00"/><stop offset="0.783" stop-color="#ff9a00"/><stop offset="0.795" stop-color="#ff9500"/><stop offset="0.817" stop-color="#ffa200"/><stop offset="0.845" stop-color="#ff7400"/><stop offset="0.856" stop-color="#ff7f00"/><stop offset="0.872" stop-color="#ffb000"/><stop offset="0.88" stop-color="#ffbf00"/><stop offset="0.884" stop-color="#ffbe00"/><stop offset="0.898" stop-color="#ffa300"/><stop offset="0.916" stop-color="#fb0"/><stop offset="1" stop-color="#ffac00"/></linearGradient><linearGradient id="r162"><stop offset="0" stop-color="#0068ff"/><stop offset="0.09" stop-color="#006eff"/><stop offset="0.1" stop-color="#007dff"/><stop offset="0.116" stop-color="#00b7ff"/><stop offset="0.124" stop-color="#00c4ff"/><stop offset="0.132" stop-color="#0bf"/><stop offset="0.159" stop-color="#0078ff"/><stop offset="0.171" stop-color="#0067ff"/><stop offset="0.185" stop-color="#06f"/><stop offset="0.211" stop-color="#0084ff"/><stop offset="0.258" stop-color="#0068ff"/><stop offset="0.276" stop-color="#008cff"/><stop offset="0.32" stop-color="#00beff"/><stop offset="0.359" stop-color="#00dcff"/><stop offset="0.373" stop-color="#00e6f6"/><stop offset="0.407" stop-color="#16ffe1"/><stop offset="0.5" stop-color="#5cff9a"/><stop offset="0.563" stop-color="#99ff5e"/><stop offset="0.603" stop-color="#b2ff45"/><stop offset="0.652" stop-color="#c6ff31"/><stop offset="0.69" stop-color="#bcff3a"/><stop offset="0.728" stop-color="#effe08"/><stop offset="0.738" stop-color="#ffec00"/><stop offset="0.757" stop-color="#ffcb00"/><stop offset="0.787" stop-color="#ffaf00"/><stop offset="0.795" stop-color="#ffaf00"/><stop offset="0.811" stop-color="#ffc500"/><stop offset="0.817" stop-color="#ffc600"/><stop offset="0.823" stop-color="#ffbd00"/><stop offset="0.839" stop-color="#ff9000"/><stop offset="0.845" stop-color="#ff8900"/><stop offset="0.854" stop-color="#ff9100"/><stop offset="0.872" stop-color="#fc0"/><stop offset="0.88" stop-color="#ffd800"/><stop offset="0.9" stop-color="#ffb100"/><stop offset="0.916" stop-color="#ffbe00"/><stop offset="1" stop-color="#ffae00"/></linearGradient><linearGradient id="r163"><stop offset="0" stop-color="#0069ff"/><stop offset="0.09" stop-color="#006cff"/><stop offset="0.1" stop-color="#0076ff"/><stop offset="0.116" stop-color="#009dff"/><stop offset="0.124" stop-color="#00a4ff"/><stop offset="0.159" stop-color="#006fff"/><stop offset="0.173" stop-color="#0064ff"/><stop offset="0.185" stop-color="#0062ff"/><stop offset="0.213" stop-color="#0070ff"/><stop offset="0.241" stop-color="#006dff"/><stop offset="0.258" stop-color="#0060ff"/><stop offset="0.32" stop-color="#00a5ff"/><stop offset="0.391" stop-color="#00dbff"/><stop offset="0.405" stop-color="#00e6f7"/><stop offset="0.437" stop-color="#15ffe2"/><stop offset="0.502" stop-color="#42ffb5"/><stop offset="0.563" stop-color="#7dff7a"/><stop offset="0.603" stop-color="#94ff62"/><stop offset="0.652" stop-color="#a7ff4f"/><stop offset="0.688" stop-color="#9fff58"/><stop offset="0.706" stop-color="#b4ff43"/><stop offset="0.736" stop-color="#ecff0b"/><stop offset="0.746" stop-color="#ffec00"/><stop offset="0.759" stop-color="#ffd700"/><stop offset="0.789" stop-color="#ffc400"/><stop offset="0.797" stop-color="#ffc800"/><stop offset="0.811" stop-color="#ffe200"/><stop offset="0.817" stop-color="#ffe500"/><stop offset="0.823" stop-color="#ffda00"/><stop offset="0.839" stop-color="#ffa600"/><stop offset="0.845" stop-color="#ff9d00"/><stop offset="0.854" stop-color="#ffa600"/><stop offset="0.87" stop-color="#ffdf00"/><stop offset="0.878" stop-color="#feed00"/><stop offset="0.884" stop-color="#ffe700"/><stop offset="0.9" stop-color="#ffbc00"/><stop offset="0.916" stop-color="#ffc100"/><stop offset="1" stop-color="#ffb100"/></linearGradient><linearGradient id="r164"><stop offset="0" stop-color="#006aff"/><stop offset="0.09" stop-color="#006cff"/><stop offset="0.124" stop-color="#008cff"/><stop offset="0.177" stop-color="#0062ff"/><stop offset="0.239" stop-color="#0074ff"/><stop offset="0.26" stop-color="#0065ff"/><stop offset="0.322" stop-color="#009aff"/><stop offset="0.413" stop-color="#00daff"/><stop offset="0.429" stop-color="#00e6f7"/><stop offset="0.466" stop-color="#15ffe2"/><stop offset="0.502" stop-color="#2bffcc"/><stop offset="0.563" stop-color="#64ff93"/><stop offset="0.607" stop-color="#82ff75"/><stop offset="0.654" stop-color="#98ff5f"/><stop offset="0.688" stop-color="#93ff63"/><stop offset="0.706" stop-color="#aaff4d"/><stop offset="0.74" stop-color="#edff0a"/><stop offset="0.751" stop-color="#ffeb00"/><stop offset="0.761" stop-color="#fd0"/><stop offset="0.791" stop-color="#ffd300"/><stop offset="0.799" stop-color="#ffdb00"/><stop offset="0.807" stop-color="#feed00"/><stop offset="0.817" stop-color="#f4f903"/><stop offset="0.823" stop-color="#fdee00"/><stop offset="0.839" stop-color="#ffb600"/><stop offset="0.847" stop-color="#ffac00"/><stop offset="0.856" stop-color="#fb0"/><stop offset="0.868" stop-color="#ffe900"/><stop offset="0.872" stop-color="#f7f500"/><stop offset="0.878" stop-color="#f1fc05"/><stop offset="0.888" stop-color="#ffe700"/><stop offset="0.896" stop-color="#fc0"/><stop offset="0.902" stop-color="#ffc300"/><stop offset="1" stop-color="#ffb300"/></linearGradient><linearGradient id="r165"><stop offset="0" stop-color="#006bff"/><stop offset="0.09" stop-color="#006dff"/><stop offset="0.128" stop-color="#0081ff"/><stop offset="0.183" stop-color="#0064ff"/><stop offset="0.215" stop-color="#006fff"/><stop offset="0.239" stop-color="#008bff"/><stop offset="0.262" stop-color="#0076ff"/><stop offset="0.322" stop-color="#00a4ff"/><stop offset="0.415" stop-color="#00dbff"/><stop offset="0.433" stop-color="#00e5f7"/><stop offset="0.478" stop-color="#15ffe2"/><stop offset="0.506" stop-color="#24ffd3"/><stop offset="0.603" stop-color="#76ff81"/><stop offset="0.649" stop-color="#92ff65"/><stop offset="0.688" stop-color="#90ff66"/><stop offset="0.706" stop-color="#a8ff4f"/><stop offset="0.742" stop-color="#efff08"/><stop offset="0.751" stop-color="#feed00"/><stop offset="0.761" stop-color="#ffe000"/><stop offset="0.791" stop-color="#ffda00"/><stop offset="0.803" stop-color="#ffeb00"/><stop offset="0.811" stop-color="#f0fe07"/><stop offset="0.819" stop-color="#eeff09"/><stop offset="0.827" stop-color="#ffe900"/><stop offset="0.839" stop-color="#ffbe00"/><stop offset="0.847" stop-color="#ffb400"/><stop offset="0.856" stop-color="#ffc200"/><stop offset="0.866" stop-color="#ffe900"/><stop offset="0.872" stop-color="#f0fd06"/><stop offset="0.88" stop-color="#edff0a"/><stop offset="0.888" stop-color="#ffec00"/><stop offset="0.896" stop-color="#ffd000"/><stop offset="0.902" stop-color="#ffc700"/><stop offset="1" stop-color="#ffb500"/></linearGradient><linearGradient id="r166"><stop offset="0" stop-color="#006cff"/><stop offset="0.094" stop-color="#006fff"/><stop offset="0.138" stop-color="#008aff"/><stop offset="0.167" stop-color="#006eff"/><stop offset="0.183" stop-color="#0069ff"/><stop offset="0.215" stop-color="#007bff"/><stop offset="0.239" stop-color="#00afff"/><stop offset="0.245" stop-color="#00abff"/><stop offset="0.258" stop-color="#0090ff"/><stop offset="0.264" stop-color="#008dff"/><stop offset="0.322" stop-color="#00bdff"/><stop offset="0.383" stop-color="#00dbff"/><stop offset="0.403" stop-color="#00e6f6"/><stop offset="0.454" stop-color="#15ffe2"/><stop offset="0.504" stop-color="#2affcd"/><stop offset="0.603" stop-color="#77ff80"/><stop offset="0.649" stop-color="#92ff65"/><stop offset="0.688" stop-color="#90ff67"/><stop offset="0.706" stop-color="#a8ff4f"/><stop offset="0.742" stop-color="#efff08"/><stop offset="0.753" stop-color="#ffe900"/><stop offset="0.761" stop-color="#ffe100"/><stop offset="0.791" stop-color="#ffda00"/><stop offset="0.803" stop-color="#ffeb00"/><stop offset="0.811" stop-color="#f0fd07"/><stop offset="0.819" stop-color="#eeff08"/><stop offset="0.827" stop-color="#ffe900"/><stop offset="0.839" stop-color="#ffbe00"/><stop offset="0.847" stop-color="#ffb500"/><stop offset="0.856" stop-color="#ffc300"/><stop offset="0.866" stop-color="#ffe900"/><stop offset="0.872" stop-color="#f1fc06"/><stop offset="0.88" stop-color="#edff0a"/><stop offset="0.888" stop-color="#ffec00"/><stop offset="0.896" stop-color="#ffd100"/><stop offset="0.902" stop-color="#ffc800"/><stop offset="1" stop-color="#ffb600"/></linearGradient><linearGradient id="r167"><stop offset="0" stop-color="#006dff"/><stop offset="0.096" stop-color="#0072ff"/><stop offset="0.14" stop-color="#00a2ff"/><stop offset="0.148" stop-color="#09f"/><stop offset="0.167" stop-color="#0075ff"/><stop offset="0.183" stop-color="#006eff"/><stop offset="0.215" stop-color="#0089ff"/><stop offset="0.239" stop-color="#00d8ff"/><stop offset="0.245" stop-color="#00d2ff"/><stop offset="0.258" stop-color="#00a8ff"/><stop offset="0.264" stop-color="#00a4ff"/><stop offset="0.322" stop-color="#00d8ff"/><stop offset="0.351" stop-color="#00e6f7"/><stop offset="0.403" stop-color="#15ffe2"/><stop offset="0.502" stop-color="#3effb9"/><stop offset="0.633" stop-color="#90ff67"/><stop offset="0.656" stop-color="#98ff5e"/><stop offset="0.686" stop-color="#91ff66"/><stop offset="0.706" stop-color="#aaff4d"/><stop offset="0.74" stop-color="#ecff0a"/><stop offset="0.751" stop-color="#ffec00"/><stop offset="0.761" stop-color="#ffdf00"/><stop offset="0.791" stop-color="#ffd500"/><stop offset="0.807" stop-color="#ffec00"/><stop offset="0.817" stop-color="#f5f701"/><stop offset="0.823" stop-color="#feed00"/><stop offset="0.839" stop-color="#ffb900"/><stop offset="0.847" stop-color="#ffb000"/><stop offset="0.856" stop-color="#ffbe00"/><stop offset="0.868" stop-color="#ffe900"/><stop offset="0.872" stop-color="#f8f500"/><stop offset="0.878" stop-color="#f3fa04"/><stop offset="0.886" stop-color="#feed00"/><stop offset="0.896" stop-color="#ffce00"/><stop offset="0.902" stop-color="#ffc700"/><stop offset="1" stop-color="#ffb800"/></linearGradient><linearGradient id="r168"><stop offset="0" stop-color="#006eff"/><stop offset="0.096" stop-color="#0076ff"/><stop offset="0.108" stop-color="#0084ff"/><stop offset="0.13" stop-color="#00b7ff"/><stop offset="0.138" stop-color="#00c2ff"/><stop offset="0.146" stop-color="#00b9ff"/><stop offset="0.167" stop-color="#007cff"/><stop offset="0.183" stop-color="#0073ff"/><stop offset="0.215" stop-color="#0096ff"/><stop offset="0.221" stop-color="#00a9ff"/><stop offset="0.229" stop-color="#00d3ff"/><stop offset="0.235" stop-color="#09f1ed"/><stop offset="0.241" stop-color="#12fce5"/><stop offset="0.245" stop-color="#0af2ec"/><stop offset="0.252" stop-color="#00d3ff"/><stop offset="0.258" stop-color="#00b9ff"/><stop offset="0.262" stop-color="#00b4ff"/><stop offset="0.302" stop-color="#00dbff"/><stop offset="0.322" stop-color="#07eef0"/><stop offset="0.357" stop-color="#15ffe2"/><stop offset="0.502" stop-color="#59ff9e"/><stop offset="0.605" stop-color="#96ff61"/><stop offset="0.654" stop-color="#a4ff52"/><stop offset="0.686" stop-color="#9cff5b"/><stop offset="0.706" stop-color="#b3ff43"/><stop offset="0.738" stop-color="#efff08"/><stop offset="0.748" stop-color="#ffea00"/><stop offset="0.759" stop-color="#ffda00"/><stop offset="0.791" stop-color="#ffca00"/><stop offset="0.817" stop-color="#ffe500"/><stop offset="0.823" stop-color="#ffdb00"/><stop offset="0.839" stop-color="#ffae00"/><stop offset="0.845" stop-color="#ffa600"/><stop offset="0.854" stop-color="#ffaf00"/><stop offset="0.87" stop-color="#ffe100"/><stop offset="0.878" stop-color="#feed00"/><stop offset="0.884" stop-color="#ffe700"/><stop offset="0.9" stop-color="#ffc500"/><stop offset="0.916" stop-color="#ffc900"/><stop offset="1" stop-color="#ffb900"/></linearGradient><linearGradient id="r169"><stop offset="0" stop-color="#006eff"/><stop offset="0.094" stop-color="#0078ff"/><stop offset="0.106" stop-color="#008dff"/><stop offset="0.13" stop-color="#00d9ff"/><stop offset="0.138" stop-color="#00e4f8"/><stop offset="0.146" stop-color="#00d5ff"/><stop offset="0.165" stop-color="#0087ff"/><stop offset="0.175" stop-color="#0076ff"/><stop offset="0.183" stop-color="#0076ff"/><stop offset="0.205" stop-color="#008cff"/><stop offset="0.215" stop-color="#009eff"/><stop offset="0.221" stop-color="#00b4ff"/><stop offset="0.227" stop-color="#00d5ff"/><stop offset="0.229" stop-color="#00e2fa"/><stop offset="0.235" stop-color="#19ffde"/><stop offset="0.241" stop-color="#22ffd5"/><stop offset="0.245" stop-color="#18ffdf"/><stop offset="0.252" stop-color="#00defd"/><stop offset="0.258" stop-color="#00bfff"/><stop offset="0.262" stop-color="#00baff"/><stop offset="0.288" stop-color="#00dbff"/><stop offset="0.298" stop-color="#00e5f7"/><stop offset="0.328" stop-color="#15ffe2"/><stop offset="0.403" stop-color="#37ffc0"/><stop offset="0.603" stop-color="#aeff49"/><stop offset="0.652" stop-color="#b9ff3e"/><stop offset="0.686" stop-color="#b3ff44"/><stop offset="0.728" stop-color="#eeff09"/><stop offset="0.74" stop-color="#ffeb00"/><stop offset="0.757" stop-color="#ffd200"/><stop offset="0.787" stop-color="#fb0"/><stop offset="0.817" stop-color="#fc0"/><stop offset="0.845" stop-color="#ff9a00"/><stop offset="0.854" stop-color="#ffa200"/><stop offset="0.87" stop-color="#ffd000"/><stop offset="0.878" stop-color="#ffdc00"/><stop offset="0.884" stop-color="#ffd900"/><stop offset="0.898" stop-color="#ffc000"/><stop offset="0.916" stop-color="#ffca00"/><stop offset="1" stop-color="#fb0"/></linearGradient><linearGradient id="r170"><stop offset="0" stop-color="#006fff"/><stop offset="0.092" stop-color="#0079ff"/><stop offset="0.104" stop-color="#0092ff"/><stop offset="0.12" stop-color="#00d9ff"/><stop offset="0.128" stop-color="#0af2ec"/><stop offset="0.136" stop-color="#13fde4"/><stop offset="0.144" stop-color="#06edf0"/><stop offset="0.148" stop-color="#00dbff"/><stop offset="0.159" stop-color="#00a3ff"/><stop offset="0.165" stop-color="#008bff"/><stop offset="0.179" stop-color="#0076ff"/><stop offset="0.203" stop-color="#008aff"/><stop offset="0.215" stop-color="#009fff"/><stop offset="0.221" stop-color="#00b4ff"/><stop offset="0.227" stop-color="#00d5ff"/><stop offset="0.229" stop-color="#00e2fa"/><stop offset="0.235" stop-color="#18ffdf"/><stop offset="0.241" stop-color="#20ffd7"/><stop offset="0.245" stop-color="#15ffe1"/><stop offset="0.249" stop-color="#01e7f6"/><stop offset="0.252" stop-color="#00d9ff"/><stop offset="0.256" stop-color="#00c1ff"/><stop offset="0.26" stop-color="#00b6ff"/><stop offset="0.286" stop-color="#00dcfe"/><stop offset="0.296" stop-color="#01e7f6"/><stop offset="0.32" stop-color="#15ffe2"/><stop offset="0.403" stop-color="#3fffb8"/><stop offset="0.601" stop-color="#c3ff34"/><stop offset="0.684" stop-color="#cfff27"/><stop offset="0.71" stop-color="#effe08"/><stop offset="0.724" stop-color="#ffeb00"/><stop offset="0.787" stop-color="#ffad00"/><stop offset="0.819" stop-color="#ffb100"/><stop offset="0.843" stop-color="#ff9000"/><stop offset="0.852" stop-color="#ff9400"/><stop offset="0.872" stop-color="#ffc300"/><stop offset="0.88" stop-color="#ffcb00"/><stop offset="0.896" stop-color="#fb0"/><stop offset="0.916" stop-color="#fc0"/><stop offset="1" stop-color="#ffbc00"/></linearGradient><linearGradient id="r171"><stop offset="0" stop-color="#0070ff"/><stop offset="0.092" stop-color="#007aff"/><stop offset="0.102" stop-color="#0092ff"/><stop offset="0.116" stop-color="#00dbff"/><stop offset="0.126" stop-color="#15ffe2"/><stop offset="0.134" stop-color="#1affdd"/><stop offset="0.14" stop-color="#12fbe5"/><stop offset="0.148" stop-color="#00daff"/><stop offset="0.163" stop-color="#0090ff"/><stop offset="0.171" stop-color="#007cff"/><stop offset="0.179" stop-color="#0075ff"/><stop offset="0.203" stop-color="#0087ff"/><stop offset="0.215" stop-color="#09f"/><stop offset="0.223" stop-color="#00b4ff"/><stop offset="0.231" stop-color="#00dcfe"/><stop offset="0.239" stop-color="#0ef7e9"/><stop offset="0.243" stop-color="#0af2ed"/><stop offset="0.249" stop-color="#00d2ff"/><stop offset="0.256" stop-color="#00b0ff"/><stop offset="0.26" stop-color="#00a8ff"/><stop offset="0.276" stop-color="#00c9ff"/><stop offset="0.292" stop-color="#00dbff"/><stop offset="0.302" stop-color="#01e6f6"/><stop offset="0.328" stop-color="#15ffe1"/><stop offset="0.403" stop-color="#3effb9"/><stop offset="0.601" stop-color="#ceff29"/><stop offset="0.682" stop-color="#e1ff16"/><stop offset="0.694" stop-color="#efff08"/><stop offset="0.706" stop-color="#ffeb00"/><stop offset="0.787" stop-color="#ffa500"/><stop offset="0.817" stop-color="#ff9f00"/><stop offset="0.843" stop-color="#ff8a00"/><stop offset="0.854" stop-color="#ff9200"/><stop offset="0.876" stop-color="#fb0"/><stop offset="0.896" stop-color="#ffb700"/><stop offset="0.914" stop-color="#ffcd00"/><stop offset="1" stop-color="#ffbe00"/></linearGradient><linearGradient id="r172"><stop offset="0" stop-color="#0071ff"/><stop offset="0.078" stop-color="#0073ff"/><stop offset="0.092" stop-color="#007aff"/><stop offset="0.102" stop-color="#0095ff"/><stop offset="0.114" stop-color="#00d6ff"/><stop offset="0.122" stop-color="#0ef7e9"/><stop offset="0.128" stop-color="#14ffe3"/><stop offset="0.14" stop-color="#04eaf3"/><stop offset="0.144" stop-color="#00dbff"/><stop offset="0.159" stop-color="#0098ff"/><stop offset="0.165" stop-color="#0084ff"/><stop offset="0.179" stop-color="#0073ff"/><stop offset="0.215" stop-color="#008eff"/><stop offset="0.223" stop-color="#00a2ff"/><stop offset="0.235" stop-color="#00cdff"/><stop offset="0.239" stop-color="#00d3ff"/><stop offset="0.243" stop-color="#00cfff"/><stop offset="0.254" stop-color="#00a1ff"/><stop offset="0.26" stop-color="#0095ff"/><stop offset="0.28" stop-color="#00bdff"/><stop offset="0.306" stop-color="#00dbff"/><stop offset="0.346" stop-color="#14ffe2"/><stop offset="0.405" stop-color="#36ffc0"/><stop offset="0.601" stop-color="#caff2d"/><stop offset="0.682" stop-color="#dcff1b"/><stop offset="0.698" stop-color="#effe07"/><stop offset="0.71" stop-color="#ffec00"/><stop offset="0.789" stop-color="#ffa500"/><stop offset="0.841" stop-color="#ff8a00"/><stop offset="0.852" stop-color="#ff8f00"/><stop offset="0.878" stop-color="#ffb700"/><stop offset="0.896" stop-color="#ffb600"/><stop offset="0.914" stop-color="#ffce00"/><stop offset="1" stop-color="#ffbf00"/></linearGradient><linearGradient id="r173"><stop offset="0" stop-color="#0071ff"/><stop offset="0.09" stop-color="#07f"/><stop offset="0.102" stop-color="#0091ff"/><stop offset="0.118" stop-color="#00dcfe"/><stop offset="0.126" stop-color="#03e9f4"/><stop offset="0.138" stop-color="#00d2ff"/><stop offset="0.161" stop-color="#0086ff"/><stop offset="0.173" stop-color="#0073ff"/><stop offset="0.183" stop-color="#0070ff"/><stop offset="0.213" stop-color="#007eff"/><stop offset="0.239" stop-color="#00acff"/><stop offset="0.245" stop-color="#00a4ff"/><stop offset="0.256" stop-color="#0083ff"/><stop offset="0.26" stop-color="#0081ff"/><stop offset="0.276" stop-color="#00a1ff"/><stop offset="0.318" stop-color="#00d3ff"/><stop offset="0.34" stop-color="#00e5f7"/><stop offset="0.377" stop-color="#15ffe1"/><stop offset="0.601" stop-color="#b9ff3d"/><stop offset="0.686" stop-color="#c5ff32"/><stop offset="0.716" stop-color="#edff0a"/><stop offset="0.73" stop-color="#ffec00"/><stop offset="0.755" stop-color="#ffcd00"/><stop offset="0.799" stop-color="#ffa600"/><stop offset="0.841" stop-color="#ff9000"/><stop offset="0.852" stop-color="#ff9400"/><stop offset="0.878" stop-color="#ffb700"/><stop offset="0.896" stop-color="#ffb900"/><stop offset="0.914" stop-color="#ffd000"/><stop offset="1" stop-color="#ffc100"/></linearGradient><linearGradient id="r174"><stop offset="0" stop-color="#0072ff"/><stop offset="0.09" stop-color="#0076ff"/><stop offset="0.1" stop-color="#0085ff"/><stop offset="0.116" stop-color="#00bdff"/><stop offset="0.124" stop-color="#00c9ff"/><stop offset="0.132" stop-color="#00c0ff"/><stop offset="0.159" stop-color="#0080ff"/><stop offset="0.171" stop-color="#0071ff"/><stop offset="0.211" stop-color="#0072ff"/><stop offset="0.239" stop-color="#008aff"/><stop offset="0.26" stop-color="#006fff"/><stop offset="0.276" stop-color="#008aff"/><stop offset="0.318" stop-color="#00b9ff"/><stop offset="0.361" stop-color="#00daff"/><stop offset="0.375" stop-color="#00e5f7"/><stop offset="0.409" stop-color="#15ffe1"/><stop offset="0.5" stop-color="#54ffa3"/><stop offset="0.563" stop-color="#8cff6b"/><stop offset="0.601" stop-color="#a1ff55"/><stop offset="0.652" stop-color="#adff4a"/><stop offset="0.686" stop-color="#a8ff4f"/><stop offset="0.704" stop-color="#beff39"/><stop offset="0.732" stop-color="#eeff09"/><stop offset="0.744" stop-color="#ffea00"/><stop offset="0.757" stop-color="#ffd700"/><stop offset="0.813" stop-color="#ffa300"/><stop offset="0.841" stop-color="#f90"/><stop offset="0.852" stop-color="#ff9d00"/><stop offset="0.88" stop-color="#ffbc00"/><stop offset="0.896" stop-color="#ffbe00"/><stop offset="0.914" stop-color="#ffd200"/><stop offset="1" stop-color="#ffc200"/></linearGradient><linearGradient id="r175"><stop offset="0" stop-color="#0073ff"/><stop offset="0.09" stop-color="#0076ff"/><stop offset="0.1" stop-color="#007fff"/><stop offset="0.118" stop-color="#00a6ff"/><stop offset="0.124" stop-color="#0af"/><stop offset="0.157" stop-color="#007aff"/><stop offset="0.171" stop-color="#006eff"/><stop offset="0.211" stop-color="#006bff"/><stop offset="0.239" stop-color="#0074ff"/><stop offset="0.26" stop-color="#0064ff"/><stop offset="0.322" stop-color="#00a4ff"/><stop offset="0.393" stop-color="#00dbff"/><stop offset="0.407" stop-color="#00e6f7"/><stop offset="0.441" stop-color="#15ffe2"/><stop offset="0.502" stop-color="#3cffbb"/><stop offset="0.563" stop-color="#73ff83"/><stop offset="0.603" stop-color="#8bff6c"/><stop offset="0.654" stop-color="#9dff5a"/><stop offset="0.688" stop-color="#98ff5f"/><stop offset="0.706" stop-color="#afff48"/><stop offset="0.738" stop-color="#ecff0b"/><stop offset="0.748" stop-color="#feed00"/><stop offset="0.757" stop-color="#ffdf00"/><stop offset="0.785" stop-color="#ffce00"/><stop offset="0.815" stop-color="#ffab00"/><stop offset="0.841" stop-color="#ffa200"/><stop offset="0.914" stop-color="#ffd300"/><stop offset="1" stop-color="#ffc300"/></linearGradient><linearGradient id="r176"><stop offset="0" stop-color="#0074ff"/><stop offset="0.09" stop-color="#0075ff"/><stop offset="0.122" stop-color="#0092ff"/><stop offset="0.177" stop-color="#006cff"/><stop offset="0.239" stop-color="#006eff"/><stop offset="0.26" stop-color="#0067ff"/><stop offset="0.322" stop-color="#009bff"/><stop offset="0.413" stop-color="#00daff"/><stop offset="0.429" stop-color="#00e5f7"/><stop offset="0.47" stop-color="#15ffe2"/><stop offset="0.504" stop-color="#29ffce"/><stop offset="0.563" stop-color="#5fff98"/><stop offset="0.607" stop-color="#7eff79"/><stop offset="0.654" stop-color="#95ff61"/><stop offset="0.688" stop-color="#91ff66"/><stop offset="0.706" stop-color="#a8ff4e"/><stop offset="0.74" stop-color="#ecff0b"/><stop offset="0.751" stop-color="#ffed00"/><stop offset="0.759" stop-color="#ffe100"/><stop offset="0.787" stop-color="#ffd400"/><stop offset="0.817" stop-color="#ffb000"/><stop offset="0.843" stop-color="#ffa800"/><stop offset="0.914" stop-color="#ffd500"/><stop offset="1" stop-color="#ffc500"/></linearGradient><linearGradient id="r177"><stop offset="0" stop-color="#0074ff"/><stop offset="0.09" stop-color="#0075ff"/><stop offset="0.122" stop-color="#0083ff"/><stop offset="0.181" stop-color="#006dff"/><stop offset="0.258" stop-color="#0076ff"/><stop offset="0.322" stop-color="#00a8ff"/><stop offset="0.411" stop-color="#00dbff"/><stop offset="0.429" stop-color="#00e5f7"/><stop offset="0.476" stop-color="#15ffe2"/><stop offset="0.504" stop-color="#22ffd4"/><stop offset="0.601" stop-color="#73ff84"/><stop offset="0.649" stop-color="#91ff65"/><stop offset="0.688" stop-color="#90ff67"/><stop offset="0.706" stop-color="#a7ff4f"/><stop offset="0.742" stop-color="#efff08"/><stop offset="0.753" stop-color="#ffe900"/><stop offset="0.787" stop-color="#ffd600"/><stop offset="0.817" stop-color="#ffb300"/><stop offset="0.843" stop-color="#fa0"/><stop offset="0.914" stop-color="#ffd600"/><stop offset="1" stop-color="#ffc600"/></linearGradient><linearGradient id="r178"><stop offset="0" stop-color="#0073ff"/><stop offset="0.124" stop-color="#007cff"/><stop offset="0.185" stop-color="#0071ff"/><stop offset="0.26" stop-color="#008cff"/><stop offset="0.32" stop-color="#00bfff"/><stop offset="0.377" stop-color="#00dbff"/><stop offset="0.399" stop-color="#00e6f6"/><stop offset="0.452" stop-color="#15ffe2"/><stop offset="0.504" stop-color="#2affcd"/><stop offset="0.603" stop-color="#76ff81"/><stop offset="0.652" stop-color="#92ff64"/><stop offset="0.688" stop-color="#90ff67"/><stop offset="0.706" stop-color="#a7ff4f"/><stop offset="0.742" stop-color="#efff08"/><stop offset="0.753" stop-color="#ffe900"/><stop offset="0.787" stop-color="#ffd600"/><stop offset="0.817" stop-color="#ffb300"/><stop offset="0.843" stop-color="#fa0"/><stop offset="0.914" stop-color="#ffd600"/><stop offset="1" stop-color="#ffc600"/></linearGradient><linearGradient id="r179"><stop offset="0" stop-color="#0073ff"/><stop offset="0.144" stop-color="#007bff"/><stop offset="0.183" stop-color="#0072ff"/><stop offset="0.258" stop-color="#0095ff"/><stop offset="0.32" stop-color="#00cbff"/><stop offset="0.353" stop-color="#00dbff"/><stop offset="0.377" stop-color="#00e6f6"/><stop offset="0.429" stop-color="#15ffe2"/><stop offset="0.504" stop-color="#31ffc5"/><stop offset="0.652" stop-color="#93ff64"/><stop offset="0.686" stop-color="#8eff68"/><stop offset="0.706" stop-color="#a7ff4f"/><stop offset="0.742" stop-color="#efff08"/><stop offset="0.753" stop-color="#ffe900"/><stop offset="0.787" stop-color="#ffd600"/><stop offset="0.817" stop-color="#ffb200"/><stop offset="0.843" stop-color="#fa0"/><stop offset="0.914" stop-color="#ffd600"/><stop offset="1" stop-color="#ffc600"/></linearGradient></defs>
<g shape-rendering="crispEdges"><rect x="101" y="121" width="495" height="2" fill="url(#r0)"/><rect x="101" y="123" width="495" height="2" fill="url(#r1)"/><rect x="101" y="125" width="495" height="2" fill="url(#r2)"/><rect x="101" y="127" width="495" height="2" fill="url(#r3)"/><rect x="101" y="129" width="495" height="2" fill="url(#r4)"/><rect x="101" y="131" width="495" height="2" fill="url(#r5)"/><rect x="101" y="133" width="495" height="2" fill="url(#r6)"/><rect x="101" y="135" width="495" height="2" fill="url(#r7)"/><rect x="101" y="137" width="495" height="2" fill="url(#r8)"/><rect x="101" y="139" width="495" height="2" fill="url(#r9)"/><rect x="101" y="141" width="495" height="2" fill="url(#r10)"/><rect x="101" y="143" width="495" height="2" fill="url(#r11)"/><rect x="101" y="145" width="495" height="2" fill="url(#r12)"/><rect x="101" y="147" width="495" height="2" fill="url(#r13)"/><rect x="101" y="149" width="495" height="2" fill="url(#r14)"/><rect x="101" y="151" width="495" height="2" fill="url(#r15)"/><rect x="101" y="153" width="495" height="2" fill="url(#r16)"/><rect x="101" y="155" width="495" height="2" fill="url(#r17)"/><rect x="101" y="157" width="495" height="2" fill="url(#r18)"/><rect x="101" y="159" width="495" height="2" fill="url(#r19)"/><rect x="101" y="161" width="495" height="2" fill="url(#r20)"/><rect x="101" y="163" width="495" height="2" fill="url(#r21)"/><rect x="101" y="165" width="495" height="2" fill="url(#r22)"/><rect x="101" y="167" width="495" height="2" fill="url(#r23)"/><rect x="101" y="169" width="495" height="2" fill="url(#r24)"/><rect x="101" y="171" width="495" height="2" fill="url(#r25)"/><rect x="101" y="173" width="495" height="2" fill="url(#r26)"/><rect x="101" y="175" width="495" height="2" fill="url(#r27)"/><rect x="101" y="177" width="495" height="2" fill="url(#r28)"/><rect x="101" y="179" width="495" height="2" fill="url(#r29)"/><rect x="101" y="181" width="495" height="2" fill="url(#r30)"/><rect x="101" y="183" width="495" height="2" fill="url(#r31)"/><rect x="101" y="185" width="495" height="2" fill="url(#r32)"/><rect x="101" y="187" width="495" height="2" fill="url(#r33)"/><rect x="101" y="189" width="495" height="2" fill="url(#r34)"/><rect x="101" y="191" width="495" height="2" fill="url(#r35)"/><rect x="101" y="193" width="495" height="2" fill="url(#r36)"/><rect x="101" y="195" width="495" height="2" fill="url(#r37)"/><rect x="101" y="197" width="495" height="2" fill="url(#r38)"/><rect x="101" y="199" width="495" height="2" fill="url(#r39)"/><rect x="101" y="201" width="495" height="2" fill="url(#r40)"/><rect x="101" y="203" width="495" height="2" fill="url(#r41)"/><rect x="101" y="205" width="495" height="2" fill="url(#r42)"/><rect x="101" y="207" width="495" height="2" fill="url(#r43)"/><rect x="101" y="209" width="495" height="2" fill="url(#r44)"/><rect x="101" y="211" width="495" height="2" fill="url(#r45)"/><rect x="101" y="213" width="495" height="2" fill="url(#r46)"/><rect x="101" y="215" width="495" height="2" fill="url(#r47)"/><rect x="101" y="217" width="495" height="2" fill="url(#r48)"/><rect x="101" y="219" width="495" height="2" fill="url(#r49)"/><rect x="101" y="221" width="495" height="2" fill="url(#r50)"/><rect x="101" y="223" width="495" height="2" fill="url(#r51)"/><rect x="101" y="225" width="495" height="2" fill="url(#r52)"/><rect x="101" y="227" width="495" height="2" fill="url(#r53)"/><rect x="101" y="229" width="495" height="2" fill="url(#r54)"/><rect x="101" y="231" width="495" height="2" fill="url(#r55)"/><rect x="101" y="233" width="495" height="2" fill="url(#r56)"/><rect x="101" y="235" width="495" height="2" fill="url(#r57)"/><rect x="101" y="237" width="495" height="2" fill="url(#r58)"/><rect x="101" y="239" width="495" height="2" fill="url(#r59)"/><rect x="101" y="241" width="495" height="2" fill="url(#r60)"/><rect x="101" y="243" width="495" height="2" fill="url(#r61)"/><rect x="101" y="245" width="495" height="2" fill="url(#r62)"/><rect x="101" y="247" width="495" height="2" fill="url(#r63)"/><rect x="101" y="249" width="495" height="2" fill="url(#r64)"/><rect x="101" y="251" width="495" height="2" fill="url(#r65)"/><rect x="101" y="253" width="495" height="2" fill="url(#r66)"/><rect x="101" y="255" width="495" height="2" fill="url(#r67)"/><rect x="101" y="257" width="495" height="2" fill="url(#r68)"/><rect x="101" y="259" width="495" height="2" fill="url(#r69)"/><rect x="101" y="261" width="495" height="2" fill="url(#r70)"/><rect x="101" y="263" width="495" height="2" fill="url(#r71)"/><rect x="101" y="265" width="495" height="2" fill="url(#r72)"/><rect x="101" y="267" width="495" height="2" fill="url(#r73)"/><rect x="101" y="269" width="495" height="2" fill="url(#r74)"/><rect x="101" y="271" width="495" height="2" fill="url(#r75)"/><rect x="101" y="273" width="495" height="2" fill="url(#r76)"/><rect x="101" y="275" width="495" height="2" fill="url(#r77)"/><rect x="101" y="277" width="495" height="2" fill="url(#r78)"/><rect x="101" y="279" width="495" height="2" fill="url(#r79)"/><rect x="101" y="281" width="495" height="2" fill="url(#r80)"/><rect x="101" y="283" width="495" height="2" fill="url(#r81)"/><rect x="101" y="285" width="495" height="2" fill="url(#r82)"/><rect x="101" y="287" width="495" height="2" fill="url(#r83)"/><rect x="101" y="289" width="495" height="2" fill="url(#r84)"/><rect x="101" y="291" width="495" height="2" fill="url(#r85)"/><rect x="101" y="293" width="495" height="2" fill="url(#r86)"/><rect x="101" y="295" width="495" height="2" fill="url(#r87)"/><rect x="101" y="297" width="495" height="2" fill="url(#r88)"/><rect x="101" y="299" width="495" height="2" fill="url(#r89)"/><rect x="101" y="301" width="495" height="2" fill="url(#r90)"/><rect x="101" y="303" width="495" height="2" fill="url(#r91)"/><rect x="101" y="305" width="495" height="2" fill="url(#r92)"/><rect x="101" y="307" width="495" height="2" fill="url(#r93)"/><rect x="101" y="309" width="495" height="2" fill="url(#r94)"/><rect x="101" y="311" width="495" height="2" fill="url(#r95)"/><rect x="101" y="313" width="495" height="2" fill="url(#r96)"/><rect x="101" y="315" width="495" height="2" fill="url(#r97)"/><rect x="101" y="317" width="495" height="2" fill="url(#r98)"/><rect x="101" y="319" width="495" height="2" fill="url(#r99)"/><rect x="101" y="321" width="495" height="2" fill="url(#r100)"/><rect x="101" y="323" width="495" height="2" fill="url(#r101)"/><rect x="101" y="325" width="495" height="2" fill="url(#r102)"/><rect x="101" y="327" width="495" height="2" fill="url(#r103)"/><rect x="101" y="329" width="495" height="2" fill="url(#r104)"/><rect x="101" y="331" width="495" height="2" fill="url(#r105)"/><rect x="101" y="333" width="495" height="2" fill="url(#r106)"/><rect x="101" y="335" width="495" height="2" fill="url(#r107)"/><rect x="101" y="337" width="495" height="2" fill="url(#r108)"/><rect x="101" y="339" width="495" height="2" fill="url(#r109)"/><rect x="101" y="341" width="495" height="2" fill="url(#r110)"/><rect x="101" y="343" width="495" height="2" fill="url(#r111)"/><rect x="101" y="345" width="495" height="2" fill="url(#r112)"/><rect x="101" y="347" width="495" height="2" fill="url(#r113)"/><rect x="101" y="349" width="495" height="2" fill="url(#r114)"/><rect x="101" y="351" width="495" height="2" fill="url(#r115)"/><rect x="101" y="353" width="495" height="2" fill="url(#r116)"/><rect x="101" y="355" width="495" height="2" fill="url(#r117)"/><rect x="101" y="357" width="495" height="2" fill="url(#r118)"/><rect x="101" y="359" width="495" height="2" fill="url(#r119)"/><rect x="101" y="361" width="495" height="2" fill="url(#r120)"/><rect x="101" y="363" width="495" height="2" fill="url(#r121)"/><rect x="101" y="365" width="495" height="2" fill="url(#r122)"/><rect x="101" y="367" width="495" height="2" fill="url(#r123)"/><rect x="101" y="369" width="495" height="2" fill="url(#r124)"/><rect x="101" y="371" width="495" height="2" fill="url(#r125)"/><rect x="101" y="373" width="495" height="2" fill="url(#r126)"/><rect x="101" y="375" width="495" height="2" fill="url(#r127)"/><rect x="101" y="377" width="495" height="2" fill="url(#r128)"/><rect x="101" y="379" width="495" height="2" fill="url(#r129)"/><rect x="101" y="381" width="495" height="2" fill="url(#r130)"/><rect x="101" y="383" width="495" height="2" fill="url(#r131)"/><rect x="101" y="385" width="495" height="2" fill="url(#r132)"/><rect x="101" y="387" width="495" height="2" fill="url(#r133)"/><rect x="101" y="389" width="495" height="2" fill="url(#r134)"/><rect x="101" y="391" width="495" height="2" fill="url(#r135)"/><rect x="101" y="393" width="495" height="2" fill="url(#r136)"/><rect x="101" y="395" width="495" height="2" fill="url(#r137)"/><rect x="101" y="397" width="495" height="2" fill="url(#r138)"/><rect x="101" y="399" width="495" height="2" fill="url(#r139)"/><rect x="101" y="401" width="495" height="2" fill="url(#r140)"/><rect x="101" y="403" width="495" height="2" fill="url(#r141)"/><rect x="101" y="405" width="495" height="2" fill="url(#r142)"/><rect x="101" y="407" width="495" height="2" fill="url(#r143)"/><rect x="101" y="409" width="495" height="2" fill="url(#r144)"/><rect x="101" y="411" width="495" height="2" fill="url(#r145)"/><rect x="101" y="413" width="495" height="2" fill="url(#r146)"/><rect x="101" y="415" width="495" height="2" fill="url(#r147)"/><rect x="101" y="417" width="495" height="2" fill="url(#r148)"/><rect x="101" y="419" width="495" height="2" fill="url(#r149)"/><rect x="101" y="421" width="495" height="2" fill="url(#r150)"/><rect x="101" y="423" width="495" height="2" fill="url(#r151)"/><rect x="101" y="425" width="495" height="2" fill="url(#r152)"/><rect x="101" y="427" width="495" height="2" fill="url(#r153)"/><rect x="101" y="429" width="495" height="2" fill="url(#r154)"/><rect x="101" y="431" width="495" height="2" fill="url(#r155)"/><rect x="101" y="433" width="495" height="2" fill="url(#r156)"/><rect x="101" y="435" width="495" height="2" fill="url(#r157)"/><rect x="101" y="437" width="495" height="2" fill="url(#r158)"/><rect x="101" y="439" width="495" height="2" fill="url(#r159)"/><rect x="101" y="441" width="495" height="2" fill="url(#r160)"/><rect x="101" y="443" width="495" height="2" fill="url(#r161)"/><rect x="101" y="445" width="495" height="2" fill="url(#r162)"/><rect x="101" y="447" width="495" height="2" fill="url(#r163)"/><rect x="101" y="449" width="495" height="2" fill="url(#r164)"/><rect x="101" y="451" width="495" height="2" fill="url(#r165)"/><rect x="101" y="453" width="495" height="2" fill="url(#r166)"/><rect x="101" y="455" width="495" height="2" fill="url(#r167)"/><rect x="101" y="457" width="495" height="2" fill="url(#r168)"/><rect x="101" y="459" width="495" height="2" fill="url(#r169)"/><rect x="101" y="461" width="495" height="2" fill="url(#r170)"/><rect x="101" y="463" width="495" height="2" fill="url(#r171)"/><rect x="101" y="465" width="495" height="2" fill="url(#r172)"/><rect x="101" y="467" width="495" height="2" fill="url(#r173)"/><rect x="101" y="469" width="495" height="2" fill="url(#r174)"/><rect x="101" y="471" width="495" height="2" fill="url(#r175)"/><rect x="101" y="473" width="495" height="2" fill="url(#r176)"/><rect x="101" y="475" width="495" height="2" fill="url(#r177)"/><rect x="101" y="477" width="495" height="2" fill="url(#r178)"/><rect x="101" y="479" width="495" height="1" fill="url(#r179)"/></g>
<path fill="#fff" fill-rule="evenodd" d="M100 120H597V481H100Z M104.0 144.0 L172.5 121.5 L539.0 121.5 L550.0 126.5 L562.0 131.5 L572.5 137.5 L579.5 145.0 L585.0 151.5 L589.5 158.5 L593.0 167.0 L593.5 180.0 L593.5 442.0 L590.0 445.0 L590.0 454.0 L587.5 456.0 L586.0 466.0 L570.0 466.5 L567.0 469.0 L542.0 470.0 L535.0 472.0 L507.0 472.5 L480.0 475.0 L460.0 476.5 L130.0 476.5 L115.0 474.0 L108.5 470.0 L107.5 456.0 L104.0 454.0 Z" filter="url(#soft)"/>
<circle cx="560.6" cy="155" r="29.3" fill="none" stroke="#bfbf00" stroke-width="1.4"/>
<g stroke="#000" stroke-width="1" fill="none" shape-rendering="crispEdges">
<rect x="100.5" y="120.5" width="496" height="360"/>
<path d="M114.5 121v5 M114.5 480v-5 M193.5 121v5 M193.5 480v-5 M273.5 121v5 M273.5 480v-5 M352.5 121v5 M352.5 480v-5 M432.5 121v5 M432.5 480v-5 M511.5 121v5 M511.5 480v-5 M591.5 121v5 M591.5 480v-5 M101 197.5h5 M596 197.5h-5 M101 277.5h5 M596 277.5h-5 M101 356.5h5 M596 356.5h-5 M101 436.5h5 M596 436.5h-5"/>
</g>
<rect x="628" y="61" width="23" height="479" fill="url(#jet)"/>
<g stroke="#000" stroke-width="1" fill="none" shape-rendering="crispEdges">
<rect x="627.5" y="60.5" width="24" height="480"/>
<path d="M651 511.5h-5 M651 456.5h-5 M651 402.5h-5 M651 347.5h-5 M651 292.5h-5 M651 238.5h-5 M651 183.5h-5 M651 128.5h-5 M651 74.5h-5"/>
</g>
<g font-family="'DejaVu Sans','Liberation Sans',sans-serif" font-size="16.67" fill="#000">
<text x="348.5" y="111.5" font-size="20" text-anchor="middle">jupiter, ID:145537 image (1395.0,YY)</text>
<text x="348.5" y="515.8" text-anchor="middle" letter-spacing=".11">Right Ascension (degrees)</text>
<text transform="translate(65 299.5) rotate(-90)" text-anchor="middle" letter-spacing=".12">Declination (degrees)</text>
<text transform="translate(708.5 299.5) rotate(-90)" text-anchor="middle" letter-spacing=".13">Power in Kelvin</text>
<g letter-spacing="-.4">
<text x="113.1" y="497" text-anchor="middle">111</text>
<text x="192.6" y="497" text-anchor="middle">110</text>
<text x="272.1" y="497" text-anchor="middle">109</text>
<text x="351.6" y="497" text-anchor="middle">108</text>
<text x="431.1" y="497" text-anchor="middle">107</text>
<text x="510.6" y="497" text-anchor="middle">106</text>
<text x="590.1" y="497" text-anchor="middle">105</text>
<text x="94" y="202.8" text-anchor="end">24</text>
<text x="94" y="282.3" text-anchor="end">23</text>
<text x="94" y="361.8" text-anchor="end">22</text>
<text x="94" y="441.3" text-anchor="end">21</text>
<text x="655" y="517.5">82.0</text>
<text x="655" y="462.8">82.5</text>
<text x="655" y="408.2">83.0</text>
<text x="655" y="353.5">83.5</text>
<text x="655" y="298.8">84.0</text>
<text x="655" y="244.1">84.5</text>
<text x="655" y="189.5">85.0</text>
<text x="655" y="134.8">85.5</text>
<text x="655" y="80.1">86.0</text>
</g>
</g>
</svg>
</body></html>
